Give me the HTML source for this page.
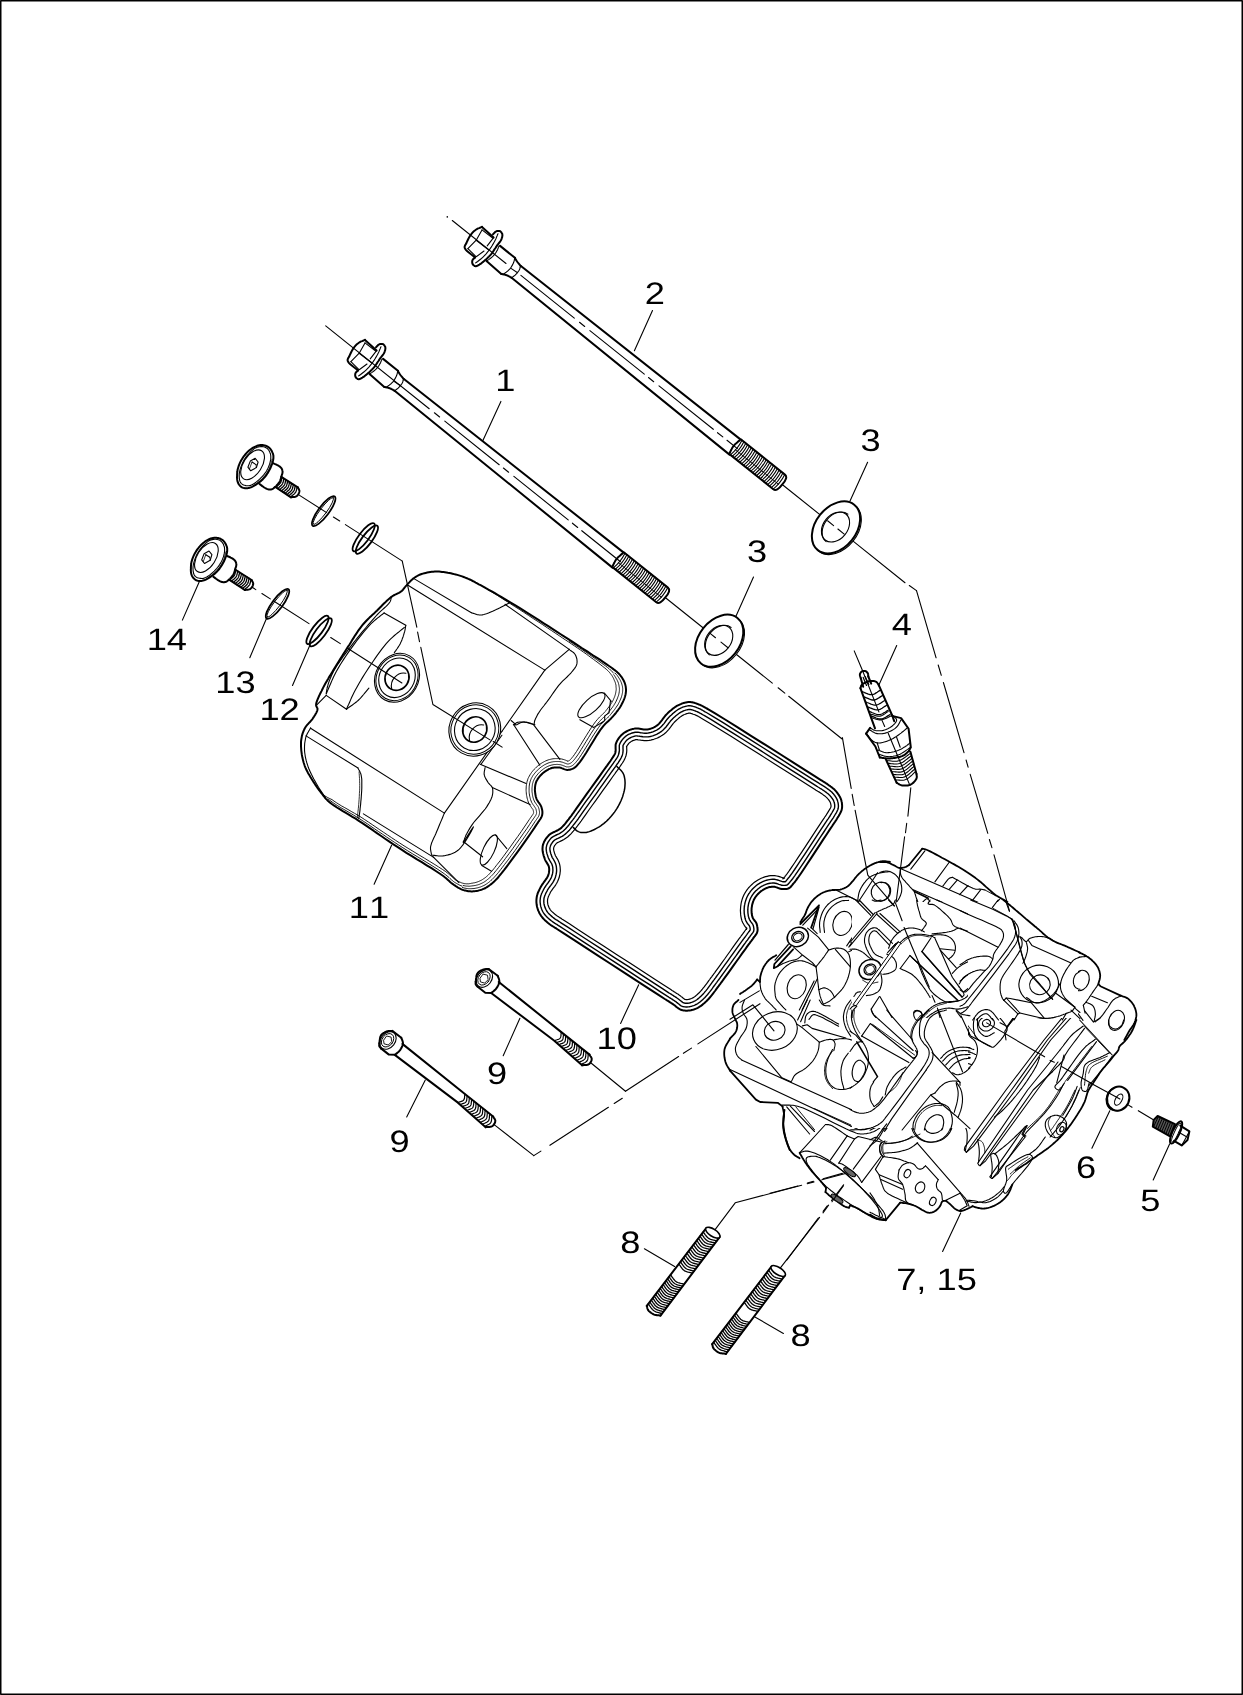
<!DOCTYPE html>
<html><head><meta charset="utf-8"><title>Cylinder head parts diagram</title>
<style>
html,body{margin:0;padding:0;background:#fff}
svg{display:block}
text{font-family:"Liberation Sans",sans-serif;fill:#000;font-kerning:none;-webkit-font-smoothing:antialiased;text-rendering:geometricPrecision}
</style></head><body>
<svg width="1243" height="1695" viewBox="0 0 1243 1695" stroke-linecap="round" stroke-linejoin="round">
<rect x="0" y="0" width="1243" height="1695" fill="#fff"/>
<rect x="0.75" y="0.75" width="1241.5" height="1693.5" fill="none" stroke="#000" stroke-width="1.5"/>
<path d="M405.8 586.1 L406.5 585.4 L407.2 584.6 L407.8 583.9 L408.6 583.1 L409.3 582.4 L410 581.6 L410.8 580.8 L411.6 580.1 L412.3 579.4 L413.1 578.8 L413.8 578.3 L414.4 577.8 L415.1 577.3 L415.8 576.8 L416.5 576.4 L417.2 576 L417.9 575.6 L418.7 575.2 L419.5 574.8 L420.3 574.5 L421.6 574 L422.9 573.6 L424.3 573.2 L425.7 572.9 L427.2 572.6 L428.7 572.3 L430.3 572 L431.8 571.8 L433.3 571.7 L434.8 571.6 L436.3 571.5 L437.7 571.6 L439.1 571.6 L440.6 571.7 L442 571.9 L443.5 572.1 L444.9 572.3 L446.4 572.5 L447.8 572.8 L449.3 573 L450.9 573.3 L452.5 573.7 L454.1 574.1 L455.7 574.5 L457.3 574.9 L458.9 575.4 L460.5 575.9 L462.1 576.4 L463.7 577 L465.3 577.6 L466.8 578.2 L468.3 578.9 L469.8 579.5 L471.2 580.2 L472.7 581 L474.1 581.7 L475.7 582.6 L477.2 583.4 L478.8 584.3 L480.6 585.2 L483.2 586.6 L485.9 588.2 L488.8 589.8 L491.8 591.4 L494.9 593.2 L498 595 L501.2 596.9 L504.5 598.8 L507.8 600.8 L511.1 602.8 L515.4 605.4 L519.9 608.2 L524.6 611.1 L529.3 614.1 L534.1 617.1 L538.9 620.2 L543.7 623.3 L548.3 626.2 L552.8 629.1 L557 631.8 L560.3 634 L563.6 636.1 L566.8 638.1 L569.9 640.2 L573 642.2 L576 644.1 L578.9 646 L581.8 648 L584.7 649.8 L587.6 651.7 L590 653.3 L592.5 655 L595 656.6 L597.5 658.2 L599.9 659.7 L602.3 661.3 L604.5 662.8 L606.7 664.3 L608.7 665.7 L610.5 667 L611.6 667.8 L612.7 668.6 L613.7 669.4 L614.7 670.1 L615.6 670.8 L616.5 671.5 L617.3 672.3 L618.1 673 L618.9 673.8 L619.7 674.6 L620.4 675.5 L621 676.3 L621.7 677.2 L622.3 678.1 L622.8 679.1 L623.4 680 L623.9 681 L624.3 681.9 L624.7 682.9 L625 683.8 L625.3 684.7 L625.5 685.6 L625.7 686.5 L625.8 687.4 L625.9 688.3 L626 689.2 L626 690.1 L626 691.1 L625.9 692 L625.8 693 L625.6 694.2 L625.3 695.4 L625 696.6 L624.6 697.8 L624.1 699.1 L623.6 700.3 L623 701.6 L622.5 702.8 L621.8 704 L621.2 705.2 L620.5 706.5 L619.7 707.8 L618.8 709 L617.9 710.3 L616.9 711.5 L616 712.8 L615 714 L614 715.2 L613 716.3 L612 717.4 L611.1 718.4 L610.3 719.3 L609.4 720.1 L608.5 720.9 L607.6 721.7 L606.7 722.5 L605.8 723.4 L604.9 724.3 L603.9 725.4 L602.9 726.6 L600.8 729.3 L598.6 732.6 L596.2 736.3 L593.7 740.4 L591.2 744.5 L588.6 748.7 L586.2 752.7 L583.9 756.3 L581.8 759.4 L580 761.8 L579.2 762.8 L578.5 763.6 L577.9 764.4 L577.3 765.1 L576.7 765.8 L576.1 766.4 L575.5 766.9 L574.9 767.4 L574.2 767.9 L573.5 768.3 L572.9 768.6 L572.3 768.9 L571.7 769.1 L571.1 769.3 L570.4 769.5 L569.8 769.7 L569.1 769.8 L568.5 769.8 L567.8 769.9 L567.1 769.9 L566.3 769.8 L565.6 769.6 L564.8 769.4 L564 769.1 L563.2 768.7 L562.3 768.4 L561.5 768.1 L560.7 767.8 L559.9 767.6 L559.1 767.5 L558.3 767.4 L557.5 767.4 L556.6 767.4 L555.8 767.4 L555 767.5 L554.2 767.5 L553.4 767.7 L552.6 767.8 L551.8 768 L551 768.3 L550.2 768.6 L549.3 768.9 L548.5 769.3 L547.7 769.8 L546.8 770.3 L546 770.8 L545.2 771.3 L544.5 771.9 L543.7 772.5 L543 773.1 L542.2 773.8 L541.5 774.5 L540.7 775.3 L540 776 L539.3 776.9 L538.7 777.7 L538 778.6 L537.5 779.4 L537 780.3 L536.5 781.1 L536.2 781.9 L535.9 782.7 L535.7 783.5 L535.5 784.3 L535.3 785.1 L535.2 785.9 L535.1 786.7 L535 787.5 L535 788.3 L534.9 789.2 L534.9 790.1 L535 791.1 L535.1 792.1 L535.2 793.1 L535.3 794 L535.5 795 L535.7 796 L535.9 797 L536.2 797.9 L536.5 798.8 L536.9 799.7 L537.4 800.5 L537.9 801.3 L538.4 802.1 L539 802.9 L539.6 803.7 L540.1 804.5 L540.6 805.3 L541 806.1 L541.4 806.9 L541.6 807.7 L541.8 808.5 L542 809.3 L542.2 810.1 L542.3 810.9 L542.4 811.7 L542.4 812.5 L542.4 813.3 L542.3 814.1 L542.2 814.9 L541.9 815.9 L541.6 816.7 L541.2 817.6 L540.7 818.5 L540.1 819.3 L539.5 820.2 L538.9 821.2 L538.1 822.2 L537.4 823.4 L536.5 824.6 L534.4 827.9 L531.6 832 L528.4 836.6 L524.9 841.6 L521.2 846.8 L517.4 852.1 L513.7 857.2 L510.2 861.9 L507.1 866.1 L504.4 869.6 L503 871.3 L501.8 872.9 L500.6 874.3 L499.5 875.7 L498.5 877 L497.4 878.2 L496.4 879.3 L495.3 880.4 L494.2 881.5 L493.1 882.5 L492.2 883.3 L491.2 884.1 L490.3 884.8 L489.3 885.5 L488.4 886.2 L487.4 886.8 L486.5 887.4 L485.5 888 L484.5 888.5 L483.4 888.9 L482.4 889.4 L481.3 889.8 L480.2 890.1 L479 890.4 L477.9 890.7 L476.7 890.9 L475.6 891.1 L474.4 891.2 L473.3 891.3 L472.2 891.4 L471.2 891.4 L470.2 891.3 L469.2 891.3 L468.2 891.2 L467.3 891 L466.3 890.8 L465.4 890.6 L464.4 890.4 L463.5 890.1 L462.5 889.8 L461.5 889.4 L460.5 888.9 L459.6 888.4 L458.6 887.9 L457.6 887.3 L456.7 886.7 L455.7 886.1 L454.8 885.4 L453.8 884.8 L452.9 884.1 L451.9 883.4 L451 882.7 L450.1 881.9 L449.2 881.1 L448.3 880.3 L447.4 879.5 L446.4 878.6 L445.4 877.7 L444.2 876.8 L442.9 875.8 L439.6 873.5 L435.8 871 L431.5 868.2 L426.7 865.3 L421.8 862.2 L416.6 859.1 L411.5 855.9 L406.4 852.8 L401.6 849.7 L397 846.7 L393 844.1 L389 841.4 L385.1 838.7 L381.2 836 L377.3 833.4 L373.5 830.7 L369.8 828.2 L366.1 825.6 L362.4 823.1 L358.8 820.8 L355.6 818.7 L352.4 816.8 L349.2 814.8 L345.9 812.9 L342.8 811.1 L339.7 809.2 L336.9 807.5 L334.2 805.7 L331.8 804 L329.7 802.4 L328.7 801.5 L327.8 800.7 L327 799.9 L326.2 799.1 L325.5 798.3 L324.8 797.5 L324.2 796.7 L323.5 795.8 L322.8 794.9 L322.1 794 L321.2 792.8 L320.3 791.6 L319.3 790.4 L318.4 789.1 L317.4 787.8 L316.5 786.4 L315.6 785.1 L314.7 783.7 L313.8 782.4 L312.9 781 L312.1 779.7 L311.2 778.3 L310.4 777 L309.6 775.6 L308.8 774.3 L308 772.9 L307.3 771.5 L306.5 770.1 L305.9 768.7 L305.3 767.3 L304.7 765.8 L304.2 764.3 L303.7 762.8 L303.3 761.2 L302.9 759.7 L302.5 758.1 L302.2 756.6 L301.9 755 L301.7 753.5 L301.5 752 L301.3 750.6 L301.2 749.2 L301.1 747.7 L301 746.3 L301 744.9 L301 743.5 L301 742.2 L301.1 740.8 L301.3 739.5 L301.5 738.2 L301.7 737.1 L301.9 735.9 L302.2 734.8 L302.6 733.7 L302.9 732.6 L303.3 731.6 L303.8 730.5 L304.2 729.5 L304.7 728.5 L305.3 727.5 L305.9 726.5 L306.6 725.6 L307.4 724.7 L308.2 723.8 L309 722.9 L309.9 722 L310.7 721.1 L311.5 720.2 L312.3 719.3 L312.9 718.3 L313.5 717.4 L314.1 716.5 L314.7 715.5 L315.3 714.6 L315.9 713.6 L316.4 712.6 L316.8 711.7 L317.2 710.8 L317.4 710 L317.5 709.2 L317.5 708.7 L317.4 708.3 L317.2 707.8 L317 707.5 L316.8 707.1 L316.6 706.7 L316.4 706.3 L316.2 705.8 L316.1 705.4 L316.1 704.8 L316.2 703.5 L316.6 702.1 L317.2 700.4 L317.9 698.7 L318.7 696.8 L319.6 694.9 L320.5 693 L321.5 691.1 L322.4 689.2 L323.3 687.4 L324.2 685.7 L325.1 684 L326.1 682.2 L327.1 680.6 L328.1 678.9 L329.1 677.1 L330.2 675.4 L331.2 673.7 L332.3 671.9 L333.4 670.1 L334.8 667.9 L336.2 665.6 L337.6 663.3 L339 661 L340.5 658.6 L342 656.2 L343.5 653.9 L345 651.5 L346.4 649.2 L347.9 646.9 L349.4 644.7 L350.8 642.4 L352.2 640.1 L353.6 637.9 L355 635.6 L356.5 633.4 L357.9 631.2 L359.4 629.1 L360.9 627.1 L362.4 625.2 L363.8 623.5 L365.2 622 L366.6 620.5 L368.1 619 L369.5 617.6 L371 616.2 L372.5 614.8 L374 613.5 L375.4 612.1 L376.9 610.7 L378.3 609.3 L379.8 607.8 L381.3 606.3 L382.7 604.8 L384.2 603.3 L385.7 601.9 L387.1 600.5 L388.6 599.2 L390 598 L391.4 596.9 L392.4 596.2 L393.5 595.5 L394.6 594.9 L395.7 594.4 L396.8 593.8 L397.8 593.3 L398.9 592.8 L399.8 592.3 L400.7 591.7 L401.5 591.1 L402 590.7 L402.5 590.2 L403 589.7 L403.4 589.2 L403.8 588.7 L404.2 588.2 L404.5 587.7 L404.9 587.1 L405.4 586.6Z" fill="#fff" stroke="#000" stroke-width="2" />
<path d="M615.1 673.1 L615.9 673.9 L616.5 674.7 L617.2 675.4 L617.8 676.3 L618.3 677.1 L618.9 677.9 L619.4 678.8 L619.9 679.6 L620.4 680.5 L620.8 681.4 L621.2 682.3 L621.5 683.1 L621.8 684 L622 684.8 L622.2 685.5 L622.4 686.3 L622.5 687.1 L622.6 687.8 L622.7 688.6 L622.7 689.3 L622.7 690.1 L622.7 690.9 L622.6 691.7 L622.5 692.5 L622.3 693.5 L622.1 694.5 L621.8 695.6 L621.5 696.7 L621.1 697.9 L620.6 699.1 L620.1 700.2 L619.6 701.4 L619 702.6 L618.4 703.7 L617.8 704.9 L617 706 L616.2 707.2 L615.4 708.4 L614.5 709.7 L613.6 710.8 L612.6 712 L611.7 713.2 L610.7 714.4 L609.8 715.5 L609 716.3 L608.2 717.1 L607.4 717.9 L606.5 718.7 L605.7 719.5 L604.7 720.3 L603.8 721.3 L602.7 722.3 L601.7 723.5 L600.5 724.8 L598.5 727.6 L596.2 731 L593.7 734.8 L591.2 738.8 L588.7 743 L586.1 747.2 L583.7 751.1 L581.4 754.7 L579.4 757.7 L577.7 760.1 L577 760.9 L576.3 761.7 L575.7 762.5 L575.1 763.1 L574.5 763.7 L574 764.2 L573.6 764.7 L573.1 765.1 L572.6 765.4 L572.1 765.7 L571.6 766 L571.2 766.2 L570.7 766.4 L570.2 766.5 L569.7 766.7 L569.2 766.8 L568.7 766.9 L568.2 766.9 L567.7 766.9 L567.3 766.9 L566.8 766.9 L566.3 766.8 L565.7 766.6 L565 766.3 L564.3 766 L563.4 765.7 L562.5 765.3 L561.5 765 L560.5 764.7 L559.4 764.6 L558.4 764.5 L557.5 764.4 L556.6 764.4 L555.7 764.5 L554.7 764.5 L553.8 764.6 L552.9 764.8 L551.9 765 L551 765.2 L550.1 765.5 L549.1 765.8 L548.1 766.3 L547.2 766.7 L546.2 767.2 L545.3 767.7 L544.4 768.3 L543.5 768.9 L542.7 769.6 L541.8 770.2 L541 770.9 L540.2 771.6 L539.4 772.4 L538.6 773.2 L537.8 774.1 L537.1 775 L536.3 775.9 L535.6 776.9 L535 777.9 L534.4 778.9 L533.9 779.9 L533.5 780.8 L533.1 781.7 L532.9 782.7 L532.6 783.6 L532.4 784.5 L532.3 785.5 L532.2 786.4 L532.1 787.3 L532 788.2 L532 789.2 L532 790.2 L532 791.3 L532.1 792.3 L532.3 793.4 L532.4 794.5 L532.6 795.6 L532.8 796.7 L533.1 797.8 L533.4 798.8 L533.8 799.9 L534.3 801 L534.8 802 L535.4 803 L536.1 803.8 L536.6 804.6 L537.2 805.4 L537.7 806.1 L538.1 806.7 L538.4 807.3 L538.6 807.9 L538.8 808.5 L539 809.2 L539.2 809.9 L539.3 810.6 L539.4 811.2 L539.5 811.9 L539.5 812.5 L539.5 813.1 L539.4 813.7 L539.3 814.3 L539.1 815 L538.9 815.6 L538.6 816.3 L538.2 817 L537.7 817.7 L537.1 818.6 L536.5 819.5 L535.7 820.6 L534.9 821.7 L534.1 823 L531.9 826.3 L529.2 830.3 L526 834.9 L522.5 839.9 L518.8 845.1 L515.1 850.4 L511.4 855.4 L507.9 860.2 L504.7 864.3 L502 867.8 L500.7 869.5 L499.5 871 L498.4 872.5 L497.3 873.8 L496.2 875.1 L495.2 876.2 L494.2 877.3 L493.2 878.4 L492.2 879.4 L491.1 880.3 L490.3 881.1 L489.4 881.8 L488.5 882.5 L487.6 883.2 L486.7 883.8 L485.9 884.4 L485 884.9 L484.1 885.4 L483.2 885.8 L482.3 886.2 L481.4 886.6 L480.4 887 L479.4 887.3 L478.3 887.6 L477.3 887.9 L476.2 888.1 L475.2 888.3 L474.1 888.5 L473.1 888.6 L472.1 888.6 L471.2 888.7 L470.3 888.7 L469.4 888.7 L468.6 888.7 L467.7 888.6 L466.8 888.5 L465.9 888.3 L465 888.2 L464.1 888 L463.3 887.7 L462.4 887.4" fill="none" stroke="#000" stroke-width="0.9" />
<path d="M613.8 674.7 L614.4 675.5 L614.9 676.3 L615.4 677.1 L615.9 677.9 L616.3 678.7 L616.8 679.5 L617.2 680.3 L617.6 681.1 L618 682 L618.3 682.8 L618.5 683.6 L618.7 684.3 L618.9 685 L619 685.7 L619.1 686.4 L619.3 687 L619.3 687.6 L619.4 688.2 L619.4 688.9 L619.4 689.5 L619.4 690.1 L619.4 690.7 L619.3 691.4 L619.2 692 L619.1 692.9 L618.9 693.7 L618.7 694.7 L618.4 695.7 L618 696.7 L617.6 697.8 L617.2 698.9 L616.7 700 L616.2 701.1 L615.7 702.1 L615.1 703.2 L614.4 704.3 L613.7 705.5 L612.9 706.6 L612.1 707.8 L611.2 708.9 L610.3 710.1 L609.4 711.2 L608.4 712.4 L607.5 713.5 L606.8 714.3 L606.1 715 L605.4 715.7 L604.6 716.5 L603.7 717.3 L602.7 718.2 L601.7 719.1 L600.6 720.3 L599.5 721.5 L598.2 723 L596.1 725.9 L593.7 729.4 L591.2 733.2 L588.7 737.3 L586.1 741.5 L583.6 745.6 L581.2 749.5 L579 753.1 L577 756 L575.3 758.3 L574.7 759.1 L574 759.9 L573.4 760.6 L572.9 761.2 L572.4 761.7 L572 762.1 L571.6 762.5 L571.3 762.7 L571 763 L570.6 763.2 L570.3 763.3 L570 763.5 L569.7 763.6 L569.3 763.7 L569 763.8 L568.7 763.9 L568.3 764 L568 764 L567.6 764 L567.4 764 L567.3 764 L567.1 764 L566.7 763.8 L566.1 763.6 L565.4 763.3 L564.5 763 L563.5 762.6 L562.4 762.2 L561.1 761.9 L559.8 761.6 L558.6 761.5 L557.6 761.5 L556.6 761.5 L555.5 761.5 L554.5 761.6 L553.4 761.7 L552.4 761.9 L551.3 762.1 L550.2 762.4 L549.2 762.7 L548 763.1 L546.9 763.6 L545.9 764.1 L544.8 764.6 L543.8 765.2 L542.8 765.9 L541.8 766.5 L540.9 767.2 L540 767.9 L539.1 768.7 L538.2 769.5 L537.3 770.3 L536.5 771.2 L535.6 772.2 L534.8 773.2 L534 774.2 L533.2 775.2 L532.5 776.3 L531.8 777.5 L531.2 778.6 L530.8 779.7 L530.4 780.8 L530 781.9 L529.8 782.9 L529.5 784 L529.4 785 L529.2 786.1 L529.2 787.1 L529.1 788.1 L529.1 789.1 L529.1 790.3 L529.1 791.4 L529.2 792.6 L529.3 793.8 L529.5 795 L529.7 796.2 L530 797.4 L530.3 798.6 L530.6 799.7 L531.1 801 L531.6 802.3 L532.3 803.5 L533 804.6 L533.7 805.5 L534.3 806.4 L534.8 807.1 L535.2 807.7 L535.5 808.2 L535.7 808.5 L535.8 808.9 L536 809.3 L536.2 809.9 L536.3 810.5 L536.4 811.1 L536.5 811.6 L536.5 812.1 L536.6 812.5 L536.5 812.9 L536.5 813.3 L536.5 813.6 L536.3 814.1 L536.2 814.4 L536 814.9 L535.7 815.5 L535.2 816.1 L534.7 816.9 L534.1 817.8 L533.3 818.9 L532.5 820.1 L531.6 821.4 L529.5 824.6 L526.8 828.7 L523.6 833.2 L520.1 838.2 L516.4 843.4 L512.7 848.7 L509 853.7 L505.5 858.4 L502.4 862.6 L499.7 866 L498.4 867.7 L497.2 869.2 L496.1 870.6 L495 871.9 L494 873.2 L493 874.3 L492.1 875.3 L491.1 876.3 L490.2 877.2 L489.2 878.1 L488.4 878.8 L487.5 879.5 L486.7 880.2 L485.9 880.8 L485.1 881.4 L484.3 881.9 L483.5 882.4 L482.7 882.8 L482 883.2 L481.2 883.5 L480.3 883.9 L479.5 884.3 L478.6 884.6 L477.6 884.9 L476.7 885.1 L475.7 885.4 L474.8 885.5 L473.8 885.7 L472.9 885.8 L472 885.9 L471.3 886 L470.5 886.1 L469.7 886.2 L468.9 886.2 L468.1 886.2 L467.3 886.1 L466.5 886.1 L465.7 886 L464.8 885.8 L464 885.7 L463.2 885.5" fill="none" stroke="#000" stroke-width="0.9" />
<path d="M569.3 641.1 L572.3 643.1 L575.3 645.1 L578.3 647.1 L581.2 649 L584 650.9 L586.9 652.8 L589.3 654.5 L591.7 656.2 L594.2 657.9 L596.6 659.6 L599 661.2 L601.2 662.9 L603.4 664.4 L605.5 665.9 L607.4 667.4 L609.2 668.8 L610.2 669.8 L611.2 670.7 L612.1 671.5 L613 672.4 L613.7 673.2" fill="none" stroke="#000" stroke-width="0.9" />
<path d="M461.9 886.1 L461 885.7 L460.1 885.3 L459.1 884.9 L458.2 884.4 L457.2 883.8 L456.3 883.3 L455.3 882.7 L454.3 882.1 L453.4 881.4 L452.6 880.7 L451.7 880 L450.9 879.3 L450 878.5 L449.1 877.6 L448.1 876.8 L447 875.8 L445.7 874.8 L444.3 873.8 L441 871.5 L437.1 868.9 L432.8 866.2 L428 863.2 L423 860.2 L417.9 857 L412.7 853.9 L407.7 850.8 L402.8 847.7 L398.3 844.8 L394.3 842.2 L390.3 839.5 L386.4 836.9 L382.5 834.2 L378.6 831.6 L374.8 829 L371 826.4 L367.3 823.8 L363.6 821.4 L359.9 819 L356.7 817 L353.5 815 L350.2 813.1 L347 811.2 L343.8 809.4 L340.7 807.6 L337.9 805.9 L335.3 804.2 L332.9 802.6 L330.9 801 L329.8 800.3 L328.8 799.6 L327.9 799" fill="none" stroke="#000" stroke-width="0.9" />
<path d="M488.6 590.1 L491.6 591.9 L494.6 593.7 L497.7 595.6 L500.8 597.6 L504 599.7 L507.3 601.7 L510.5 603.8 L514.7 606.5 L519.2 609.3 L523.8 612.3 L528.5 615.4 L533.2 618.5 L538 621.6 L542.7 624.7 L547.3 627.8 L551.7 630.7 L555.9 633.5 L559.2 635.7 L562.4 637.9 L565.6 640 L568.7 642 L571.7 644.1 L574.7 646.1 L577.6 648.1 L580.5 650 L583.3 652 L586.1 653.9 L588.5 655.7 L590.9 657.5 L593.3 659.2 L595.7 661 L598 662.7 L600.2 664.4 L602.3 666.1 L604.3 667.6 L606.2 669.2 L607.8 670.6 L608.8 671.7 L609.7 672.7 L610.5 673.7 L611.2 674.6 L611.9 675.5 L612.4 676.4 L612.9 677.2 L613.3 677.9 L613.7 678.7 L614 679.5 L614.3 680.3 L614.7 681.1 L615 681.8 L615.3 682.6 L615.5 683.4 L615.7 684.1 L615.9 684.9 L616 685.5 L616 686.1 L616 686.7 L616.1 687.2 L616.1 687.7 L616.2 688.2 L616.2 688.7 L616.2 689.1 L616.2 689.6 L616.1 690.1 L616.1 690.6 L616 691.1 L615.9 691.5 L615.8 692.2 L615.7 692.9 L615.5 693.7 L615.3 694.6 L615 695.5 L614.7 696.5 L614.3 697.5 L613.8 698.6 L613.4 699.6 L612.9 700.6 L612.4 701.6 L611.8 702.6 L611.1 703.7 L610.4 704.8 L609.6 705.9 L608.8 707 L607.9 708.1 L607 709.3 L606.1 710.4 L605.3 711.5 L604.6 712.2 L604 712.9 L603.3 713.5 L602.6 714.3 L601.7 715.1 L600.7 716 L599.6 717 L598.5 718.2 L597.3 719.6 L595.9 721.2 L593.7 724.2 L591.3 727.7 L588.8 731.6 L586.2 735.8 L583.6 740 L581.1 744.1 L578.7 748 L576.5 751.5 L574.6 754.3 L573 756.5 L572.4 757.2 L571.8 758 L571.2 758.7 L570.7 759.2 L570.3 759.7 L570 760 L569.7 760.2 L569.5 760.4 L569.4 760.5 L569.2 760.6 L569 760.7 L568.8 760.8 L568.7 760.9 L568.5 760.9 L568.3 761 L568.1 761 L567.9 761 L567.7 761.1 L567.5 761.1 L567.6 761.1 L567.7 761.1 L567.8 761.1 L567.6 761.1 L567.2 760.9 L566.5 760.6 L565.6 760.2 L564.5 759.8 L563.2 759.4 L561.7 759 L560.1 758.7 L558.8 758.6 L557.7 758.6 L556.5 758.6 L555.4 758.6 L554.2 758.7 L553 758.8 L551.8 759 L550.6 759.3 L549.4 759.6 L548.2 759.9 L547 760.4 L545.7 760.9 L544.5 761.5 L543.4 762.1 L542.3 762.7 L541.2 763.4 L540.1 764.1 L539.1 764.9 L538.1 765.7 L537.2 766.5 L536.2 767.3 L535.3 768.3 L534.3 769.2 L533.4 770.2 L532.5 771.3 L531.6 772.4 L530.8 773.6 L530 774.8 L529.3 776.1 L528.6 777.4 L528 778.6 L527.6 779.9 L527.2 781.1 L526.9 782.3 L526.7 783.5 L526.5 784.6 L526.3 785.8 L526.2 786.9 L526.2 788 L526.1 789.1 L526.1 790.3 L526.2 791.6 L526.3 792.9 L526.4 794.2 L526.6 795.5 L526.9 796.8 L527.1 798.1 L527.5 799.3 L527.8 800.6 L528.3 802 L529 803.6 L529.8 805 L530.6 806.2 L531.3 807.3 L531.9 808.1 L532.4 808.8 L532.8 809.3 L533 809.6 L533.1 809.8 L533.1 809.9 L533.2 810.2 L533.3 810.7 L533.4 811.2 L533.5 811.6 L533.6 811.9 L533.6 812.3 L533.6 812.5 L533.6 812.7 L533.6 812.9 L533.6 813 L533.5 813.2 L533.5 813.3 L533.4 813.5 L533.1 813.9 L532.8 814.5 L532.3 815.2 L531.7 816.1 L530.9 817.2 L530.1 818.4 L529.2 819.7 L527 823 L524.3 827 L521.2 831.6 L517.7 836.6 L514 841.7 L510.3 846.9 L506.6 852 L503.2 856.7 L500.1 860.8 L497.4 864.2 L496.1 865.8 L494.9 867.4 L493.8 868.8 L492.7 870.1 L491.8 871.3 L490.8 872.3 L489.9 873.3 L489.1 874.2 L488.2 875.1 L487.3 875.9 L486.5 876.6 L485.7 877.3 L484.9 877.9 L484.2 878.4 L483.4 878.9 L482.7 879.4 L482.1 879.8 L481.4 880.2 L480.7 880.5 L480 880.8 L479.3 881.2 L478.6 881.5 L477.8 881.8 L476.9 882.1 L476.1 882.4 L475.2 882.6 L474.4 882.8 L473.6 882.9 L472.8 883.1 L472 883.2 L471.3 883.3 L470.6 883.5 L469.9 883.6 L469.2 883.7 L468.5 883.8 L467.8 883.8 L467 883.8 L466.3 883.8 L465.5 883.7 L464.8 883.7 L464 883.5 L463.2 883.3 L462.4 883.1 L461.5 882.8 L460.6 882.4 L459.7 882 L458.7 881.5 L457.8 881.1 L456.8 880.6 L455.8 880.1 L454.9 879.4 L454.2 878.8 L453.4 878.1 L452.6 877.4 L451.7 876.6 L450.8 875.8 L449.7 874.9 L448.6 873.9 L447.2 872.8 L445.8 871.7 L442.4 869.4 L438.5 866.9 L434.1 864.1 L429.3 861.2 L424.3 858.1 L419.1 855 L414 851.9 L408.9 848.8 L404 845.8 L399.5 842.9 L395.5 840.3 L391.6 837.7 L387.6 835 L383.7 832.4 L379.8 829.8 L376 827.2 L372.2 824.6 L368.5 822.1 L364.7 819.6 L361.1 817.2 L357.8 815.2 L354.5 813.3 L351.2 811.4 L348 809.5 L344.8 807.7 L341.7 806 L338.9 804.3 L336.3 802.6 L334 801.1 L332 799.6 L330.9 799.1 L329.8 798.6 L328.8 798.1 L327.8 797.6 L326.9 797.1 L326 796.5 L325 796 L324.1 795.4 L323.1 794.7" fill="none" stroke="#000" stroke-width="0.9" />
<path d="M391.4 596.9 L391.2 597.6 L391.1 598.2 L391 598.8 L390.9 599.4 L390.7 600 L390.6 600.6 L390.3 601.3 L389.9 602 L388.9 603.4 L387.6 604.8 L386.1 606.4 L384.3 608 L382.5 609.7 L380.5 611.4 L378.7 613.2 L376.9 615 L374.8 617.3 L372.6 619.8 L370.4 622.3 L368.2 624.9 L366 627.5 L363.8 630.1 L361.6 632.7 L359.5 635.3 L357.6 637.7 L355.7 640 L353.8 642.4 L352 644.8 L350.2 647.1 L348.5 649.4 L346.7 651.8 L345 654.1 L343.5 656.3 L341.9 658.5 L340.3 660.7 L338.8 662.9 L337.3 665 L335.9 667.2 L334.6 669.4 L333.4 671.5 L332.5 673.4 L331.6 675.3 L330.8 677.2 L330 679.1 L329.3 680.9 L328.7 682.7 L328.1 684.4 L327.7 686 L327.4 687 L327.1 688 L327 688.9 L326.8 689.7 L326.7 690.6 L326.5 691.5 L326.4 692.3 L326.2 693.2" fill="none" stroke="#000" stroke-width="1.1" />
<path d="M384.1 612.9 L405.8 625.2" fill="none" stroke="#000" stroke-width="1.1" />
<path d="M405.8 625.2 L405.7 626.1 L405.5 626.9 L405.4 627.8 L405.2 628.7 L405.1 629.6 L404.9 630.5 L404.7 631.4 L404.4 632.4 L404 633.7 L403.6 635.2 L403.1 636.7 L402.5 638.2 L402 639.7 L401.4 641.2 L400.7 642.6 L400.1 644 L399.4 645.2 L398.7 646.3 L398 647.4 L397.3 648.5 L396.5 649.5 L395.8 650.6 L395 651.6 L394.3 652.7" fill="none" stroke="#000" stroke-width="1.1" />
<path d="M384.1 612.9 L382.5 614.2 L380.9 615.4 L379.3 616.7 L377.7 617.9 L376.1 619.2 L374.4 620.6 L372.8 622.1 L371.1 623.7 L368.8 626.1 L366.4 628.8 L364 631.6 L361.6 634.6 L359.2 637.6 L356.8 640.7 L354.5 643.8 L352.3 646.9 L350.1 649.9 L348 652.9 L345.9 656 L343.8 659.1 L341.8 662.2 L339.9 665.3 L338.1 668.4 L336.3 671.5 L334.9 674.3 L333.5 677.1 L332.2 679.9 L331 682.7 L329.8 685.5 L328.6 688.3 L327.4 691.1 L326.2 694" fill="none" stroke="#000" stroke-width="1.1" />
<path d="M404.4 627.3 L402.4 629 L400.4 630.6 L398.4 632.3 L396.4 633.9 L394.4 635.5 L392.4 637.3 L390.4 639.1 L388.5 641.1 L386.2 643.6 L384 646.3 L381.8 649.1 L379.6 652.1 L377.4 655.1 L375.3 658.1 L373.2 661.2 L371.1 664.3 L369 667.4 L366.8 670.7 L364.7 674 L362.6 677.4 L360.6 680.7 L358.7 684 L356.9 687.2 L355.2 690.3 L353.9 692.8 L352.7 695.2 L351.6 697.6 L350.6 699.9 L349.6 702.2 L348.6 704.5 L347.5 706.8 L346.5 709.2" fill="none" stroke="#000" stroke-width="1.1" />
<path d="M326.2 695.4 L346.5 709.2" fill="none" stroke="#000" stroke-width="1.1" />
<path d="M346.5 709.2 L347.9 708.1 L349.4 707 L350.9 706 L352.4 705 L353.8 703.9 L355.3 702.8 L356.7 701.7 L358.1 700.5 L359.5 699.1 L360.9 697.6 L362.2 696.1 L363.6 694.5 L364.9 692.9 L366.2 691.3 L367.6 689.7 L368.9 688.2" fill="none" stroke="#000" stroke-width="1.1" />
<path d="M326.2 695.4 L316.8 704.8" fill="none" stroke="#000" stroke-width="1.1" />
<path d="M413.1 578.1 L471.4 612.7" fill="none" stroke="#000" stroke-width="1.1" />
<path d="M505 604.3 L569.2 649.4" fill="none" stroke="#000" stroke-width="1.1" />
<path d="M408 585.3 L544.8 670.1" fill="none" stroke="#000" stroke-width="1.1" />
<path d="M471.4 612.7 L472.5 613.1 L473.7 613.4 L474.8 613.8 L475.9 614.2 L477 614.6 L478.2 614.8 L479.3 615 L480.6 615 L482.2 614.9 L483.8 614.5 L485.5 614 L487.3 613.4 L489 612.7 L490.8 611.9 L492.6 611.2 L494.3 610.4 L496.2 609.6 L498.1 608.7 L500 607.8 L501.9 606.8 L503.9 605.8 L505.8 604.8 L507.7 603.8 L509.6 602.8" fill="none" stroke="#000" stroke-width="1.1" />
<path d="M569.2 649.4 L570 650.1 L570.9 650.7 L571.7 651.3 L572.6 651.9 L573.4 652.5 L574.1 653.2 L574.8 654 L575.3 654.8 L575.8 655.8 L576.2 656.8 L576.6 658 L576.9 659.2 L577 660.4 L577.1 661.6 L577 662.8 L576.9 663.9 L576.5 665.1 L576 666.3 L575.3 667.4 L574.5 668.6 L573.6 669.7 L572.7 670.8 L571.7 672 L570.8 673.1 L569.6 674.4 L568.3 675.7 L567 677 L565.6 678.3 L564.2 679.6 L562.8 680.9 L561.4 682.3 L560.1 683.8 L558.5 685.7 L556.9 687.8 L555.4 689.9 L553.8 692.1 L552.3 694.3 L550.8 696.5 L549.3 698.6 L547.8 700.6 L546.6 702.3 L545.3 703.9 L544.1 705.5 L542.9 707 L541.7 708.5 L540.6 710 L539.6 711.5 L538.7 712.9 L538 713.9 L537.4 714.9 L536.9 715.9 L536.4 716.9 L535.9 717.9 L535.5 718.8 L535.1 719.7 L534.8 720.5 L534.7 721 L534.5 721.5 L534.4 722 L534.4 722.5 L534.3 722.9 L534.2 723.4 L534.2 723.8 L534.1 724.3" fill="none" stroke="#000" stroke-width="1.1" />
<path d="M569.2 649.4 L544.8 670.1" fill="none" stroke="#000" stroke-width="1.1" />
<path d="M544.8 670.1 L502 731.2" fill="none" stroke="#000" stroke-width="1.1" />
<path d="M511.1 720.5 L515.7 724.3" fill="none" stroke="#000" stroke-width="1.1" />
<path d="M515.7 725.1 L516.7 724.7 L517.6 724.2 L518.5 723.7 L519.5 723.3 L520.4 722.8 L521.4 722.5 L522.4 722.2 L523.4 722 L524.5 722 L525.7 722.2 L527 722.4 L528.2 722.8 L529.5 723.2 L530.8 723.6 L532.1 724 L533.3 724.3" fill="none" stroke="#000" stroke-width="1.1" />
<path d="M533.3 724.3 L559.9 759.4" fill="none" stroke="#000" stroke-width="1.1" />
<path d="M513.4 724.3 L539.8 765.1" fill="none" stroke="#000" stroke-width="1.1" />
<ellipse cx="591.4" cy="705.2" rx="17.3" ry="6.6" transform="rotate(-42 591.4 705.2)" fill="none" stroke="#000" stroke-width="1.1" />
<path d="M604.4 693 L611.3 701.4" fill="none" stroke="#000" stroke-width="1.1" />
<path d="M579.9 719.7 L593.7 727.4 L602.9 722" fill="none" stroke="#000" stroke-width="1.1" />
<path d="M610.5 700.6 L609 712.9 L604.7 715.9 L604.7 720.5 L601.3 723.3" fill="none" stroke="#000" stroke-width="1.1" />
<path d="M310.6 727.8 L310 728.9 L309.4 730 L308.8 731 L308.2 732.1 L307.5 733.2 L307 734.3 L306.5 735.5 L306 736.7 L305.6 738.2 L305.3 739.8 L305 741.5 L304.7 743.3 L304.6 745 L304.5 746.8 L304.5 748.6 L304.5 750.4 L304.7 752.5 L305 754.5 L305.3 756.6 L305.8 758.8 L306.3 760.9 L306.9 763 L307.6 765.1 L308.3 767.3 L309.2 769.6 L310.3 771.9 L311.4 774.3 L312.6 776.7 L313.8 779 L315.1 781.3 L316.3 783.5 L317.5 785.6 L318.5 787.3 L319.5 788.9 L320.5 790.4 L321.5 791.9 L322.5 793.4 L323.5 794.8 L324.5 796.3 L325.5 797.8" fill="none" stroke="#000" stroke-width="1.1" />
<path d="M310.6 728.3 L444.4 813.1" fill="none" stroke="#000" stroke-width="1.1" />
<path d="M306 735.9 L358 768" fill="none" stroke="#000" stroke-width="1.1" />
<path d="M358 768 L358.4 768.9 L358.8 769.7 L359.3 770.5 L359.7 771.3 L360.1 772.2 L360.5 773 L360.8 773.9 L361.1 774.9 L361.3 776.1 L361.5 777.3 L361.7 778.6 L361.8 779.9 L361.8 781.2 L361.8 782.6 L361.8 784.1 L361.8 785.6 L361.8 788 L361.7 790.6 L361.5 793.4 L361.3 796.3 L361.1 799.1 L360.8 801.9 L360.6 804.6 L360.3 807 L360.1 808.6 L360 810.1 L359.8 811.6 L359.6 813 L359.4 814.3 L359.2 815.7 L359 817.1 L358.8 818.5" fill="none" stroke="#000" stroke-width="1.1" />
<path d="M359.1 771.8 L359.2 773.5 L359.3 775.2 L359.4 776.9 L359.5 778.5 L359.6 780.2 L359.6 781.9 L359.7 783.7 L359.7 785.6 L359.7 788.1 L359.6 790.8 L359.4 793.6 L359.3 796.5 L359.1 799.3 L358.9 802.1 L358.7 804.7 L358.5 807 L358.3 808.5 L358.2 809.9 L358 811.2 L357.9 812.4 L357.7 813.7 L357.6 814.9 L357.4 816.1 L357.3 817.4" fill="none" stroke="#000" stroke-width="0.8" />
<path d="M363.4 813.9 L433.7 857.4" fill="none" stroke="#000" stroke-width="1.1" />
<path d="M444.4 813.1 L502 731.2" fill="none" stroke="#000" stroke-width="1.1" />
<path d="M444.4 813.1 L443.4 815.4 L442.5 817.7 L441.5 820.1 L440.5 822.4 L439.5 824.7 L438.6 827 L437.7 829.2 L436.7 831.5 L435.9 833.5 L435 835.5 L434 837.5 L433.1 839.5 L432.3 841.4 L431.5 843.3 L431 845.1 L430.6 846.7 L430.5 847.8 L430.5 848.8 L430.6 849.8 L430.8 850.7 L430.9 851.6 L431.1 852.5 L431.3 853.4 L431.4 854.4" fill="none" stroke="#000" stroke-width="1.1" />
<path d="M431.4 855.1 L432.8 855.3 L434.2 855.4 L435.7 855.6 L437.1 855.8 L438.5 856 L439.9 856 L441.4 856 L442.9 855.9 L444.6 855.7 L446.3 855.3 L448.1 854.9 L450 854.4 L451.7 853.8 L453.5 853.1 L455.1 852.2 L456.6 851.3 L458 850.3 L459.3 849.1 L460.5 847.9 L461.6 846.5 L462.7 845.1 L463.7 843.6 L464.8 842.1 L465.8 840.6 L467 838.8 L468.2 836.7 L469.5 834.5 L470.8 832.2 L471.8 830.2 L472.7 828.5 L473.3 827.3 L473.4 826.9 L473.1 827.3 L472.2 828.5 L471 830.3 L469.6 832.6 L468 835.1 L466.3 837.7 L464.7 840.1 L463.3 842.3" fill="none" stroke="#000" stroke-width="1.1" />
<path d="M432.9 856.7 L458.9 882.7" fill="none" stroke="#000" stroke-width="1.1" />
<path d="M501.9 735.3 L481 764.2" fill="none" stroke="#000" stroke-width="1.1" />
<path d="M480.2 764.2 L526.1 783.6" fill="none" stroke="#000" stroke-width="1.1" />
<path d="M485.1 767.5 L484.9 768.4 L484.8 769.3 L484.6 770.2 L484.4 771.1 L484.2 772 L484.2 772.9 L484.1 773.8 L484.2 774.7 L484.5 775.7 L484.9 776.8 L485.3 777.8 L485.9 778.9 L486.5 779.9 L487.1 780.9 L487.7 781.9 L488.3 782.8 L488.8 783.4 L489.3 784 L489.9 784.6 L490.5 785.1 L491 785.7 L491.5 786.3 L492 786.9 L492.3 787.6 L492.6 788.4 L492.7 789.4 L492.8 790.4 L492.8 791.4 L492.8 792.4 L492.7 793.5 L492.5 794.6 L492.3 795.6 L491.9 797 L491.4 798.3 L490.8 799.7 L490.1 801.1 L489.4 802.5 L488.5 803.9 L487.6 805.4 L486.7 806.9 L485.2 809 L483.4 811.2 L481.5 813.4 L479.5 815.8 L477.5 818.1 L475.5 820.3 L473.7 822.5 L472.2 824.6 L471.2 826.1 L470.2 827.6 L469.3 829.1 L468.5 830.5 L467.7 831.9 L467 833.3 L466.3 834.6 L465.7 835.8 L465.4 836.7 L465 837.6 L464.7 838.4 L464.4 839.2 L464.2 839.9 L463.9 840.7 L463.6 841.5 L463.3 842.3" fill="none" stroke="#000" stroke-width="1.1" />
<path d="M492.3 787.6 L530.1 804.5" fill="none" stroke="#000" stroke-width="1.1" />
<path d="M463.3 841.5 L482.6 856.8" fill="none" stroke="#000" stroke-width="1.1" />
<ellipse cx="488.8" cy="850" rx="16.5" ry="5.6" transform="rotate(-65 488.8 850)" fill="none" stroke="#000" stroke-width="1.1" />
<path d="M495.5 835 L506.8 848.7" fill="none" stroke="#000" stroke-width="1.1" />
<path d="M481.8 865.6 L491.5 871.2" fill="none" stroke="#000" stroke-width="1.1" />
<path d="M514 724.8 L514.4 724.5 L514.8 724.2 L515.1 723.8 L515.5 723.5 L515.9 723.2 L516.3 722.9 L516.7 722.6 L517.2 722.4 L518.2 722.2 L519.3 722 L520.5 722 L521.8 722 L523.1 722 L524.4 722.1 L525.7 722.3 L526.9 722.4 L527.9 722.6 L529 722.9 L530 723.1 L531 723.5 L532 723.8 L532.9 724.2 L533.9 724.5 L534.9 724.8" fill="none" stroke="#000" stroke-width="1.1" />
<ellipse cx="397" cy="677.8" rx="21.5" ry="25.3" transform="rotate(30 397 677.8)" fill="#fff" stroke="#000" stroke-width="1.1" />
<ellipse cx="397" cy="677.8" rx="20.2" ry="23.6" transform="rotate(30 397 677.8)" fill="none" stroke="#000" stroke-width="1" />
<ellipse cx="397" cy="677.8" rx="17.5" ry="20.5" transform="rotate(30 397 677.8)" fill="none" stroke="#000" stroke-width="1.1" />
<ellipse cx="397" cy="677.8" rx="11.8" ry="12.8" transform="rotate(30 397 677.8)" fill="none" stroke="#000" stroke-width="1.7" />
<path d="M391.7 688.7 A11.2 12.2 30 0 1 405.9 673.3" fill="none" stroke="#000" stroke-width="1.1"/>
<ellipse cx="474.8" cy="729.5" rx="25.5" ry="27" transform="rotate(30 474.8 729.5)" fill="#fff" stroke="#000" stroke-width="1.1" />
<ellipse cx="474.8" cy="729.5" rx="23.6" ry="25" transform="rotate(30 474.8 729.5)" fill="none" stroke="#000" stroke-width="1" />
<ellipse cx="474.8" cy="729.5" rx="20" ry="21.3" transform="rotate(30 474.8 729.5)" fill="none" stroke="#000" stroke-width="1.1" />
<ellipse cx="474.8" cy="729.5" rx="11.8" ry="13" transform="rotate(30 474.8 729.5)" fill="none" stroke="#000" stroke-width="1.7" />
<path d="M469.5 740.5 A11.2 12.3 30 0 1 483.7 725" fill="none" stroke="#000" stroke-width="1.1"/>
<path d="M549 923.7 L548.1 923 L547.2 922.2 L546.4 921.5 L545.5 920.7 L544.6 919.9 L543.8 919.1 L543 918.3 L542.3 917.4 L541.6 916.5 L540.9 915.6 L540.4 914.7 L539.8 913.8 L539.3 912.9 L538.9 911.9 L538.4 910.9 L538 910 L537.7 909 L537.4 908 L537.1 907 L536.9 906 L536.7 905 L536.6 904.1 L536.5 903.1 L536.4 902.1 L536.4 901.1 L536.4 900.2 L536.5 899.2 L536.6 898.2 L536.7 897.3 L536.9 896.3 L537.1 895.3 L537.4 894.4 L537.7 893.4 L538.1 892.4 L538.5 891.5 L539 890.5 L539.4 889.6 L539.9 888.6 L540.4 887.6 L540.9 886.7 L541.6 885.5 L542.3 884.4 L543.1 883.3 L543.9 882.1 L544.8 881 L545.6 879.8 L546.4 878.7 L547.1 877.6 L547.7 876.5 L548.2 875.4 L548.4 874.6 L548.7 873.7 L548.9 872.9 L549 872.1 L549.1 871.3 L549.2 870.5 L549.2 869.7 L549.2 868.9 L549.1 868.1 L549 867.4 L548.8 866.5 L548.5 865.7 L548.1 864.9 L547.6 864.2 L547.2 863.4 L546.7 862.6 L546.2 861.8 L545.7 861 L545.3 860.2 L544.9 859.3 L544.6 858.4 L544.3 857.4 L543.9 856.5 L543.6 855.5 L543.4 854.5 L543.1 853.5 L542.9 852.5 L542.7 851.5 L542.6 850.6 L542.5 849.7 L542.5 848.9 L542.5 848.2 L542.6 847.5 L542.6 846.9 L542.7 846.2 L542.8 845.5 L543 844.9 L543.2 844.2 L543.4 843.5 L543.7 842.9 L544 842 L544.4 841.2 L544.9 840.4 L545.4 839.5 L546 838.7 L546.6 837.9 L547.2 837.1 L547.9 836.3 L548.6 835.5 L549.3 834.8 L550.2 834.1 L551.3 833.4 L552.4 832.8 L553.5 832.2 L554.8 831.7 L556 831.1 L557.2 830.5 L558.4 829.9 L559.5 829.2 L560.6 828.4 L561.7 827.4 L562.7 826.4 L563.8 825.2 L564.8 824.1 L565.8 822.9 L566.7 821.7 L567.7 820.4 L568.6 819.3 L569.4 818.2 L570.2 817.1 L570.8 816.4 L571.3 815.8 L571.7 815.2 L572.1 814.6 L572.5 814 L572.9 813.4 L573.4 812.8 L573.9 812.1 L574.4 811.3 L575.1 810.4 L577.2 807.4 L579.9 803.6 L583.1 799.1 L586.6 794.1 L590.3 789 L594 783.8 L597.6 778.8 L600.8 774.3 L603.5 770.5 L605.6 767.6 L606.3 766.6 L606.9 765.8 L607.4 765.1 L607.9 764.5 L608.3 763.9 L608.7 763.3 L609.2 762.7 L609.6 762.1 L610 761.5 L610.5 760.8 L611 760 L611.5 759.3 L612 758.5 L612.6 757.7 L613.1 756.9 L613.6 756.1 L614.1 755.3 L614.6 754.5 L615 753.6 L615.3 752.8 L615.5 751.8 L615.6 750.9 L615.7 749.9 L615.6 749 L615.6 748 L615.6 747 L615.6 746 L615.6 745 L615.8 744 L616.1 743.1 L616.5 742.1 L617 741 L617.6 740 L618.3 738.9 L619 737.9 L619.8 736.9 L620.7 735.9 L621.5 735 L622.4 734.2 L623.3 733.4 L624.3 732.7 L625.3 732.1 L626.4 731.5 L627.5 730.9 L628.6 730.4 L629.8 729.9 L631 729.5 L632.2 729.1 L633.4 728.9 L634.6 728.6 L635.8 728.5 L637.1 728.5 L638.4 728.6 L639.7 728.8 L641.1 729 L642.4 729.2 L643.7 729.4 L645 729.5 L646.3 729.5 L647.5 729.4 L648.5 729.2 L649.5 729 L650.5 728.7 L651.5 728.4 L652.5 728 L653.4 727.6 L654.4 727.1 L655.3 726.6 L656.2 726 L657.1 725.4 L658.2 724.5 L659.1 723.6 L660.1 722.5 L661 721.3 L662 720.1 L662.9 718.8 L663.8 717.6 L664.8 716.4 L665.7 715.2 L666.8 714.1 L667.8 713.1 L668.9 712.1 L670 711.1 L671.1 710.2 L672.2 709.2 L673.3 708.3 L674.5 707.5 L675.7 706.7 L676.8 705.9 L678 705.3 L679.1 704.8 L680.2 704.3 L681.4 703.8 L682.5 703.4 L683.6 703 L684.8 702.7 L685.9 702.4 L687.1 702.2 L688.2 702.1 L689.3 702.1 L690.3 702.1 L691.3 702.2 L692.3 702.3 L693.2 702.6 L694.2 702.8 L695.2 703.1 L696.1 703.4 L697.1 703.8 L698 704.1 L698.9 704.5 L699.9 704.8 L700.7 705.2 L701.5 705.5 L702.2 705.9 L703 706.3 L703.9 706.8 L704.8 707.3 L705.8 707.9 L706.9 708.5 L708.3 709.3 L715.1 713.4 L725.1 719.5 L737.3 727.1 L751 735.8 L765.5 744.9 L779.9 754 L793.4 762.6 L805.2 770.2 L814.7 776.2 L820.9 780.1 L821.9 780.7 L822.7 781.2 L823.4 781.6 L824 782 L824.6 782.3 L825.1 782.7 L825.6 783 L826.1 783.3 L826.7 783.7 L827.3 784.1 L828.1 784.7 L828.9 785.3 L829.8 785.8 L830.6 786.5 L831.5 787.1 L832.3 787.7 L833.1 788.4 L833.9 789.1 L834.7 789.8 L835.4 790.6 L836.1 791.3 L836.7 792.2 L837.4 793 L838 793.9 L838.7 794.8 L839.2 795.7 L839.8 796.6 L840.2 797.5 L840.7 798.5 L841 799.4 L841.3 800.3 L841.5 801.3 L841.8 802.2 L841.9 803.2 L842 804.2 L842.1 805.2 L842.1 806.2 L842.1 807.1 L842 808.1 L841.8 809.1 L841.6 810.1 L841.2 811.1 L840.8 812.1 L840.3 813 L839.8 814 L839.2 815 L838.7 816 L838.1 816.9 L837.5 817.8 L837 818.7 L836.5 819.5 L836.1 820.2 L835.7 820.8 L835.3 821.4 L834.9 822 L834.4 822.7 L833.9 823.3 L833.4 824.1 L832.8 825 L832.2 826 L829.9 829.4 L826.9 834 L823.3 839.4 L819.4 845.4 L815.3 851.6 L811.2 857.9 L807.3 863.8 L803.7 869.2 L800.7 873.7 L798.4 877 L797.7 877.9 L797.2 878.7 L796.7 879.4 L796.2 880.1 L795.7 880.7 L795.3 881.3 L794.9 881.8 L794.5 882.3 L794 882.9 L793.5 883.4 L793.1 884 L792.6 884.5 L792.2 885.1 L791.7 885.6 L791.3 886.2 L790.8 886.7 L790.3 887.2 L789.8 887.6 L789.3 888 L788.7 888.3 L788.2 888.5 L787.6 888.7 L787 888.9 L786.3 889 L785.7 889.1 L785 889.1 L784.4 889.1 L783.7 889.1 L783 889.1 L782.3 889.1 L781.4 889 L780.5 888.7 L779.5 888.5 L778.6 888.1 L777.6 887.8 L776.6 887.4 L775.6 887.1 L774.6 886.8 L773.6 886.7 L772.6 886.7 L771.7 886.7 L770.7 886.9 L769.7 887.1 L768.7 887.3 L767.7 887.6 L766.7 888 L765.7 888.4 L764.8 888.9 L763.9 889.4 L763 889.9 L762.1 890.5 L761.1 891.1 L760.2 891.9 L759.4 892.6 L758.5 893.5 L757.7 894.3 L756.9 895.2 L756.2 896.1 L755.5 897 L754.9 897.9 L754.4 898.8 L753.9 899.7 L753.5 900.7 L753.1 901.6 L752.8 902.6 L752.5 903.6 L752.2 904.6 L752 905.6 L751.9 906.6 L751.7 907.6 L751.6 908.5 L751.6 909.5 L751.5 910.5 L751.6 911.5 L751.6 912.5 L751.7 913.5 L751.9 914.5 L752 915.5 L752.3 916.4 L752.5 917.2 L752.8 918 L753.2 918.6 L753.6 919.3 L754.1 919.9 L754.5 920.5 L755 921.1 L755.5 921.7 L755.9 922.3 L756.3 923 L756.5 923.7 L756.8 924.4 L757 925.2 L757.2 926 L757.3 926.9 L757.5 927.7 L757.5 928.5 L757.6 929.4 L757.6 930.2 L757.5 931 L757.3 931.7 L757.1 932.4 L756.9 933.1 L756.5 933.7 L756.1 934.4 L755.7 935 L755.2 935.6 L754.7 936.3 L754.2 936.9 L753.8 937.5 L753.3 938.1 L752.9 938.8 L752.5 939.4 L752 940 L751.6 940.5 L751.2 941.1 L750.7 941.7 L750.2 942.4 L749.7 943.1 L749.1 943.9 L748.5 944.7 L746.7 947.2 L744.6 950.2 L742 953.7 L739.3 957.5 L736.4 961.5 L733.6 965.4 L730.8 969.3 L728.3 972.8 L726.1 975.8 L724.4 978.2 L723.7 979.1 L723.2 979.8 L722.7 980.5 L722.3 981.1 L721.9 981.7 L721.4 982.2 L721 982.8 L720.6 983.4 L720.1 984.1 L719.5 984.8 L718.6 986.1 L717.6 987.4 L716.5 988.9 L715.4 990.5 L714.2 992 L713 993.6 L711.8 995.2 L710.6 996.6 L709.4 998 L708.3 999.3 L707.3 1000.3 L706.4 1001.2 L705.4 1002.1 L704.5 1003 L703.5 1003.8 L702.6 1004.6 L701.6 1005.4 L700.6 1006.1 L699.6 1006.7 L698.6 1007.3 L697.7 1007.8 L696.7 1008.3 L695.8 1008.7 L694.8 1009.1 L693.8 1009.5 L692.8 1009.8 L691.8 1010 L690.9 1010.3 L689.9 1010.4 L689 1010.6 L688.1 1010.6 L687.3 1010.7 L686.5 1010.7 L685.7 1010.7 L684.9 1010.6 L684.1 1010.5 L683.3 1010.4 L682.5 1010.2 L681.7 1010 L680.9 1009.8 L680.1 1009.4 L679.3 1008.9 L678.4 1008.4 L677.6 1007.8 L676.8 1007.2 L676 1006.6 L675.3 1005.9 L674.5 1005.3 L673.7 1004.7 L672.9 1004.1 L672.1 1003.6 L671.4 1003.2 L670.7 1002.7 L670.1 1002.3 L669.4 1001.9 L668.7 1001.4 L667.9 1000.9 L667 1000.4 L666 999.7 L664.8 999 L658.5 994.9 L649.2 988.8 L637.6 981.4 L624.6 972.9 L610.9 964 L597.2 955.1 L584.2 946.7 L572.7 939.2 L563.4 933.1 L557 929 L555.8 928.2 L554.8 927.6 L553.9 927 L553.1 926.5 L552.4 926.1 L551.7 925.7 L551 925.2 L550.4 924.8 L549.7 924.3Z" fill="none" stroke="#000" stroke-width="2" />
<path d="M551.3 920.8 L550.5 920.1 L549.6 919.4 L548.8 918.7 L548 918 L547.2 917.3 L546.5 916.5 L545.8 915.8 L545.1 915 L544.5 914.3 L544 913.5 L543.5 912.8 L543 912 L542.6 911.2 L542.2 910.4 L541.8 909.5 L541.5 908.7 L541.2 907.8 L540.9 906.9 L540.7 906.1 L540.5 905.2 L540.4 904.4 L540.3 903.6 L540.2 902.8 L540.1 902 L540.1 901.1 L540.1 900.3 L540.2 899.5 L540.3 898.7 L540.4 897.8 L540.5 897.1 L540.7 896.3 L540.9 895.5 L541.2 894.7 L541.5 893.8 L541.9 893 L542.3 892.1 L542.7 891.2 L543.2 890.3 L543.7 889.3 L544.2 888.4 L544.7 887.5 L545.4 886.5 L546.1 885.4 L546.9 884.3 L547.8 883.2 L548.6 882 L549.5 880.7 L550.3 879.4 L551 878.1 L551.6 876.7 L552 875.6 L552.2 874.7 L552.5 873.7 L552.7 872.7 L552.8 871.7 L552.9 870.7 L552.9 869.7 L552.8 868.7 L552.8 867.7 L552.6 866.6 L552.3 865.4 L551.9 864.3 L551.4 863.2 L550.8 862.3 L550.3 861.4 L549.8 860.6 L549.4 859.9 L549 859.2 L548.7 858.6 L548.4 858 L548.1 857.1 L547.8 856.2 L547.5 855.3 L547.2 854.4 L546.9 853.5 L546.7 852.6 L546.5 851.7 L546.4 850.9 L546.3 850.2 L546.2 849.5 L546.2 848.9 L546.2 848.3 L546.2 847.8 L546.3 847.3 L546.4 846.8 L546.5 846.3 L546.6 845.8 L546.7 845.3 L546.9 844.8 L547.1 844.3 L547.4 843.6 L547.7 842.9 L548.1 842.2 L548.5 841.5 L549 840.8 L549.5 840.1 L550 839.4 L550.6 838.7 L551.2 838.1 L551.7 837.6 L552.4 837.1 L553.2 836.6 L554.1 836.1 L555.1 835.6 L556.3 835 L557.6 834.4 L558.9 833.8 L560.2 833.1 L561.6 832.2 L562.9 831.2 L564.2 830.1 L565.4 829 L566.5 827.7 L567.6 826.5 L568.7 825.2 L569.7 823.9 L570.6 822.7 L571.5 821.5 L572.4 820.4 L573.2 819.4 L573.7 818.6 L574.2 818 L574.7 817.3 L575.1 816.7 L575.5 816.1 L576 815.5 L576.4 814.9 L576.9 814.2 L577.4 813.4 L578.1 812.5 L580.2 809.6 L582.9 805.7 L586.1 801.2 L589.7 796.3 L593.3 791.1 L597 785.9 L600.6 781 L603.8 776.5 L606.5 772.7 L608.6 769.7 L609.3 768.8 L609.8 768 L610.4 767.3 L610.8 766.7 L611.3 766 L611.7 765.4 L612.2 764.8 L612.6 764.2 L613.1 763.5 L613.5 762.9 L614 762.1 L614.5 761.4 L615.1 760.6 L615.6 759.8 L616.2 759 L616.8 758.1 L617.4 757.1 L617.9 756.1 L618.4 755 L618.8 753.8 L619.1 752.5 L619.3 751.2 L619.4 750 L619.3 748.9 L619.3 747.8 L619.3 746.9 L619.3 746.1 L619.3 745.4 L619.4 744.9 L619.6 744.4 L619.9 743.6 L620.3 742.8 L620.8 741.9 L621.4 741 L622 740.1 L622.7 739.3 L623.4 738.4 L624.1 737.7 L624.9 737 L625.6 736.4 L626.4 735.8 L627.2 735.2 L628.1 734.7 L629.1 734.2 L630.1 733.8 L631.1 733.4 L632.1 733 L633.2 732.7 L634.2 732.5 L635.1 732.3 L636 732.2 L636.9 732.2 L638 732.3 L639.2 732.4 L640.5 732.7 L641.9 732.9 L643.3 733.1 L644.8 733.2 L646.4 733.2 L648 733.1 L649.3 732.8 L650.5 732.6 L651.6 732.2 L652.8 731.9 L653.9 731.4 L655 730.9 L656.1 730.4 L657.2 729.8 L658.2 729.1 L659.4 728.3 L660.6 727.3 L661.8 726.1 L662.9 724.8 L664 723.6 L664.9 722.3 L665.8 721 L666.7 719.8 L667.6 718.7 L668.5 717.7 L669.4 716.8 L670.4 715.8 L671.4 714.9 L672.4 713.9 L673.5 713 L674.6 712.1 L675.6 711.3 L676.7 710.5 L677.7 709.8 L678.7 709.1 L679.7 708.6 L680.7 708.1 L681.7 707.7 L682.7 707.2 L683.7 706.9 L684.7 706.6 L685.7 706.3 L686.7 706.1 L687.6 705.9 L688.5 705.8 L689.4 705.8 L690.1 705.8 L690.8 705.9 L691.6 706 L692.4 706.1 L693.2 706.4 L694 706.6 L694.9 706.9 L695.8 707.2 L696.7 707.6 L697.6 707.9 L698.5 708.3 L699.2 708.6 L699.9 708.9 L700.6 709.2 L701.3 709.6 L702.1 710 L702.9 710.5 L703.9 711.1 L705.1 711.8 L706.4 712.5 L713.2 716.6 L723.1 722.6 L735.3 730.3 L749.1 738.9 L763.5 748 L777.9 757.2 L791.4 765.8 L803.3 773.3 L812.7 779.3 L818.9 783.2 L819.9 783.9 L820.8 784.4 L821.5 784.8 L822.1 785.2 L822.7 785.5 L823.2 785.8 L823.6 786.1 L824.1 786.4 L824.6 786.7 L825.2 787.2 L826 787.7 L826.8 788.3 L827.6 788.9 L828.4 789.4 L829.2 790 L830 790.6 L830.7 791.2 L831.4 791.8 L832.1 792.4 L832.6 793.1 L833.3 793.7 L833.9 794.5 L834.5 795.2 L835 796 L835.6 796.8 L836.1 797.6 L836.5 798.4 L836.9 799.1 L837.2 799.9 L837.5 800.6 L837.7 801.4 L837.9 802.1 L838.1 802.9 L838.2 803.7 L838.3 804.5 L838.4 805.3 L838.4 806.1 L838.4 806.9 L838.3 807.6 L838.2 808.3 L838 809 L837.8 809.7 L837.4 810.5 L837 811.4 L836.6 812.2 L836.1 813.1 L835.5 814 L834.9 815 L834.4 815.9 L833.8 816.8 L833.4 817.6 L833 818.2 L832.6 818.7 L832.2 819.3 L831.8 819.9 L831.4 820.5 L830.9 821.2 L830.4 822 L829.8 822.9 L829.1 823.9 L826.8 827.4 L823.8 832 L820.2 837.4 L816.3 843.4 L812.2 849.6 L808.1 855.9 L804.2 861.8 L800.6 867.1 L797.6 871.6 L795.3 874.9 L794.7 875.8 L794.1 876.6 L793.6 877.3 L793.2 877.9 L792.8 878.5 L792.4 879 L792 879.5 L791.6 880 L791.2 880.5 L790.7 881 L790.2 881.6 L789.8 882.2 L789.3 882.8 L788.9 883.3 L788.5 883.7 L788.2 884.1 L787.8 884.4 L787.5 884.7 L787.3 884.8 L787.1 885 L786.8 885.1 L786.5 885.2 L786.2 885.3 L785.8 885.3 L785.3 885.4 L784.8 885.4 L784.3 885.4 L783.7 885.4 L783.1 885.4 L782.6 885.4 L782.1 885.3 L781.4 885.2 L780.7 884.9 L779.8 884.6 L778.8 884.3 L777.7 883.9 L776.6 883.5 L775.3 883.2 L774 883 L772.6 883 L771.3 883.1 L770 883.2 L768.8 883.5 L767.6 883.8 L766.5 884.1 L765.3 884.6 L764.2 885 L763.1 885.6 L762.1 886.1 L761 886.7 L760 887.4 L758.9 888.2 L757.9 889 L756.9 889.9 L755.9 890.8 L755 891.8 L754.1 892.8 L753.3 893.8 L752.5 894.9 L751.8 896 L751.2 897 L750.6 898.1 L750.1 899.2 L749.7 900.3 L749.3 901.5 L748.9 902.6 L748.6 903.7 L748.4 904.9 L748.2 906 L748 907.1 L747.9 908.3 L747.9 909.4 L747.8 910.5 L747.9 911.7 L747.9 912.8 L748.1 914 L748.2 915.1 L748.4 916.2 L748.7 917.3 L749 918.4 L749.5 919.5 L750 920.5 L750.6 921.4 L751.1 922.1 L751.6 922.8 L752.1 923.4 L752.5 923.8 L752.7 924.3 L752.9 924.6 L753.1 924.9 L753.2 925.5 L753.4 926.1 L753.6 926.8 L753.7 927.5 L753.8 928.1 L753.9 928.8 L753.9 929.4 L753.9 929.9 L753.8 930.4 L753.7 930.9 L753.7 931.2 L753.5 931.5 L753.3 931.9 L753 932.4 L752.7 932.9 L752.3 933.4 L751.8 934 L751.3 934.6 L750.8 935.3 L750.3 936 L749.8 936.7 L749.4 937.2 L749 937.8 L748.6 938.3 L748.2 938.9 L747.8 939.5 L747.3 940.2 L746.7 940.9 L746.1 941.7 L745.5 942.6 L743.7 945 L741.6 948 L739 951.5 L736.3 955.4 L733.4 959.3 L730.6 963.3 L727.8 967.1 L725.3 970.6 L723.1 973.6 L721.4 976 L720.7 976.9 L720.2 977.7 L719.7 978.3 L719.3 978.9 L718.9 979.5 L718.5 980.1 L718 980.6 L717.6 981.2 L717.1 981.9 L716.6 982.6 L715.6 983.9 L714.6 985.3 L713.5 986.7 L712.4 988.3 L711.3 989.8 L710.1 991.4 L708.9 992.9 L707.8 994.3 L706.7 995.6 L705.6 996.7 L704.7 997.7 L703.8 998.6 L702.9 999.4 L702 1000.2 L701.1 1001 L700.3 1001.7 L699.4 1002.4 L698.5 1003 L697.7 1003.6 L696.8 1004.1 L696 1004.5 L695.2 1004.9 L694.3 1005.3 L693.5 1005.6 L692.6 1005.9 L691.8 1006.2 L690.9 1006.4 L690.1 1006.6 L689.3 1006.8 L688.5 1006.9 L687.9 1006.9 L687.2 1007 L686.5 1007 L685.8 1007 L685.2 1006.9 L684.6 1006.9 L684 1006.8 L683.4 1006.6 L682.8 1006.5 L682.3 1006.3 L681.7 1006.1 L681.1 1005.8 L680.5 1005.4 L679.8 1004.9 L679.1 1004.3 L678.4 1003.7 L677.6 1003.1 L676.7 1002.4 L675.9 1001.7 L674.9 1001.1 L674.1 1000.5 L673.4 1000.1 L672.7 999.6 L672.1 999.2 L671.4 998.8 L670.7 998.3 L669.9 997.8 L669 997.3 L668 996.6 L666.8 995.9 L660.5 991.8 L651.2 985.7 L639.6 978.3 L626.7 969.8 L612.9 960.9 L599.2 952 L586.2 943.6 L574.7 936.1 L565.4 930 L559 925.9 L557.8 925.1 L556.8 924.4 L555.8 923.9 L555 923.4 L554.3 922.9 L553.7 922.5 L553.1 922.2 L552.6 921.8 L552 921.3Z" fill="none" stroke="#000" stroke-width="1.4" />
<path d="M553.6 917.9 L552.8 917.3 L552 916.6 L551.2 915.9 L550.5 915.3 L549.8 914.6 L549.1 913.9 L548.5 913.3 L547.9 912.6 L547.5 912.1 L547 911.5 L546.7 910.9 L546.3 910.2 L545.9 909.5 L545.6 908.8 L545.3 908.1 L545 907.4 L544.7 906.6 L544.5 905.9 L544.3 905.2 L544.1 904.5 L544 903.9 L543.9 903.2 L543.9 902.5 L543.8 901.8 L543.8 901.1 L543.8 900.5 L543.9 899.8 L543.9 899.1 L544 898.4 L544.1 897.8 L544.3 897.2 L544.5 896.6 L544.7 895.9 L545 895.2 L545.3 894.5 L545.6 893.7 L546 892.9 L546.5 892 L547 891.1 L547.4 890.2 L547.9 889.4 L548.4 888.6 L549.1 887.6 L549.9 886.5 L550.8 885.4 L551.7 884.1 L552.6 882.8 L553.5 881.3 L554.4 879.7 L555.1 878 L555.5 876.7 L555.8 875.6 L556.1 874.4 L556.3 873.3 L556.5 872.1 L556.6 870.9 L556.6 869.7 L556.5 868.5 L556.4 867.2 L556.2 865.9 L555.8 864.3 L555.2 862.8 L554.6 861.5 L554 860.4 L553.5 859.5 L553 858.7 L552.5 858 L552.2 857.5 L552 857 L551.8 856.6 L551.6 855.9 L551.3 855.1 L551 854.2 L550.7 853.4 L550.5 852.5 L550.3 851.8 L550.1 851 L550 850.4 L550 849.8 L549.9 849.3 L549.9 848.9 L549.9 848.5 L549.9 848.1 L550 847.7 L550 847.4 L550.1 847.1 L550.2 846.7 L550.3 846.4 L550.4 846 L550.5 845.7 L550.7 845.2 L551 844.6 L551.3 844 L551.7 843.5 L552.1 842.9 L552.5 842.3 L552.9 841.8 L553.4 841.2 L553.8 840.7 L554.2 840.4 L554.6 840.1 L555.1 839.7 L555.8 839.4 L556.7 838.9 L557.9 838.4 L559.1 837.8 L560.5 837.1 L562.1 836.3 L563.7 835.3 L565.2 834.1 L566.7 832.8 L568 831.5 L569.3 830.2 L570.4 828.9 L571.5 827.5 L572.6 826.2 L573.5 824.9 L574.5 823.8 L575.3 822.7 L576.1 821.6 L576.7 820.9 L577.2 820.2 L577.7 819.5 L578.2 818.8 L578.6 818.2 L579 817.6 L579.5 817 L579.9 816.3 L580.5 815.5 L581.1 814.7 L583.2 811.7 L585.9 807.9 L589.1 803.4 L592.7 798.4 L596.4 793.3 L600 788.1 L603.6 783.1 L606.8 778.6 L609.5 774.8 L611.6 771.9 L612.3 771 L612.8 770.2 L613.4 769.5 L613.8 768.9 L614.3 768.2 L614.7 767.6 L615.2 767 L615.7 766.3 L616.1 765.6 L616.6 764.9 L617.1 764.2 L617.6 763.5 L618.1 762.8 L618.7 761.9 L619.3 761 L619.9 760 L620.6 758.9 L621.2 757.7 L621.8 756.4 L622.4 754.9 L622.8 753.2 L623 751.5 L623.1 750 L623 748.8 L623 747.7 L623 746.9 L623 746.2 L623 745.8 L623 745.7 L623 745.6 L623.2 745.2 L623.6 744.5 L624 743.8 L624.4 743.1 L625 742.3 L625.5 741.6 L626.1 740.9 L626.7 740.3 L627.3 739.7 L627.9 739.3 L628.5 738.8 L629.2 738.4 L629.9 738 L630.7 737.6 L631.5 737.2 L632.4 736.9 L633.2 736.6 L634.1 736.3 L635 736.1 L635.7 735.9 L636.2 735.9 L636.8 735.9 L637.6 736 L638.7 736.1 L639.9 736.3 L641.3 736.5 L642.9 736.8 L644.6 736.9 L646.6 736.9 L648.5 736.7 L650 736.5 L651.4 736.2 L652.7 735.8 L654 735.3 L655.3 734.8 L656.6 734.3 L657.8 733.6 L659.1 733 L660.3 732.2 L661.6 731.3 L663.1 730 L664.5 728.6 L665.8 727.2 L666.9 725.8 L667.9 724.5 L668.8 723.2 L669.7 722.1 L670.5 721 L671.2 720.2 L672 719.4 L672.9 718.5 L673.9 717.6 L674.9 716.7 L675.9 715.8 L676.9 715 L677.9 714.2 L678.8 713.5 L679.7 712.9 L680.6 712.3 L681.4 711.8 L682.3 711.5 L683.1 711.1 L684 710.7 L684.9 710.4 L685.7 710.1 L686.6 709.9 L687.4 709.7 L688.1 709.6 L688.8 709.5 L689.4 709.5 L689.9 709.5 L690.3 709.5 L690.9 709.6 L691.5 709.7 L692.2 709.9 L692.9 710.1 L693.7 710.4 L694.5 710.7 L695.4 711 L696.3 711.4 L697.1 711.7 L697.7 712 L698.3 712.2 L698.9 712.5 L699.5 712.9 L700.3 713.3 L701.1 713.7 L702.1 714.3 L703.3 715 L704.5 715.7 L711.3 719.7 L721.2 725.8 L733.4 733.4 L747.1 742 L761.5 751.2 L775.9 760.3 L789.4 768.9 L801.3 776.4 L810.7 782.4 L817 786.4 L818 787 L818.9 787.5 L819.6 788 L820.2 788.4 L820.8 788.7 L821.2 789 L821.7 789.2 L822.1 789.5 L822.5 789.8 L823.1 790.2 L823.9 790.7 L824.7 791.3 L825.5 791.9 L826.3 792.4 L827 793 L827.7 793.5 L828.3 794 L828.9 794.6 L829.4 795 L829.9 795.5 L830.4 796.2 L831 796.8 L831.5 797.5 L832 798.2 L832.5 798.8 L832.9 799.5 L833.3 800.1 L833.6 800.7 L833.8 801.3 L834 801.8 L834.2 802.4 L834.3 803 L834.5 803.6 L834.6 804.2 L834.7 804.9 L834.7 805.5 L834.7 806.1 L834.7 806.6 L834.6 807.2 L834.6 807.6 L834.5 808 L834.3 808.4 L834.1 809 L833.7 809.7 L833.3 810.4 L832.9 811.2 L832.3 812.1 L831.8 813 L831.2 814 L830.6 814.9 L830.2 815.6 L829.9 816.2 L829.5 816.7 L829.2 817.2 L828.8 817.8 L828.4 818.4 L827.9 819.1 L827.3 819.9 L826.7 820.8 L826 821.9 L823.7 825.3 L820.7 829.9 L817.1 835.4 L813.2 841.3 L809.1 847.6 L805 853.8 L801.1 859.7 L797.5 865.1 L794.6 869.5 L792.3 872.8 L791.7 873.7 L791.1 874.5 L790.6 875.2 L790.2 875.8 L789.8 876.3 L789.4 876.8 L789.1 877.2 L788.7 877.7 L788.4 878.1 L787.9 878.6 L787.4 879.3 L786.9 879.9 L786.5 880.4 L786.1 880.9 L785.8 881.2 L785.5 881.5 L785.3 881.7 L785.3 881.7 L785.3 881.7 L785.4 881.6 L785.5 881.6 L785.5 881.6 L785.4 881.6 L785.2 881.7 L785 881.7 L784.6 881.7 L784.3 881.7 L783.8 881.7 L783.3 881.7 L783 881.7 L782.7 881.7 L782.4 881.6 L781.8 881.4 L781 881.1 L780.1 880.8 L778.9 880.4 L777.6 880 L776.1 879.6 L774.3 879.3 L772.5 879.3 L770.9 879.4 L769.4 879.6 L768 879.9 L766.6 880.2 L765.3 880.6 L764 881.1 L762.7 881.7 L761.4 882.3 L760.2 882.9 L759.1 883.6 L757.8 884.4 L756.6 885.3 L755.5 886.2 L754.4 887.2 L753.3 888.2 L752.3 889.3 L751.3 890.4 L750.3 891.6 L749.5 892.8 L748.6 894 L747.9 895.3 L747.3 896.5 L746.7 897.8 L746.2 899.1 L745.8 900.3 L745.4 901.6 L745 902.9 L744.8 904.2 L744.5 905.4 L744.4 906.7 L744.2 908 L744.2 909.3 L744.1 910.5 L744.2 911.8 L744.2 913.1 L744.4 914.4 L744.6 915.7 L744.8 917 L745.1 918.3 L745.5 919.7 L746.1 921.1 L746.8 922.4 L747.5 923.5 L748.2 924.4 L748.7 925.1 L749.2 925.6 L749.4 926 L749.6 926.2 L749.6 926.2 L749.6 926.2 L749.7 926.5 L749.8 927 L750 927.6 L750.1 928.1 L750.1 928.6 L750.2 929 L750.2 929.4 L750.2 929.7 L750.2 929.9 L750.1 930 L750.2 929.9 L750.2 929.9 L750.1 930.1 L749.9 930.3 L749.7 930.7 L749.3 931.2 L748.9 931.7 L748.4 932.4 L747.8 933.2 L747.3 933.9 L746.8 934.6 L746.4 935.1 L746.1 935.6 L745.7 936.1 L745.3 936.7 L744.8 937.3 L744.3 938 L743.8 938.7 L743.2 939.5 L742.5 940.4 L740.7 942.8 L738.5 945.9 L736 949.4 L733.3 953.2 L730.4 957.2 L727.6 961.1 L724.8 964.9 L722.3 968.4 L720.1 971.5 L718.4 973.9 L717.7 974.7 L717.2 975.5 L716.7 976.2 L716.3 976.8 L715.9 977.3 L715.5 977.9 L715.1 978.4 L714.6 979 L714.2 979.6 L713.6 980.4 L712.6 981.7 L711.6 983.1 L710.5 984.6 L709.4 986.1 L708.3 987.6 L707.2 989.1 L706 990.6 L704.9 991.9 L703.9 993.1 L702.9 994.2 L702.1 995.1 L701.2 995.9 L700.3 996.7 L699.5 997.5 L698.7 998.2 L697.9 998.9 L697.2 999.5 L696.4 1000 L695.7 1000.5 L695 1000.9 L694.3 1001.2 L693.6 1001.6 L692.9 1001.9 L692.2 1002.2 L691.5 1002.4 L690.7 1002.7 L690.1 1002.8 L689.4 1003 L688.7 1003.1 L688.1 1003.2 L687.6 1003.3 L687 1003.3 L686.5 1003.3 L686 1003.3 L685.5 1003.3 L685.1 1003.2 L684.7 1003.1 L684.3 1003 L683.9 1002.9 L683.6 1002.9 L683.3 1002.7 L683 1002.6 L682.6 1002.3 L682.1 1001.9 L681.4 1001.4 L680.7 1000.8 L679.9 1000.2 L679 999.5 L678 998.7 L677 998 L676.2 997.4 L675.4 997 L674.7 996.5 L674 996.1 L673.4 995.6 L672.6 995.2 L671.9 994.7 L671 994.1 L670 993.5 L668.8 992.8 L662.5 988.7 L653.2 982.6 L641.7 975.2 L628.7 966.7 L614.9 957.8 L601.2 948.9 L588.2 940.5 L576.7 933 L567.4 926.9 L561 922.8 L559.8 922 L558.7 921.3 L557.8 920.7 L557 920.2 L556.3 919.8 L555.7 919.4 L555.2 919.1 L554.7 918.8 L554.2 918.4Z" fill="none" stroke="#000" stroke-width="1.4" />
<path d="M555.9 915 L555.2 914.4 L554.4 913.8 L553.7 913.1 L553 912.5 L552.3 911.9 L551.7 911.3 L551.2 910.8 L550.8 910.3 L550.4 909.8 L550.1 909.4 L549.8 908.9 L549.5 908.4 L549.2 907.9 L548.9 907.3 L548.7 906.7 L548.4 906.1 L548.2 905.5 L548 904.9 L547.9 904.3 L547.8 903.8 L547.7 903.3 L547.6 902.8 L547.6 902.2 L547.5 901.7 L547.5 901.1 L547.5 900.6 L547.6 900.1 L547.6 899.5 L547.7 899 L547.8 898.5 L547.9 898.1 L548 897.7 L548.2 897.2 L548.4 896.6 L548.7 896 L549 895.3 L549.4 894.5 L549.8 893.7 L550.2 892.8 L550.6 892 L551 891.3 L551.5 890.7 L552.1 889.8 L552.9 888.7 L553.7 887.6 L554.7 886.3 L555.7 884.8 L556.7 883.2 L557.7 881.3 L558.5 879.3 L559.1 877.8 L559.4 876.5 L559.7 875.2 L560 873.8 L560.1 872.5 L560.3 871.1 L560.3 869.6 L560.2 868.2 L560.1 866.8 L559.8 865.1 L559.3 863.2 L558.6 861.4 L557.9 859.8 L557.2 858.6 L556.6 857.6 L556.1 856.7 L555.7 856.1 L555.5 855.7 L555.4 855.5 L555.3 855.3 L555.1 854.7 L554.8 853.9 L554.5 853.1 L554.3 852.3 L554.1 851.6 L553.9 850.9 L553.8 850.3 L553.7 849.8 L553.6 849.4 L553.6 849.1 L553.6 848.9 L553.6 848.6 L553.6 848.4 L553.6 848.2 L553.7 848 L553.7 847.8 L553.7 847.7 L553.8 847.5 L553.9 847.3 L553.9 847.1 L554.1 846.7 L554.3 846.3 L554.5 845.9 L554.8 845.4 L555.1 845 L555.4 844.5 L555.8 844.1 L556.1 843.7 L556.5 843.3 L556.6 843.2 L556.7 843.1 L557 842.9 L557.5 842.6 L558.3 842.2 L559.4 841.7 L560.7 841.1 L562.2 840.4 L563.9 839.5 L565.7 838.3 L567.6 837 L569.2 835.5 L570.7 834.1 L572 832.7 L573.3 831.2 L574.4 829.8 L575.5 828.5 L576.5 827.2 L577.4 826 L578.2 824.9 L579 823.9 L579.6 823.1 L580.2 822.4 L580.7 821.7 L581.2 821 L581.6 820.3 L582.1 819.7 L582.5 819.1 L583 818.4 L583.5 817.7 L584.1 816.8 L586.2 813.9 L588.9 810 L592.1 805.5 L595.7 800.6 L599.4 795.4 L603.1 790.2 L606.6 785.3 L609.8 780.8 L612.5 777 L614.7 774 L615.3 773.1 L615.8 772.4 L616.3 771.7 L616.8 771 L617.3 770.4 L617.7 769.8 L618.2 769.1 L618.7 768.4 L619.2 767.7 L619.7 767 L620.1 766.3 L620.6 765.7 L621.1 764.9 L621.7 764 L622.4 763 L623.1 761.9 L623.8 760.7 L624.5 759.4 L625.2 757.8 L625.9 756 L626.4 753.8 L626.7 751.8 L626.8 750.1 L626.7 748.7 L626.7 747.6 L626.7 746.8 L626.7 746.4 L626.7 746.3 L626.6 746.5 L626.5 746.9 L626.6 746.7 L626.8 746.2 L627.1 745.7 L627.5 745.1 L627.9 744.6 L628.4 744 L628.8 743.4 L629.3 742.9 L629.8 742.5 L630.2 742.2 L630.6 741.9 L631.1 741.5 L631.7 741.2 L632.3 740.9 L632.9 740.6 L633.6 740.3 L634.4 740.1 L635.1 739.9 L635.8 739.7 L636.2 739.6 L636.4 739.6 L636.6 739.6 L637.2 739.6 L638.1 739.8 L639.3 740 L640.7 740.2 L642.4 740.4 L644.4 740.6 L646.7 740.6 L649 740.4 L650.8 740.1 L652.3 739.7 L653.8 739.3 L655.3 738.8 L656.7 738.3 L658.2 737.6 L659.6 736.9 L661 736.1 L662.3 735.3 L663.8 734.2 L665.6 732.8 L667.2 731.1 L668.6 729.6 L669.8 728.1 L670.9 726.7 L671.8 725.4 L672.6 724.3 L673.3 723.4 L674 722.7 L674.6 722 L675.4 721.2 L676.4 720.3 L677.4 719.4 L678.3 718.6 L679.2 717.8 L680.1 717.1 L681 716.5 L681.7 716 L682.4 715.5 L683.2 715.1 L683.8 714.8 L684.6 714.5 L685.3 714.2 L686.1 713.9 L686.8 713.7 L687.5 713.5 L688.1 713.3 L688.6 713.2 L689.1 713.2 L689.5 713.2 L689.6 713.2 L689.9 713.2 L690.2 713.2 L690.6 713.3 L691.1 713.5 L691.8 713.7 L692.4 713.9 L693.2 714.2 L694.1 714.5 L695 714.8 L695.7 715.1 L696.2 715.4 L696.7 715.6 L697.2 715.8 L697.8 716.1 L698.5 716.5 L699.3 716.9 L700.3 717.5 L701.4 718.2 L702.6 718.9 L709.4 722.9 L719.2 728.9 L731.4 736.5 L745.1 745.2 L759.5 754.3 L773.9 763.4 L787.4 772 L799.3 779.5 L808.7 785.6 L815 789.5 L816 790.2 L816.9 790.7 L817.7 791.2 L818.3 791.5 L818.9 791.9 L819.3 792.1 L819.7 792.4 L820 792.6 L820.4 792.9 L821 793.2 L821.8 793.8 L822.6 794.3 L823.3 794.9 L824.1 795.4 L824.8 795.9 L825.4 796.4 L825.9 796.9 L826.4 797.3 L826.8 797.7 L827.2 798 L827.6 798.6 L828.1 799.1 L828.6 799.7 L829 800.3 L829.4 800.9 L829.7 801.4 L830 801.9 L830.2 802.3 L830.4 802.7 L830.5 803 L830.6 803.4 L830.7 803.8 L830.8 804.3 L830.9 804.8 L831 805.2 L831 805.6 L831 806 L831 806.4 L831 806.7 L830.9 806.9 L830.9 806.9 L830.9 807.1 L830.7 807.5 L830.5 808 L830.1 808.6 L829.7 809.4 L829.2 810.2 L828.6 811.1 L828 812.1 L827.4 813.1 L827.1 813.7 L826.7 814.2 L826.4 814.7 L826.1 815.2 L825.8 815.7 L825.3 816.3 L824.8 817 L824.3 817.8 L823.6 818.8 L822.9 819.8 L820.6 823.3 L817.6 827.9 L814 833.3 L810.1 839.3 L806 845.6 L801.9 851.8 L798 857.7 L794.5 863 L791.5 867.4 L789.3 870.7 L788.7 871.5 L788.1 872.3 L787.6 873 L787.2 873.6 L786.8 874.1 L786.5 874.5 L786.2 874.9 L785.9 875.3 L785.5 875.7 L785.1 876.3 L784.6 876.9 L784 877.5 L783.6 878.1 L783.3 878.5 L783 878.8 L782.9 878.9 L782.9 878.9 L783 878.8 L783.3 878.6 L783.8 878.3 L784.2 878.2 L784.4 878.1 L784.6 878 L784.6 878 L784.6 878 L784.5 878 L784.2 878 L783.9 878 L783.4 878 L783.3 878 L783.4 878 L783.4 878 L783 877.9 L782.3 877.7 L781.3 877.3 L780.1 876.9 L778.6 876.4 L776.8 876 L774.7 875.6 L772.4 875.6 L770.5 875.7 L768.8 875.9 L767.2 876.3 L765.6 876.7 L764.1 877.1 L762.6 877.7 L761.2 878.3 L759.8 879 L758.4 879.7 L757.1 880.5 L755.7 881.4 L754.4 882.3 L753.1 883.4 L751.9 884.5 L750.7 885.6 L749.5 886.8 L748.4 888 L747.4 889.3 L746.4 890.7 L745.5 892.1 L744.7 893.5 L743.9 894.9 L743.3 896.3 L742.7 897.8 L742.2 899.2 L741.8 900.6 L741.4 902 L741.1 903.5 L740.9 904.9 L740.7 906.3 L740.6 907.7 L740.5 909.1 L740.4 910.6 L740.5 912 L740.6 913.4 L740.7 914.9 L740.9 916.3 L741.2 917.8 L741.5 919.3 L742 920.9 L742.8 922.7 L743.7 924.3 L744.5 925.6 L745.2 926.6 L745.8 927.4 L746.2 927.9 L746.4 928.1 L746.4 928.1 L746.3 927.8 L746.1 927.5 L746.1 927.6 L746.2 928 L746.3 928.3 L746.4 928.7 L746.4 929 L746.5 929.3 L746.5 929.4 L746.5 929.5 L746.5 929.4 L746.5 929.1 L746.7 928.7 L746.8 928.3 L746.9 928.2 L746.8 928.3 L746.7 928.5 L746.4 928.9 L745.9 929.5 L745.4 930.2 L744.8 931 L744.2 931.8 L743.8 932.5 L743.4 932.9 L743.1 933.4 L742.7 933.9 L742.3 934.5 L741.8 935.1 L741.3 935.7 L740.8 936.5 L740.2 937.3 L739.5 938.2 L737.7 940.7 L735.5 943.7 L733 947.2 L730.3 951 L727.4 955 L724.6 959 L721.8 962.8 L719.3 966.3 L717.1 969.3 L715.4 971.7 L714.8 972.6 L714.2 973.3 L713.7 974 L713.3 974.6 L712.9 975.2 L712.5 975.7 L712.1 976.2 L711.7 976.8 L711.2 977.4 L710.6 978.2 L709.7 979.5 L708.6 980.9 L707.6 982.4 L706.5 983.9 L705.3 985.4 L704.2 986.9 L703.1 988.2 L702.1 989.5 L701.1 990.7 L700.2 991.7 L699.4 992.5 L698.6 993.3 L697.8 994 L697 994.8 L696.3 995.4 L695.6 996 L695 996.5 L694.3 996.9 L693.8 997.3 L693.2 997.7 L692.7 997.9 L692.1 998.2 L691.5 998.5 L690.9 998.7 L690.3 998.9 L689.7 999.1 L689.2 999.3 L688.6 999.4 L688.2 999.5 L687.7 999.5 L687.3 999.6 L686.9 999.6 L686.5 999.6 L686.2 999.6 L685.9 999.6 L685.6 999.5 L685.4 999.5 L685.1 999.5 L685 999.4 L684.9 999.4 L685 999.4 L684.9 999.4 L684.7 999.2 L684.3 998.9 L683.7 998.5 L683 998 L682.2 997.3 L681.3 996.6 L680.2 995.7 L679.1 995 L678.2 994.3 L677.4 993.8 L676.7 993.4 L676 992.9 L675.3 992.5 L674.6 992 L673.8 991.6 L673 991 L672 990.4 L670.8 989.6 L664.5 985.5 L655.2 979.5 L643.7 972.1 L630.7 963.6 L616.9 954.7 L603.2 945.8 L590.2 937.4 L578.7 929.9 L569.4 923.8 L563.1 919.7 L561.8 918.9 L560.7 918.1 L559.7 917.6 L558.9 917.1 L558.2 916.6 L557.7 916.3 L557.3 916 L556.9 915.8 L556.5 915.5Z" fill="none" stroke="#000" stroke-width="1.2" />
<path d="M616.9 766.4 L617.7 767.3 L618.6 768.2 L619.5 769 L620.4 769.8 L621.3 770.7 L622 771.6 L622.7 772.6 L623.3 773.7 L623.9 775 L624.3 776.5 L624.6 778.1 L624.9 779.7 L625 781.4 L625.1 783.1 L625 784.8 L624.9 786.5 L624.7 788.5 L624.3 790.5 L623.8 792.5 L623.2 794.6 L622.6 796.7 L621.8 798.7 L621 800.7 L620.1 802.6 L619.1 804.6 L618.1 806.5 L617 808.4 L615.7 810.3 L614.5 812.1 L613.2 813.8 L611.8 815.5 L610.5 817.1 L609.2 818.5 L607.8 819.9 L606.5 821.2 L605.1 822.4 L603.7 823.6 L602.2 824.7 L600.7 825.8 L599.2 826.8 L597.7 827.7 L596 828.6 L594.4 829.5 L592.7 830.3 L591 831 L589.4 831.6 L587.8 832.1 L586.3 832.4 L585.2 832.5 L584.1 832.6 L583.1 832.6 L582 832.5 L581 832.4 L580.1 832.2 L579.1 831.9 L578.3 831.6 L577.6 831.2 L576.9 830.8 L576.3 830.3 L575.7 829.8 L575.2 829.2 L574.6 828.6 L574 828.1 L573.4 827.6" fill="none" stroke="#000" stroke-width="1.5" />
<path d="M890 861.8 L889.1 861.7 L888.1 861.6 L887.2 861.5 L886.2 861.3 L885.3 861.2 L884.3 861.2 L883.4 861.2 L882.4 861.2 L881.4 861.3 L880.3 861.5 L879.2 861.8 L878.2 862.1 L877.1 862.4 L876 862.8 L875 863.2 L874 863.6 L872.9 864.1 L871.8 864.6 L870.7 865.2 L869.6 865.8 L868.6 866.4 L867.5 867.1 L866.5 867.8 L865.5 868.4 L864.5 869.1 L863.6 869.8 L862.7 870.6 L861.7 871.3 L860.8 872.1 L860 872.9 L859.1 873.7 L858.3 874.5 L857.4 875.3 L856.7 876.2 L855.9 877.2 L855.1 878.1 L854.4 879.1 L853.7 880 L853 880.9 L852.2 881.7 L851.6 882.4 L851 883.1 L850.5 883.7 L849.9 884.3 L849.3 884.9 L848.7 885.5 L848.1 886 L847.4 886.5 L846.6 887 L845.8 887.5 L844.9 887.9 L844 888.3 L843 888.7 L842.1 889 L841.1 889.3 L840.2 889.6 L839.1 889.8 L838.1 889.9 L837 889.9 L835.9 889.9 L834.9 890 L833.8 890 L832.7 890 L831.7 890.2 L830.8 890.3 L829.8 890.5 L828.9 890.7 L828 890.9 L827.1 891.1 L826.2 891.3 L825.4 891.6 L824.5 892 L823.5 892.4 L822.6 892.8 L821.7 893.3 L820.7 893.8 L819.8 894.4 L818.9 895 L818.1 895.6 L817.2 896.2 L816.4 896.9 L815.6 897.6 L814.8 898.3 L814 899 L813.3 899.8 L812.6 900.6 L811.9 901.4 L811.2 902.2 L810.6 903.1 L810 904 L809.4 904.9 L808.8 905.9 L808.3 906.8 L807.8 907.7 L807.4 908.6 L807 909.5 L806.7 910.1 L806.5 910.7 L806.3 911.3 L806.1 911.9 L805.9 912.5 L805.7 913.1 L805.5 913.7 L805.2 914.3 L804.7 915.2 L804.2 916.2 L803.6 917.1 L802.9 918.1 L802.3 919.1 L801.6 920.1 L801 921.2 L800.3 922.1" fill="none" stroke="#000" stroke-width="1.8" />
<path d="M800.3 924 L819 905.3 L811.2 927.6" fill="none" stroke="#000" stroke-width="1.8" />
<path d="M802.8 925.2 L817 910.1" fill="none" stroke="#000" stroke-width="1.2" />
<path d="M819 907.3 L813 928.8" fill="none" stroke="#000" stroke-width="1.2" />
<path d="M811.2 927.6 L817.2 933.6" fill="none" stroke="#000" stroke-width="1.1" />
<ellipse cx="797.8" cy="936.9" rx="10.9" ry="9.4" transform="rotate(-28 797.8 936.9)" fill="#fff" stroke="#000" stroke-width="1.5" />
<ellipse cx="797.8" cy="936.9" rx="6.3" ry="5.2" transform="rotate(-28 797.8 936.9)" fill="none" stroke="#000" stroke-width="1.3" />
<ellipse cx="797.8" cy="936.9" rx="4.5" ry="3.6" transform="rotate(-28 797.8 936.9)" fill="none" stroke="#000" stroke-width="1" />
<path d="M807.6 928.2 L818.4 937.2 L828.7 949.9" fill="none" stroke="#000" stroke-width="1.1" />
<path d="M793.7 947.1 L802.8 955.3 L812.4 962.6 L816 966.8" fill="none" stroke="#000" stroke-width="1.1" />
<path d="M828.7 949.9 L828 950.9 L827.4 951.9 L826.7 952.8 L826 953.8 L825.4 954.8 L824.7 955.8 L824 956.8 L823.3 957.7 L822.4 958.9 L821.5 960 L820.6 961.1 L819.7 962.2 L818.8 963.4 L817.9 964.5 L816.9 965.7 L816 966.8" fill="none" stroke="#000" stroke-width="1.1" />
<path d="M790.7 946.3 L774.4 964 L773.8 968.2 L777.7 966.2 L793.1 949.3" fill="none" stroke="#000" stroke-width="1.8" />
<path d="M788.3 944.5 L775 960.2" fill="none" stroke="#000" stroke-width="1.2" />
<path d="M777.7 966.2 L779 965.6 L780.3 964.9 L781.7 964.3 L783 963.6 L784.4 963 L785.7 962.4 L787 961.9 L788.3 961.4 L789.4 961 L790.5 960.8 L791.6 960.5 L792.7 960.3 L793.8 960.1 L794.8 959.9 L795.8 959.6 L796.7 959.2 L797.5 958.8 L798.2 958.4 L798.9 957.9 L799.5 957.4 L800.2 956.9 L800.8 956.3 L801.5 955.8 L802.1 955.3" fill="none" stroke="#000" stroke-width="1.1" />
<path d="M820.2 932.4 L820.1 931.2 L820 930 L819.9 928.8 L819.7 927.6 L819.6 926.4 L819.5 925.2 L819.6 924 L819.6 922.8 L819.8 921.3 L820.1 919.7 L820.5 918.2 L820.9 916.6 L821.4 915 L822 913.5 L822.6 912 L823.3 910.7 L824 909.5 L824.8 908.3 L825.6 907.2 L826.5 906.1 L827.4 905 L828.4 904 L829.5 903.1 L830.5 902.2 L831.6 901.4 L832.7 900.7 L833.9 900 L835.2 899.3 L836.4 898.7 L837.7 898.2 L838.9 897.8 L840.2 897.4 L841.2 897.1 L842.3 896.9 L843.4 896.8 L844.4 896.7 L845.5 896.6 L846.6 896.6 L847.6 896.7 L848.6 896.8 L849.6 897 L850.5 897.3 L851.4 897.7 L852.3 898.1 L853.2 898.5 L854.1 899 L854.9 899.4 L855.8 899.8" fill="none" stroke="#000" stroke-width="1.1" />
<path d="M824.5 932.4 L824.4 931.2 L824.2 930 L824.1 928.8 L824 927.6 L823.8 926.4 L823.8 925.2 L823.8 923.9 L823.9 922.8 L824 921.5 L824.3 920.3 L824.6 919 L824.9 917.8 L825.4 916.5 L825.8 915.4 L826.3 914.2 L826.9 913.1 L827.5 912.1 L828.1 911.1 L828.8 910.1 L829.6 909.2 L830.4 908.3 L831.2 907.4 L832 906.6 L832.9 905.9 L833.9 905.1 L834.9 904.4 L835.9 903.7 L837 903 L838.1 902.4 L839.2 901.9 L840.3 901.4 L841.4 901 L842.3 900.8 L843.2 900.6 L844.1 900.6 L845 900.5 L845.9 900.5 L846.8 900.5 L847.7 900.5 L848.6 900.4" fill="none" stroke="#000" stroke-width="1.1" />
<path d="M836.5 890.2 L858.9 901.6 L871.5 914.3" fill="none" stroke="#000" stroke-width="1.1" />
<path d="M870.9 914.5 L848.8 947.1" fill="none" stroke="#000" stroke-width="1.1" />
<path d="M868.5 913.3 L846.7 945.9" fill="none" stroke="#000" stroke-width="1.1" />
<ellipse cx="842.6" cy="923.4" rx="9.4" ry="12.3" transform="rotate(20 842.6 923.4)" fill="none" stroke="#000" stroke-width="1.1" />
<ellipse cx="880.6" cy="891.6" rx="9.1" ry="9.9" transform="rotate(35 880.6 891.6)" fill="none" stroke="#000" stroke-width="1.1" />
<path d="M890 871.5 L888.6 871.7 L887.1 871.9 L885.7 872 L884.3 872.2 L882.8 872.4 L881.4 872.7 L880.1 872.9 L878.8 873.3 L877.6 873.6 L876.5 874 L875.4 874.4 L874.3 874.8 L873.3 875.3 L872.2 875.8 L871.3 876.3 L870.3 876.9 L869.5 877.5 L868.6 878.2 L867.9 878.9 L867.1 879.6 L866.4 880.4 L865.7 881.2 L865 882.1 L864.3 882.9 L863.6 883.9 L862.9 884.9 L862.2 885.9 L861.6 887 L861 888.1 L860.4 889.2 L859.9 890.3 L859.5 891.4 L859.1 892.5 L858.8 893.6 L858.6 894.7 L858.4 895.9 L858.2 897 L858 898.1 L857.9 899.3 L857.7 900.4" fill="none" stroke="#000" stroke-width="1.1" />
<path d="M877.6 872.7 L858.9 901" fill="none" stroke="#000" stroke-width="1.1" />
<path d="M828.7 949.9 L829.7 949.7 L830.7 949.4 L831.6 949.1 L832.6 948.8 L833.6 948.5 L834.6 948.3 L835.6 948.2 L836.5 948.1 L837.5 948.1 L838.4 948.1 L839.4 948.2 L840.3 948.3 L841.2 948.4 L842.1 948.7 L843 948.9 L843.8 949.3 L844.5 949.7 L845.2 950.2 L845.9 950.7 L846.5 951.3 L847.1 951.9 L847.7 952.6 L848.2 953.4 L848.6 954.1 L849.1 955.1 L849.4 956.2 L849.7 957.4 L850 958.6 L850.2 959.9 L850.3 961.2 L850.4 962.5 L850.4 963.8 L850.4 965.2 L850.3 966.7 L850.2 968.3 L850 969.8 L849.7 971.3 L849.4 972.9 L849 974.4 L848.6 975.8 L848.2 977.3 L847.7 978.7 L847.1 980.1 L846.6 981.5 L845.9 982.8 L845.2 984.2 L844.5 985.5 L843.8 986.7 L843 987.9 L842.2 989 L841.3 990.1 L840.4 991.2 L839.4 992.2 L838.5 993.2 L837.5 994.2 L836.5 995.2 L835.7 996 L834.8 996.8 L833.9 997.7 L832.9 998.4 L832 999.2 L831.1 999.9 L830.2 1000.6 L829.3 1001.2 L828.5 1001.7 L827.8 1002.1 L827 1002.5 L826.3 1002.8 L825.5 1003.2 L824.8 1003.5 L824 1003.8 L823.3 1004.2" fill="none" stroke="#000" stroke-width="1.1" />
<path d="M816 966.8 L816.2 967.9 L816.3 969 L816.5 970.2 L816.6 971.3 L816.8 972.4 L816.9 973.5 L817.1 974.7 L817.2 975.8 L817.4 977.2 L817.5 978.5 L817.7 979.9 L817.8 981.3 L817.9 982.6 L818.1 984 L818.3 985.4 L818.4 986.7 L818.6 988 L818.8 989.2 L819 990.4 L819.2 991.7 L819.4 992.9 L819.7 994.1 L819.9 995.2 L820.2 996.4 L820.6 997.4 L820.9 998.4 L821.3 999.4 L821.7 1000.4 L822.1 1001.3 L822.5 1002.3 L822.9 1003.2 L823.3 1004.2" fill="none" stroke="#000" stroke-width="1.1" />
<path d="M835.3 949.3 L850.4 966.8" fill="none" stroke="#000" stroke-width="1.1" />
<path d="M818.4 989.7 L819.2 989.5 L820 989.2 L820.7 988.8 L821.5 988.5 L822.2 988.3 L823 988 L823.7 987.9 L824.5 987.9 L825.3 988 L826 988.3 L826.8 988.6 L827.6 988.9 L828.4 989.4 L829.1 989.9 L829.9 990.4 L830.5 990.9 L831.1 991.6 L831.7 992.3 L832.3 993.2 L832.8 994 L833.3 994.9 L833.7 995.8 L834.2 996.7 L834.7 997.6" fill="none" stroke="#000" stroke-width="1.1" />
<path d="M848.6 951.7 L849.5 951.4 L850.4 951 L851.3 950.6 L852.2 950.2 L853.1 949.9 L854 949.6 L854.9 949.4 L855.8 949.3 L856.8 949.4 L857.7 949.5 L858.7 949.7 L859.6 950 L860.5 950.4 L861.4 950.8 L862.3 951.2 L863.1 951.7 L863.8 952.2 L864.5 952.8 L865.1 953.4 L865.7 954 L866.3 954.7 L866.8 955.3 L867.4 955.9 L867.9 956.5 L868.3 957 L868.7 957.5 L869.1 957.9 L869.5 958.4 L869.8 958.8 L870.2 959.3 L870.6 959.7 L870.9 960.2" fill="none" stroke="#000" stroke-width="1.1" />
<path d="M776.2 955.3 L775.4 955.8 L774.7 956.2 L773.9 956.6 L773.1 957 L772.4 957.4 L771.6 957.9 L770.9 958.4 L770.2 959 L769.3 959.7 L768.5 960.5 L767.7 961.3 L766.9 962.2 L766.2 963.2 L765.4 964.2 L764.8 965.2 L764.1 966.2 L763.5 967.3 L763 968.5 L762.4 969.7 L762 971 L761.5 972.3 L761.1 973.5 L760.8 974.7 L760.5 975.8 L760.3 976.7 L760.2 977.4 L760.2 978.2 L760.1 978.9 L760.1 979.7 L760 980.4 L760 981.1 L759.9 981.9" fill="none" stroke="#000" stroke-width="1.8" />
<path d="M759.9 981.9 L757.1 979.5" fill="none" stroke="#000" stroke-width="1.8" />
<path d="M757.1 979.5 L756.7 980.1 L756.2 980.7 L755.8 981.3 L755.3 981.9 L754.8 982.5 L754.3 983.1 L753.8 983.7 L753.3 984.3 L752.6 984.9 L751.9 985.6 L751.2 986.2 L750.4 986.8 L749.6 987.4 L748.8 987.9 L748 988.5 L747.2 989.1 L746.4 989.7 L745.5 990.4 L744.6 991 L743.7 991.6 L742.8 992.2 L741.8 992.8 L740.9 993.3 L740 994" fill="none" stroke="#000" stroke-width="1.8" />
<path d="M759.9 981.9 L760 982.9 L760.1 984 L760.2 985.1 L760.3 986.1 L760.5 987.2 L760.6 988.2 L760.8 989.3 L761.1 990.3 L761.5 991.4 L761.9 992.5 L762.4 993.6 L762.9 994.7 L763.5 995.8 L764.1 996.8 L764.7 997.8 L765.3 998.8 L766 999.6 L766.7 1000.4 L767.5 1001.2 L768.3 1001.9 L769.1 1002.7 L769.9 1003.4 L770.6 1004.1 L771.4 1004.8 L772 1005.5 L772.6 1006.1 L773.2 1006.8 L773.8 1007.4 L774.4 1008.1 L775 1008.7 L775.6 1009.4 L776.2 1010" fill="none" stroke="#000" stroke-width="1.1" />
<path d="M785.9 1010 L785.3 1009.4 L784.6 1008.7 L784 1008.1 L783.4 1007.4 L782.8 1006.8 L782.2 1006.1 L781.6 1005.5 L781 1004.8 L780.4 1004.1 L779.7 1003.4 L779 1002.6 L778.4 1001.9 L777.7 1001.1 L777.1 1000.4 L776.6 999.6 L776.2 998.8 L775.9 998.1 L775.7 997.3 L775.5 996.6 L775.3 995.9 L775.2 995.1 L775.2 994.3 L775.1 993.6 L775 992.7 L774.9 991.8 L774.8 990.7 L774.7 989.7 L774.7 988.6 L774.7 987.5 L774.7 986.5 L774.8 985.4 L775 984.3 L775.2 983.1 L775.6 981.9 L776 980.6 L776.4 979.4 L776.9 978.1 L777.4 976.9 L778 975.7 L778.6 974.6 L779.2 973.6 L779.9 972.6 L780.6 971.7 L781.4 970.8 L782.2 969.9 L783 969 L783.8 968.2 L784.7 967.4 L785.5 966.7 L786.3 966 L787.2 965.3 L788.1 964.7 L789 964.1 L790 963.5 L790.9 963 L791.9 962.6 L792.9 962.2 L793.9 961.8 L795 961.5 L796.1 961.2 L797.2 961 L798.2 960.9 L799.3 960.8 L800.3 960.8 L801.3 960.8 L802.2 960.9 L803.1 961.1 L804 961.3 L804.9 961.6 L805.8 961.9 L806.7 962.2 L807.6 962.6 L808.6 963 L809.7 963.5 L810.7 964 L811.8 964.5 L812.8 965.1 L813.9 965.7 L815 966.3 L816 966.8" fill="none" stroke="#000" stroke-width="1.1" />
<ellipse cx="796.7" cy="986.7" rx="9.2" ry="12.3" transform="rotate(20 796.7 986.7)" fill="none" stroke="#000" stroke-width="1.1" />
<path d="M817.2 978.9 L802.1 1010" fill="none" stroke="#000" stroke-width="1.1" />
<path d="M814.1 980.9 L799.3 1010" fill="none" stroke="#000" stroke-width="1.1" />
<ellipse cx="870" cy="969.2" rx="10.9" ry="9.4" transform="rotate(-28 870 969.2)" fill="#fff" stroke="#000" stroke-width="1.5" />
<ellipse cx="870" cy="969.2" rx="6.3" ry="5.2" transform="rotate(-28 870 969.2)" fill="none" stroke="#000" stroke-width="1.3" />
<ellipse cx="870" cy="969.2" rx="4.5" ry="3.6" transform="rotate(-28 870 969.2)" fill="none" stroke="#000" stroke-width="1" />
<path d="M890 939.6 L889.1 938.5 L888.1 937.4 L887.2 936.2 L886.2 935 L885.3 933.9 L884.3 932.9 L883.4 932 L882.4 931.2 L881.7 930.7 L880.9 930.3 L880.2 929.9 L879.4 929.5 L878.6 929.3 L877.9 929 L877.1 928.9 L876.4 928.8 L875.6 928.7 L874.8 928.8 L874 928.8 L873.2 929 L872.5 929.1 L871.7 929.4 L871 929.7 L870.3 930 L869.7 930.4 L869.1 930.9 L868.5 931.5 L867.9 932.1 L867.4 932.7 L866.9 933.4 L866.5 934.1 L866.1 934.8 L865.8 935.6 L865.5 936.5 L865.3 937.4 L865.1 938.3 L865 939.3 L864.9 940.2 L864.9 941.1 L864.9 942.1 L865 943 L865.1 943.9 L865.2 944.8 L865.5 945.7 L865.7 946.6 L866 947.5 L866.3 948.4 L866.7 949.3 L867.2 950.3 L867.7 951.2 L868.3 952.2 L868.9 953.1 L869.6 954.1 L870.3 954.9 L870.9 955.8 L871.5 956.5 L872 957.1 L872.4 957.6 L872.9 958 L873.4 958.5 L873.8 958.9 L874.3 959.3 L874.7 959.7 L875.2 960.2" fill="none" stroke="#000" stroke-width="1.1" />
<path d="M890 946.9 L888.9 945.6 L887.8 944.3 L886.7 942.9 L885.6 941.6 L884.5 940.3 L883.4 939.1 L882.3 938.1 L881.2 937.2 L880.4 936.7 L879.6 936.2 L878.9 935.8 L878.1 935.4 L877.3 935.2 L876.6 934.9 L875.9 934.8 L875.2 934.8 L874.6 934.9 L874 935.1 L873.4 935.3 L872.9 935.6 L872.3 936 L871.8 936.3 L871.4 936.8 L870.9 937.2 L870.5 937.8 L870.1 938.5 L869.7 939.2 L869.3 940 L869 940.8 L868.8 941.6 L868.6 942.5 L868.5 943.3 L868.5 944.1 L868.6 945 L868.7 946 L868.9 946.9 L869.2 947.8 L869.5 948.7 L869.9 949.6 L870.3 950.5 L870.9 951.5 L871.5 952.4 L872.3 953.3 L873.1 954.2 L873.9 955.1 L874.8 956 L875.6 956.8 L876.4 957.7" fill="none" stroke="#000" stroke-width="1.1" />
<path d="M740 1002.4 L759.3 990.9" fill="none" stroke="#000" stroke-width="1.1" />
<path d="M880 862 L880.9 862 L881.8 862 L882.8 862 L883.7 862 L884.6 862 L885.5 862.1 L886.4 862.2 L887.2 862.3 L888 862.6 L888.8 862.8 L889.6 863.2 L890.3 863.5 L891 863.9 L891.8 864.3 L892.5 864.6 L893.3 865 L894.1 865.4 L894.9 865.8 L895.7 866.3 L896.6 866.8 L897.4 867.2 L898.3 867.6 L899.1 867.9 L899.9 868 L900.7 868.1 L901.5 868 L902.3 867.9 L903.1 867.7 L903.9 867.5 L904.6 867.3 L905.3 867 L905.9 866.8 L906.4 866.6 L906.8 866.4 L907.2 866.2 L907.5 865.9 L907.9 865.7 L908.2 865.5 L908.6 865.2 L909 865" fill="none" stroke="#000" stroke-width="1.8" />
<path d="M909 865 L922.2 848.7" fill="none" stroke="#000" stroke-width="1.8" />
<path d="M922.2 848.7 L922.7 848.8 L923.1 848.9 L923.5 848.9 L923.9 849 L924.3 849.1 L924.8 849.2 L925.3 849.3 L925.9 849.5 L927.7 850.3 L930.1 851.4 L932.8 852.8 L935.8 854.4 L938.9 856 L941.9 857.7 L944.9 859.3 L947.6 860.8 L949.8 862 L952 863.2 L954.2 864.4 L956.3 865.6 L958.4 866.7 L960.4 867.9 L962.5 869.2 L964.5 870.4 L966.4 871.7 L968.3 872.9 L970.2 874.2 L972 875.5 L973.8 876.8 L975.6 878.1 L977.3 879.4 L979 880.7 L980.3 881.8 L981.6 882.8 L982.8 883.9 L984 885 L985.2 886.1 L986.3 887.1 L987.5 888.1 L988.6 889.1 L989.5 889.9 L990.4 890.7 L991.3 891.5 L992.1 892.2 L993 893 L993.9 893.7 L994.8 894.4 L995.8 895.2 L997.2 896.1 L998.7 897 L1000.4 898 L1002 898.9 L1003.7 899.8 L1005.2 900.7 L1006.7 901.6 L1007.9 902.4 L1008.6 902.9 L1009.3 903.4 L1009.9 903.8 L1010.5 904.3 L1011 904.7 L1011.6 905.1 L1012.2 905.6 L1012.7 906" fill="none" stroke="#000" stroke-width="1.8" />
<path d="M924.9 850.8 L910.8 869.2" fill="none" stroke="#000" stroke-width="1.1" />
<path d="M949.4 862 L934.9 881.9" fill="none" stroke="#000" stroke-width="1.1" />
<path d="M900.3 868.6 L992.2 908.4" fill="none" stroke="#000" stroke-width="1.1" />
<path d="M992.2 908.4 L993.3 909 L994.4 909.7 L995.4 910.3 L996.5 910.9 L997.6 911.5 L998.6 912.1 L999.7 912.7 L1000.7 913.3 L1001.6 913.8 L1002.6 914.3 L1003.5 914.8 L1004.5 915.3 L1005.4 915.8 L1006.3 916.3 L1007.1 916.9 L1007.9 917.5 L1008.6 918.1 L1009.3 918.7 L1009.9 919.4 L1010.4 920.1 L1011 920.8 L1011.6 921.5 L1012.2 922.2 L1012.7 922.9" fill="none" stroke="#000" stroke-width="1.1" />
<path d="M993.4 907.8 L1011.5 918.7" fill="none" stroke="#000" stroke-width="0.9" />
<path d="M912.6 889.4 L924.1 894.5 L936.7 900 L949.8 905.6 L962.6 911.2 L974.6 916.4 L985.1 921.1 L993.4 925.1 L998.9 928 L999.7 928.5 L1000.4 928.9 L1001 929.3 L1001.6 929.7 L1002 930 L1002.4 930.4 L1002.7 930.8 L1003.1 931.4 L1003.5 932.1 L1003.8 932.9 L1004 933.8 L1004.2 934.8 L1004.3 935.8 L1004.4 936.7 L1004.4 937.7 L1004.3 938.6 L1004.1 939.6 L1003.7 940.5 L1003.3 941.4 L1002.8 942.4 L1002.3 943.3 L1001.7 944.2 L1001.2 945.2 L1000.7 946.1" fill="none" stroke="#000" stroke-width="1.1" />
<path d="M914.4 891.5 L928.3 898.2" fill="none" stroke="#000" stroke-width="1.6" />
<path d="M942.8 886.1 L943.6 885.1 L944.4 884 L945.3 882.8 L946.2 881.7 L947 880.6 L947.8 879.7 L948.6 878.9 L949.4 878.3 L949.8 878 L950.2 877.9 L950.6 877.7 L950.9 877.6 L951.3 877.6 L951.7 877.5 L952 877.4 L952.4 877.3" fill="none" stroke="#000" stroke-width="1.1" />
<path d="M952.4 877.3 L955.4 878.9 L958.5 880.6 L961.7 882.5 L964.9 884.2 L967.9 885.9 L970.8 887.3 L973.3 888.4 L975.3 889.1 L976.1 889.3 L976.8 889.3 L977.4 889.3 L977.9 889.3 L978.5 889.2 L979 889.1 L979.6 889.1 L980.2 889.1 L980.8 889.2 L981.4 889.3 L982 889.4 L982.6 889.5 L983.2 889.6 L983.8 889.7 L984.4 889.9 L985 890" fill="none" stroke="#000" stroke-width="1.1" />
<path d="M957.2 880.1 L949.4 889.1" fill="none" stroke="#000" stroke-width="1.1" />
<path d="M968.1 885.5 L959.6 894.6" fill="none" stroke="#000" stroke-width="1.1" />
<path d="M980.8 889.7 L972.3 900.6" fill="none" stroke="#000" stroke-width="1.1" />
<path d="M999.5 899.4 L992.2 907.2" fill="none" stroke="#000" stroke-width="1.1" />
<path d="M985 890 L995.8 895.8" fill="none" stroke="#000" stroke-width="0.9" />
<path d="M880 872.2 L880.9 872.1 L881.8 871.8 L882.7 871.6 L883.6 871.4 L884.5 871.2 L885.4 871 L886.3 871 L887.2 871 L888.2 871.2 L889.1 871.4 L890.1 871.7 L891 872.1 L891.9 872.5 L892.8 873 L893.7 873.5 L894.5 874 L895.3 874.7 L896.1 875.4 L896.8 876.2 L897.6 877 L898.2 877.9 L898.9 878.8 L899.4 879.7 L899.9 880.7 L900.4 881.8 L900.8 882.9 L901.1 884.1 L901.4 885.4 L901.6 886.6 L901.7 887.9 L901.8 889.1 L901.7 890.3 L901.6 891.6 L901.3 892.8 L900.9 894.1 L900.5 895.3 L900 896.6 L899.4 897.8 L898.8 898.9 L898.1 900 L897.4 901 L896.6 902.1 L895.7 903.1 L894.8 904 L893.8 904.9 L892.8 905.8 L891.8 906.5 L890.9 907.2 L890 907.8 L889.1 908.3 L888.1 908.7 L887.1 909.1 L886.2 909.4 L885.3 909.7 L884.4 910 L883.6 910.2 L883.1 910.4 L882.6 910.5 L882.2 910.6 L881.7 910.6 L881.3 910.7 L880.9 910.7 L880.4 910.8 L880 910.9" fill="none" stroke="#000" stroke-width="1.1" />
<path d="M880 882.5 L880.8 882.5 L881.6 882.6 L882.3 882.5 L883.1 882.5 L883.9 882.6 L884.7 882.7 L885.4 882.8 L886 883.1 L886.7 883.5 L887.3 884 L888 884.5 L888.6 885.1 L889.1 885.8 L889.6 886.5 L890 887.2 L890.3 887.9 L890.5 888.7 L890.6 889.6 L890.6 890.6 L890.6 891.6 L890.4 892.5 L890.2 893.5 L890 894.4 L889.7 895.2 L889.3 895.9 L888.8 896.6 L888.2 897.3 L887.6 897.9 L886.9 898.5 L886.2 899.1 L885.5 899.6 L884.8 900 L884.3 900.3 L883.7 900.5 L883.1 900.6 L882.5 900.8 L881.8 900.9 L881.2 901 L880.6 901.1 L880 901.2" fill="none" stroke="#000" stroke-width="1.1" />
<path d="M900.3 868.6 L900.4 869.5 L900.4 870.4 L900.4 871.3 L900.4 872.3 L900.5 873.2 L900.6 874.1 L900.8 875 L901.1 875.9 L901.7 876.9 L902.3 878 L903.1 879.1 L904 880.2 L905 881.2 L905.9 882.3 L906.9 883.3 L907.8 884.3 L908.6 885.2 L909.4 886.2 L910.2 887.1 L911.1 888 L911.9 888.9 L912.7 889.8 L913.6 890.6 L914.4 891.5" fill="none" stroke="#000" stroke-width="1.1" />
<path d="M880 913.3 L899.3 931.4" fill="none" stroke="#000" stroke-width="1.1" />
<path d="M880 925.3 L890.9 936.2" fill="none" stroke="#000" stroke-width="1.1" />
<path d="M914.4 891.5 L914.6 892.3 L914.8 893 L915 893.7 L915.3 894.5 L915.5 895.2 L915.7 895.9 L915.9 896.7 L916.2 897.6 L916.6 898.8 L917.2 900.1 L917.7 901.6 L918.3 903 L918.9 904.5 L919.3 905.9 L919.7 907.2 L919.8 908.4 L919.8 909.3 L919.7 910.1 L919.5 910.8 L919.2 911.6 L919 912.3 L918.7 913 L918.6 913.7 L918.6 914.5 L918.7 915.3 L918.9 916.1 L919.1 916.9 L919.4 917.7 L919.7 918.5 L920.1 919.2 L920.6 919.9 L921 920.5 L921.6 921 L922.4 921.4 L923.2 921.8 L924.1 922.1 L924.9 922.4 L925.6 922.7 L926.1 923.1 L926.5 923.5 L926.5 924 L926.5 924.5 L926.3 925.1 L926 925.6 L925.7 926.2 L925.3 926.8 L925 927.3 L924.7 927.7 L924.4 928.1 L924.1 928.4 L923.8 928.7 L923.5 929 L923.2 929.3 L922.9 929.6 L922.5 929.9 L922.2 930.2" fill="none" stroke="#000" stroke-width="1.1" />
<path d="M922.2 902.4 L922.9 901.9 L923.5 901.3 L924.1 900.7 L924.7 900.1 L925.4 899.5 L926 899.1 L926.5 898.8 L927.1 898.8 L927.5 898.9 L928 899.3 L928.5 899.7 L929 900.2 L929.4 900.8 L929.8 901.4 L930 901.9 L930.1 902.4 L930 902.7 L929.8 903.1 L929.5 903.4 L929.1 903.7 L928.7 904 L928.5 904.3 L928.3 904.6 L928.3 904.8 L928.6 905.2 L929.4 905.5 L930.4 905.7 L931.6 906 L933 906.2 L934.3 906.5 L935.6 906.8 L936.7 907.2 L937.8 907.8 L938.9 908.5 L940 909.2 L941.1 909.9 L942.2 910.7 L943.2 911.6 L944.2 912.4 L945.2 913.3 L946 914.1 L946.9 915 L947.8 915.9 L948.6 916.8 L949.4 917.8 L950.1 918.7 L950.7 919.6 L951.2 920.5 L951.5 921.2 L951.6 921.8 L951.7 922.5 L951.7 923.2 L951.8 923.8 L951.9 924.4 L952.1 924.9 L952.4 925.3 L952.8 925.7 L953.4 925.9 L954 926.1 L954.6 926.2 L955.3 926.2 L955.9 926.3 L956.6 926.4 L957.2 926.5" fill="none" stroke="#000" stroke-width="1.1" />
<path d="M957.2 926.5 L956.8 927 L956.4 927.5 L955.9 928 L955.5 928.4 L955.1 928.9 L954.6 929.4 L954.1 929.8 L953.6 930.2 L953 930.6 L952.3 930.9 L951.6 931.3 L950.9 931.6 L950.1 931.8 L949.3 932.1 L948.4 932.3 L947.6 932.6 L946.4 932.8 L945.1 933 L943.7 933.1 L942.3 933.2 L940.8 933.3 L939.4 933.4 L938 933.6 L936.7 933.8 L935.6 934 L934.5 934.3 L933.5 934.6 L932.4 934.9 L931.4 935.2 L930.4 935.6 L929.3 935.9 L928.3 936.2" fill="none" stroke="#000" stroke-width="1.1" />
<path d="M892.1 938.6 L892.8 937.8 L893.5 937.1 L894.2 936.3 L894.9 935.5 L895.7 934.7 L896.4 933.9 L897.2 933.2 L898.1 932.6 L899.2 931.9 L900.3 931.2 L901.5 930.6 L902.7 930 L904 929.5 L905.2 929 L906.5 928.7 L907.8 928.4 L909 928.1 L910.2 928 L911.5 927.9 L912.8 927.9 L914 928 L915.2 928.1 L916.4 928.2 L917.4 928.4 L918.1 928.5 L918.7 928.7 L919.4 928.9 L919.9 929.2 L920.5 929.4 L921.1 929.7 L921.6 929.9 L922.2 930.2" fill="none" stroke="#000" stroke-width="1.1" />
<path d="M889.1 945.8 L889.9 944.9 L890.7 944 L891.5 943 L892.2 942 L893.1 941.1 L893.9 940.2 L894.8 939.4 L895.7 938.6 L896.6 937.9 L897.6 937.3 L898.6 936.7 L899.7 936.1 L900.8 935.6 L901.9 935.2 L903 934.8 L904.1 934.4 L905.4 934 L906.7 933.8 L908 933.5 L909.4 933.3 L910.8 933.2 L912.2 933.1 L913.6 933.1 L915 933.2 L916.6 933.3 L918.4 933.6 L920.2 933.9 L922 934.3 L923.7 934.8 L925.4 935.3 L926.9 935.7 L928.3 936.2 L929 936.5 L929.6 936.9 L930.2 937.2 L930.7 937.6 L931.3 937.9 L931.8 938.2 L932.4 938.5 L933.1 938.6 L934.1 938.6 L935.3 938.4 L936.5 938 L937.8 937.6 L939.1 937.1 L940.3 936.7 L941.6 936.3 L942.8 936.2 L943.7 936.2 L944.7 936.2 L945.6 936.3 L946.6 936.4 L947.5 936.5 L948.4 936.8 L949.2 937 L950 937.4 L950.7 937.8 L951.4 938.3 L952.1 938.9 L952.8 939.5 L953.4 940.1 L954 940.8 L954.4 941.5 L954.8 942.2 L955.1 942.9 L955.3 943.7 L955.5 944.4 L955.6 945.2 L955.6 946 L955.6 946.8 L955.6 947.5 L955.4 948.3 L955.2 948.9 L954.9 949.5 L954.6 950.1 L954.1 950.7 L953.7 951.3 L953.2 951.9 L952.8 952.5 L952.4 953.1" fill="none" stroke="#000" stroke-width="1.1" />
<path d="M887.2 947.7 L888.1 946.7 L889 945.8 L889.9 944.8 L890.7 943.8 L891.6 942.9 L892.5 942 L893.5 941.2 L894.5 940.4 L895.6 939.7 L896.7 939.1 L897.9 938.5 L899.1 937.9 L900.3 937.4 L901.6 937 L902.9 936.6 L904.1 936.2 L905.4 935.9 L906.8 935.6 L908.1 935.4 L909.5 935.2 L910.8 935.1 L912.2 935 L913.6 935 L915 935 L916.5 935.1 L918 935.3 L919.5 935.6 L921 936 L922.5 936.3 L924 936.7 L925.6 937.1 L927.1 937.4" fill="none" stroke="#000" stroke-width="0.9" />
<path d="M931.9 936.8 L922 952.1 L953.6 980" fill="none" stroke="#000" stroke-width="1.1" />
<path d="M923.7 954.3 L951.2 980" fill="none" stroke="#000" stroke-width="1.1" />
<path d="M934.3 938.6 L947.6 968.8 L952.4 980" fill="none" stroke="#000" stroke-width="1.1" />
<path d="M909 955.5 L901.7 967.6 L919.8 980" fill="none" stroke="#000" stroke-width="1.1" />
<path d="M910.2 956.1 L936.7 980" fill="none" stroke="#000" stroke-width="1.1" />
<path d="M952.4 971.2 L953.9 970.1 L955.4 969 L956.9 967.9 L958.4 966.8 L959.9 965.7 L961.4 964.6 L962.9 963.6 L964.5 962.7 L965.9 962 L967.4 961.2 L968.9 960.6 L970.4 959.9 L972 959.3 L973.5 958.8 L975 958.3 L976.5 957.9 L978.1 957.6 L979.7 957.2 L981.3 957 L982.9 956.7 L984.5 956.6 L986 956.5 L987.4 956.6 L988.6 956.7 L989.3 956.9 L990 957.1 L990.6 957.4 L991.2 957.8 L991.7 958.1 L992.3 958.5 L992.8 958.8 L993.4 959.1" fill="none" stroke="#000" stroke-width="1.1" />
<path d="M957.2 980 L958.4 979.2 L959.6 978.4 L960.8 977.5 L961.9 976.7 L963.1 975.9 L964.3 975.1 L965.6 974.3 L966.9 973.6 L968.4 972.9 L970.1 972.1 L971.8 971.5 L973.5 970.8 L975.3 970.2 L977 969.7 L978.6 969.2 L980.2 968.8 L981.3 968.5 L982.4 968.3 L983.4 968.2 L984.5 968 L985.5 967.9 L986.5 967.8 L987.6 967.7 L988.6 967.6" fill="none" stroke="#000" stroke-width="1.1" />
<path d="M940.3 950.7 L954.8 966.4" fill="none" stroke="#000" stroke-width="1.1" />
<path d="M942.8 949.5 L957.2 965.2" fill="none" stroke="#000" stroke-width="1.1" />
<path d="M1011.5 919.3 L1012.2 920.2 L1012.9 921.1 L1013.6 922 L1014.3 922.8 L1014.9 923.7 L1015.5 924.6 L1016 925.6 L1016.4 926.5 L1016.6 927.5 L1016.8 928.6 L1016.9 929.6 L1016.9 930.7 L1016.9 931.7 L1016.8 932.8 L1016.6 933.9 L1016.4 935 L1016 936.3 L1015.4 937.5 L1014.8 938.8 L1014.1 940.1 L1013.2 941.4 L1012.3 942.8 L1011.4 944.3 L1010.3 945.8 L1008.3 948.8 L1005.9 952.2 L1003.2 955.7 L1000.4 959.5 L997.4 963.4 L994.4 967.3 L991.4 971.1 L988.6 974.8" fill="none" stroke="#000" stroke-width="1.1" />
<path d="M1015.2 922.9 L1015.8 924 L1016.5 925 L1017.2 926 L1017.9 927.1 L1018.6 928.1 L1019.2 929.2 L1019.7 930.3 L1020 931.4 L1020.2 932.5 L1020.3 933.6 L1020.3 934.8 L1020.2 935.9 L1020 937.1 L1019.7 938.4 L1019.3 939.7 L1018.8 941 L1017.4 943.6 L1015.5 946.5 L1013.1 949.6 L1010.5 952.8 L1007.8 956.1 L1005.1 959.3 L1002.7 962.3 L1000.7 965.2 L999.4 967.1 L998.3 969.1 L997.2 970.9 L996.2 972.8 L995.2 974.6 L994.2 976.4 L993.3 978.2 L992.2 980" fill="none" stroke="#000" stroke-width="1.1" />
<path d="M1024.8 938.6 L1025 939.5 L1025.3 940.3 L1025.6 941.2 L1025.8 942 L1026.1 942.9 L1026.2 943.8 L1026.2 944.8 L1026 945.8 L1025 948.5 L1023 951.8 L1020.5 955.4 L1017.6 959.2 L1014.5 963 L1011.5 966.5 L1008.8 969.8 L1006.7 972.4 L1005.8 973.6 L1005 974.6 L1004.2 975.6 L1003.5 976.5 L1002.8 977.4 L1002.1 978.2 L1001.4 979.1 L1000.7 980" fill="none" stroke="#000" stroke-width="1.1" />
<path d="M1000.7 946.1 L999.8 947.2 L998.8 948.3 L997.9 949.4 L996.9 950.4 L996 951.5 L995.1 952.7 L994.3 954 L993.4 955.5 L992.3 958 L991.3 960.7 L990.4 963.8 L989.6 967 L988.7 970.3 L987.9 973.6 L987.1 976.9 L986.2 980" fill="none" stroke="#000" stroke-width="1.1" />
<path d="M1030 939.2 L1029.6 939.4 L1029.1 939.6 L1028.7 939.8 L1028.2 940 L1027.8 940.2 L1027.4 940.4 L1027 940.4 L1026.6 940.4 L1026.4 940.3 L1026.1 940.2 L1025.9 940 L1025.7 939.8 L1025.5 939.5 L1025.3 939.2 L1025 938.9 L1024.8 938.6 L1024.4 937.9 L1023.9 937.1 L1023.5 936.2 L1023 935.3 L1022.6 934.3 L1022.1 933.2 L1021.7 932.3 L1021.2 931.4 L1020.7 930.6 L1020.3 929.8 L1019.9 929.1 L1019.4 928.3 L1018.9 927.6 L1018.5 926.8 L1018 926.1 L1017.6 925.3" fill="none" stroke="#000" stroke-width="1.1" />
<path d="M882.4 970 L899.9 942.8" fill="none" stroke="#000" stroke-width="1.6" />
<path d="M880 966.4 L898.1 942.2" fill="none" stroke="#000" stroke-width="1.6" />
<path d="M884.8 971.2 L901.1 945.8" fill="none" stroke="#000" stroke-width="1" />
<path d="M880 974.8 L887.2 965.2" fill="none" stroke="#000" stroke-width="1.4" />
<path d="M887.2 965.2 L887.8 964.8 L888.4 964.5 L889 964.1 L889.6 963.7 L890.2 963.4 L890.8 963.1 L891.5 962.9 L892.1 962.7 L892.7 962.7 L893.3 962.7 L894 962.8 L894.7 962.9 L895.3 963.1 L895.9 963.3 L896.5 963.6 L896.9 964 L897.3 964.4 L897.6 964.9 L897.8 965.5 L898.1 966.2 L898.2 966.9 L898.3 967.5 L898.2 968.2 L898.1 968.8 L897.8 969.5 L897.2 970.2 L896.5 970.8 L895.7 971.5 L894.8 972.1 L893.9 972.7 L892.9 973.2 L892.1 973.6 L891.2 973.9 L890.4 974.1 L889.5 974.3 L888.5 974.4 L887.6 974.5 L886.7 974.6 L885.7 974.7 L884.8 974.8" fill="none" stroke="#000" stroke-width="1.1" />
<path d="M1012.1 905.7 L1014.4 907.5 L1016.7 909.3 L1019 911.2 L1021.4 913 L1023.7 914.9 L1025.9 916.7 L1028.1 918.4 L1030.2 920.2 L1031.8 921.6 L1033.4 923 L1034.9 924.4 L1036.4 925.7 L1037.9 927.1 L1039.3 928.4 L1040.8 929.7 L1042.2 931 L1043.6 932.2 L1045 933.5 L1046.3 934.7 L1047.7 935.9 L1049 937 L1050.4 938.1 L1051.7 939.1 L1053.1 940.1 L1054.3 940.8 L1055.5 941.5 L1056.6 942.1 L1057.8 942.6 L1059 943.2 L1060.2 943.7 L1061.4 944.3 L1062.8 944.9 L1064.4 945.7 L1066.2 946.5 L1068.1 947.4 L1070 948.2 L1071.9 949.1 L1073.8 949.9 L1075.5 950.7 L1077.2 951.5 L1078.6 952.2 L1079.8 952.8 L1081.1 953.3 L1082.3 953.9 L1083.5 954.5 L1084.7 955.1 L1085.8 955.7 L1086.9 956.4 L1087.9 957 L1088.9 957.8 L1089.8 958.5 L1090.8 959.2 L1091.7 960 L1092.5 960.8 L1093.4 961.6 L1094.1 962.4 L1094.8 963.1 L1095.4 963.8 L1096 964.6 L1096.5 965.3 L1097 966.1 L1097.5 966.8 L1098 967.6 L1098.4 968.4 L1098.7 969.3 L1099.1 970.2 L1099.4 971 L1099.6 971.9 L1099.8 972.9 L1100 973.8 L1100.1 974.7 L1100.2 975.7 L1100.1 976.7 L1100 977.7 L1099.8 978.8 L1099.5 979.9 L1099.2 980.9 L1098.9 982 L1098.6 983.1 L1098.4 984.1" fill="none" stroke="#000" stroke-width="1.8" />
<path d="M1098.4 984.1 L1100.4 986.2 L1120.7 995.6" fill="none" stroke="#000" stroke-width="1.8" />
<path d="M1120.7 995.6 L1121.6 995.9 L1122.5 996.3 L1123.5 996.6 L1124.4 996.9 L1125.3 997.2 L1126.2 997.6 L1127.1 998.1 L1127.9 998.6 L1128.8 999.3 L1129.6 1000.1 L1130.5 1001 L1131.3 1001.9 L1132 1002.8 L1132.7 1003.8 L1133.4 1004.8 L1134 1005.8 L1134.4 1006.8 L1134.9 1007.9 L1135.3 1008.9 L1135.6 1010 L1135.9 1011.1 L1136.1 1012.1 L1136.3 1013.2 L1136.4 1014.3 L1136.4 1015.4 L1136.3 1016.4 L1136.1 1017.5 L1135.9 1018.6 L1135.6 1019.6 L1135.3 1020.7 L1135 1021.7 L1134.6 1022.7 L1134 1023.8 L1133.4 1024.9 L1132.8 1025.9 L1132 1027 L1131.3 1028 L1130.5 1029.1 L1129.8 1030.1 L1129.1 1031.2 L1128.5 1032.3 L1127.9 1033.4 L1127.3 1034.5 L1126.7 1035.6 L1126.1 1036.7 L1125.5 1037.8 L1124.9 1038.9 L1124.3 1040" fill="none" stroke="#000" stroke-width="1.8" />
<path d="M1086.9 956.4 L1085.8 956.5 L1084.7 956.6 L1083.7 956.7 L1082.6 956.8 L1081.5 956.9 L1080.5 957 L1079.4 957.3 L1078.4 957.6 L1077.5 958 L1076.5 958.5 L1075.5 959 L1074.6 959.6 L1073.7 960.2 L1072.8 960.9 L1072 961.6 L1071.2 962.4 L1070.3 963.4 L1069.5 964.5 L1068.7 965.7 L1067.9 966.9 L1067.2 968.2 L1066.5 969.5 L1065.8 970.8 L1065.2 972.1 L1064.6 973.2 L1064 974.4 L1063.4 975.6 L1062.9 976.8 L1062.5 978.1 L1062.1 979.3 L1061.7 980.5 L1061.5 981.7 L1061.4 982.9 L1061.4 984.1 L1061.5 985.4 L1061.6 986.6 L1061.8 987.8 L1062.1 989 L1062.4 990.2 L1062.8 991.4 L1063.2 992.5 L1063.7 993.6 L1064.2 994.7 L1064.9 995.7 L1065.5 996.8 L1066.2 997.8 L1066.9 998.8 L1067.6 999.8 L1068.3 1000.8 L1069 1001.7 L1069.8 1002.7 L1070.5 1003.6 L1071.3 1004.5 L1072.1 1005.4 L1072.8 1006.4 L1073.6 1007.3" fill="none" stroke="#000" stroke-width="1.1" />
<path d="M1098.4 984.1 L1097.5 985.3 L1096.7 986.6 L1095.8 987.8 L1095 989 L1094.2 990.2 L1093.3 991.4 L1092.5 992.6 L1091.7 993.8 L1091 994.8 L1090.3 995.9 L1089.6 996.9 L1088.9 998 L1088.2 999 L1087.5 999.9 L1086.9 1000.8 L1086.3 1001.6 L1085.9 1002.2 L1085.5 1002.6 L1085.1 1003.1 L1084.7 1003.5 L1084.4 1004 L1084 1004.4 L1083.6 1004.8 L1083.3 1005.2" fill="none" stroke="#000" stroke-width="1.1" />
<path d="M1083.3 1005.2 L1084.5 1010.7 L1085.1 1013.1" fill="none" stroke="#000" stroke-width="1.1" />
<ellipse cx="1080.9" cy="980.5" rx="8" ry="10.6" transform="rotate(22 1080.9 980.5)" fill="none" stroke="#000" stroke-width="1.1" />
<path d="M1120.7 996 L1119.8 996.4 L1118.8 996.8 L1117.9 997.3 L1116.9 997.7 L1116 998.1 L1115.1 998.6 L1114.3 999.2 L1113.4 999.8 L1112.6 1000.7 L1111.8 1001.6 L1111 1002.6 L1110.3 1003.7 L1109.6 1004.9 L1108.9 1006 L1108.2 1007.2 L1107.4 1008.3 L1106.5 1009.5 L1105.6 1010.8 L1104.7 1012.1 L1103.8 1013.4 L1102.9 1014.6 L1101.9 1015.8 L1101 1016.9 L1100.2 1017.9 L1099.5 1018.5 L1098.9 1019.1 L1098.3 1019.6 L1097.7 1020 L1097.1 1020.4 L1096.5 1020.9 L1095.9 1021.3 L1095.3 1021.8" fill="none" stroke="#000" stroke-width="1.1" />
<ellipse cx="1116.5" cy="1020.3" rx="7.5" ry="10.4" transform="rotate(22 1116.5 1020.3)" fill="none" stroke="#000" stroke-width="1.1" />
<path d="M1091.7 996.2 L1107.4 1002.8" fill="none" stroke="#000" stroke-width="1.1" />
<path d="M1086.3 1002.2 L1087.1 1002.7 L1088 1003 L1089 1003.4 L1089.9 1003.8 L1090.7 1004.2 L1091.6 1004.7 L1092.3 1005.2 L1092.9 1005.8 L1093.4 1006.6 L1093.9 1007.4 L1094.3 1008.3 L1094.6 1009.2 L1094.9 1010.2 L1095.1 1011.1 L1095.2 1012.1 L1095.3 1013.1 L1095.4 1014.1 L1095.3 1015.1 L1095.2 1016.2 L1095 1017.3 L1094.7 1018.3 L1094.5 1019.4 L1094.3 1020.5 L1094.1 1021.5" fill="none" stroke="#000" stroke-width="1.1" />
<path d="M1084.5 1010.7 L1093.5 1022.1 L1100.2 1017.9" fill="none" stroke="#000" stroke-width="1.1" />
<ellipse cx="1038.4" cy="984.4" rx="20" ry="18.3" transform="rotate(-20 1038.4 984.4)" fill="none" stroke="#000" stroke-width="1.1" />
<ellipse cx="1039.8" cy="985.1" rx="10.4" ry="9.7" transform="rotate(-20 1039.8 985.1)" fill="none" stroke="#000" stroke-width="1.1" />
<path d="M1024.1 996.8 L1025.6 997.7 L1027.1 998.7 L1028.6 999.8 L1030.1 1000.8 L1031.6 1001.8 L1033.2 1002.6 L1034.7 1003.1 L1036.2 1003.4 L1037.7 1003.4 L1039.3 1003.2 L1040.9 1002.8 L1042.5 1002.3 L1044 1001.6 L1045.5 1000.9 L1047 1000 L1048.3 999.2 L1049.4 998.4 L1050.4 997.4 L1051.3 996.4 L1052.2 995.3 L1053.1 994.1 L1054 993 L1054.8 991.8 L1055.8 990.8" fill="none" stroke="#000" stroke-width="1.1" />
<path d="M1027.2 940.7 L1027.7 940.2 L1028.2 939.7 L1028.6 939.2 L1029.1 938.7 L1029.6 938.2 L1030.2 937.8 L1030.7 937.4 L1031.4 937.1 L1032.2 936.7 L1033.2 936.4 L1034.2 936.2 L1035.3 936 L1036.4 935.9 L1037.5 935.8 L1038.7 935.8 L1039.8 935.9 L1041.3 936.1 L1042.9 936.5 L1044.6 937 L1046.3 937.6 L1048 938.2 L1049.7 938.9 L1051.4 939.5 L1053.1 940.1" fill="none" stroke="#000" stroke-width="1.1" />
<path d="M1027.2 940.7 L1032 946.1 L1070.6 963" fill="none" stroke="#000" stroke-width="1.1" />
<path d="M1027.2 940.7 L1027.3 942.2 L1027.5 943.7 L1027.7 945.2 L1027.9 946.8 L1028.1 948.3 L1028.2 949.8 L1028.1 951.3 L1028 952.8 L1027.7 954.2 L1027.3 955.7 L1026.7 957.1 L1026.1 958.5 L1025.4 959.9 L1024.8 961.4 L1024.1 962.8 L1023.5 964.2" fill="none" stroke="#000" stroke-width="1.1" />
<path d="M1060.3 983.5 L1059.6 984.5 L1058.9 985.5 L1058.2 986.6 L1057.4 987.6 L1056.7 988.6 L1056 989.6 L1055.4 990.5 L1054.9 991.4 L1054.6 991.9 L1054.4 992.4 L1054.1 992.8 L1053.9 993.3 L1053.7 993.7 L1053.5 994.1 L1053.3 994.5 L1053.1 995" fill="none" stroke="#000" stroke-width="1.1" />
<path d="M1054.9 992 L1057.5 994 L1060.3 996.1 L1063.3 998.3 L1066.3 1000.5 L1069 1002.6 L1071.2 1004.5 L1072.8 1006.2 L1073.6 1007.7 L1073.7 1008.1 L1073.7 1008.5 L1073.6 1008.9 L1073.4 1009.3 L1073.2 1009.7 L1073 1010 L1072.7 1010.4 L1072.4 1010.7 L1072 1011.1 L1071.5 1011.4 L1071 1011.7 L1070.4 1012 L1069.7 1012.2 L1069.1 1012.5 L1068.3 1012.8 L1067.6 1013.1 L1066.2 1013.6 L1064.7 1014.2 L1063 1014.8 L1061.2 1015.4 L1059.4 1015.9 L1057.7 1016.5 L1055.9 1016.9 L1054.3 1017.3 L1053 1017.6 L1051.8 1017.8 L1050.6 1017.9 L1049.4 1018 L1048.2 1018.2 L1047 1018.3 L1045.8 1018.4 L1044.7 1018.5" fill="none" stroke="#000" stroke-width="1.1" />
<path d="M1006 996.8 L1032.6 1003.4 L1044 1018.5" fill="none" stroke="#000" stroke-width="1.1" />
<path d="M1006 996.8 L1001.2 999.2 L1015.7 1014.3 L1043.4 1018.5" fill="none" stroke="#000" stroke-width="1.1" />
<path d="M1015.7 1014.3 L1007.2 1026.4 L1000 1022.7" fill="none" stroke="#000" stroke-width="1.1" />
<path d="M1015.7 1014.3 L1004.8 1031.2 L1006 1040" fill="none" stroke="#000" stroke-width="1.1" />
<path d="M1000 912.9 L1000.9 913.4 L1001.8 913.8 L1002.8 914.2 L1003.7 914.6 L1004.6 915 L1005.5 915.4 L1006.4 916 L1007.2 916.5 L1008.1 917.3 L1008.9 918.1 L1009.7 919 L1010.5 919.9 L1011.3 920.9 L1012 921.9 L1012.6 922.8 L1013.3 923.8 L1013.9 924.7 L1014.4 925.6 L1015 926.5 L1015.5 927.4 L1016 928.3 L1016.4 929.2 L1016.7 930.1 L1016.9 931 L1017 931.9 L1017 932.7 L1017 933.6 L1016.9 934.5 L1016.7 935.3 L1016.4 936.3 L1016.1 937.2 L1015.7 938.3 L1014.6 940.5 L1013 943 L1011.1 945.7 L1008.9 948.5 L1006.7 951.4 L1004.3 954.3 L1002.1 957.2 L1000 960" fill="none" stroke="#000" stroke-width="1.1" />
<path d="M1007.2 916.5 L1008.2 917.1 L1009.1 917.7 L1010.1 918.3 L1011 918.8 L1011.9 919.4 L1012.8 920 L1013.7 920.7 L1014.5 921.4 L1015.2 922.2 L1016 923 L1016.7 923.8 L1017.3 924.7 L1017.9 925.7 L1018.4 926.6 L1018.9 927.6 L1019.3 928.6 L1019.6 929.7 L1019.9 930.9 L1020.1 932.1 L1020.2 933.4 L1020.3 934.6 L1020.3 935.9 L1020.1 937.1 L1019.9 938.3 L1019.6 939.5 L1019.1 940.7 L1018.5 941.8 L1017.8 943 L1017.1 944.1 L1016.2 945.3 L1015.4 946.6 L1014.5 947.9 L1013 950 L1011.4 952.3 L1009.6 954.7 L1007.7 957.2 L1005.8 959.7 L1003.8 962.3 L1001.9 964.8 L1000 967.2" fill="none" stroke="#000" stroke-width="1.1" />
<path d="M1020.5 938.3 L1021 939 L1021.5 939.7 L1021.9 940.5 L1022.4 941.2 L1022.9 941.9 L1023.3 942.7 L1023.7 943.5 L1024.1 944.3 L1024.6 945.3 L1025 946.3 L1025.4 947.3 L1025.9 948.4 L1026.2 949.5 L1026.4 950.6 L1026.6 951.7 L1026.5 952.8 L1026.4 953.9 L1026 955 L1025.5 956.2 L1024.9 957.3 L1024.2 958.5 L1023.4 959.7 L1022.6 961 L1021.7 962.4 L1019.8 965.4 L1017.4 968.9 L1014.7 972.8 L1011.7 976.8 L1008.9 980.8 L1006.2 984.5 L1004 987.7 L1002.4 990.2 L1002 990.9 L1001.6 991.6 L1001.3 992.2 L1001 992.8 L1000.8 993.3 L1000.5 993.9 L1000.3 994.4 L1000 995" fill="none" stroke="#000" stroke-width="1.1" />
<path d="M1073.6 1007.7 L1083 1020.3" fill="none" stroke="#000" stroke-width="1.1" />
<path d="M738.4 1000 L737.8 1000.6 L737.2 1001.2 L736.5 1001.7 L735.8 1002.3 L735.2 1002.9 L734.6 1003.5 L734.1 1004.1 L733.6 1004.8 L733.3 1005.6 L733 1006.5 L732.7 1007.4 L732.5 1008.4 L732.4 1009.3 L732.4 1010.3 L732.4 1011.2 L732.4 1012.1 L732.6 1012.9 L732.8 1013.6 L733.1 1014.4 L733.4 1015.1 L733.8 1015.9 L734.1 1016.6 L734.5 1017.4 L734.8 1018.1 L735.2 1018.9 L735.5 1019.6 L735.9 1020.3 L736.2 1021.1 L736.6 1021.8 L736.9 1022.6 L737.1 1023.3 L737.2 1024.1 L737.3 1025 L737.3 1025.9 L737.2 1026.8 L737.1 1027.8 L736.9 1028.7 L736.7 1029.6 L736.4 1030.5 L736 1031.4 L735.5 1032.3 L734.9 1033.3 L734.1 1034.2 L733.3 1035.1 L732.5 1035.9 L731.6 1036.8 L730.8 1037.7 L730 1038.6" fill="none" stroke="#000" stroke-width="1.8" />
<path d="M730 1070.6 L755.9 1099.6 L760.2 1102 L777.7 1102.8 L782.5 1106.4" fill="none" stroke="#000" stroke-width="1.8" />
<path d="M782.5 1106.4 L782.7 1107.5 L782.9 1108.5 L783.2 1109.5 L783.4 1110.5 L783.6 1111.5 L783.8 1112.5 L784 1113.6 L784.1 1114.6 L784.1 1115.9 L784 1117.2 L783.8 1118.6 L783.6 1120 L783.4 1121.4 L783.2 1122.8 L783.1 1124.1 L783.1 1125.5 L783.2 1126.9 L783.3 1128.2 L783.5 1129.5 L783.7 1130.9 L783.9 1132.2 L784.2 1133.6 L784.6 1135 L784.9 1136.4 L785.4 1138 L785.9 1139.7 L786.5 1141.4 L787.1 1143.1 L787.8 1144.8 L788.5 1146.6 L789.1 1148.3 L789.7 1150" fill="none" stroke="#000" stroke-width="1.8" />
<path d="M744.5 1000 L744.2 1000.9 L743.8 1001.8 L743.4 1002.7 L743 1003.7 L742.7 1004.6 L742.4 1005.5 L742.2 1006.4 L742.1 1007.2 L742.1 1008 L742.1 1008.8 L742.2 1009.6 L742.3 1010.3 L742.5 1011.1 L742.7 1011.8 L743 1012.5 L743.3 1013.3 L743.6 1014 L744.1 1014.8 L744.6 1015.5 L745.2 1016.2 L745.7 1016.9 L746.2 1017.7 L746.6 1018.5 L746.9 1019.3 L747.1 1020.3 L747.2 1021.3 L747.2 1022.3 L747.2 1023.4 L747 1024.5 L746.9 1025.6 L746.6 1026.7 L746.3 1027.8 L745.8 1029.1 L745 1030.4 L744.2 1031.8 L743.2 1033.2 L742.3 1034.5 L741.3 1035.9 L740.4 1037.3 L739.7 1038.6 L739 1039.8 L738.3 1041.1 L737.6 1042.3 L737 1043.5 L736.4 1044.7 L736 1045.9 L735.6 1047.1 L735.4 1048.3 L735.4 1049.2 L735.5 1050.2 L735.6 1051.1 L735.8 1052.1 L736.1 1053 L736.4 1053.9 L736.8 1054.7 L737.2 1055.5 L737.7 1056.2 L738.2 1056.9 L738.8 1057.5 L739.5 1058.1 L740.1 1058.6 L740.8 1059.2 L741.4 1059.7 L742.1 1060.3" fill="none" stroke="#000" stroke-width="1.1" />
<path d="M742.1 1060.3 L855.5 1111.6" fill="none" stroke="#000" stroke-width="1.1" />
<path d="M855.5 1111.6 L856.4 1111.9 L857.3 1112.2 L858.2 1112.5 L859.1 1112.8 L860 1113 L860.9 1113.2 L861.8 1113.4 L862.7 1113.4 L863.9 1113.4 L865.1 1113.3 L866.3 1113 L867.6 1112.8 L868.9 1112.4 L870.1 1112 L871.3 1111.5 L872.4 1111 L873.4 1110.4 L874.4 1109.8 L875.4 1109 L876.3 1108.2 L877.2 1107.4 L878.1 1106.6 L879.1 1105.8 L880 1105" fill="none" stroke="#000" stroke-width="1.1" />
<path d="M730 1069.4 L850.7 1126.1" fill="none" stroke="#000" stroke-width="1.1" />
<path d="M850.7 1126.1 L851.9 1126.6 L853.1 1127.1 L854.3 1127.7 L855.5 1128.3 L856.7 1128.8 L857.9 1129.2 L859.1 1129.5 L860.3 1129.7 L861.5 1129.8 L862.7 1129.7 L864 1129.6 L865.2 1129.4 L866.4 1129.1 L867.6 1128.7 L868.8 1128.3 L870 1127.9 L871.3 1127.4 L872.5 1126.7 L873.8 1126 L875 1125.2 L876.3 1124.3 L877.5 1123.5 L878.8 1122.7 L880 1121.9" fill="none" stroke="#000" stroke-width="1.1" />
<path d="M814.5 1108.6 L850.7 1124.9" fill="none" stroke="#000" stroke-width="0.9" />
<path d="M781.9 1105 L783.8 1105.1 L785.6 1105.1 L787.4 1105.1 L789.2 1105.1 L791.1 1105.2 L793.1 1105.3 L795.2 1105.7 L797.6 1106.2 L803.1 1108 L809.7 1110.9 L817.1 1114.4 L824.9 1118.3 L832.5 1122.2 L839.7 1125.8 L845.9 1128.8 L850.7 1130.9 L852.2 1131.5 L853.6 1132.1 L854.8 1132.6 L855.9 1133 L856.9 1133.3 L858 1133.6 L859.1 1133.8 L860.3 1134 L861.8 1134 L863.3 1134 L864.9 1133.8 L866.5 1133.6 L868 1133.3 L869.6 1133 L871 1132.6 L872.4 1132.1 L873.5 1131.7 L874.5 1131.3 L875.4 1130.7 L876.3 1130.2 L877.3 1129.6 L878.2 1129 L879.1 1128.5 L880 1127.9" fill="none" stroke="#000" stroke-width="1.1" />
<path d="M730 1019.3 L752.9 1004.8 L774 1030.8" fill="none" stroke="#000" stroke-width="1.1" />
<ellipse cx="774.9" cy="1031" rx="22.9" ry="18.7" transform="rotate(-22 774.9 1031)" fill="none" stroke="#000" stroke-width="1.1" />
<ellipse cx="774.7" cy="1030.8" rx="10.6" ry="9.2" transform="rotate(-22 774.7 1030.8)" fill="none" stroke="#000" stroke-width="1.1" />
<path d="M755.9 1046.5 L781.9 1077.8 L791.5 1082.1" fill="none" stroke="#000" stroke-width="1.1" />
<path d="M797 1024.1 L802.4 1027.8 L819.3 1042.2" fill="none" stroke="#000" stroke-width="1.1" />
<path d="M819.3 1042.2 L819.2 1043.3 L819.1 1044.3 L819 1045.4 L818.9 1046.5 L818.8 1047.5 L818.6 1048.6 L818.4 1049.6 L818.1 1050.7 L817.7 1051.9 L817.2 1053.1 L816.7 1054.4 L816.1 1055.6 L815.5 1056.8 L814.8 1058 L814 1059.2 L813.3 1060.3 L812.4 1061.5 L811.4 1062.6 L810.4 1063.7 L809.3 1064.8 L808.2 1065.9 L807.1 1066.9 L806 1067.9 L804.8 1068.8 L803.6 1069.6 L802.4 1070.4 L801.1 1071.1 L799.7 1071.8 L798.4 1072.5 L797.2 1073.2 L796.1 1074 L795.2 1074.8 L794.5 1075.5 L794 1076.3 L793.5 1077.1 L793.1 1077.9 L792.7 1078.7 L792.4 1079.5 L792 1080.3 L791.5 1081.1" fill="none" stroke="#000" stroke-width="1.1" />
<path d="M807.2 1000 L797.6 1019.9" fill="none" stroke="#000" stroke-width="1.1" />
<path d="M810.2 1000 L800.6 1021.7" fill="none" stroke="#000" stroke-width="1.1" />
<path d="M804.8 1022.9 L804.9 1022 L805 1021 L805.1 1020.1 L805.2 1019.1 L805.3 1018.2 L805.5 1017.3 L805.7 1016.4 L806 1015.7 L806.4 1015.1 L806.7 1014.6 L807.1 1014 L807.6 1013.5 L808.1 1013.1 L808.6 1012.7 L809.1 1012.4 L809.6 1012.1 L810.2 1011.8 L810.7 1011.7 L811.3 1011.5 L811.9 1011.4 L812.6 1011.4 L813.2 1011.4 L813.8 1011.4 L814.5 1011.5 L815.3 1011.6 L816.1 1011.9 L817 1012.2 L817.8 1012.6 L818.7 1013 L819.7 1013.5 L820.7 1014 L821.7 1014.5 L823.5 1015.4 L825.5 1016.5 L827.6 1017.7 L829.7 1018.9 L832 1020.3 L834.2 1021.6 L836.5 1022.9 L838.6 1024.1" fill="none" stroke="#000" stroke-width="1.1" />
<path d="M809 1019.3 L809.6 1018.7 L810.1 1018 L810.5 1017.3 L811 1016.6 L811.5 1016 L812.1 1015.4 L812.7 1015 L813.3 1014.7 L813.9 1014.6 L814.6 1014.6 L815.3 1014.7 L816 1015 L816.7 1015.2 L817.5 1015.6 L818.4 1015.9 L819.3 1016.3 L821.2 1017.1 L823.4 1018.1 L825.8 1019.4 L828.3 1020.7 L830.9 1022.1 L833.5 1023.6 L836.1 1025 L838.6 1026.3" fill="none" stroke="#000" stroke-width="1.1" />
<path d="M802.4 1025.9 L807.2 1024.7 L812.1 1028.4 L845.8 1038" fill="none" stroke="#000" stroke-width="1.1" />
<path d="M819.3 1042.2 L820.2 1041.9 L821.1 1041.6 L822 1041.2 L823 1040.9 L823.9 1040.5 L824.8 1040.2 L825.7 1040 L826.5 1039.8 L827.3 1039.7 L828.2 1039.6 L829 1039.5 L829.8 1039.4 L830.6 1039.4 L831.3 1039.5 L832 1039.6 L832.6 1039.8 L833 1040.1 L833.4 1040.5 L833.8 1040.9 L834.1 1041.3 L834.4 1041.8 L834.6 1042.3 L834.8 1042.9 L835 1043.4 L835.1 1044.2 L835 1045.1 L834.9 1045.9 L834.7 1046.9 L834.4 1047.8 L834.2 1048.8 L834 1049.8 L833.8 1050.7" fill="none" stroke="#000" stroke-width="1.1" />
<path d="M833.8 1039.8 L835 1039.6 L836.2 1039.4 L837.4 1039.2 L838.6 1039 L839.8 1038.8 L841 1038.7 L842.2 1038.6 L843.4 1038.6 L844.8 1038.7 L846.2 1038.8 L847.6 1039 L849 1039.3 L850.4 1039.6 L851.7 1040 L853.1 1040.5 L854.3 1041 L855.5 1041.7 L856.7 1042.4 L857.8 1043.3 L858.9 1044.2 L859.9 1045.2 L860.9 1046.2 L861.9 1047.2 L862.7 1048.3 L863.5 1049.3 L864.3 1050.5 L865 1051.7 L865.7 1052.9 L866.3 1054.1 L866.8 1055.4 L867.2 1056.6 L867.6 1057.9 L867.8 1059.2 L868 1060.6 L868.1 1062 L868.2 1063.4 L868.1 1064.7 L868 1066.1 L867.8 1067.5 L867.6 1068.8 L867.2 1070.1 L866.8 1071.3 L866.3 1072.6 L865.7 1073.8 L865 1075.1 L864.3 1076.2 L863.5 1077.4 L862.7 1078.4 L861.9 1079.5 L860.9 1080.5 L859.9 1081.5 L858.8 1082.4 L857.7 1083.3 L856.6 1084.2 L855.5 1085 L854.3 1085.7 L853.2 1086.3 L852 1086.9 L850.8 1087.5 L849.5 1088 L848.3 1088.4 L847.1 1088.8 L845.8 1089.1 L844.6 1089.3 L843.6 1089.4 L842.5 1089.5 L841.4 1089.5 L840.3 1089.5 L839.2 1089.4 L838.2 1089.2 L837.2 1089 L836.2 1088.7 L835.3 1088.4 L834.5 1088 L833.7 1087.5 L832.9 1087 L832.2 1086.4 L831.5 1085.8 L830.8 1085.2 L830.2 1084.5 L829.6 1083.7 L829 1082.9 L828.5 1082 L828 1081.1 L827.6 1080.2 L827.2 1079.2 L826.8 1078.2 L826.5 1077.2 L826.3 1076.1 L826.1 1074.9 L825.9 1073.7 L825.8 1072.5 L825.8 1071.3 L825.8 1070 L825.8 1068.8 L825.9 1067.6 L826.1 1066.4 L826.3 1065.1 L826.5 1063.9 L826.8 1062.7 L827.2 1061.5 L827.5 1060.3 L827.9 1059.1 L828.4 1057.9 L828.8 1056.8 L829.3 1055.7 L829.8 1054.7 L830.3 1053.6 L830.9 1052.6 L831.5 1051.6 L832 1050.5 L832.6 1049.5" fill="none" stroke="#000" stroke-width="1.1" />
<path d="M832.3 1051.3 L831.6 1052.4 L830.8 1053.5 L830 1054.6 L829.2 1055.7 L828.4 1056.8 L827.7 1058 L827.1 1059.1 L826.5 1060.3 L826.1 1061.6 L825.6 1062.9 L825.3 1064.3 L825 1065.7 L824.8 1067.1 L824.6 1068.5 L824.5 1069.8 L824.5 1071.2 L824.6 1072.5 L824.7 1073.8 L824.9 1075.2 L825.2 1076.5 L825.5 1077.8 L825.9 1079.1 L826.4 1080.3 L826.9 1081.5 L827.5 1082.5 L828.1 1083.4 L828.8 1084.3 L829.5 1085.2 L830.3 1086.1 L831.1 1086.9 L831.8 1087.8 L832.6 1088.7" fill="none" stroke="#000" stroke-width="0.9" />
<path d="M848.3 1053.1 L847.6 1054 L847 1054.9 L846.3 1055.7 L845.7 1056.6 L845.1 1057.5 L844.5 1058.4 L843.9 1059.4 L843.4 1060.3 L843 1061.4 L842.6 1062.6 L842.2 1063.8 L841.9 1065 L841.6 1066.3 L841.3 1067.5 L841.2 1068.8 L841 1070 L840.9 1071.2 L840.9 1072.4 L841 1073.6 L841 1074.8 L841.1 1076 L841.3 1077.2 L841.4 1078.4 L841.6 1079.6 L841.8 1080.9 L842.1 1082.1 L842.4 1083.3 L842.7 1084.5 L843.1 1085.7 L843.4 1086.9 L843.7 1088.1 L844 1089.3" fill="none" stroke="#000" stroke-width="1.1" />
<path d="M865.2 1060.3 L864.2 1060.5 L863.3 1060.5 L862.3 1060.6 L861.4 1060.6 L860.4 1060.7 L859.5 1060.9 L858.7 1061.1 L857.9 1061.5 L857.1 1062.1 L856.4 1062.9 L855.7 1063.7 L855 1064.7 L854.4 1065.7 L853.9 1066.7 L853.4 1067.8 L853.1 1068.8 L852.8 1069.8 L852.6 1070.9 L852.5 1072.1 L852.4 1073.2 L852.4 1074.3 L852.5 1075.4 L852.8 1076.4 L853.1 1077.2 L853.5 1077.9 L854 1078.6 L854.6 1079.2 L855.2 1079.7 L855.9 1080.2 L856.6 1080.6 L857.3 1080.8 L857.9 1080.9 L858.7 1080.7 L859.5 1080.2 L860.3 1079.5 L861.1 1078.7 L861.9 1077.8 L862.7 1076.8 L863.3 1075.8 L864 1074.8 L864.5 1073.8 L865 1072.6 L865.4 1071.4 L865.7 1070.2 L866 1068.9 L866.3 1067.7 L866.6 1066.4 L867 1065.2" fill="none" stroke="#000" stroke-width="1.1" />
<path d="M856.7 1050.7 L877.8 1076" fill="none" stroke="#000" stroke-width="1.6" />
<path d="M877.8 1076 L877.3 1076.9 L876.7 1077.8 L876.2 1078.7 L875.6 1079.6 L875.1 1080.5 L874.6 1081.4 L874.1 1082.3 L873.6 1083.3 L873.1 1084.3 L872.7 1085.3 L872.2 1086.4 L871.8 1087.4 L871.4 1088.5 L871 1089.6 L870.8 1090.6 L870.6 1091.7 L870.5 1092.8 L870.4 1093.9 L870.4 1094.9 L870.5 1096 L870.6 1097.1 L870.7 1098.2 L870.9 1099.2 L871.2 1100.2 L871.5 1101 L871.9 1101.8 L872.3 1102.5 L872.8 1103.3 L873.3 1104 L873.8 1104.7 L874.3 1105.5 L874.8 1106.2" fill="none" stroke="#000" stroke-width="1.1" />
<path d="M880 1024.1 L870.6 1023.5 L860.9 1037.4" fill="none" stroke="#000" stroke-width="1.1" />
<path d="M870.6 1023.5 L880 1031.4" fill="none" stroke="#000" stroke-width="1.1" />
<path d="M850.7 1000 L850.1 1000.9 L849.4 1001.8 L848.8 1002.6 L848.1 1003.5 L847.5 1004.4 L846.9 1005.3 L846.3 1006.3 L845.8 1007.2 L845.4 1008.3 L844.9 1009.5 L844.5 1010.7 L844.2 1011.9 L843.9 1013.1 L843.7 1014.4 L843.5 1015.6 L843.4 1016.9 L843.5 1018.2 L843.6 1019.6 L843.8 1021 L844.1 1022.4 L844.5 1023.8 L844.9 1025.2 L845.4 1026.5 L845.8 1027.8 L846.3 1028.9 L846.9 1030 L847.5 1031 L848.1 1032.1 L848.8 1033.1 L849.4 1034.1 L850.1 1035.2 L850.7 1036.2" fill="none" stroke="#000" stroke-width="1.1" />
<path d="M853.1 1000 L852.5 1000.9 L852 1001.8 L851.4 1002.6 L850.9 1003.5 L850.3 1004.4 L849.8 1005.3 L849.3 1006.3 L848.9 1007.2 L848.4 1008.4 L848 1009.5 L847.6 1010.7 L847.2 1011.9 L846.9 1013.1 L846.7 1014.4 L846.5 1015.6 L846.5 1016.9 L846.5 1018.2 L846.6 1019.6 L846.8 1021 L847.1 1022.4 L847.5 1023.8 L847.9 1025.2 L848.4 1026.5 L848.9 1027.8 L849.4 1028.9 L850 1030 L850.7 1031.1 L851.4 1032.1 L852.1 1033.1 L852.9 1034.1 L853.6 1035.2 L854.3 1036.2" fill="none" stroke="#000" stroke-width="0.9" />
<path d="M819.3 1000 L819.7 1000.6 L820.1 1001.3 L820.5 1002 L820.9 1002.6 L821.4 1003.3 L821.8 1003.9 L822.3 1004.4 L822.9 1004.8 L823.7 1005.2 L824.5 1005.4 L825.4 1005.6 L826.3 1005.7 L827.3 1005.8 L828.3 1005.8 L829.2 1005.9 L830.2 1006" fill="none" stroke="#000" stroke-width="1.1" />
<path d="M855.5 1045.9 L862.7 1051.9 L857.9 1039.8" fill="none" stroke="#000" stroke-width="1.3" />
<path d="M786.7 1106.8 L809.6 1134" fill="none" stroke="#000" stroke-width="1.1" />
<path d="M790.3 1106.2 L814.5 1131.5" fill="none" stroke="#000" stroke-width="1.1" />
<path d="M795.8 1106.8 L814.5 1129.7" fill="none" stroke="#000" stroke-width="0.9" />
<path d="M1014.8 970 L1013.4 971.9 L1011.9 973.8 L1010.4 975.8 L1008.9 977.7 L1007.4 979.6 L1006.1 981.4 L1004.9 983 L1004 984.5 L1003.5 985.2 L1003.1 985.8 L1002.8 986.4 L1002.4 987 L1002.2 987.5 L1001.9 988.1 L1001.7 988.7 L1001.5 989.3 L1001.4 990 L1001.3 990.8 L1001.2 991.6 L1001.2 992.4 L1001.2 993.2 L1001.3 993.9 L1001.4 994.7 L1001.5 995.3 L1001.7 995.9 L1002 996.3 L1002.3 996.8 L1002.6 997.2 L1002.9 997.7 L1003.3 998.1 L1003.6 998.5 L1004 999" fill="none" stroke="#000" stroke-width="1.1" />
<path d="M1004 998.4 L1010 997.8 L1020 1002.6" fill="none" stroke="#000" stroke-width="1.1" />
<path d="M1002.7 999 L1020 1011.6" fill="none" stroke="#000" stroke-width="1.1" />
<path d="M1020 1011.6 L1006.4 1027.9" fill="none" stroke="#000" stroke-width="1.1" />
<path d="M1000.3 970 L996.9 974.4 L993.3 979 L989.6 983.8 L985.9 988.5 L982.4 992.9 L979.1 997.1 L976.2 1000.8 L973.8 1003.8 L972.8 1005 L972 1006.1 L971.2 1007.1 L970.5 1008 L969.9 1008.9 L969.2 1009.7 L968.5 1010.4 L967.7 1011 L967.2 1011.5 L966.5 1011.9 L965.9 1012.3 L965.3 1012.6 L964.7 1012.9 L964.1 1013.1 L963.5 1013.3 L962.9 1013.4 L962.5 1013.5 L962 1013.5 L961.5 1013.4 L961.1 1013.3 L960.6 1013.2 L960.2 1013 L959.8 1012.9 L959.3 1012.8" fill="none" stroke="#000" stroke-width="1.1" />
<path d="M993.1 970 L989.6 974.5 L986 979.4 L982.3 984.5 L978.6 989.4 L975 994.1 L971.8 998.3 L968.9 1001.8 L966.5 1004.4 L965.8 1005.1 L965.2 1005.7 L964.6 1006.2 L964 1006.7 L963.4 1007.1 L962.9 1007.4 L962.3 1007.7 L961.7 1008 L961.1 1008.3 L960.6 1008.5 L960 1008.6 L959.4 1008.8 L958.8 1008.9 L958.2 1009 L957.6 1009.1 L956.9 1009.2 L955.8 1009.3 L954.7 1009.4 L953.5 1009.3 L952.3 1009.3 L951 1009.3 L949.7 1009.3 L948.5 1009.4 L947.2 1009.6 L946 1009.8 L944.8 1010.1 L943.5 1010.5 L942.3 1010.9 L941 1011.3 L939.8 1011.8 L938.7 1012.3 L937.6 1012.8 L936.6 1013.4 L935.6 1014 L934.6 1014.6 L933.7 1015.3 L932.8 1016 L931.9 1016.7 L931.1 1017.5 L930.3 1018.3 L929.6 1019.1 L928.9 1019.9 L928.3 1020.8 L927.7 1021.7 L927.1 1022.6 L926.6 1023.6 L926.2 1024.5 L925.8 1025.5 L925.4 1026.5 L925.1 1027.5 L924.8 1028.6 L924.6 1029.7 L924.4 1030.7 L924.3 1031.8 L924.3 1032.9 L924.3 1034 L924.4 1035 L924.6 1036.1 L924.8 1037.1 L925.1 1038.2 L925.4 1039.2 L925.8 1040.3 L926.3 1041.3 L926.7 1042.4 L927.3 1043.6 L927.8 1044.7 L928.5 1045.9 L929.1 1047 L929.9 1048.2 L930.7 1049.4 L931.7 1050.7 L932.8 1052.1 L935.1 1054.9 L938 1058.1 L941.2 1061.5 L944.8 1065.1 L948.5 1068.8 L952.2 1072.6 L955.8 1076.3 L959.3 1079.8" fill="none" stroke="#000" stroke-width="1.1" />
<path d="M983.4 970 L980.4 974.2 L977.3 978.8 L974.2 983.5 L971.1 988.2 L968 992.5 L965 996.3 L962.1 999.4 L959.3 1001.4 L957.9 1002 L956.5 1002.3 L955.1 1002.3 L953.8 1002.2 L952.4 1002.1 L951.1 1002 L949.8 1001.9 L948.4 1002 L947.1 1002.2 L945.7 1002.4 L944.3 1002.6 L942.9 1002.9 L941.6 1003.2 L940.2 1003.5 L938.9 1003.9 L937.6 1004.4 L936.3 1004.9 L935 1005.5 L933.8 1006.1 L932.5 1006.7 L931.3 1007.4 L930.1 1008.2 L929 1009 L927.9 1009.8 L926.9 1010.7 L925.9 1011.7 L924.9 1012.7 L924 1013.8 L923.1 1014.9 L922.2 1016 L921.4 1017.2 L920.7 1018.3 L920 1019.3 L919.4 1020.3 L918.8 1021.3 L918.2 1022.4 L917.7 1023.4 L917.3 1024.5 L916.8 1025.6 L916.5 1026.7 L916.1 1028 L915.8 1029.3 L915.6 1030.7 L915.4 1032.1 L915.2 1033.5 L915.2 1034.9 L915.2 1036.2 L915.3 1037.6 L915.5 1038.8 L915.8 1040.1 L916.3 1041.3 L916.8 1042.5 L917.3 1043.7 L917.7 1044.9 L918.1 1046.1 L918.3 1047.2 L918.4 1048.2 L918.4 1049.1 L918.5 1050 L918.4 1050.9 L918.4 1051.8 L918.2 1052.7 L918 1053.6 L917.7 1054.5 L917.1 1055.6 L916.4 1056.7 L915.5 1057.7 L914.5 1058.8 L913.5 1059.9 L912.3 1061.2 L911.1 1062.5 L909.8 1064.1 L906.6 1068.5 L902.7 1074.3 L898.2 1080.8 L893.5 1087.8 L888.7 1094.7 L884.3 1101.2 L880.4 1106.9 L877.2 1111.2 L876.1 1112.7 L875.1 1113.9 L874.2 1115 L873.3 1116.1 L872.5 1117 L871.7 1118 L870.9 1119 L870 1120" fill="none" stroke="#000" stroke-width="1.1" />
<path d="M925.5 1044.8 L926.1 1045.9 L926.6 1047 L927.2 1048 L927.8 1049.1 L928.3 1050.2 L928.8 1051.2 L929.3 1052.3 L929.7 1053.3 L930.1 1054.1 L930.4 1054.8 L930.7 1055.6 L931 1056.3 L931.3 1057 L931.5 1057.8 L931.6 1058.5 L931.5 1059.3 L931.4 1060.1 L931.2 1060.9 L930.9 1061.7 L930.4 1062.5 L929.9 1063.4 L929.3 1064.3 L928.7 1065.4 L927.9 1066.5 L925 1070.9 L921 1076.5 L916.2 1083 L910.7 1090.2 L905 1097.8 L899.1 1105.5 L893.4 1113 L888.1 1120" fill="none" stroke="#000" stroke-width="1.1" />
<path d="M923.1 1047.2 L923.1 1048.1 L923.2 1049 L923.3 1049.9 L923.3 1050.9 L923.4 1051.8 L923.4 1052.7 L923.3 1053.6 L923.1 1054.5 L922.8 1055.5 L922.4 1056.4 L921.9 1057.3 L921.4 1058.3 L920.7 1059.3 L920 1060.3 L919.2 1061.5 L918.3 1062.9 L915.1 1067.7 L910.6 1074.1 L905.4 1081.6 L899.7 1089.6 L894 1097.4 L888.6 1104.6 L884.1 1110.6 L880.9 1114.8 L880.1 1115.7 L879.4 1116.5 L878.8 1117.2 L878.2 1117.8 L877.7 1118.3 L877.2 1118.8 L876.6 1119.4 L876 1120" fill="none" stroke="#000" stroke-width="1.1" />
<path d="M959.3 1079.8 L959.9 1088.9" fill="none" stroke="#000" stroke-width="1.1" />
<path d="M959.3 1012.2 L959.9 1013 L960.5 1013.7 L961.2 1014.4 L961.8 1015.1 L962.4 1015.8 L963 1016.6 L963.6 1017.4 L964.1 1018.3 L964.7 1019.3 L965.2 1020.5 L965.7 1021.7 L966.2 1023 L966.7 1024.3 L967.1 1025.5 L967.4 1026.8 L967.7 1027.9 L968 1028.9 L968.1 1029.8 L968.1 1030.8 L968.2 1031.7 L968.3 1032.6 L968.4 1033.5 L968.6 1034.3 L969 1035.2 L969.5 1036 L970.2 1036.8 L971 1037.5 L971.9 1038.2 L972.8 1038.9 L973.6 1039.6 L974.4 1040.4 L975 1041.2 L975.5 1042 L975.9 1042.9 L976.3 1043.8 L976.6 1044.7 L976.9 1045.6 L977.1 1046.5 L977.3 1047.5 L977.4 1048.4 L977.5 1049.5 L977.4 1050.5 L977.4 1051.6 L977.2 1052.6 L977.1 1053.7 L976.8 1054.8 L976.5 1055.8 L976.2 1056.9 L975.8 1058 L975.3 1059.1 L974.8 1060.2 L974.2 1061.3 L973.5 1062.4 L972.8 1063.4 L972.1 1064.4 L971.4 1065.3 L970.6 1066.2 L969.7 1067.1 L968.9 1067.9 L967.9 1068.7 L967 1069.4 L966 1070.1 L965.1 1070.8 L964.1 1071.4 L963.2 1071.9 L962.3 1072.4 L961.4 1072.9 L960.5 1073.3 L959.5 1073.7 L958.6 1074 L957.7 1074.2 L956.9 1074.4 L956.2 1074.4 L955.6 1074.4 L955 1074.4 L954.4 1074.2 L953.8 1074.1 L953.2 1074 L952.7 1073.9 L952.1 1073.8" fill="none" stroke="#000" stroke-width="1.1" />
<path d="M941.2 1059.3 L941.9 1058.5 L942.7 1057.8 L943.4 1057 L944.1 1056.2 L944.8 1055.4 L945.6 1054.7 L946.4 1053.9 L947.2 1053.3 L948.3 1052.5 L949.4 1051.8 L950.6 1051.1 L951.8 1050.5 L953.1 1049.9 L954.4 1049.3 L955.6 1048.9 L956.9 1048.4 L958.1 1048.1 L959.3 1047.8 L960.5 1047.6 L961.8 1047.4 L963 1047.2 L964.2 1047.2 L965.4 1047.2 L966.5 1047.2 L967.5 1047.4 L968.4 1047.6 L969.3 1047.9 L970.2 1048.2 L971.1 1048.6 L972 1049 L972.9 1049.3 L973.8 1049.6" fill="none" stroke="#000" stroke-width="1.1" />
<path d="M942.4 1062.9 L943.3 1062 L944.2 1061 L945 1060 L945.9 1059.1 L946.8 1058.1 L947.7 1057.2 L948.6 1056.4 L949.6 1055.7 L950.7 1055 L951.9 1054.4 L953.1 1053.9 L954.3 1053.4 L955.6 1053 L956.8 1052.6 L958.1 1052.3 L959.3 1052.1 L960.5 1051.9 L961.7 1051.7 L963 1051.7 L964.2 1051.7 L965.5 1051.7 L966.7 1051.8 L967.8 1051.9 L969 1052.1 L969.9 1052.3 L970.7 1052.5 L971.6 1052.8 L972.4 1053.1 L973.2 1053.5 L974 1053.8 L974.8 1054.2 L975.6 1054.5" fill="none" stroke="#000" stroke-width="1.1" />
<path d="M946 1066.5 L946.9 1065.7 L947.8 1064.8 L948.7 1063.9 L949.5 1063 L950.4 1062.1 L951.3 1061.3 L952.3 1060.6 L953.3 1059.9 L954.2 1059.3 L955.3 1058.8 L956.3 1058.4 L957.4 1058 L958.5 1057.6 L959.5 1057.3 L960.6 1057.1 L961.7 1056.9 L962.8 1056.8 L963.8 1056.8 L964.9 1056.9 L965.9 1057 L967 1057.1 L968 1057.3 L969.1 1057.4 L970.2 1057.5" fill="none" stroke="#000" stroke-width="1.1" />
<path d="M950.2 1070.2 L951.1 1069.4 L951.9 1068.5 L952.6 1067.7 L953.4 1066.8 L954.2 1066 L955.1 1065.3 L956 1064.6 L956.9 1064.1 L957.9 1063.7 L958.9 1063.4 L960 1063.2 L961.1 1063 L962.2 1062.9 L963.3 1062.9 L964.3 1062.9 L965.3 1062.9 L966.2 1063 L967.1 1063.2 L967.9 1063.4 L968.7 1063.7 L969.5 1063.9 L970.3 1064.2 L971.1 1064.5 L972 1064.7" fill="none" stroke="#000" stroke-width="1.1" />
<path d="M932.1 995.9 L937.6 1008.6 L962.9 1071.4" fill="none" stroke="#000" stroke-width="1.1" />
<path d="M914 1014.7 L914.2 1014.2 L914.4 1013.7 L914.6 1013.3 L914.9 1012.8 L915.3 1012.4 L915.7 1012.1 L916.1 1011.8 L916.5 1011.6 L916.9 1011.5 L917.3 1011.5 L917.8 1011.5 L918.3 1011.5 L918.8 1011.6 L919.2 1011.8 L919.7 1012 L920.1 1012.2 L920.5 1012.6 L920.9 1013 L921.4 1013.5 L921.7 1014.1 L922.1 1014.7 L922.3 1015.3 L922.5 1015.9 L922.5 1016.5 L922.4 1017 L922.2 1017.7 L921.8 1018.3 L921.4 1019 L920.9 1019.6 L920.5 1020.1 L920 1020.4 L919.5 1020.7 L919.1 1020.8 L918.6 1020.8 L918.1 1020.7 L917.6 1020.5 L917.1 1020.3 L916.7 1020.1 L916.2 1019.8 L915.9 1019.5 L915.5 1019 L915.1 1018.5 L914.8 1017.9 L914.5 1017.2 L914.3 1016.5 L914.1 1015.8 L914 1015.2Z" fill="none" stroke="#000" stroke-width="1.1" />
<path d="M911.6 1040 L911.8 1038.8 L912 1037.6 L912.2 1036.4 L912.4 1035.1 L912.6 1033.9 L912.8 1032.7 L913.1 1031.5 L913.4 1030.3 L913.9 1029.1 L914.4 1027.9 L914.9 1026.6 L915.5 1025.4 L916.2 1024.2 L916.8 1023 L917.5 1021.8 L918.3 1020.7 L919 1019.6 L919.9 1018.4 L920.7 1017.4 L921.6 1016.3 L922.5 1015.2 L923.5 1014.2 L924.5 1013.2 L925.5 1012.2 L926.6 1011.2 L927.8 1010.2 L928.9 1009.2 L930.1 1008.3 L931.4 1007.3 L932.6 1006.5 L933.9 1005.7 L935.2 1005 L936.3 1004.5 L937.5 1004 L938.7 1003.6 L939.9 1003.3 L941.2 1003 L942.4 1002.7 L943.6 1002.3 L944.8 1002" fill="none" stroke="#000" stroke-width="0.9" />
<path d="M973.8 1020.7 L974 1019.8 L974.2 1019 L974.4 1018.2 L974.7 1017.5 L975 1016.7 L975.3 1016 L975.7 1015.3 L976.2 1014.7 L976.8 1013.9 L977.4 1013.2 L978.2 1012.5 L978.9 1011.8 L979.7 1011.2 L980.6 1010.7 L981.4 1010.2 L982.2 1009.8 L983 1009.6 L983.7 1009.4 L984.5 1009.2 L985.2 1009.1 L986 1009 L986.8 1009.1 L987.5 1009.1 L988.3 1009.2 L989 1009.4 L989.8 1009.6 L990.5 1009.9 L991.2 1010.2 L992 1010.6 L992.7 1011.1 L993.5 1011.6 L994.3 1012.2 L995.8 1013.5 L997.5 1015.2 L999.3 1017.2 L1001.1 1019.3 L1002.8 1021.4 L1004.3 1023.4 L1005.5 1025.2 L1006.4 1026.7 L1006.6 1027.2 L1006.8 1027.7 L1007 1028.1 L1007.1 1028.5 L1007.1 1028.9 L1007.1 1029.3 L1007.1 1029.8 L1007 1030.3 L1006.2 1032.1 L1004.8 1034.4 L1002.9 1037.1 L1000.8 1039.8 L998.5 1042.4 L996.4 1044.7 L994.5 1046.4 L993.1 1047.2 L992.7 1047.3 L992.4 1047.3 L992.2 1047.3 L991.9 1047.2 L991.7 1047.1 L991.4 1047 L991.1 1046.8 L990.7 1046.6 L989.3 1046 L987.6 1045.2 L985.5 1044.1 L983.4 1042.9 L981.2 1041.6 L979.2 1040.2 L977.5 1038.9 L976.2 1037.6 L975.6 1036.7 L975.1 1035.9 L974.8 1035 L974.5 1034.1 L974.3 1033.2 L974.1 1032.3 L973.9 1031.3 L973.8 1030.3 L973.6 1029.2 L973.5 1028 L973.4 1026.7 L973.4 1025.5 L973.4 1024.2 L973.5 1023 L973.6 1021.8Z" fill="none" stroke="#000" stroke-width="1.1" />
<ellipse cx="986.5" cy="1023.1" rx="4.1" ry="3.6" transform="rotate(-20 986.5 1023.1)" fill="none" stroke="#000" stroke-width="1.2" />
<ellipse cx="986.5" cy="1023.7" rx="8" ry="7.2" transform="rotate(-20 986.5 1023.7)" fill="none" stroke="#000" stroke-width="1.1" />
<path d="M977.4 1018.3 L977.5 1019.8 L977.5 1021.4 L977.5 1023 L977.5 1024.7 L977.6 1026.2 L977.8 1027.7 L978.1 1029.1 L978.6 1030.3 L979.2 1031.4 L980 1032.4 L980.8 1033.3 L981.8 1034.2 L982.8 1035 L983.8 1035.7 L984.8 1036.1 L985.8 1036.4 L986.8 1036.4 L987.9 1036.1 L988.9 1035.7 L990 1035.2 L991.1 1034.5 L992.2 1033.9 L993.2 1033.3 L994.3 1032.8" fill="none" stroke="#000" stroke-width="1.1" />
<path d="M959.3 1012.8 L965.3 1023.1 L970.2 1035.8 L990.7 1046.6" fill="none" stroke="#000" stroke-width="1.1" />
<path d="M966.5 1023.7 L978.6 1040" fill="none" stroke="#000" stroke-width="0.9" />
<path d="M870 986.9 L882.1 973.6 L885.7 970" fill="none" stroke="#000" stroke-width="1.6" />
<path d="M870 983.3 L880.9 971.2" fill="none" stroke="#000" stroke-width="1.2" />
<path d="M870 990.5 L884.5 974.8" fill="none" stroke="#000" stroke-width="1.2" />
<path d="M872.4 992.9 L888.1 973.6" fill="none" stroke="#000" stroke-width="1" />
<path d="M870 992.9 L870.8 993.1 L871.5 993.2 L872.3 993.3 L873.1 993.5 L873.9 993.6 L874.6 993.8 L875.4 993.9 L876 994.1 L876.5 994.3 L877 994.5 L877.5 994.8 L877.9 995 L878.3 995.2 L878.8 995.5 L879.2 995.7 L879.7 995.9" fill="none" stroke="#000" stroke-width="1.1" />
<path d="M879.7 995.9 L871.2 1009.2 L873 1014 L915.3 1055.1 L916.5 1048.4 L911.6 1040.6 L879.7 995.9" fill="none" stroke="#000" stroke-width="1.1" />
<path d="M870 1023.7 L911.6 1059.9 L915.3 1055.1" fill="none" stroke="#000" stroke-width="1.1" />
<path d="M870 1044.8 L909.8 1062.3" fill="none" stroke="#000" stroke-width="1.1" />
<path d="M905 970 L906.4 970.6 L907.8 971.1 L909.2 971.6 L910.6 972.2 L912 972.7 L913.4 973.3 L914.7 974 L915.9 974.8 L916.9 975.7 L917.9 976.6 L918.8 977.6 L919.7 978.6 L920.5 979.7 L921.4 980.8 L922.2 982 L923.1 983.3 L924.3 985.2 L925.6 987.3 L927 989.7 L928.3 992.1 L929.6 994.5 L930.8 996.7 L931.8 998.6 L932.8 1000.2 L933.1 1000.8 L933.5 1001.3 L933.8 1001.7 L934 1002.2 L934.3 1002.6 L934.6 1002.9 L934.9 1003.4 L935.2 1003.8" fill="none" stroke="#000" stroke-width="1.1" />
<path d="M921.9 970 L926.7 982.1 L932.8 996.5" fill="none" stroke="#000" stroke-width="1.1" />
<path d="M927.9 970 L941.2 991.7 L948.4 1002" fill="none" stroke="#000" stroke-width="1.1" />
<path d="M948.4 970 L949 970.9 L949.6 971.8 L950.2 972.7 L950.8 973.6 L951.4 974.5 L952 975.4 L952.6 976.3 L953.3 977.2 L954 978.3 L954.8 979.3 L955.5 980.4 L956.3 981.5 L957.1 982.6 L957.9 983.6 L958.6 984.7 L959.3 985.7 L959.9 986.5 L960.4 987.2 L961 987.9 L961.6 988.6 L962.1 989.4 L962.5 990.1 L962.8 990.9 L962.9 991.7 L962.9 992.8 L962.6 994 L962.2 995.2 L961.7 996.4 L961 997.6 L960.4 998.9 L959.8 1000.2 L959.3 1001.4" fill="none" stroke="#000" stroke-width="1.1" />
<path d="M956.9 970 L963.5 990.5" fill="none" stroke="#000" stroke-width="0.9" />
<path d="M882.1 982.1 L880.9 991.7 L879.7 995.9" fill="none" stroke="#000" stroke-width="1.1" />
<path d="M882.1 982.1 L883.1 981.5 L884.1 980.9 L885.1 980.3 L886.1 979.7 L887.2 979.1 L888.2 978.5 L889.3 977.9 L890.5 977.2 L892.1 976.4 L893.9 975.5 L895.6 974.6 L897.5 973.7 L899.4 972.8 L901.3 971.8 L903.2 970.9 L905 970" fill="none" stroke="#000" stroke-width="1.1" />
<path d="M958.1 985.7 L959.1 984.6 L960.1 983.5 L961.1 982.4 L962.1 981.3 L963.2 980.2 L964.2 979.2 L965.3 978.2 L966.5 977.2 L967.9 976.3 L969.5 975.4 L971.1 974.5 L972.7 973.7 L974.3 973 L975.9 972.3 L977.3 971.7 L978.6 971.2 L979.3 971 L979.9 970.8 L980.6 970.6 L981.1 970.5 L981.7 970.4 L982.3 970.3 L982.8 970.1 L983.4 970" fill="none" stroke="#000" stroke-width="1.1" />
<path d="M870 1066.5 L877.8 1076.2 L870 1085.8" fill="none" stroke="#000" stroke-width="1.1" />
<path d="M906.2 1066.5 L905 1067.4 L903.7 1068.3 L902.5 1069.1 L901.2 1070 L900 1070.9 L898.8 1071.8 L897.6 1072.8 L896.5 1073.8 L895.5 1074.9 L894.5 1076 L893.5 1077.1 L892.5 1078.3 L891.6 1079.6 L890.8 1080.8 L890 1082.1 L889.3 1083.4 L888.7 1084.9 L888.2 1086.4 L887.8 1088.1 L887.4 1089.7 L887 1091.3 L886.6 1092.9 L886.2 1094.3 L885.7 1095.5 L885.3 1096.2 L884.9 1096.9 L884.5 1097.5 L884.1 1098.1 L883.6 1098.6 L883.1 1099.2 L882.6 1099.7 L882.1 1100.3 L881.3 1101.1 L880.5 1102 L879.5 1102.8 L878.6 1103.7 L877.6 1104.5 L876.7 1105.2 L875.7 1105.9 L874.8 1106.4 L874.2 1106.6 L873.6 1106.9 L873 1107 L872.4 1107.1 L871.8 1107.2 L871.2 1107.3 L870.6 1107.4 L870 1107.6" fill="none" stroke="#000" stroke-width="1.1" />
<path d="M902.6 1072.6 L901.7 1073.8 L900.9 1075 L900 1076.2 L899.1 1077.4 L898.3 1078.6 L897.5 1079.8 L896.7 1081 L895.9 1082.2 L895.3 1083.3 L894.8 1084.4 L894.2 1085.4 L893.7 1086.5 L893.2 1087.5 L892.7 1088.6 L892.2 1089.6 L891.7 1090.7" fill="none" stroke="#000" stroke-width="0.9" />
<path d="M929.1 1094.9 L930.2 1094.1 L931.2 1093.2 L932.3 1092.4 L933.3 1091.5 L934.3 1090.7 L935.4 1089.8 L936.5 1089 L937.6 1088.3 L938.7 1087.5 L939.9 1086.7 L941.1 1086 L942.3 1085.2 L943.5 1084.5 L944.8 1083.9 L946 1083.3 L947.2 1082.8 L948.5 1082.4 L949.8 1081.9 L951.1 1081.4 L952.4 1081.1 L953.7 1080.8 L954.9 1080.6 L956 1080.7 L956.9 1081 L957.5 1081.6 L958 1082.3 L958.4 1083.3 L958.8 1084.4 L959 1085.5 L959.3 1086.7 L959.6 1087.8 L959.9 1088.9" fill="none" stroke="#000" stroke-width="1.1" />
<path d="M956.9 1081 L957.5 1082.2 L958.2 1083.4 L958.9 1084.6 L959.5 1085.8 L960.2 1087 L960.8 1088.2 L961.3 1089.4 L961.7 1090.7 L962 1091.9 L962.3 1093 L962.6 1094.2 L962.7 1095.4 L962.9 1096.7 L962.9 1097.9 L963 1099.1 L962.9 1100.3 L962.8 1101.7 L962.6 1103 L962.4 1104.4 L962.1 1105.8 L961.7 1107.2 L961.3 1108.6 L960.9 1109.9 L960.5 1111.2 L960.1 1112.3 L959.7 1113.5 L959.2 1114.6 L958.8 1115.7 L958.3 1116.7 L957.8 1117.8 L957.3 1118.9 L956.9 1120" fill="none" stroke="#000" stroke-width="1.1" />
<path d="M929.1 1094.9 L912.2 1120" fill="none" stroke="#000" stroke-width="1.1" />
<path d="M929.1 1094.9 L953.3 1112.4 L959.3 1120" fill="none" stroke="#000" stroke-width="1.1" />
<path d="M918.3 1120 L918.8 1118.9 L919.4 1117.7 L919.9 1116.6 L920.4 1115.4 L921 1114.3 L921.6 1113.2 L922.3 1112.1 L923.1 1111.2 L924.1 1110.2 L925.2 1109.3 L926.4 1108.5 L927.6 1107.6 L928.9 1106.9 L930.2 1106.2 L931.5 1105.6 L932.8 1105.2 L933.8 1104.8 L934.9 1104.5 L936 1104.2 L937 1103.9 L938.1 1103.8 L939.2 1103.7 L940.2 1103.8 L941.2 1104 L942.2 1104.3 L943.1 1104.7 L944 1105.3 L944.9 1106 L945.8 1106.7 L946.7 1107.4 L947.5 1108.1 L948.4 1108.8" fill="none" stroke="#000" stroke-width="1.1" />
<path d="M923.1 1120 L923.8 1119.2 L924.6 1118.3 L925.3 1117.5 L926 1116.6 L926.7 1115.8 L927.5 1115 L928.3 1114.3 L929.1 1113.6 L930.1 1113 L931.1 1112.3 L932.2 1111.7 L933.3 1111.2 L934.4 1110.7 L935.5 1110.3 L936.6 1110.1 L937.6 1110 L938.4 1110 L939.2 1110.2 L939.9 1110.5 L940.7 1110.9 L941.4 1111.3 L942.1 1111.7 L942.9 1112.1 L943.6 1112.4" fill="none" stroke="#000" stroke-width="1.1" />
<path d="M1136.4 1020 L1135.9 1021.2 L1135.5 1022.4 L1135.1 1023.6 L1134.7 1024.8 L1134.3 1026 L1133.8 1027.2 L1133.3 1028.4 L1132.7 1029.7 L1132 1031 L1131.2 1032.5 L1130.3 1033.9 L1129.3 1035.3 L1128.4 1036.7 L1127.4 1038.1 L1126.4 1039.3 L1125.5 1040.5 L1124.7 1041.4 L1123.9 1042.2 L1123 1043 L1122.2 1043.7 L1121.4 1044.4 L1120.6 1045.2 L1120 1045.8 L1119.5 1046.5 L1119.2 1047 L1119.1 1047.5 L1118.9 1047.9 L1118.8 1048.3 L1118.7 1048.8 L1118.6 1049.2 L1118.5 1049.7 L1118.3 1050.2 L1117.8 1050.9 L1117.3 1051.6 L1116.7 1052.4 L1116.1 1053.1 L1115.4 1053.9 L1114.7 1054.7 L1114.1 1055.4 L1113.4 1056.2 L1112.8 1057 L1112.3 1057.7 L1111.7 1058.4 L1111.1 1059.2 L1110.5 1059.9 L1109.9 1060.7 L1109.3 1061.4 L1108.6 1062.2 L1107.8 1063.2 L1106.9 1064.2 L1106 1065.2 L1105.1 1066.3 L1104.1 1067.3 L1103.2 1068.4 L1102.3 1069.5 L1101.4 1070.7 L1100.4 1072 L1099.5 1073.3 L1098.6 1074.7 L1097.7 1076 L1096.8 1077.4 L1095.9 1078.8 L1095 1080.2 L1094.1 1081.5 L1093.3 1082.8 L1092.5 1084 L1091.7 1085.1 L1090.9 1086.3 L1090.1 1087.5 L1089.4 1088.7 L1088.7 1089.9 L1088.1 1091.2 L1087.5 1092.5 L1087.1 1093.8 L1086.7 1095.2 L1086.3 1096.6 L1085.9 1098 L1085.5 1099.3 L1085 1100.7 L1084.5 1102.1 L1083.8 1103.4 L1083.2 1104.8 L1082.5 1106.1 L1081.8 1107.4 L1081 1108.8 L1080.2 1110.1 L1079.3 1111.5 L1078.4 1112.9 L1077.3 1114.8 L1076 1116.8 L1074.7 1118.8 L1073.3 1120.8 L1071.8 1122.9 L1070.4 1124.9 L1069 1126.8 L1067.6 1128.6 L1066.4 1130.1 L1065.2 1131.6 L1064 1133 L1062.8 1134.3 L1061.6 1135.7 L1060.4 1137 L1059.2 1138.2 L1057.9 1139.5 L1056.8 1140.6 L1055.6 1141.7 L1054.4 1142.8 L1053.2 1143.8 L1052 1144.9 L1050.8 1145.9 L1049.6 1146.9 L1048.3 1147.9 L1046.8 1149 L1045.4 1150.1 L1043.9 1151.1 L1042.3 1152.2 L1040.8 1153.2 L1039.3 1154.3 L1037.7 1155.3 L1036.2 1156.4 L1034.7 1157.4 L1033.1 1158.5 L1031.6 1159.6 L1030 1160.7 L1028.5 1161.8 L1027 1162.9 L1025.6 1163.9 L1024.1 1164.8 L1023 1165.5 L1021.9 1166.2 L1020.9 1166.9 L1019.8 1167.5 L1018.8 1168.1 L1017.8 1168.7 L1016.7 1169.4 L1015.7 1170" fill="none" stroke="#000" stroke-width="1.8" />
<path d="M1108.6 1020 L1108.7 1020.8 L1108.8 1021.6 L1108.9 1022.4 L1108.9 1023.2 L1109 1024 L1109.2 1024.7 L1109.5 1025.4 L1109.8 1026 L1110.3 1026.6 L1111 1027.2 L1111.7 1027.7 L1112.5 1028.2 L1113.4 1028.6 L1114.2 1028.9 L1115.1 1029 L1115.8 1029.1 L1116.6 1028.9 L1117.5 1028.6 L1118.3 1028.1 L1119.1 1027.5 L1119.9 1026.9 L1120.7 1026.2 L1121.3 1025.5 L1121.9 1024.8 L1122.2 1024.3 L1122.5 1023.7 L1122.8 1023.1 L1123 1022.5 L1123.1 1021.9 L1123.3 1021.2 L1123.5 1020.6 L1123.7 1020" fill="none" stroke="#000" stroke-width="1.1" />
<path d="M1079.6 1020 L1112.2 1055" fill="none" stroke="#000" stroke-width="1.1" />
<path d="M1084.5 1026.6 L1109.8 1053.2" fill="none" stroke="#000" stroke-width="0.9" />
<path d="M1095.3 1039.3 L1094 1040.3 L1092.7 1041.2 L1091.4 1042.1 L1090.1 1043 L1088.7 1044 L1087.4 1045.1 L1085.9 1046.3 L1084.5 1047.8 L1081.7 1050.9 L1078.5 1054.9 L1075.2 1059.4 L1071.8 1064.2 L1068.5 1068.9 L1065.3 1073.4 L1062.6 1077.3 L1060.3 1080.3 L1059.4 1081.4 L1058.4 1082.4 L1057.5 1083.3 L1056.6 1084.2 L1055.9 1084.9 L1055.3 1085.7 L1055 1086.3 L1054.9 1087 L1055.1 1087.5 L1055.4 1088 L1056 1088.6 L1056.6 1089.1 L1057.2 1089.5 L1057.9 1089.8 L1058.6 1090 L1059.1 1090 L1059.8 1089.7 L1060.5 1089.1 L1061.2 1088.2 L1061.9 1087.2 L1062.5 1086 L1063.2 1084.9 L1063.9 1083.7 L1064.6 1082.8" fill="none" stroke="#000" stroke-width="1.1" />
<path d="M1096.5 1041.7 L1067.6 1080.3" fill="none" stroke="#000" stroke-width="1.1" />
<path d="M1064 1055 L1056.7 1082.8" fill="none" stroke="#000" stroke-width="1.1" />
<path d="M1091.7 1046.5 L1065.2 1081.5" fill="none" stroke="#000" stroke-width="0.9" />
<path d="M1109.8 1052.6 L1108.6 1053.2 L1107.4 1053.8 L1106.3 1054.4 L1105.1 1055 L1103.9 1055.6 L1102.7 1056.2 L1101.4 1056.8 L1100.2 1057.4 L1098.7 1058 L1097.1 1058.6 L1095.4 1059.2 L1093.7 1059.8 L1092.1 1060.4 L1090.6 1061 L1089.2 1061.6 L1088.1 1062.2 L1087.5 1062.7 L1086.9 1063.1 L1086.4 1063.5 L1085.9 1063.9 L1085.5 1064.3 L1085.1 1064.8 L1084.8 1065.3 L1084.5 1065.9 L1084.2 1066.6 L1083.9 1067.4 L1083.8 1068.3 L1083.7 1069.2 L1083.6 1070.1 L1083.5 1071.1 L1083.4 1072.1 L1083.3 1073.1 L1083 1074.4 L1082.7 1075.7 L1082.3 1077.1 L1081.9 1078.6 L1081.6 1080 L1081.3 1081.4 L1081.1 1082.7 L1081.1 1084 L1081.1 1084.9 L1081.2 1085.9 L1081.3 1086.9 L1081.5 1087.8 L1081.7 1088.7 L1081.9 1089.4 L1082.3 1090.1 L1082.7 1090.6 L1083 1090.9 L1083.5 1091.1 L1083.9 1091.3 L1084.4 1091.4 L1084.9 1091.5 L1085.4 1091.5 L1085.9 1091.4 L1086.3 1091.2 L1086.8 1090.7 L1087.3 1089.9 L1087.7 1088.9 L1088 1087.7 L1088.3 1086.4 L1088.6 1085.1 L1088.9 1083.9 L1089.3 1082.8" fill="none" stroke="#000" stroke-width="1.1" />
<path d="M1107.4 1056.2 L1105 1057.2 L1102.5 1058.3 L1099.9 1059.3 L1097.3 1060.3 L1094.9 1061.3 L1092.7 1062.4 L1090.8 1063.5 L1089.3 1064.7 L1088.6 1065.3 L1088.1 1066 L1087.7 1066.7 L1087.4 1067.4 L1087.1 1068.2 L1086.8 1068.9 L1086.6 1069.8 L1086.3 1070.7 L1085.9 1072.2 L1085.6 1073.8 L1085.4 1075.6 L1085.2 1077.5 L1085 1079.4 L1084.9 1081.4 L1084.7 1083.3 L1084.5 1085.2" fill="none" stroke="#000" stroke-width="0.9" />
<path d="M1112.2 1056.2 L1111.5 1057.2 L1110.8 1058.2 L1110.1 1059.2 L1109.4 1060.2 L1108.7 1061.2 L1107.9 1062.3 L1107.1 1063.4 L1106.2 1064.7 L1104.5 1066.8 L1102.6 1069.2 L1100.5 1071.7 L1098.3 1074.4 L1096 1077.1 L1093.7 1079.8 L1091.5 1082.5 L1089.3 1085.2" fill="none" stroke="#000" stroke-width="1.1" />
<path d="M1105 1059.8 L1103.3 1060.7 L1101.4 1061.6 L1099.5 1062.4 L1097.7 1063.3 L1095.9 1064.2 L1094.3 1065.1 L1092.9 1066.1 L1091.7 1067.1 L1091.1 1067.8 L1090.6 1068.5 L1090.2 1069.3 L1089.9 1070 L1089.6 1070.8 L1089.3 1071.6 L1089 1072.3 L1088.7 1073.1" fill="none" stroke="#000" stroke-width="0.9" />
<path d="M1062.8 1085.2 L1062.2 1086.4 L1061.6 1087.5 L1061.1 1088.7 L1060.5 1089.9 L1060 1091 L1059.4 1092.3 L1058.7 1093.5 L1057.9 1094.8 L1056.7 1096.7 L1055.4 1098.7 L1054 1100.8 L1052.5 1103 L1051 1105.2 L1049.3 1107.3 L1047.6 1109.5 L1045.9 1111.7 L1043.6 1114.3 L1041 1117.1 L1038.3 1120 L1035.5 1122.8 L1032.8 1125.6 L1030.3 1128.1 L1028.2 1130.4 L1026.5 1132.2 L1026 1132.9 L1025.6 1133.5 L1025.2 1134 L1024.8 1134.5 L1024.5 1135 L1024.2 1135.5 L1023.9 1135.9 L1023.5 1136.5" fill="none" stroke="#000" stroke-width="1.1" />
<path d="M1060.3 1087.6 L1059.8 1088.6 L1059.2 1089.6 L1058.7 1090.6 L1058.1 1091.6 L1057.5 1092.7 L1056.9 1093.7 L1056.2 1094.8 L1055.5 1096 L1054.3 1097.9 L1053 1099.9 L1051.6 1102 L1050.1 1104.2 L1048.5 1106.5 L1046.8 1108.7 L1045.2 1110.9 L1043.4 1112.9 L1041.6 1115 L1039.6 1117 L1037.6 1118.9 L1035.5 1120.9 L1033.4 1122.8 L1031.3 1124.7 L1029.2 1126.7 L1027.2 1128.6" fill="none" stroke="#000" stroke-width="0.9" />
<path d="M1077.2 1086.4 L1076.6 1087.9 L1076.1 1089.4 L1075.5 1090.8 L1075 1092.3 L1074.4 1093.8 L1073.8 1095.3 L1073.1 1096.9 L1072.4 1098.4 L1071.4 1100.4 L1070.3 1102.5 L1069.1 1104.6 L1067.8 1106.7 L1066.6 1108.9 L1065.3 1111.1 L1064 1113.2 L1062.8 1115.3" fill="none" stroke="#000" stroke-width="1.1" />
<path d="M1080.2 1087.6 L1079.6 1089.2 L1078.9 1090.9 L1078.3 1092.5 L1077.7 1094.2 L1077 1095.8 L1076.3 1097.5 L1075.6 1099.2 L1074.8 1100.9 L1073.9 1102.8 L1072.8 1104.7 L1071.8 1106.7 L1070.6 1108.6 L1069.5 1110.6 L1068.4 1112.6 L1067.2 1114.6 L1066.1 1116.5" fill="none" stroke="#000" stroke-width="0.9" />
<path d="M1027.2 1125.6 L1022.9 1134.6 L1025.9 1136.1" fill="none" stroke="#000" stroke-width="1.1" />
<path d="M1045.3 1125 L1045.3 1124.3 L1045.3 1123.7 L1045.4 1123.1 L1045.5 1122.4 L1045.7 1121.8 L1045.9 1121.3 L1046.2 1120.7 L1046.5 1120.2 L1046.8 1119.6 L1047.3 1119.1 L1047.8 1118.6 L1048.3 1118.1 L1048.9 1117.7 L1049.5 1117.2 L1050.1 1116.9 L1050.7 1116.5 L1051.4 1116.2 L1052.1 1116 L1052.8 1115.7 L1053.6 1115.6 L1054.4 1115.4 L1055.2 1115.3 L1056 1115.3 L1056.7 1115.3 L1057.5 1115.4 L1058.3 1115.6 L1059.1 1115.9 L1059.9 1116.1 L1060.7 1116.5 L1061.4 1116.9 L1062.1 1117.3 L1062.8 1117.7 L1063.3 1118.2 L1063.9 1118.8 L1064.5 1119.3 L1065 1119.9 L1065.4 1120.6 L1065.8 1121.2 L1066.1 1121.9 L1066.4 1122.6 L1066.5 1123.3 L1066.6 1124 L1066.6 1124.8 L1066.5 1125.5 L1066.4 1126.3 L1066.2 1127.1 L1066 1127.9 L1065.8 1128.6 L1065.4 1129.4 L1065 1130.2 L1064.5 1131 L1064 1131.8 L1063.4 1132.6 L1062.8 1133.3 L1062.2 1134 L1061.5 1134.6 L1061 1135.2 L1060.4 1135.7 L1059.8 1136.1 L1059.2 1136.6 L1058.6 1136.9 L1058 1137.3 L1057.3 1137.5 L1056.7 1137.7 L1056.1 1137.7 L1055.5 1137.7 L1054.9 1137.6 L1054.3 1137.5 L1053.6 1137.3 L1053 1137 L1052.5 1136.8 L1051.9 1136.5 L1051.3 1136.1 L1050.7 1135.7 L1050.1 1135.2 L1049.6 1134.7 L1049.1 1134.1 L1048.6 1133.5 L1048.1 1132.9 L1047.7 1132.2 L1047.2 1131.4 L1046.8 1130.6 L1046.4 1129.6 L1046 1128.7 L1045.7 1127.7 L1045.5 1126.8 L1045.3 1125.8Z" fill="#fff" stroke="#000" stroke-width="1.1" />
<ellipse cx="1061.3" cy="1128.6" rx="4.6" ry="6.6" transform="rotate(25 1061.3 1128.6)" fill="none" stroke="#000" stroke-width="1" />
<ellipse cx="1061.9" cy="1129.2" rx="1.9" ry="2.7" transform="rotate(25 1061.9 1129.2)" fill="none" stroke="#000" stroke-width="1.2" />
<path d="M1050.7 1116.5 L1050.4 1117.3 L1050 1118 L1049.6 1118.8 L1049.2 1119.5 L1048.9 1120.2 L1048.6 1121 L1048.4 1121.8 L1048.3 1122.6 L1048.3 1123.6 L1048.4 1124.6 L1048.7 1125.7 L1049 1126.8 L1049.4 1127.9 L1049.8 1129 L1050.2 1130 L1050.7 1131 L1051.1 1131.9 L1051.6 1132.6 L1052.1 1133.4 L1052.7 1134.1 L1053.2 1134.9 L1053.8 1135.6 L1054.4 1136.3 L1054.9 1137.1" fill="none" stroke="#000" stroke-width="0.9" />
<path d="M1050.1 1060.4 L1054.3 1062.2" fill="none" stroke="#000" stroke-width="1.1" />
<path d="M1061.5 1066.5 L1091.7 1083.4" fill="none" stroke="#000" stroke-width="1.1" />
<path d="M1012.4 1184.5 L1012 1185.5 L1011.5 1186.6 L1011.1 1187.7 L1010.7 1188.8 L1010.3 1189.8 L1009.8 1190.9 L1009.3 1191.9 L1008.8 1192.9 L1008.2 1193.9 L1007.5 1194.9 L1006.8 1195.8 L1006.1 1196.7 L1005.3 1197.6 L1004.5 1198.5 L1003.6 1199.3 L1002.7 1200.2 L1001.7 1201 L1000.6 1201.9 L999.4 1202.7 L998.2 1203.5 L996.9 1204.3 L995.6 1205 L994.4 1205.6 L993.1 1206.2 L991.9 1206.7 L990.7 1207.1 L989.5 1207.5 L988.2 1207.9 L987 1208.1 L985.8 1208.4 L984.6 1208.5 L983.4 1208.6 L982.5 1208.6 L981.5 1208.5 L980.5 1208.4 L979.6 1208.2 L978.7 1208 L977.8 1207.8 L977 1207.6 L976.2 1207.4 L975.7 1207.3 L975.2 1207.1 L974.7 1207 L974.3 1206.8 L973.9 1206.7 L973.4 1206.5 L973 1206.3 L972.6 1206.2" fill="none" stroke="#000" stroke-width="1.8" />
<path d="M972.6 1206.2 L971.8 1206.6 L971.1 1207 L970.3 1207.4 L969.6 1207.8 L968.8 1208.2 L968.1 1208.5 L967.3 1208.9 L966.5 1209.2 L965.8 1209.5 L965 1209.8 L964.3 1210.1 L963.5 1210.4 L962.7 1210.7 L962 1210.9 L961.2 1211 L960.5 1211 L959.9 1211 L959.3 1210.9 L958.7 1210.7 L958.1 1210.5 L957.5 1210.2 L956.9 1209.9 L956.3 1209.6 L955.7 1209.2 L954.9 1208.7 L954.1 1208.1 L953.4 1207.4 L952.6 1206.6 L951.8 1205.8 L951.1 1205.1 L950.3 1204.4 L949.6 1203.8 L949.2 1203.4 L948.7 1203 L948.2 1202.6 L947.8 1202.2 L947.3 1201.9 L946.9 1201.5 L946.5 1201.1 L946 1200.8" fill="none" stroke="#000" stroke-width="1.8" />
<path d="M946 1200.8 L945.6 1200.8 L945.1 1200.8 L944.6 1200.9 L944.1 1200.9 L943.7 1200.9 L943.2 1201 L942.8 1201.1 L942.4 1201.4 L942 1201.8 L941.7 1202.3 L941.4 1202.9 L941.2 1203.5 L940.9 1204.2 L940.7 1204.9 L940.4 1205.6 L940 1206.2 L939.5 1206.8 L939 1207.5 L938.4 1208.2 L937.8 1208.8 L937.2 1209.5 L936.5 1210 L935.9 1210.6 L935.2 1211 L934.5 1211.4 L933.8 1211.8 L933 1212.1 L932.2 1212.4 L931.4 1212.6 L930.7 1212.7 L929.9 1212.8 L929.1 1212.8 L928.4 1212.7 L927.6 1212.6 L926.9 1212.3 L926.1 1212 L925.4 1211.6 L924.6 1211.2 L923.9 1210.8 L923.1 1210.4 L922.2 1210 L921.3 1209.4 L920.4 1208.9 L919.5 1208.3 L918.6 1207.7 L917.7 1207.2 L916.8 1206.7 L915.9 1206.2 L915 1205.8 L914.1 1205.5 L913.2 1205.1 L912.3 1204.8 L911.4 1204.5 L910.5 1204.3 L909.6 1204 L908.6 1203.8 L907.6 1203.6 L906.6 1203.4 L905.5 1203.2 L904.4 1203.1 L903.4 1203 L902.3 1202.8 L901.2 1202.7 L900.2 1202.6" fill="none" stroke="#000" stroke-width="1.8" />
<path d="M900.2 1202.6 L885.7 1220.1 L877.2 1218.9 L870 1214.6" fill="none" stroke="#000" stroke-width="1.8" />
<ellipse cx="932.8" cy="1122.9" rx="20.3" ry="19.1" transform="rotate(-25 932.8 1122.9)" fill="none" stroke="#000" stroke-width="1.1" />
<ellipse cx="931.3" cy="1122.9" rx="20.3" ry="19.1" transform="rotate(-25 931.3 1122.9)" fill="none" stroke="#000" stroke-width="0.9" />
<ellipse cx="934" cy="1123.8" rx="10.4" ry="9.4" transform="rotate(-25 934 1123.8)" fill="none" stroke="#000" stroke-width="1.1" />
<path d="M947.2 1108.4 L949.5 1110.6 L951.8 1112.9 L954.3 1115.2 L956.7 1117.5 L959 1119.7 L961 1121.8 L962.8 1123.7 L964.1 1125.3 L964.6 1126 L965 1126.6 L965.4 1127.2 L965.7 1127.8 L965.9 1128.3 L966.1 1128.9 L966.3 1129.5 L966.5 1130.2 L966.8 1131.2 L967 1132.3 L967.1 1133.5 L967.2 1134.7 L967.2 1136 L967.2 1137.3 L967.2 1138.6 L967.1 1139.8 L967 1141.2 L966.9 1142.5 L966.7 1143.9 L966.4 1145.2 L966.1 1146.6 L965.8 1148 L965.6 1149.3 L965.3 1150.7" fill="none" stroke="#000" stroke-width="1.1" />
<path d="M956.3 1115.7 L956.7 1114.6 L957 1113.6 L957.4 1112.5 L957.7 1111.4 L958.1 1110.3 L958.5 1109.3 L958.9 1108.3 L959.3 1107.2 L959.7 1106.3 L960.2 1105.4 L960.6 1104.5 L961.1 1103.6 L961.5 1102.7 L962 1101.8 L962.5 1100.9 L962.9 1100" fill="none" stroke="#000" stroke-width="1.1" />
<path d="M953.3 1113.3 L956.9 1100" fill="none" stroke="#000" stroke-width="1.1" />
<path d="M899 1170 L899.4 1169.4 L899.8 1168.7 L900.2 1168.1 L900.6 1167.4 L901.1 1166.8 L901.5 1166.2 L902 1165.7 L902.6 1165.2 L903.2 1164.7 L903.9 1164.3 L904.7 1163.9 L905.5 1163.5 L906.3 1163.2 L907.1 1163 L907.9 1162.8 L908.6 1162.8 L909.2 1162.7 L909.9 1162.8 L910.5 1162.9 L911.1 1163 L911.7 1163.2 L912.3 1163.4 L912.9 1163.7 L913.4 1164 L914.1 1164.4 L914.7 1165 L915.3 1165.7 L915.9 1166.5 L916.5 1167.2 L917.1 1167.9 L917.7 1168.4 L918.3 1168.8 L918.7 1168.9 L919.2 1169.1 L919.6 1169.1 L920.1 1169.1 L920.6 1169.1 L921 1169 L921.5 1168.9 L921.9 1168.8 L922.4 1168.6 L922.8 1168.3 L923.3 1167.9 L923.7 1167.5 L924.2 1167 L924.6 1166.6 L925.1 1166.2 L925.5 1165.8" fill="none" stroke="#000" stroke-width="1.1" />
<path d="M925.5 1165.8 L927.3 1167.6 L938.2 1179.6" fill="none" stroke="#000" stroke-width="1.1" />
<path d="M938.2 1179.6 L937.9 1180.2 L937.7 1180.9 L937.4 1181.5 L937.1 1182.1 L936.8 1182.7 L936.6 1183.3 L936.5 1183.9 L936.4 1184.5 L936.4 1185.1 L936.4 1185.7 L936.5 1186.3 L936.6 1187 L936.8 1187.6 L937 1188.2 L937.3 1188.8 L937.6 1189.3 L937.9 1189.8 L938.4 1190.2 L938.9 1190.7 L939.4 1191.1 L939.9 1191.5 L940.4 1191.9 L940.8 1192.4 L941.2 1192.9 L941.5 1193.7 L941.7 1194.5 L941.9 1195.4 L942 1196.3 L942.1 1197.3 L942.2 1198.3 L942.3 1199.2 L942.4 1200.2" fill="none" stroke="#000" stroke-width="1.1" />
<path d="M899 1170 L898.9 1171.1 L898.7 1172.2 L898.5 1173.2 L898.3 1174.3 L898.2 1175.4 L898.1 1176.5 L898.2 1177.5 L898.4 1178.4 L898.7 1179.3 L899.1 1180 L899.7 1180.7 L900.3 1181.4 L900.9 1182.1 L901.6 1182.9 L902.1 1183.6 L902.6 1184.5 L903 1185.6 L903.4 1186.7 L903.7 1187.9 L904 1189.2 L904.3 1190.5 L904.5 1191.7 L904.8 1193 L905 1194.1 L905.2 1195.1 L905.2 1196.1 L905.3 1197.1 L905.3 1198 L905.4 1199 L905.6 1199.8 L905.8 1200.6 L906.2 1201.4 L906.7 1202 L907.4 1202.5 L908.1 1203 L908.9 1203.4 L909.8 1203.8 L910.6 1204.2 L911.4 1204.6 L912.2 1205" fill="none" stroke="#000" stroke-width="1.1" />
<ellipse cx="907.4" cy="1173.6" rx="3" ry="4.3" transform="rotate(25 907.4 1173.6)" fill="none" stroke="#000" stroke-width="1.1" />
<ellipse cx="920.1" cy="1187.5" rx="4.5" ry="5.8" transform="rotate(25 920.1 1187.5)" fill="none" stroke="#000" stroke-width="1.1" />
<ellipse cx="932.8" cy="1201.4" rx="3" ry="4.3" transform="rotate(25 932.8 1201.4)" fill="none" stroke="#000" stroke-width="1.1" />
<path d="M917.1 1142.8 L960.5 1192.9 L945.4 1200.4" fill="none" stroke="#000" stroke-width="1.1" />
<path d="M960.5 1192.9 L961.3 1193.8 L962.1 1194.7 L962.9 1195.6 L963.7 1196.5 L964.5 1197.4 L965.3 1198.3 L965.9 1199.3 L966.5 1200.2 L967 1200.9 L967.3 1201.7 L967.6 1202.4 L967.9 1203.2 L968.2 1203.9 L968.4 1204.7 L968.7 1205.4 L969 1206.2" fill="none" stroke="#000" stroke-width="1.1" />
<path d="M966.5 1200.2 L967.4 1200.2 L968.3 1200.3 L969.2 1200.4 L970 1200.4 L970.9 1200.5 L971.8 1200.6 L972.8 1200.7 L973.8 1200.8 L975.2 1201 L976.6 1201.3 L978.1 1201.7 L979.7 1202 L981.3 1202.3 L982.8 1202.6 L984.4 1202.7 L985.8 1202.6 L987.3 1202.3 L988.7 1201.9 L990.2 1201.4 L991.6 1200.7 L993 1200 L994.3 1199.3 L995.6 1198.5 L996.7 1197.7 L997.6 1197.1 L998.4 1196.4 L999.2 1195.6 L999.9 1194.8 L1000.6 1194.1 L1001.3 1193.3 L1002 1192.5 L1002.7 1191.7" fill="none" stroke="#000" stroke-width="1.1" />
<path d="M912.2 1136.2 L911.5 1136.7 L910.8 1137.1 L910.1 1137.6 L909.4 1138.1 L908.7 1138.6 L907.9 1139 L907.1 1139.4 L906.2 1139.8 L904.9 1140.3 L903.5 1140.8 L901.9 1141.2 L900.3 1141.6 L898.7 1142 L897.1 1142.3 L895.6 1142.6 L894.1 1142.8 L893 1143 L891.9 1143.1 L890.9 1143.2 L889.8 1143.2 L888.8 1143.3 L887.8 1143.3 L886.7 1143.4 L885.7 1143.4" fill="none" stroke="#000" stroke-width="1.1" />
<path d="M917.7 1142.8 L916.7 1143.5 L915.8 1144.2 L914.8 1145 L913.9 1145.7 L912.9 1146.4 L912 1147.1 L910.9 1147.7 L909.8 1148.3 L908.5 1148.9 L907.1 1149.4 L905.6 1149.9 L904 1150.4 L902.5 1150.8 L900.9 1151.2 L899.3 1151.6 L897.8 1151.9 L896.1 1152.2 L894.5 1152.4 L892.8 1152.5 L891.2 1152.7 L889.5 1152.8 L887.8 1152.9 L886.1 1153 L884.5 1153.1" fill="none" stroke="#000" stroke-width="1.1" />
<path d="M885.1 1141 L884.5 1141.3 L884 1141.6 L883.4 1141.8 L882.8 1142.1 L882.2 1142.3 L881.7 1142.6 L881.2 1143 L880.9 1143.4 L880.5 1144 L880.2 1144.7 L880 1145.5 L879.8 1146.3 L879.7 1147.1 L879.6 1147.9 L879.6 1148.7 L879.7 1149.5 L879.8 1150.3 L880 1151.1 L880.2 1152 L880.6 1152.8 L880.9 1153.6 L881.3 1154.4 L881.7 1155 L882.1 1155.5 L882.3 1155.7 L882.5 1155.9 L882.7 1156.1 L883 1156.2 L883.2 1156.3 L883.4 1156.5 L883.6 1156.6 L883.9 1156.7" fill="none" stroke="#000" stroke-width="1.1" />
<path d="M886.9 1141.6 L886.3 1141.9 L885.8 1142.2 L885.2 1142.4 L884.6 1142.7 L884 1143 L883.5 1143.3 L883.1 1143.6 L882.7 1144 L882.3 1144.6 L882.1 1145.2 L881.8 1145.9 L881.7 1146.6 L881.5 1147.3 L881.5 1148.1 L881.4 1148.8 L881.5 1149.5 L881.6 1150.2 L881.7 1150.8 L882 1151.5 L882.3 1152.2 L882.6 1152.9 L882.9 1153.6 L883.2 1154.2 L883.5 1154.9" fill="none" stroke="#000" stroke-width="0.9" />
<path d="M882.7 1157.3 L875.4 1169.4 L879.1 1174.8 L902.6 1184.5" fill="none" stroke="#000" stroke-width="1.1" />
<path d="M884.5 1156.7 L886.3 1157 L888.2 1157.3 L890.1 1157.5 L891.9 1157.8 L893.8 1158.1 L895.6 1158.4 L897.3 1158.7 L899 1159.1 L900.3 1159.5 L901.5 1159.9 L902.7 1160.4 L903.9 1160.9 L905.1 1161.3 L906.3 1161.8 L907.4 1162.3 L908.6 1162.8" fill="none" stroke="#000" stroke-width="1.1" />
<path d="M879.1 1174.8 L879.4 1176 L879.8 1177.3 L880.1 1178.5 L880.5 1179.7 L880.9 1181 L881.2 1182.2 L881.6 1183.3 L882.1 1184.5 L882.4 1185.4 L882.8 1186.4 L883.1 1187.3 L883.4 1188.2 L883.8 1189.1 L884.3 1190 L884.9 1190.8 L885.7 1191.7 L887.4 1193.2 L889.5 1194.6 L892.1 1195.9 L894.8 1197.3 L897.7 1198.6 L900.7 1199.9 L903.5 1201.2 L906.2 1202.6" fill="none" stroke="#000" stroke-width="1.1" />
<path d="M880.9 1179.6 L902.6 1189.3" fill="none" stroke="#000" stroke-width="1.1" />
<path d="M870 1192.9 L870.6 1193.8 L871.2 1194.7 L871.9 1195.6 L872.5 1196.5 L873.1 1197.4 L873.7 1198.3 L874.3 1199.2 L874.8 1200.2 L875.4 1201.2 L875.9 1202.2 L876.4 1203.3 L876.9 1204.3 L877.3 1205.4 L877.7 1206.5 L878.1 1207.6 L878.4 1208.6 L878.7 1209.5 L878.9 1210.4 L879 1211.3 L879.2 1212.2 L879.3 1213.1 L879.4 1214 L879.5 1214.9 L879.7 1215.8" fill="none" stroke="#000" stroke-width="1.1" />
<path d="M870 1212.2 L870.9 1212.7 L871.8 1213.1 L872.7 1213.6 L873.6 1214.1 L874.5 1214.5 L875.4 1215 L876.3 1215.4 L877.2 1215.8 L878.3 1216.3 L879.3 1216.8 L880.4 1217.2 L881.4 1217.7 L882.5 1218.1 L883.6 1218.6 L884.6 1219 L885.7 1219.5" fill="none" stroke="#000" stroke-width="1.1" />
<path d="M870 1122.9 L870.9 1122.3 L871.8 1121.7 L872.7 1121.2 L873.6 1120.6 L874.5 1120 L875.4 1119.4 L876.3 1118.8 L877.2 1118.1 L878.2 1117.4 L879.1 1116.7 L880 1116 L880.9 1115.3 L881.8 1114.6 L882.7 1113.8 L883.6 1113 L884.5 1112.1 L885.7 1110.8 L886.9 1109.4 L888.1 1107.9 L889.3 1106.3 L890.5 1104.7 L891.7 1103.1 L892.9 1101.5 L894.1 1100" fill="none" stroke="#000" stroke-width="1.1" />
<path d="M870 1139.8 L870.8 1139.5 L871.5 1139.1 L872.3 1138.7 L873 1138.3 L873.8 1137.9 L874.5 1137.6 L875.3 1137.4 L876 1137.4 L876.8 1137.6 L877.6 1137.9 L878.3 1138.3 L879.1 1138.8 L879.8 1139.4 L880.6 1140 L881.3 1140.5 L882.1 1141" fill="none" stroke="#000" stroke-width="1.1" />
<path d="M886.9 1124.1 L885.7 1126.2 L884.5 1128.3 L883.3 1130.4 L882.1 1132.5 L880.9 1134.6 L879.7 1136.5 L878.5 1138.3 L877.2 1139.8 L876.3 1140.8 L875.5 1141.6 L874.5 1142.4 L873.6 1143.1 L872.7 1143.8 L871.8 1144.4 L870.9 1145.1 L870 1145.9" fill="none" stroke="#000" stroke-width="1.1" />
<path d="M902.6 1100 L900.5 1102.8 L898.4 1105.7 L896.4 1108.7 L894.3 1111.6 L892.2 1114.5 L890.1 1117.2 L887.9 1119.6 L885.7 1121.7 L883.8 1123.2 L881.9 1124.4 L879.9 1125.5 L878 1126.4 L876 1127.4 L874 1128.2 L872 1129.2 L870 1130.2" fill="none" stroke="#000" stroke-width="1.1" />
<path d="M909.8 1100 L907.8 1102.4 L905.8 1104.9 L903.8 1107.4 L901.7 1109.9 L899.7 1112.4 L897.8 1114.8 L895.9 1117.1 L894.1 1119.3 L892.8 1120.9 L891.6 1122.5 L890.3 1124 L889.2 1125.5 L888 1127 L886.8 1128.4 L885.7 1129.9 L884.5 1131.4" fill="none" stroke="#000" stroke-width="1.1" />
<path d="M927.9 1100 L912.2 1122.9" fill="none" stroke="#000" stroke-width="1.1" />
<path d="M870 1107.2 L870.6 1107 L871.2 1106.7 L871.9 1106.4 L872.5 1106.2 L873.1 1105.9 L873.7 1105.6 L874.3 1105.2 L874.8 1104.8 L875.4 1104.3 L875.8 1103.8 L876.3 1103.2 L876.7 1102.6 L877.2 1101.9 L877.6 1101.3 L878 1100.6 L878.4 1100" fill="none" stroke="#000" stroke-width="0.9" />
<path d="M870 1114.5 L871.1 1113.9 L872.2 1113.4 L873.2 1112.8 L874.3 1112.3 L875.4 1111.7 L876.5 1111.1 L877.5 1110.4 L878.4 1109.7 L879.5 1108.7 L880.4 1107.6 L881.3 1106.4 L882.2 1105.1 L883.1 1103.8 L883.9 1102.5 L884.8 1101.2 L885.7 1100" fill="none" stroke="#000" stroke-width="0.9" />
<path d="M784.5 1110 L784.3 1111.2 L784.1 1112.4 L783.9 1113.6 L783.8 1114.8 L783.6 1116 L783.4 1117.2 L783.3 1118.4 L783.3 1119.7 L783.3 1120.9 L783.3 1122.1 L783.3 1123.3 L783.4 1124.5 L783.5 1125.7 L783.6 1126.9 L783.7 1128.1 L783.9 1129.3 L784.1 1130.7 L784.3 1132 L784.6 1133.4 L784.9 1134.8 L785.2 1136.2 L785.6 1137.5 L785.9 1138.9 L786.3 1140.2 L786.6 1141.3 L786.9 1142.4 L787.3 1143.5 L787.6 1144.6 L788 1145.7 L788.4 1146.7 L788.8 1147.7 L789.3 1148.6 L789.8 1149.5 L790.4 1150.3 L790.9 1151.1 L791.5 1151.9 L792.2 1152.6 L792.8 1153.3 L793.5 1154 L794.1 1154.7 L794.8 1155.2 L795.4 1155.7 L796.1 1156.1 L796.8 1156.6 L797.5 1157 L798.2 1157.4 L798.9 1157.8 L799.6 1158.3" fill="none" stroke="#000" stroke-width="1.8" />
<path d="M799.6 1152.8 L800.2 1154 L800.9 1155.1 L801.6 1156.3 L802.2 1157.4 L802.9 1158.5 L803.6 1159.7 L804.3 1160.8 L805 1161.9 L805.7 1163 L806.4 1164 L807.1 1165.1 L807.9 1166.1 L808.6 1167.1 L809.4 1168.2 L810.2 1169.3 L811 1170.3 L812.1 1171.7 L813.3 1173 L814.6 1174.5 L815.9 1175.9 L817.2 1177.3 L818.4 1178.6 L819.6 1180 L820.7 1181.2 L821.4 1182.1 L822.2 1183 L822.8 1183.8 L823.5 1184.6 L824.2 1185.4 L824.8 1186.2 L825.4 1187 L826.1 1187.8" fill="none" stroke="#000" stroke-width="1.8" />
<path d="M826.1 1187.8 L825.5 1192.1" fill="none" stroke="#000" stroke-width="1.8" />
<path d="M825.5 1192.1 L826.1 1192.6 L826.7 1193.1 L827.3 1193.6 L827.9 1194.2 L828.4 1194.7 L829 1195.2 L829.7 1195.7 L830.3 1196.3 L831.2 1196.9 L832 1197.6 L832.9 1198.3 L833.8 1199 L834.8 1199.7 L835.7 1200.4 L836.7 1201.1 L837.6 1201.7 L838.5 1202.4 L839.4 1203 L840.4 1203.7 L841.3 1204.4 L842.2 1205 L843.1 1205.6 L844 1206.1 L844.8 1206.5 L845.4 1206.8 L845.9 1207 L846.5 1207.1 L847 1207.3 L847.5 1207.4 L848 1207.5 L848.5 1207.6 L849 1207.7" fill="none" stroke="#000" stroke-width="1.8" />
<path d="M849 1207.7 L850.2 1205.3" fill="none" stroke="#000" stroke-width="1.8" />
<path d="M850.2 1205.3 L851.1 1205.7 L851.9 1206 L852.7 1206.3 L853.5 1206.6 L854.3 1206.9 L855.2 1207.2 L856 1207.6 L856.9 1208 L858 1208.6 L859.2 1209.3 L860.4 1210 L861.6 1210.8 L862.8 1211.6 L864.1 1212.3 L865.3 1213.1 L866.5 1213.8 L867.7 1214.4 L868.9 1215.1 L870.1 1215.8 L871.3 1216.4 L872.5 1217.1 L873.7 1217.6 L875 1218.2 L876.2 1218.6 L877.4 1219 L878.6 1219.3 L879.8 1219.5 L881 1219.7 L882.2 1219.9 L883.4 1220 L884.6 1220.2 L885.8 1220.4" fill="none" stroke="#000" stroke-width="1.8" />
<path d="M799.6 1152.8 L800.4 1152.6 L801.2 1152.3 L802 1152 L802.8 1151.7 L803.6 1151.4 L804.4 1151.2 L805.3 1151.1 L806.2 1151 L807.5 1151.1 L809 1151.4 L810.4 1151.7 L812 1152.2 L813.6 1152.7 L815.1 1153.3 L816.7 1154 L818.3 1154.7 L820.1 1155.5 L821.9 1156.4 L823.7 1157.4 L825.5 1158.4 L827.4 1159.5 L829.2 1160.7 L831 1161.9 L832.8 1163.1 L834.6 1164.4 L836.4 1165.9 L838.3 1167.3 L840.1 1168.9 L841.9 1170.4 L843.7 1172 L845.4 1173.6 L847.2 1175.2 L849.1 1176.8 L850.9 1178.4 L852.7 1180 L854.5 1181.7 L856.3 1183.4 L858.1 1185 L859.9 1186.7 L861.7 1188.4 L863.6 1190.2 L865.5 1192 L867.4 1193.9 L869.3 1195.7 L871.1 1197.5 L872.9 1199.4 L874.6 1201.2 L876.2 1202.9 L877.5 1204.3 L878.7 1205.7 L879.9 1207.1 L881.1 1208.5 L882.2 1209.9 L883.2 1211.2 L884 1212.5 L884.6 1213.8 L885 1214.6 L885.2 1215.5 L885.4 1216.3 L885.5 1217.1 L885.6 1218 L885.6 1218.8 L885.7 1219.6 L885.8 1220.4" fill="none" stroke="#000" stroke-width="1.1" />
<path d="M806.5 1158 L807 1157.5 L807.7 1157.1 L808.6 1156.8 L809.6 1156.6 L810.6 1156.4 L811.7 1156.3 L812.7 1156.2 L813.6 1156.2 L814.5 1156.2 L815.3 1156.3 L816.1 1156.4 L817 1156.6 L817.8 1156.9 L818.7 1157.2 L819.7 1157.6 L820.7 1158 L822.9 1158.9 L825.3 1160.1 L828 1161.5 L830.8 1163.1 L833.6 1164.8 L836.5 1166.6 L839.3 1168.5 L841.9 1170.4 L844.7 1172.5 L847.5 1174.7 L850.2 1177.1 L853 1179.6 L855.6 1182.1 L858.2 1184.7 L860.8 1187.3 L863.2 1189.8 L865.4 1192.3 L867.7 1194.8 L870 1197.4 L872.2 1200 L874.3 1202.6 L876.1 1205 L877.8 1207.3 L879.1 1209.3 L879.8 1210.3 L880.4 1211.4 L881 1212.4 L881.5 1213.3 L882 1214.2 L882.3 1215 L882.4 1215.8 L882.3 1216.4 L882.1 1216.7 L881.9 1217.1 L881.5 1217.3 L881.1 1217.6 L880.7 1217.8 L880.2 1218 L879.6 1218.1 L879.1 1218.1 L878.1 1218.1 L877 1217.9 L875.7 1217.6 L874.4 1217.1 L873 1216.6 L871.5 1216 L870 1215.3 L868.5 1214.6 L866.1 1213.5 L863.6 1212.2 L861 1210.7 L858.2 1209.1 L855.5 1207.4 L852.7 1205.7 L849.9 1204 L847.3 1202.2 L844.5 1200.4 L841.8 1198.5 L839 1196.6 L836.2 1194.6 L833.5 1192.5 L830.9 1190.5 L828.4 1188.4 L826 1186.3 L824 1184.3 L822 1182.3 L820 1180.2 L818.2 1178.2 L816.4 1176.1 L814.8 1174.1 L813.2 1172.2 L811.9 1170.4 L811 1169.2 L810.1 1168 L809.3 1166.9 L808.6 1165.8 L807.9 1164.8 L807.3 1163.7 L806.9 1162.8 L806.5 1161.9 L806.4 1161.3 L806.3 1160.8 L806.2 1160.2 L806.1 1159.7 L806.1 1159.2 L806.2 1158.8 L806.3 1158.3Z" fill="none" stroke="#000" stroke-width="1.1" />
<path d="M799.6 1152.8 L825.5 1124.5" fill="none" stroke="#000" stroke-width="1.1" />
<path d="M825.5 1124.5 L826.1 1124.5 L826.7 1124.6 L827.2 1124.6 L827.8 1124.6 L828.4 1124.6 L829 1124.7 L829.6 1124.9 L830.3 1125.1 L832 1125.8 L833.9 1126.9 L836 1128.2 L838.2 1129.7 L840.5 1131.3 L842.8 1132.9 L845.1 1134.5 L847.2 1135.9" fill="none" stroke="#000" stroke-width="1.1" />
<path d="M847.2 1135.9 L830.3 1160.1" fill="none" stroke="#000" stroke-width="1.1" />
<path d="M854.5 1139 L838.8 1163.1" fill="none" stroke="#000" stroke-width="1.1" />
<path d="M847.2 1135.9 L854.5 1139 L858.1 1136.5 L881 1142" fill="none" stroke="#000" stroke-width="1.1" />
<path d="M881 1156.5 L861.7 1182.4" fill="none" stroke="#000" stroke-width="1.1" />
<path d="M838.8 1163.1 L839.2 1163.2 L839.6 1163.3 L840.1 1163.4 L840.5 1163.6 L840.9 1163.7 L841.4 1163.8 L841.9 1164 L842.4 1164.3 L843.8 1165.1 L845.6 1166.2 L847.6 1167.6 L849.6 1169.1 L851.7 1170.6 L853.7 1172.2 L855.4 1173.8 L856.9 1175.2 L857.7 1176.1 L858.4 1177 L859 1177.9 L859.6 1178.8 L860.1 1179.7 L860.6 1180.6 L861.1 1181.5 L861.7 1182.4" fill="none" stroke="#000" stroke-width="1.1" />
<path d="M882.2 1142 L881.9 1142.5 L881.6 1143 L881.2 1143.5 L880.9 1144 L880.5 1144.5 L880.2 1145 L880 1145.6 L879.8 1146.2 L879.7 1147 L879.6 1147.9 L879.6 1148.9 L879.7 1149.9 L879.8 1150.9 L879.9 1151.8 L880.1 1152.7 L880.4 1153.4 L880.7 1154 L881 1154.5 L881.4 1154.9 L881.8 1155.4 L882.2 1155.8 L882.6 1156.2 L883 1156.6 L883.4 1157.1" fill="none" stroke="#000" stroke-width="1.1" />
<path d="M884.6 1141.4 L884.4 1142 L884.1 1142.6 L883.9 1143.1 L883.6 1143.7 L883.4 1144.3 L883.1 1144.9 L883 1145.5 L882.8 1146.2 L882.8 1147.1 L882.7 1148 L882.8 1148.9 L882.9 1149.9 L883 1150.9 L883.1 1151.8 L883.3 1152.7 L883.4 1153.4 L883.6 1153.9 L883.7 1154.3 L883.8 1154.7 L884 1155 L884.2 1155.4 L884.3 1155.7 L884.5 1156.1 L884.6 1156.5" fill="none" stroke="#000" stroke-width="0.9" />
<path d="M886.5 1124.2 L853.3 1169.1" fill="none" stroke="#000" stroke-width="1.1" />
<path d="M770 1193.3 L797.8 1186" fill="none" stroke="#000" stroke-width="1.1" />
<path d="M807.4 1183 L813.4 1181.2" fill="none" stroke="#000" stroke-width="1.1" />
<path d="M823.1 1178.8 L842.4 1173.4" fill="none" stroke="#000" stroke-width="1.1" />
<path d="M786.9 1260 L818.3 1218" fill="none" stroke="#000" stroke-width="1.1" />
<path d="M823.1 1211.4 L827.3 1205.9" fill="none" stroke="#000" stroke-width="1.1" />
<path d="M831.5 1200.5 L843.6 1184.8" fill="none" stroke="#000" stroke-width="1.1" />
<ellipse cx="849.6" cy="1172.1" rx="7" ry="2.4" transform="rotate(35 849.6 1172.1)" fill="#666" stroke="#000" stroke-width="1" />
<ellipse cx="837" cy="1198.7" rx="7" ry="2.4" transform="rotate(35 837 1198.7)" fill="#666" stroke="#000" stroke-width="1" />
<path d="M884.6 1143.8 L886.2 1143.7 L887.7 1143.5 L889.2 1143.4 L890.7 1143.3 L892.2 1143.2 L893.7 1143 L895.2 1142.8 L896.7 1142.6 L898.2 1142.3 L899.8 1141.9 L901.3 1141.5 L902.8 1141 L904.3 1140.5 L905.8 1140 L907.3 1139.5 L908.8 1139 L910.2 1138.4 L911.6 1137.8 L913 1137.2 L914.4 1136.6 L915.8 1136 L917.2 1135.4 L918.6 1134.7 L920 1134.1" fill="none" stroke="#000" stroke-width="0.9" />
<path d="M1071 1007 L1044 1040 L1006 1090 L964.8 1147.1 L964.3 1150 L966.4 1152.3" fill="none" stroke="#000" stroke-width="1.1" />
<path d="M1074 1009 L1047.4 1040 L1011.5 1090 L966.4 1152.3" fill="none" stroke="#000" stroke-width="1.1" />
<path d="M1077 1011 L1050.7 1040 L1015.5 1090 L973.5 1146.2 L966.4 1152.3" fill="none" stroke="#000" stroke-width="1.1" />
<path d="M1039.6 1057.4 L1039.3 1058.3 L1038.9 1059.3 L1038.6 1060.2 L1038.3 1061.1 L1038 1062 L1037.6 1063 L1037.2 1064 L1036.7 1065.1 L1035.8 1066.9 L1034.7 1068.8 L1033.5 1070.9 L1032.2 1073 L1030.8 1075.1 L1029.4 1077.3 L1028 1079.4 L1026.6 1081.5 L1025.1 1083.6 L1023.6 1085.7 L1022.1 1087.8 L1020.5 1089.9 L1018.9 1092 L1017.3 1094 L1015.7 1096 L1014.1 1097.9 L1012.7 1099.6 L1011.2 1101.3 L1009.7 1103 L1008.2 1104.6 L1006.8 1106.2 L1005.3 1107.7 L1003.9 1109.2 L1002.5 1110.5 L1001.4 1111.5 L1000.4 1112.4 L999.4 1113.2 L998.3 1114 L997.3 1114.8 L996.3 1115.6 L995.3 1116.4 L994.3 1117.2" fill="none" stroke="#000" stroke-width="1.1" />
<path d="M1083.3 1026 L1081.9 1027 L1080.6 1028 L1079.2 1029 L1077.8 1030 L1076.5 1031 L1075.1 1032.1 L1073.7 1033.2 L1072.4 1034.5 L1070.8 1036.2 L1069.2 1038 L1067.7 1039.9 L1066.2 1041.9 L1064.6 1043.9 L1063.1 1046 L1061.5 1048 L1060 1050" fill="none" stroke="#000" stroke-width="1.1" />
<path d="M1060 1050 L1027.6 1090 L977.7 1163.2 L979.3 1165.6" fill="none" stroke="#000" stroke-width="1.1" />
<path d="M1084.5 1028.4 L1081.9 1031.9 L1079.2 1035.5 L1076.3 1039.3 L1073.5 1043 L1070.9 1046.5 L1068.5 1049.8 L1066.6 1052.7 L1065.2 1055 L1064.8 1055.7 L1064.6 1056.4 L1064.4 1057 L1064.3 1057.5 L1064.2 1058 L1064 1058.6 L1063.8 1059.2 L1063.4 1059.8 L1062.5 1061.1 L1061.3 1062.5 L1059.9 1064 L1058.4 1065.6 L1056.7 1067.2 L1055.1 1068.8 L1053.5 1070.4 L1052 1072" fill="none" stroke="#000" stroke-width="1.1" />
<path d="M1052 1072 L1033.2 1090 L980.1 1165.6" fill="none" stroke="#000" stroke-width="1.1" />
<path d="M1058 1062 L1037.2 1090 L985.7 1160.8 L980.1 1165.6" fill="none" stroke="#000" stroke-width="1.1" />
<path d="M977.7 1139.9 L978.2 1140.1 L978.7 1140.2 L979.3 1140.4 L979.8 1140.5 L980.3 1140.7 L980.8 1140.9 L981.3 1141.2 L981.7 1141.5 L982.1 1141.9 L982.5 1142.4 L982.9 1143 L983.2 1143.6 L983.4 1144.3 L983.7 1145 L983.9 1145.6 L984.1 1146.3 L984.3 1147.1 L984.5 1147.8 L984.6 1148.6 L984.7 1149.5 L984.7 1150.3 L984.8 1151.1 L984.9 1151.9 L984.9 1152.8" fill="none" stroke="#000" stroke-width="0.9" />
<path d="M977.7 1139.9 L977.9 1141.3 L978.2 1142.7 L978.4 1144.1 L978.7 1145.5 L978.9 1146.9 L979.1 1148.3 L979.2 1149.7 L979.3 1151.1 L979.3 1152.5 L979.3 1154 L979.2 1155.4 L979.1 1156.8 L978.9 1158.2 L978.8 1159.6 L978.6 1161 L978.5 1162.4" fill="none" stroke="#000" stroke-width="1.1" />
<path d="M990.6 1154.4 L991.1 1154.2 L991.6 1154 L992.1 1153.8 L992.6 1153.7 L993.2 1153.5 L993.7 1153.4 L994.1 1153.4 L994.6 1153.6 L995.2 1154 L995.8 1154.6 L996.4 1155.4 L997 1156.4 L997.5 1157.4 L997.9 1158.6 L998.3 1159.7 L998.6 1160.8 L998.8 1162.2 L998.9 1163.7 L998.8 1165.3 L998.6 1167 L998.4 1168.7 L998.2 1170.4 L998 1172 L997.8 1173.7" fill="none" stroke="#000" stroke-width="1.1" />
<path d="M990.6 1154.4 L990.8 1156 L991 1157.6 L991.3 1159.3 L991.5 1160.9 L991.8 1162.5 L992 1164.1 L992.1 1165.7 L992.2 1167.2 L992.2 1168.5 L992.1 1169.7 L992 1171 L991.9 1172.1 L991.8 1173.3 L991.6 1174.5 L991.5 1175.7 L991.4 1176.9" fill="none" stroke="#000" stroke-width="1.1" />
<path d="M994.6 1154 L996.3 1152.7 L998 1151.4 L999.7 1150 L1001.4 1148.7 L1003.1 1147.4 L1004.8 1146 L1006.5 1144.6 L1008.3 1143.1 L1010.2 1141.4 L1012.1 1139.7 L1014 1137.9 L1015.9 1136 L1017.8 1134.2 L1019.7 1132.3 L1021.6 1130.4 L1023.6 1128.6" fill="none" stroke="#000" stroke-width="1.1" />
<path d="M1026.8 1125.7 L1024.4 1127.3 L989.8 1176.9 L991.4 1178.2 L992.2 1178.5" fill="none" stroke="#000" stroke-width="1.1" />
<path d="M1025.2 1137 L992.2 1178.5" fill="none" stroke="#000" stroke-width="1.1" />
<path d="M1022.8 1137 L997.8 1173.7 L992.2 1178.5" fill="none" stroke="#000" stroke-width="1.1" />
<path d="M1026 1126.2 L1021.9 1134.2 L1024.7 1137" fill="none" stroke="#000" stroke-width="1.1" />
<path d="M1005.9 1167.2 L1006.1 1166.9 L1006.3 1166.6 L1006.5 1166.3 L1006.8 1166.2 L1007.1 1166 L1007.4 1165.8 L1007.8 1165.6 L1008.3 1165.3 L1010 1164.2 L1012.5 1162.6 L1015.4 1160.7 L1018.6 1158.8 L1021.8 1157 L1024.8 1155.5 L1027.3 1154.6 L1029.2 1154.4 L1029.8 1154.5 L1030.4 1154.7 L1030.9 1155.1 L1031.4 1155.4 L1031.8 1155.9 L1032.1 1156.4 L1032.3 1157 L1032.4 1157.6 L1031.9 1159.7 L1030.2 1162.5 L1027.8 1165.9 L1024.7 1169.6 L1021.5 1173.5 L1018.3 1177.1 L1015.4 1180.5 L1013.1 1183.3 L1011.9 1184.9 L1010.8 1186.6 L1009.7 1188.3 L1008.7 1189.8 L1007.8 1191.2 L1006.9 1192.3 L1006.1 1193 L1005.4 1193.3 L1005.1 1193.3 L1004.8 1193.2 L1004.5 1193 L1004.2 1192.7 L1004 1192.4 L1003.7 1192.1 L1003.6 1191.7 L1003.4 1191.4 L1003.4 1190.4 L1003.7 1189.3 L1004.1 1187.9 L1004.7 1186.4 L1005.3 1184.8 L1005.9 1183.2 L1006.4 1181.6 L1006.7 1180.1 L1006.7 1178.5 L1006.6 1176.7 L1006.3 1174.8 L1006 1173 L1005.8 1171.2 L1005.6 1169.6 L1005.6 1168.3Z" fill="none" stroke="#000" stroke-width="1.1" />
<path d="M1008.3 1169.2 L1009.5 1168.3 L1010.7 1167.4 L1011.9 1166.6 L1013.1 1165.7 L1014.3 1164.9 L1015.5 1164 L1016.7 1163.2 L1017.9 1162.4 L1019.1 1161.7 L1020.4 1160.9 L1021.6 1160.2 L1022.9 1159.5 L1024.1 1158.8 L1025.4 1158.2 L1026.7 1157.5 L1027.9 1156.8" fill="none" stroke="#000" stroke-width="0.9" />
<path d="M1010.2 1174 L1011.4 1172.9 L1012.5 1171.9 L1013.7 1170.8 L1014.8 1169.8 L1016 1168.7 L1017.1 1167.7 L1018.3 1166.6 L1019.5 1165.6 L1020.8 1164.6 L1022.1 1163.6 L1023.4 1162.7 L1024.8 1161.7 L1026.1 1160.8 L1027.5 1159.8 L1028.8 1158.9 L1030.2 1157.9" fill="none" stroke="#000" stroke-width="0.9" />
<path d="M1007.6 1180.4 L1008.3 1179.6 L1009 1178.7 L1009.6 1177.9 L1010.2 1177 L1010.9 1176.1 L1011.6 1175.3 L1012.3 1174.5 L1013.1 1173.7 L1014 1172.8 L1015 1172 L1016 1171.2 L1017 1170.4 L1018 1169.6 L1019.1 1168.8 L1020.1 1168 L1021.1 1167.2" fill="none" stroke="#000" stroke-width="0.9" />
<path d="M1079.1 1090 L1078.1 1092.2 L1077.1 1094.4 L1076.2 1096.7 L1075.2 1098.9 L1074.2 1101.1 L1073.2 1103.3 L1072.2 1105.5 L1071 1107.7 L1069.8 1110 L1068.4 1112.3 L1067 1114.6 L1065.6 1116.9 L1064.1 1119.1 L1062.7 1121.3 L1061.2 1123.4 L1059.8 1125.4 L1058.6 1127 L1057.4 1128.5 L1056.1 1130 L1054.9 1131.4 L1053.7 1132.8 L1052.5 1134.2 L1051.3 1135.6 L1050.1 1137" fill="none" stroke="#000" stroke-width="1.1" />
<path d="M1075 1090 L1074.1 1092 L1073.1 1094 L1072.1 1096.1 L1071.1 1098.1 L1070.2 1100.1 L1069.2 1102.1 L1068.1 1104.1 L1067 1106.1 L1065.8 1108.2 L1064.5 1110.3 L1063.1 1112.4 L1061.7 1114.5 L1060.3 1116.6 L1059 1118.6 L1057.7 1120.4 L1056.5 1122.2 L1055.8 1123.3 L1055 1124.4 L1054.3 1125.4 L1053.6 1126.4 L1053 1127.3 L1052.3 1128.3 L1051.6 1129.2 L1050.9 1130.2" fill="none" stroke="#000" stroke-width="0.9" />
<path d="M1045.3 1137 L1044.3 1138.4 L1043.3 1139.8 L1042.3 1141.3 L1041.3 1142.7 L1040.3 1144.1 L1039.3 1145.5 L1038.3 1146.7 L1037.2 1147.9 L1036.3 1148.9 L1035.3 1149.7 L1034.3 1150.5 L1033.3 1151.3 L1032.2 1152.1 L1031.2 1152.8 L1030.2 1153.6 L1029.2 1154.4" fill="none" stroke="#000" stroke-width="1.1" />
<path d="M966.4 1201 L967.6 1201.3 L968.8 1201.5 L970 1201.8 L971.2 1202.1 L972.4 1202.3 L973.6 1202.5 L974.8 1202.6 L976.1 1202.6 L977.6 1202.5 L979.2 1202.3 L980.9 1202 L982.5 1201.7 L984.2 1201.2 L985.8 1200.7 L987.4 1200.1 L989 1199.4 L990.5 1198.6 L992.1 1197.7 L993.6 1196.7 L995.1 1195.6 L996.5 1194.5 L997.9 1193.4 L999.1 1192.4 L1000.2 1191.4 L1000.9 1190.7 L1001.4 1190.1 L1001.9 1189.5 L1002.4 1188.9 L1002.9 1188.3 L1003.3 1187.7 L1003.8 1187.1 L1004.2 1186.5" fill="none" stroke="#000" stroke-width="1.1" />
<path d="M960 1209.9 L967.2 1205.8 L964.8 1200.2 L960 1193" fill="none" stroke="#000" stroke-width="1.1" />
<rect x="852" y="902" width="116" height="116" fill="#fff"/>
<path d="M850 942.5 L875.1 912.6" fill="none" stroke="#000" stroke-width="1.1" />
<path d="M850 945.9 L877 913.5" fill="none" stroke="#000" stroke-width="1.1" />
<path d="M855.8 900 L870.8 915.4" fill="none" stroke="#000" stroke-width="1.1" />
<path d="M859.2 900 L873.2 914.5" fill="none" stroke="#000" stroke-width="1.1" />
<path d="M876.1 912.6 L876.8 912.2 L877.5 911.8 L878.2 911.5 L878.9 911.1 L879.6 910.7 L880.4 910.4 L881.1 910 L881.9 909.7 L882.7 909.3 L883.5 908.9 L884.4 908.6 L885.3 908.2 L886.2 907.9 L887 907.5 L887.8 907.1 L888.6 906.8 L889.3 906.4 L890 906.1 L890.6 905.8 L891.3 905.4 L891.9 905.1 L892.5 904.7 L893 904.3 L893.4 903.9 L893.8 903.4 L894.1 903 L894.3 902.5 L894.5 902 L894.7 901.5 L894.9 901 L895.1 900.5 L895.4 900" fill="none" stroke="#000" stroke-width="1.1" />
<path d="M876.5 914 L897.8 933.3" fill="none" stroke="#000" stroke-width="1.1" />
<path d="M879.9 913.5 L900.2 931.9" fill="none" stroke="#000" stroke-width="1.1" />
<path d="M873.2 958.9 L872.9 958.7 L872.7 958.4 L872.5 958.2 L872.2 958 L872 957.8 L871.8 957.6 L871.5 957.3 L871.2 957 L870.7 956.2 L870.1 955.2 L869.4 954.2 L868.7 953 L868.1 951.8 L867.5 950.6 L866.9 949.4 L866.4 948.3 L866 947.3 L865.7 946.3 L865.4 945.4 L865.1 944.4 L864.8 943.4 L864.6 942.5 L864.5 941.5 L864.5 940.5 L864.5 939.6 L864.6 938.5 L864.8 937.5 L865 936.5 L865.3 935.5 L865.6 934.5 L866 933.6 L866.4 932.8 L866.9 932.1 L867.4 931.5 L868 930.8 L868.6 930.2 L869.2 929.7 L869.9 929.2 L870.6 928.8 L871.2 928.5 L871.8 928.3 L872.4 928.1 L873.1 927.9 L873.7 927.9 L874.3 927.8 L875 927.8 L875.5 927.9 L876.1 928 L876.5 928.1 L876.9 928.3 L877.2 928.6 L877.6 928.8 L877.9 929.1 L878.3 929.4 L878.6 929.7 L879 929.9" fill="none" stroke="#000" stroke-width="1.1" />
<path d="M879 929.9 L892.5 943.4" fill="none" stroke="#000" stroke-width="1.1" />
<path d="M882.8 957.9 L881.8 957.5 L880.8 957 L879.8 956.6 L878.8 956.2 L877.8 955.7 L876.8 955.3 L875.9 954.7 L875.1 954.1 L874.4 953.4 L873.7 952.6 L873.1 951.8 L872.6 950.9 L872.1 950 L871.6 949.1 L871.2 948.2 L870.8 947.3 L870.4 946.5 L870 945.6 L869.7 944.8 L869.4 944 L869.2 943.1 L869 942.3 L868.9 941.4 L868.8 940.5 L868.8 939.7 L868.9 938.8 L869 937.9 L869.1 937 L869.4 936.1 L869.6 935.2 L869.9 934.5 L870.3 933.8 L870.6 933.3 L871 932.8 L871.4 932.4 L871.8 932 L872.3 931.6 L872.7 931.3 L873.2 931.1 L873.7 930.9 L874 930.8 L874.4 930.8 L874.7 930.9 L875.1 931 L875.5 931.1 L875.8 931.2 L876.2 931.3 L876.5 931.4" fill="none" stroke="#000" stroke-width="1.1" />
<path d="M876.5 931.4 L889.6 945.4" fill="none" stroke="#000" stroke-width="1.1" />
<path d="M872.2 900 L872.6 900.2 L872.9 900.3 L873.2 900.5 L873.6 900.7 L873.9 900.8 L874.3 901 L874.7 901.1 L875.1 901.2 L875.7 901.2 L876.4 901.1 L877.1 901 L877.9 900.8 L878.6 900.6 L879.4 900.4 L880.2 900.2 L880.9 900" fill="none" stroke="#000" stroke-width="1.1" />
<path d="M850 949.2 L850.7 949.2 L851.4 949.2 L852.2 949.1 L852.9 949.1 L853.6 949.1 L854.3 949.1 L855.1 949.1 L855.8 949.2 L856.6 949.4 L857.5 949.7 L858.4 950 L859.2 950.4 L860.1 950.8 L860.9 951.2 L861.8 951.7 L862.6 952.1 L863.3 952.7 L864.1 953.2 L864.8 953.9 L865.6 954.5 L866.3 955.2 L867 955.8 L867.7 956.4 L868.3 957 L868.9 957.4 L869.4 957.7 L869.8 958.1 L870.3 958.5 L870.8 958.8 L871.3 959.2 L871.7 959.5 L872.2 959.9" fill="none" stroke="#000" stroke-width="1.1" />
<ellipse cx="870" cy="969.5" rx="11.4" ry="9.7" transform="rotate(-28 870 969.5)" fill="#fff" stroke="#000" stroke-width="1.5" />
<ellipse cx="870" cy="969.5" rx="6.2" ry="5.2" transform="rotate(-28 870 969.5)" fill="none" stroke="#000" stroke-width="1.3" />
<ellipse cx="870" cy="969.5" rx="4.5" ry="3.8" transform="rotate(-28 870 969.5)" fill="none" stroke="#000" stroke-width="1" />
<path d="M880.9 973.4 L881 974.5 L881.2 975.5 L881.4 976.6 L881.6 977.7 L881.8 978.8 L881.9 979.9 L881.9 981 L881.9 982.1 L881.7 983.2 L881.5 984.4 L881.3 985.5 L880.9 986.7 L880.6 987.8 L880.1 988.9 L879.6 989.9 L879 990.7 L878.3 991.4 L877.5 992.1 L876.7 992.6 L875.8 993.1 L874.9 993.6 L874 993.9 L873.1 994.3 L872.2 994.6 L871.5 994.8 L870.8 995 L870 995.1 L869.3 995.2 L868.6 995.3 L867.9 995.4 L867.1 995.5 L866.4 995.6" fill="none" stroke="#000" stroke-width="1.1" />
<path d="M862.6 980.1 L863.4 980.6 L864.2 981.1 L865 981.6 L865.9 982.1 L866.7 982.6 L867.5 983 L868.4 983.3 L869.3 983.5 L870.3 983.6 L871.4 983.5 L872.5 983.4 L873.6 983.1 L874.7 982.8 L875.8 982.5 L876.9 982.3 L878 982.1" fill="none" stroke="#000" stroke-width="0.9" />
<path d="M886.7 954.1 L887.6 954.5 L888.5 955 L889.4 955.4 L890.3 955.8 L891.2 956.3 L892 956.8 L892.8 957.3 L893.4 957.9 L894 958.5 L894.5 959.2 L894.9 959.9 L895.3 960.7 L895.7 961.4 L896 962.2 L896.2 963 L896.3 963.7 L896.4 964.4 L896.5 965.2 L896.4 966 L896.4 966.7 L896.2 967.5 L896 968.2 L895.7 968.9 L895.4 969.5 L894.8 970.2 L894.1 970.8 L893.3 971.3 L892.4 971.8 L891.4 972.3 L890.4 972.7 L889.5 973 L888.6 973.4 L887.9 973.6 L887.2 973.8 L886.4 973.9 L885.7 974 L885 974.1 L884.3 974.1 L883.5 974.2 L882.8 974.3" fill="none" stroke="#000" stroke-width="1.1" />
<path d="M898.1 941.8 L853.1 1004.6 L856 1005.9 L900.8 943.4 L898.1 941.8" fill="#fff" stroke="#000" stroke-width="1" />
<path d="M887.7 952.6 L898.3 942.2 L895.4 943.6 L888.6 951.2Z" fill="#000" stroke="#000" stroke-width="1" />
<path d="M853.9 996.5 L854.2 996 L854.6 995.5 L854.9 995 L855.2 994.4 L855.6 993.9 L855.9 993.4 L856.3 993 L856.8 992.7 L857.2 992.4 L857.6 992.3 L858.1 992.1 L858.6 992 L859.1 992 L859.6 991.9 L860.1 991.8 L860.6 991.7" fill="none" stroke="#000" stroke-width="1.1" />
<path d="M850 1009.1 L850.4 1008.7 L850.7 1008.3 L851.1 1007.9 L851.4 1007.5 L851.8 1007.1 L852.1 1006.7 L852.5 1006.4 L852.9 1006.2 L853.2 1006 L853.6 1005.9 L854 1005.9 L854.3 1005.8 L854.7 1005.8 L855.1 1005.8 L855.4 1005.8 L855.8 1005.7" fill="none" stroke="#000" stroke-width="1.1" />
<path d="M851.9 1020 L852 1018.9 L852.1 1017.7 L852.1 1016.5 L852.2 1015.3 L852.2 1014.1 L852.4 1013 L852.6 1012 L852.9 1011 L853.2 1010.3 L853.7 1009.6 L854.1 1009 L854.7 1008.5 L855.2 1007.9 L855.7 1007.3 L856.3 1006.8 L856.8 1006.2" fill="none" stroke="#000" stroke-width="1.1" />
<path d="M888.6 948.3 L889 947.3 L889.3 946.3 L889.6 945.3 L889.9 944.4 L890.2 943.4 L890.6 942.4 L891 941.5 L891.5 940.5 L892.2 939.5 L892.9 938.5 L893.7 937.4 L894.6 936.4 L895.5 935.4 L896.4 934.5 L897.3 933.6 L898.3 932.8 L899.1 932.2 L899.9 931.6 L900.7 931.1 L901.5 930.5 L902.4 930.1 L903.3 929.7 L904.1 929.3 L905 929 L905.9 928.7 L906.9 928.5 L907.9 928.3 L908.8 928.1 L909.8 928 L910.8 928 L911.8 928 L912.8 928 L913.7 928.1 L914.8 928.3 L915.8 928.5 L916.8 928.7 L917.8 929 L918.7 929.3 L919.6 929.6 L920.5 929.9 L921 930.1 L921.5 930.4 L922 930.6 L922.5 930.9 L923 931.1 L923.4 931.4 L923.9 931.6 L924.3 931.9" fill="none" stroke="#000" stroke-width="1.1" />
<path d="M900.2 942.5 L900.9 941.9 L901.6 941.2 L902.3 940.6 L903 939.9 L903.7 939.3 L904.5 938.7 L905.2 938.2 L906 937.7 L906.8 937.2 L907.6 936.7 L908.4 936.3 L909.3 935.9 L910.1 935.6 L911 935.3 L911.9 935 L912.8 934.8 L913.7 934.6 L914.6 934.4 L915.6 934.3 L916.5 934.3 L917.5 934.2 L918.5 934.2 L919.5 934.2 L920.5 934.3 L921.7 934.3 L922.9 934.5 L924.2 934.6 L925.5 934.8 L926.7 935 L927.9 935.2 L929.1 935.5 L930.1 935.7 L930.8 935.9 L931.5 936.2 L932.1 936.4 L932.7 936.6 L933.2 936.9 L933.8 937.2 L934.4 937.4 L935 937.7" fill="none" stroke="#000" stroke-width="1.1" />
<path d="M901.2 943.9 L901.9 943.3 L902.6 942.6 L903.3 941.9 L904 941.2 L904.7 940.6 L905.4 939.9 L906.2 939.3 L907 938.8 L907.7 938.3 L908.5 937.9 L909.2 937.5 L910 937.1 L910.8 936.7 L911.6 936.4 L912.4 936.1 L913.2 935.9 L914.1 935.7 L915 935.6 L915.9 935.5 L916.8 935.4 L917.7 935.4 L918.6 935.4 L919.5 935.4 L920.5 935.4 L921.5 935.5 L922.6 935.6 L923.7 935.8 L924.8 936 L925.9 936.2 L927 936.5 L928.1 936.7 L929.2 936.9" fill="none" stroke="#000" stroke-width="0.9" />
<path d="M930.1 935.7 L931 935.6 L931.8 935.4 L932.6 935.3 L933.4 935.1 L934.3 935 L935.1 934.9 L936 934.8 L936.9 934.8 L938 934.7 L939.2 934.7 L940.5 934.8 L941.8 934.9 L943.1 935 L944.3 935.2 L945.5 935.4 L946.5 935.7 L947.4 936.1 L948.2 936.4 L949 936.9 L949.8 937.3 L950.5 937.9 L951.1 938.4 L951.8 939 L952.3 939.6 L952.8 940.2 L953.3 940.9 L953.8 941.6 L954.2 942.3 L954.5 943.1 L954.8 943.8 L955 944.6 L955.2 945.4 L955.4 946.2 L955.4 947 L955.4 947.9 L955.4 948.8 L955.3 949.7 L955.2 950.5 L955 951.4 L954.7 952.1 L954.5 952.8 L954.1 953.5 L953.7 954.2 L953.3 954.8 L952.8 955.4 L952.3 956 L951.8 956.5 L951.4 957 L951 957.3 L950.7 957.6 L950.3 957.8 L949.9 958 L949.6 958.2 L949.2 958.4 L948.8 958.7 L948.5 958.9" fill="none" stroke="#000" stroke-width="1.1" />
<path d="M940.3 948.8 L954.7 950.2" fill="none" stroke="#000" stroke-width="1.1" />
<path d="M931.1 937.7 L921.9 951.6" fill="none" stroke="#000" stroke-width="1.1" />
<path d="M921.9 951.6 L962 997" fill="none" stroke="#000" stroke-width="1.5" />
<path d="M923.9 954.1 L959.6 995.1" fill="none" stroke="#000" stroke-width="0.9" />
<path d="M935 938.6 L940.3 950.2 L952.3 977.2 L959.1 986.9" fill="none" stroke="#000" stroke-width="1.1" />
<path d="M959.1 986.9 L959.7 987.6 L960.3 988.4 L960.9 989.2 L961.5 989.9 L962.1 990.7 L962.7 991.4 L963.1 992.1 L963.4 992.7 L963.6 993 L963.7 993.3 L963.8 993.7 L963.9 994 L964 994.3 L964 994.5 L964 994.8 L963.9 995.1 L963.8 995.4 L963.6 995.6 L963.4 995.9 L963.1 996.1 L962.8 996.3 L962.5 996.6 L962.2 996.8 L962 997" fill="none" stroke="#000" stroke-width="1.1" />
<path d="M909.9 955.5 L900.2 968.5" fill="none" stroke="#000" stroke-width="1.1" />
<path d="M909.9 955.5 L958.1 1000.4" fill="none" stroke="#000" stroke-width="1.3" />
<path d="M911.8 957.9 L956.2 999.4" fill="none" stroke="#000" stroke-width="0.9" />
<path d="M900.2 968.5 L901.7 969.2 L903.2 969.9 L904.7 970.6 L906.2 971.3 L907.7 972 L909.1 972.7 L910.5 973.5 L911.8 974.3 L912.9 975.2 L913.9 976.1 L914.9 977 L915.9 977.9 L916.8 978.9 L917.7 979.9 L918.6 981 L919.5 982.1 L920.5 983.3 L921.6 984.6 L922.6 986 L923.7 987.5 L924.7 988.9 L925.6 990.2 L926.5 991.5 L927.2 992.7 L927.7 993.4 L928.1 994 L928.4 994.6 L928.8 995.2 L929.1 995.8 L929.4 996.3 L929.8 996.9 L930.1 997.5" fill="none" stroke="#000" stroke-width="1.1" />
<path d="M917.6 961.8 L918.3 963.6 L919 965.4 L919.7 967.2 L920.4 969.1 L921.1 970.9 L921.8 972.7 L922.6 974.5 L923.4 976.3 L924.2 978 L924.9 979.8 L925.7 981.6 L926.6 983.4 L927.4 985.2 L928.3 986.8 L929.2 988.4 L930.1 989.8 L930.9 990.8 L931.7 991.8 L932.5 992.6 L933.3 993.5 L934.1 994.3 L935 995 L935.9 995.8 L936.9 996.5 L938.1 997.4 L939.3 998.3 L940.6 999.2 L942 1000 L943.3 1000.8 L944.7 1001.5 L946.1 1002 L947.5 1002.3 L948.8 1002.5 L950.1 1002.4 L951.4 1002.3 L952.8 1002 L954.1 1001.7 L955.5 1001.4 L956.8 1001.1 L958.1 1000.9" fill="none" stroke="#000" stroke-width="1.1" />
<path d="M940.3 950.2 L956.2 967.6" fill="none" stroke="#000" stroke-width="1.1" />
<path d="M913.7 1013 L914.1 1012.7 L914.4 1012.4 L914.8 1012.1 L915.1 1011.8 L915.5 1011.5 L915.8 1011.3 L916.2 1011.1 L916.6 1011 L917.1 1011 L917.6 1011 L918.1 1011 L918.6 1011.1 L919.1 1011.3 L919.6 1011.5 L920.1 1011.7 L920.5 1012 L920.8 1012.3 L921.2 1012.7 L921.5 1013.2 L921.8 1013.7 L922.1 1014.3 L922.3 1014.8 L922.4 1015.3 L922.4 1015.8 L922.3 1016.4 L922 1016.9 L921.7 1017.4 L921.3 1017.9 L920.8 1018.4 L920.4 1019 L919.9 1019.5 L919.5 1020" fill="none" stroke="#000" stroke-width="1.1" />
<path d="M922.4 1015.8 L923.2 1015 L924.1 1014.1 L924.9 1013.2 L925.7 1012.4 L926.5 1011.5 L927.4 1010.7 L928.3 1009.8 L929.2 1009.1 L930.1 1008.4 L931 1007.7 L931.9 1007 L932.9 1006.4 L933.8 1005.8 L934.8 1005.3 L935.8 1004.7 L936.9 1004.3 L938 1003.8 L939.2 1003.4 L940.3 1003.1 L941.5 1002.8 L942.8 1002.5 L944 1002.3 L945.3 1002.1 L946.5 1001.9 L948 1001.7 L949.4 1001.6 L950.9 1001.5 L952.4 1001.5 L953.9 1001.4 L955.4 1001.3 L956.8 1001.1 L958.1 1000.9 L959.2 1000.6 L960.3 1000.3 L961.3 999.9 L962.3 999.5 L963.3 999 L964.2 998.6 L965 998.1 L965.8 997.5 L966.5 997 L967.1 996.4 L967.6 995.8 L968.1 995.2 L968.5 994.6 L969 993.9 L969.5 993.3 L970 992.7" fill="none" stroke="#000" stroke-width="1.1" />
<path d="M923.4 1017.3 L924.2 1016.4 L925 1015.6 L925.9 1014.7 L926.7 1013.8 L927.5 1012.9 L928.4 1012.1 L929.2 1011.3 L930.1 1010.5 L931 1009.8 L931.8 1009.2 L932.7 1008.5 L933.6 1007.9 L934.5 1007.3 L935.4 1006.7 L936.4 1006.2 L937.4 1005.7 L938.4 1005.3 L939.5 1004.9 L940.7 1004.6 L941.9 1004.3 L943 1004 L944.2 1003.7 L945.4 1003.4 L946.5 1003.1" fill="none" stroke="#000" stroke-width="0.9" />
<path d="M924.3 1020 L925 1019.4 L925.7 1018.7 L926.4 1018 L927.1 1017.4 L927.8 1016.7 L928.6 1016.1 L929.3 1015.5 L930.1 1014.9 L931.1 1014.2 L932.1 1013.5 L933.2 1012.9 L934.3 1012.2 L935.4 1011.6 L936.5 1011 L937.7 1010.5 L938.8 1010.1 L940 1009.7 L941.2 1009.3 L942.4 1009 L943.6 1008.7 L944.8 1008.5 L946 1008.3 L947.3 1008.2 L948.5 1008.1 L949.7 1008.1 L950.9 1008.2 L952 1008.4 L953.2 1008.6 L954.4 1008.8 L955.6 1009 L956.9 1009.1 L958.1 1009.1 L959.6 1008.9 L961 1008.7 L962.5 1008.3 L964 1007.9 L965.5 1007.5 L967 1007 L968.5 1006.6 L970 1006.2" fill="none" stroke="#000" stroke-width="1.1" />
<path d="M879.4 996.5 L871.2 1009.1" fill="none" stroke="#000" stroke-width="1.1" />
<path d="M871.2 1009.1 L871.4 1009.6 L871.6 1010.2 L871.7 1010.7 L871.8 1011.2 L872 1011.8 L872.2 1012.3 L872.4 1012.9 L872.7 1013.4 L873.2 1014.2 L873.7 1015 L874.4 1015.8 L875.1 1016.7 L875.8 1017.5 L876.6 1018.3 L877.3 1019.2 L878 1020" fill="none" stroke="#000" stroke-width="1.1" />
<path d="M879.9 996.5 L893.4 1020" fill="none" stroke="#000" stroke-width="1.1" />
<path d="M956.2 1011 L963 1020" fill="none" stroke="#000" stroke-width="1.1" />
<path d="M952.3 973.4 L953 972.6 L953.7 971.9 L954.4 971.1 L955.1 970.4 L955.8 969.7 L956.6 968.9 L957.3 968.2 L958.1 967.6 L959 966.9 L960 966.2 L961 965.6 L962 964.9 L963 964.3 L964 963.8 L965 963.2 L965.8 962.8 L966.4 962.5 L967 962.2 L967.5 961.9 L968 961.7 L968.5 961.5 L969 961.3 L969.5 961.1 L970 960.8" fill="none" stroke="#000" stroke-width="1.1" />
<path d="M959.1 984 L959.7 983.1 L960.3 982.2 L960.8 981.3 L961.4 980.4 L962 979.6 L962.6 978.7 L963.2 977.9 L963.9 977.2 L964.6 976.6 L965.3 976.1 L966.1 975.6 L966.9 975.2 L967.7 974.7 L968.4 974.3 L969.2 973.8 L970 973.4" fill="none" stroke="#000" stroke-width="1.1" />
<path d="M963.9 991.7 L970 986.9" fill="none" stroke="#000" stroke-width="1.1" />
<path d="M916.6 900 L916.7 900.7 L916.8 901.4 L916.9 902.2 L917 902.9 L917.2 903.6 L917.3 904.3 L917.4 905.1 L917.6 905.8 L917.8 906.6 L918 907.5 L918.2 908.3 L918.5 909.2 L918.7 910 L919 910.9 L919.3 911.7 L919.5 912.6 L919.7 913.3 L919.9 914.1 L920.1 914.8 L920.3 915.6 L920.5 916.3 L920.8 917 L921.1 917.7 L921.4 918.3 L922 919 L922.6 919.6 L923.4 920.2 L924.2 920.8 L924.9 921.4 L925.6 922 L926 922.6 L926.3 923.2 L926.3 923.7 L926.2 924.1 L926 924.6 L925.7 925.1 L925.3 925.6 L925 926.1 L924.7 926.6 L924.3 927 L924 927.5 L923.7 928 L923.3 928.5 L922.9 929 L922.6 929.5 L922.2 929.9 L921.8 930.4 L921.4 930.9" fill="none" stroke="#000" stroke-width="1.1" />
<path d="M930.1 900 L929.8 900.5 L929.5 901 L929.1 901.6 L928.8 902.1 L928.5 902.6 L928.2 903.1 L928.1 903.5 L928.2 903.9 L928.5 904.1 L929 904.3 L929.7 904.4 L930.5 904.4 L931.4 904.4 L932.3 904.4 L933.2 904.6 L934 904.8 L935 905.4 L936.1 906.1 L937.2 906.9 L938.3 907.8 L939.5 908.7 L940.6 909.7 L941.6 910.6 L942.7 911.6 L943.7 912.5 L944.8 913.5 L945.8 914.4 L946.9 915.4 L947.9 916.4 L948.8 917.4 L949.7 918.3 L950.4 919.3 L950.9 920.1 L951.3 920.8 L951.6 921.6 L951.9 922.4 L952.2 923.1 L952.5 923.9 L952.8 924.5 L953.3 925.1 L953.8 925.6 L954.3 926 L954.8 926.4 L955.4 926.7 L956 927 L956.7 927.3 L957.4 927.7 L958.1 928 L959.3 928.5 L960.7 929 L962.2 929.5 L963.7 930 L965.3 930.4 L966.9 930.9 L968.5 931.4 L970 931.9" fill="none" stroke="#000" stroke-width="1.1" />
<path d="M958.1 928 L957.4 928.4 L956.7 928.7 L956 929.1 L955.3 929.5 L954.6 929.9 L953.9 930.3 L953.1 930.6 L952.3 930.9 L951.3 931.2 L950.1 931.5 L948.9 931.8 L947.7 932 L946.5 932.3 L945.2 932.5 L943.9 932.6 L942.7 932.8 L941.4 933 L940.1 933.1 L938.7 933.3 L937.4 933.4 L936.1 933.5 L934.7 933.6 L933.4 933.7 L932.1 933.8" fill="none" stroke="#000" stroke-width="1.1" />
<path d="M936.9 900 L970 915" fill="none" stroke="#000" stroke-width="1.1" />
<path d="M895.4 902.9 L902.1 920.8" fill="none" stroke="#000" stroke-width="1.1" />
<path d="M904.1 927.5 L911.8 946.3 L929.2 986.9" fill="none" stroke="#000" stroke-width="1.1" />
<path d="M932.1 995.6 L935 1002.3" fill="none" stroke="#000" stroke-width="1.1" />
<path d="M937.4 1008.1 L940.7 1020" fill="none" stroke="#000" stroke-width="1.1" />
<path d="M888.6 900 L894.4 906" fill="none" stroke="#000" stroke-width="1.1" />
<rect x="968" y="902" width="110" height="116" fill="#fff"/>
<path d="M1003.4 900 L1004.8 901.1 L1006.1 902.1 L1007.4 903.2 L1008.7 904.3 L1010 905.3 L1011.3 906.4 L1012.7 907.5 L1014.1 908.7 L1015.7 910.1 L1017.4 911.5 L1019.1 913 L1020.8 914.4 L1022.5 915.9 L1024.2 917.4 L1025.9 918.9 L1027.6 920.3 L1029.1 921.5 L1030.6 922.8 L1032.1 924 L1033.6 925.3 L1035 926.5 L1036.5 927.6 L1037.8 928.8 L1039.2 929.9 L1040.2 930.8 L1041.2 931.7 L1042.2 932.6 L1043.1 933.5 L1044 934.3 L1045 935.1 L1045.9 935.9 L1046.9 936.7 L1047.8 937.4 L1048.7 938 L1049.7 938.6 L1050.6 939.2 L1051.5 939.8 L1052.5 940.4 L1053.5 941 L1054.6 941.5 L1055.9 942.2 L1057.3 942.8 L1058.7 943.4 L1060.2 943.9 L1061.7 944.5 L1063.2 945.1 L1064.7 945.7 L1066.2 946.3 L1067.9 947.1 L1069.6 947.8 L1071.3 948.6 L1073 949.4 L1074.8 950.2 L1076.5 951 L1078.3 951.8 L1080 952.6" fill="none" stroke="#000" stroke-width="1.8" />
<path d="M970.6 900 L992.8 909.2 L1006.3 915.9 L1011.2 918.8" fill="none" stroke="#000" stroke-width="1.1" />
<path d="M993.3 908.5 L1008.3 916.6 L1012.6 919.5" fill="none" stroke="#000" stroke-width="0.9" />
<path d="M998.1 900 L992.3 907.7" fill="none" stroke="#000" stroke-width="1.1" />
<path d="M1005.9 901.9 L1009.4 911.4" fill="none" stroke="#000" stroke-width="1.1" />
<path d="M960 910.6 L965.1 912.9 L970.7 915.4 L976.4 917.9 L982.1 920.3 L987.4 922.7 L992.1 924.8 L995.9 926.6 L998.6 928 L999.2 928.3 L999.6 928.5 L1000 928.8 L1000.4 929 L1000.7 929.2 L1001 929.4 L1001.2 929.6 L1001.5 929.9 L1001.8 930.3 L1002.1 930.8 L1002.4 931.2 L1002.7 931.7 L1002.9 932.2 L1003.2 932.7 L1003.3 933.3 L1003.4 933.8 L1003.5 934.4 L1003.5 934.9 L1003.5 935.5 L1003.5 936.1 L1003.4 936.8 L1003.3 937.4 L1003.1 938 L1003 938.6 L1002.7 939.3 L1002.4 940.1 L1002 940.9 L1001.7 941.6 L1001.2 942.4 L1000.8 943.1 L1000.4 943.8 L1000.1 944.4 L999.8 944.8 L999.6 945.2 L999.4 945.5 L999.1 945.9 L998.9 946.2 L998.7 946.5 L998.4 946.9 L998.1 947.3 L997.6 948 L997.1 948.8 L996.5 949.7 L995.8 950.5 L995.2 951.5 L994.7 952.4 L994.2 953.2 L993.8 954.1 L993.6 954.7 L993.4 955.3 L993.3 955.9 L993.3 956.4 L993.2 957 L993.1 957.6 L993 958.2 L992.8 958.9 L992.5 959.8 L992.1 960.8 L991.6 961.8 L991.1 962.9 L990.6 963.9 L990.1 964.9 L989.5 965.8 L989 966.6 L988.5 967.2 L988 967.7 L987.6 968.2 L987.1 968.7 L986.6 969.1 L986.1 969.6 L985.6 970 L985.1 970.5" fill="none" stroke="#000" stroke-width="1.1" />
<path d="M960 928 L998.1 947.3" fill="none" stroke="#000" stroke-width="1.1" />
<path d="M1011.2 918.8 L1011.5 919.4 L1011.9 919.9 L1012.3 920.4 L1012.7 920.9 L1013.1 921.5 L1013.4 922 L1013.8 922.6 L1014.1 923.2 L1014.3 923.8 L1014.6 924.5 L1014.8 925.2 L1015 926 L1015.2 926.7 L1015.3 927.4 L1015.4 928.2 L1015.5 929 L1015.6 929.8 L1015.6 930.6 L1015.6 931.4 L1015.6 932.3 L1015.5 933.2 L1015.4 934 L1015.2 934.9 L1015 935.7 L1014.8 936.6 L1014.4 937.5 L1014.1 938.3 L1013.7 939.2 L1013.2 940.1 L1012.6 941.1 L1011.9 942.2 L1011.2 943.4 L1007.9 948.3 L1003.1 954.8 L997.3 962.5 L990.9 970.7 L984.5 978.9 L978.5 986.5 L973.4 992.9 L969.7 997.5 L968.7 998.7 L967.9 999.8 L967.1 1000.7 L966.4 1001.6 L965.8 1002.4 L965.2 1003.1 L964.5 1003.7 L963.9 1004.3 L963.4 1004.6 L962.9 1004.9 L962.4 1005.2 L961.9 1005.4 L961.4 1005.6 L961 1005.8 L960.5 1006 L960 1006.2" fill="none" stroke="#000" stroke-width="1.1" />
<path d="M1014.1 920.8 L1014.6 921.5 L1015.1 922.3 L1015.6 923.1 L1016.2 923.8 L1016.7 924.6 L1017.2 925.4 L1017.6 926.2 L1017.9 927 L1018.2 927.8 L1018.4 928.7 L1018.6 929.5 L1018.7 930.3 L1018.8 931.2 L1018.9 932.1 L1018.9 932.9 L1018.9 933.8 L1018.8 934.7 L1018.7 935.7 L1018.5 936.7 L1018.3 937.7 L1018 938.6 L1017.7 939.6 L1017.3 940.6 L1017 941.5 L1016.5 942.5 L1016.1 943.3 L1015.6 944.2 L1015.1 945 L1014.5 945.9 L1013.8 946.9 L1013 948 L1012.1 949.2 L1008.9 953.8 L1004.4 959.8 L999.1 966.9 L993.3 974.6 L987.5 982.2 L982 989.4 L977.2 995.6 L973.5 1000.4 L972.3 1002 L971.2 1003.5 L970.2 1004.8 L969.3 1006 L968.4 1007.2 L967.6 1008.2 L966.7 1009.1 L965.8 1010.1 L965.1 1010.7 L964.3 1011.2 L963.6 1011.7 L962.9 1012.2 L962.2 1012.6 L961.4 1013 L960.7 1013.5 L960 1013.9" fill="none" stroke="#000" stroke-width="1.1" />
<path d="M1019.9 936.7 L1020.1 937.2 L1020.4 937.6 L1020.7 938.1 L1020.9 938.6 L1021.2 939 L1021.4 939.5 L1021.6 940 L1021.8 940.5 L1021.9 941.2 L1022 941.9 L1022.1 942.6 L1022.1 943.3 L1022.1 944.1 L1022 944.8 L1021.9 945.6 L1021.8 946.3 L1021.5 947.2 L1021.2 948.1 L1020.8 949 L1020.3 949.9 L1019.8 950.9 L1019.2 951.9 L1018.6 952.9 L1017.9 954.1 L1016.5 956.3 L1014.7 959 L1012.7 961.9 L1010.5 965 L1008.4 968 L1006.4 970.8 L1004.7 973.3 L1003.4 975.3 L1003 976 L1002.6 976.7 L1002.3 977.3 L1002 977.8 L1001.7 978.4 L1001.5 978.9 L1001.2 979.5 L1001 980.1 L1000.8 980.9 L1000.6 981.7 L1000.5 982.6 L1000.3 983.5 L1000.2 984.3 L1000.2 985.2 L1000.1 986.1 L1000.1 986.9 L1000.1 987.6 L1000.1 988.4 L1000.1 989.1 L1000.1 989.8 L1000.2 990.5 L1000.3 991.3 L1000.4 992 L1000.5 992.7 L1000.7 993.4 L1000.9 994.2 L1001.1 995 L1001.4 995.8 L1001.7 996.6 L1001.9 997.3 L1002.2 997.9 L1002.5 998.5 L1002.7 998.8 L1002.8 999 L1003 999.3 L1003.2 999.5 L1003.4 999.7 L1003.6 1000 L1003.7 1000.2 L1003.9 1000.4" fill="none" stroke="#000" stroke-width="1.1" />
<path d="M1012.6 919.3 L1013 920.8 L1013.4 922.3 L1013.8 923.8 L1014.2 925.3 L1014.6 926.8 L1015.1 928.4 L1015.5 930.1 L1016 931.9 L1016.7 934.7 L1017.5 938 L1018.3 941.4 L1019.2 945 L1020.1 948.5 L1021 951.9 L1021.9 955.1 L1022.8 957.9 L1023.3 959.6 L1023.9 961.2 L1024.4 962.7 L1024.9 964.1 L1025.5 965.5 L1026.1 966.8 L1026.8 968.1 L1027.6 969.5 L1028.6 971 L1029.6 972.4 L1030.8 973.8 L1032 975.2 L1033.2 976.6 L1034.6 978 L1035.9 979.5 L1037.2 981.1 L1039 983.2 L1040.8 985.4 L1042.8 987.7 L1044.7 990 L1046.7 992.4 L1048.7 994.8 L1050.7 997.1 L1052.7 999.4" fill="none" stroke="#000" stroke-width="1.1" />
<path d="M1019.9 936.7 L1020.1 936.8 L1020.3 937 L1020.6 937.1 L1020.8 937.2 L1021 937.3 L1021.3 937.5 L1021.5 937.7 L1021.8 937.8 L1022.3 938.2 L1022.8 938.8 L1023.3 939.4 L1023.9 940 L1024.5 940.6 L1025 941.1 L1025.6 941.4 L1026.1 941.5 L1026.6 941.4 L1027 941.2 L1027.4 940.8 L1027.7 940.3 L1028.1 939.9 L1028.6 939.4 L1029 939 L1029.5 938.6 L1030.2 938.3 L1031 938 L1031.8 937.7 L1032.7 937.4 L1033.6 937.2 L1034.5 937 L1035.4 936.8 L1036.3 936.7 L1037.1 936.6 L1038 936.5 L1038.8 936.5 L1039.6 936.5 L1040.5 936.5 L1041.3 936.5 L1042.2 936.6 L1043 936.7 L1043.9 936.8 L1044.8 937 L1045.6 937.2 L1046.5 937.4 L1047.4 937.7 L1048.2 938 L1049 938.3 L1049.8 938.6 L1050.4 938.9 L1051.1 939.3 L1051.7 939.6 L1052.3 940 L1052.9 940.4 L1053.4 940.8 L1054 941.1 L1054.6 941.5" fill="none" stroke="#000" stroke-width="1.1" />
<path d="M1028.5 940.5 L1031.9 945.4 L1070.5 962.8" fill="none" stroke="#000" stroke-width="1.1" />
<path d="M1026.1 941.5 L1026.3 942.4 L1026.6 943.2 L1026.8 944.1 L1027 944.9 L1027.2 945.8 L1027.4 946.6 L1027.5 947.4 L1027.6 948.3 L1027.6 949 L1027.5 949.7 L1027.4 950.4 L1027.3 951.2 L1027.2 951.9 L1027 952.6 L1026.8 953.3 L1026.6 954.1 L1026.3 955 L1026 956.1 L1025.6 957.2 L1025.2 958.3 L1024.8 959.3 L1024.4 960.3 L1024 961.1 L1023.7 961.8 L1023.6 962 L1023.5 962.2 L1023.3 962.4 L1023.2 962.6 L1023.1 962.7 L1023 962.9 L1022.9 963.1 L1022.8 963.2" fill="none" stroke="#000" stroke-width="1.1" />
<ellipse cx="1038.7" cy="984" rx="19.9" ry="18.7" transform="rotate(-20 1038.7 984)" fill="none" stroke="#000" stroke-width="1.1" />
<ellipse cx="1039.9" cy="984.8" rx="10.4" ry="9.8" transform="rotate(-20 1039.9 984.8)" fill="none" stroke="#000" stroke-width="1.1" />
<path d="M1026.6 997.5 L1027.7 998.2 L1028.8 999 L1029.8 999.8 L1030.9 1000.6 L1032 1001.4 L1033.1 1002 L1034.2 1002.5 L1035.3 1002.8 L1036.5 1002.9 L1037.7 1002.8 L1038.9 1002.7 L1040.1 1002.4 L1041.4 1002 L1042.6 1001.5 L1043.8 1001 L1045 1000.4 L1046.2 999.7 L1047.5 998.9 L1048.8 998 L1050.1 997 L1051.3 996 L1052.5 994.9 L1053.6 993.8 L1054.6 992.7 L1055.5 991.6 L1056.3 990.4 L1057 989.2 L1057.7 988 L1058.4 986.7 L1059 985.5 L1059.7 984.2 L1060.4 983" fill="none" stroke="#000" stroke-width="1.1" />
<path d="M1080 957 L1079.2 957.3 L1078.4 957.6 L1077.7 957.9 L1076.9 958.3 L1076.1 958.6 L1075.3 959 L1074.6 959.4 L1073.9 959.9 L1073.2 960.4 L1072.6 961.1 L1072 961.8 L1071.4 962.5 L1070.8 963.3 L1070.2 964.1 L1069.7 964.8 L1069.1 965.6 L1068.5 966.5 L1067.8 967.5 L1067.2 968.4 L1066.5 969.4 L1065.9 970.4 L1065.3 971.4 L1064.8 972.4 L1064.3 973.4 L1063.8 974.2 L1063.4 975.1 L1063 975.9 L1062.6 976.7 L1062.3 977.6 L1061.9 978.4 L1061.6 979.3 L1061.4 980.1 L1061.1 981 L1060.9 981.8 L1060.8 982.7 L1060.6 983.5 L1060.5 984.4 L1060.4 985.2 L1060.4 986.1 L1060.4 986.9 L1060.5 987.6 L1060.6 988.4 L1060.7 989.1 L1060.9 989.8 L1061.1 990.6 L1061.3 991.3 L1061.6 992 L1061.9 992.7 L1062.2 993.4 L1062.6 994.2 L1063 994.9 L1063.4 995.6 L1063.9 996.3 L1064.3 997 L1064.8 997.7 L1065.2 998.5" fill="none" stroke="#000" stroke-width="1.1" />
<path d="M1065.2 998.5 L1074.9 1007.2" fill="none" stroke="#000" stroke-width="1.1" />
<path d="M1080 971.4 L1079.5 971.8 L1078.9 972.1 L1078.4 972.4 L1077.8 972.8 L1077.3 973.1 L1076.8 973.5 L1076.3 973.9 L1075.8 974.3 L1075.4 974.9 L1075 975.6 L1074.6 976.3 L1074.3 977.1 L1074 977.8 L1073.7 978.6 L1073.6 979.4 L1073.4 980.1 L1073.4 980.9 L1073.4 981.6 L1073.4 982.4 L1073.5 983.2 L1073.7 983.9 L1073.9 984.7 L1074.1 985.3 L1074.4 985.9 L1074.7 986.4 L1075.1 986.8 L1075.5 987.3 L1076 987.7 L1076.4 988 L1076.9 988.3 L1077.4 988.6 L1077.8 988.8 L1078.1 988.9 L1078.3 989 L1078.6 989.1 L1078.9 989.1 L1079.2 989.2 L1079.4 989.2 L1079.7 989.2 L1080 989.3" fill="none" stroke="#000" stroke-width="1.1" />
<path d="M1055.1 992.7 L1074.9 1007.2" fill="none" stroke="#000" stroke-width="1.1" />
<path d="M1074.9 1007.2 L1074.5 1007.7 L1074.2 1008.2 L1073.9 1008.7 L1073.6 1009.2 L1073.2 1009.7 L1072.9 1010.2 L1072.4 1010.6 L1072 1011 L1071.4 1011.4 L1070.8 1011.8 L1070.1 1012.1 L1069.4 1012.3 L1068.6 1012.6 L1067.8 1012.9 L1067 1013.1 L1066.2 1013.4 L1065.1 1013.9 L1064 1014.3 L1062.8 1014.8 L1061.5 1015.2 L1060.3 1015.7 L1059 1016.1 L1057.8 1016.5 L1056.5 1016.8 L1055.3 1017.1 L1054.1 1017.4 L1052.9 1017.6 L1051.6 1017.8 L1050.4 1018 L1049.2 1018.1 L1048 1018.2 L1046.9 1018.3 L1046 1018.3 L1045.1 1018.2 L1044.3 1018.2 L1043.4 1018.1 L1042.6 1018 L1041.8 1017.9 L1041 1017.9 L1040.1 1017.8" fill="none" stroke="#000" stroke-width="1.1" />
<path d="M1074.9 1008.1 L1080 1012.5" fill="none" stroke="#000" stroke-width="1.1" />
<path d="M1071 1010.1 L1080 1018.7" fill="none" stroke="#000" stroke-width="1.1" />
<path d="M1066.2 1013.4 L1062.3 1020" fill="none" stroke="#000" stroke-width="1.1" />
<path d="M1003.9 1000.4 L1006.3 998 L1010.2 998.5 L1031.4 1002.8" fill="none" stroke="#000" stroke-width="1.1" />
<path d="M1003.9 1000.4 L1017.9 1013.9" fill="none" stroke="#000" stroke-width="1.1" />
<path d="M1006.3 998 L1019.9 1013 L1017.9 1013.9 L1014.1 1020" fill="none" stroke="#000" stroke-width="1.1" />
<path d="M1019.9 1013 L1040.1 1017.8" fill="none" stroke="#000" stroke-width="1.1" />
<path d="M1031.4 1002.8 L1044 1017.8" fill="none" stroke="#000" stroke-width="1.1" />
<path d="M960 964.7 L961.2 963.9 L962.4 963.2 L963.6 962.4 L964.8 961.6 L966 960.8 L967.2 960.1 L968.4 959.5 L969.7 958.9 L970.8 958.4 L972 958 L973.2 957.7 L974.4 957.3 L975.7 957.1 L976.9 956.8 L978.1 956.6 L979.3 956.5 L980.5 956.3 L981.8 956.2 L983.1 956.1 L984.4 956.1 L985.7 956.1 L986.9 956.1 L988 956.3 L989 956.5 L989.6 956.7 L990.1 956.9 L990.6 957.2 L991 957.6 L991.5 957.9 L991.9 958.2 L992.4 958.6 L992.8 958.9" fill="none" stroke="#000" stroke-width="1.1" />
<path d="M960 981.1 L961.2 980.1 L962.4 979.1 L963.6 978 L964.8 977 L966 976 L967.2 975 L968.4 974.1 L969.7 973.4 L970.8 972.8 L972.1 972.2 L973.3 971.6 L974.6 971.2 L975.8 970.8 L977 970.4 L978.2 970.2 L979.3 970 L980.1 969.9 L980.8 969.9 L981.6 970 L982.3 970.1 L983 970.2 L983.7 970.3 L984.4 970.4 L985.1 970.5" fill="none" stroke="#000" stroke-width="1.1" />
<path d="M985.1 970.5 L983.8 971.9 L982.4 973.4 L981.1 974.9 L979.7 976.3 L978.4 977.8 L977.1 979.2 L975.8 980.7 L974.5 982.1 L973.3 983.4 L972.2 984.8 L971 986.3 L969.9 987.8 L968.8 989.1 L967.7 990.2 L966.7 991.1 L965.8 991.7 L965.4 991.9 L965 992 L964.6 992 L964.3 992 L963.9 992 L963.6 991.9 L963.2 991.8 L962.9 991.7 L962.5 991.6 L962.2 991.4 L961.8 991.1 L961.4 990.9 L961.1 990.6 L960.7 990.3 L960.4 990 L960 989.8" fill="none" stroke="#000" stroke-width="1.1" />
<path d="M972.6 1020 L973.4 1019 L974.2 1017.9 L975 1016.8 L975.8 1015.6 L976.7 1014.6 L977.5 1013.6 L978.4 1012.7 L979.3 1012 L980.1 1011.5 L980.9 1011 L981.8 1010.6 L982.7 1010.3 L983.6 1010 L984.4 1009.8 L985.3 1009.6 L986.1 1009.6 L986.7 1009.6 L987.3 1009.6 L987.9 1009.7 L988.5 1009.9 L989.1 1010.1 L989.7 1010.3 L990.3 1010.7 L990.9 1011 L991.8 1011.8 L992.8 1012.7 L993.8 1013.8 L994.7 1015 L995.7 1016.3 L996.7 1017.6 L997.6 1018.8 L998.6 1020" fill="none" stroke="#000" stroke-width="1.1" />
<path d="M976.4 1020 L977.1 1019.3 L977.9 1018.6 L978.6 1017.9 L979.3 1017.2 L980 1016.5 L980.7 1015.9 L981.5 1015.3 L982.2 1014.9 L982.8 1014.6 L983.4 1014.3 L984 1014.1 L984.6 1013.9 L985.2 1013.8 L985.8 1013.8 L986.4 1013.8 L987 1013.9 L987.8 1014.3 L988.5 1014.9 L989.2 1015.6 L990 1016.4 L990.7 1017.4 L991.4 1018.3 L992.1 1019.2 L992.8 1020" fill="none" stroke="#000" stroke-width="1.1" />
<rect x="852" y="1018" width="116" height="110" fill="#fff"/>
<path d="M851.9 1010 L851.9 1011 L851.8 1011.9 L851.7 1012.9 L851.6 1013.8 L851.5 1014.8 L851.4 1015.8 L851.4 1016.7 L851.4 1017.7 L851.6 1018.8 L851.7 1019.9 L851.9 1021 L852.1 1022.1 L852.4 1023.2 L852.7 1024.3 L853 1025.3 L853.4 1026.4 L853.8 1027.5 L854.3 1028.6 L854.8 1029.8 L855.3 1030.9 L855.9 1032 L856.5 1033 L857.1 1034.1 L857.7 1035.1 L858.3 1036 L858.9 1036.9 L859.5 1037.7 L860.1 1038.6 L860.7 1039.4 L861.3 1040.2 L861.9 1041 L862.6 1041.9" fill="none" stroke="#000" stroke-width="1.1" />
<path d="M854.3 1010 L854.3 1011 L854.2 1011.9 L854.1 1012.9 L854 1013.9 L853.9 1014.8 L853.8 1015.8 L853.8 1016.8 L853.9 1017.7 L854 1018.7 L854.1 1019.7 L854.3 1020.6 L854.6 1021.6 L854.8 1022.6 L855.1 1023.5 L855.5 1024.5 L855.8 1025.4 L856.2 1026.4 L856.6 1027.4 L857.1 1028.4 L857.6 1029.3 L858.1 1030.3 L858.6 1031.2 L859.2 1032.2 L859.7 1033.2" fill="none" stroke="#000" stroke-width="0.9" />
<path d="M871.2 1010 L871.5 1010.5 L871.7 1011 L871.9 1011.4 L872.1 1011.9 L872.3 1012.4 L872.6 1012.9 L872.8 1013.4 L873.2 1013.9 L873.7 1014.6 L874.4 1015.3 L875.1 1016 L875.8 1016.7 L876.6 1017.5 L877.4 1018.2 L878.2 1018.9 L879 1019.7" fill="none" stroke="#000" stroke-width="1.1" />
<path d="M879 1019.7 L913.2 1050.5" fill="none" stroke="#000" stroke-width="1.1" />
<path d="M886.7 1010 L891.5 1015.8 L911.8 1039" fill="none" stroke="#000" stroke-width="1.1" />
<path d="M861.6 1036.1 L870.3 1023.5 L913.2 1058.3" fill="none" stroke="#000" stroke-width="1.1" />
<path d="M913.2 1058.3 L913.6 1058 L914 1057.8 L914.4 1057.6 L914.8 1057.4 L915.2 1057.2 L915.5 1056.9 L915.9 1056.6 L916.1 1056.3 L916.3 1056 L916.5 1055.7 L916.7 1055.3 L916.9 1055 L917 1054.6 L917.1 1054.2 L917.1 1053.8 L917.1 1053.4 L917 1053.1 L916.9 1052.7 L916.7 1052.4 L916.5 1052 L916.3 1051.6 L916.1 1051.3 L915.8 1050.9 L915.6 1050.5" fill="none" stroke="#000" stroke-width="1.1" />
<path d="M872.7 1024.5 L914.9 1055.2" fill="none" stroke="#000" stroke-width="0.9" />
<path d="M861.6 1036.1 L908.9 1062.6" fill="none" stroke="#000" stroke-width="1.1" />
<path d="M911.8 1039 L911.9 1039.3 L912 1039.7 L912.1 1040 L912.2 1040.3 L912.3 1040.7 L912.4 1041.1 L912.6 1041.4 L912.8 1041.9 L913.1 1042.6 L913.6 1043.4 L914.1 1044.3 L914.7 1045.2 L915.2 1046.2 L915.8 1047 L916.2 1047.9 L916.6 1048.6 L916.8 1049 L916.9 1049.4 L917.1 1049.8 L917.2 1050.1 L917.3 1050.5 L917.4 1050.8 L917.5 1051.2 L917.6 1051.5" fill="none" stroke="#000" stroke-width="1.1" />
<path d="M913.7 1012.9 L913.8 1012.6 L913.8 1012.3 L913.9 1012.1 L914 1011.8 L914.2 1011.6 L914.3 1011.3 L914.5 1011.1 L914.7 1011 L915 1010.8 L915.3 1010.7 L915.6 1010.6 L916 1010.5 L916.4 1010.5 L916.8 1010.4 L917.2 1010.4 L917.6 1010.5 L918 1010.6 L918.5 1010.7 L918.9 1010.8 L919.4 1011 L919.9 1011.2 L920.3 1011.4 L920.7 1011.6 L921 1011.9 L921.2 1012.2 L921.4 1012.5 L921.6 1012.9 L921.7 1013.2 L921.8 1013.6 L921.9 1014 L921.9 1014.4 L921.9 1014.8 L921.8 1015.4 L921.7 1016.1 L921.4 1016.8 L921.1 1017.5 L920.7 1018.1 L920.3 1018.8 L919.9 1019.3 L919.5 1019.7 L919.2 1019.9 L918.8 1020 L918.5 1020.2 L918.1 1020.2 L917.7 1020.3 L917.3 1020.3 L916.9 1020.2 L916.6 1020.1 L916.2 1019.9 L915.9 1019.6 L915.5 1019.2 L915.2 1018.8 L914.9 1018.3 L914.6 1017.7 L914.4 1017.2 L914.2 1016.8 L914 1016.3 L913.9 1015.8 L913.8 1015.3 L913.7 1014.8 L913.7 1014.3 L913.7 1013.8 L913.7 1013.3Z" fill="none" stroke="#000" stroke-width="1.1" />
<path d="M921.9 1015.8 L921.2 1016.6 L920.6 1017.5 L919.9 1018.3 L919.2 1019.1 L918.5 1019.9 L917.8 1020.8 L917.2 1021.7 L916.6 1022.6 L916 1023.5 L915.5 1024.4 L914.9 1025.4 L914.4 1026.3 L913.9 1027.3 L913.5 1028.3 L913.1 1029.3 L912.8 1030.3 L912.5 1031.2 L912.3 1032.3 L912.1 1033.3 L911.9 1034.3 L911.8 1035.4 L911.7 1036.3 L911.7 1037.2 L911.8 1038 L911.8 1038.4 L911.9 1038.8 L912.1 1039.2 L912.2 1039.5 L912.3 1039.9 L912.5 1040.2 L912.6 1040.5 L912.8 1040.9" fill="none" stroke="#000" stroke-width="1.1" />
<path d="M920.5 1015.3 L919.8 1016.2 L919.1 1017.1 L918.4 1018 L917.7 1018.9 L917 1019.8 L916.4 1020.7 L915.8 1021.6 L915.2 1022.6 L914.6 1023.5 L914.1 1024.4 L913.6 1025.4 L913.1 1026.3 L912.6 1027.3 L912.2 1028.3 L911.8 1029.3 L911.5 1030.3 L911.3 1031.2 L911.1 1032.2 L911 1033.1 L910.9 1034.1 L910.8 1035.1 L910.7 1036.1 L910.6 1037 L910.5 1038" fill="none" stroke="#000" stroke-width="0.9" />
<path d="M946.5 1010 L945.3 1010.3 L944.1 1010.7 L942.8 1011 L941.6 1011.3 L940.3 1011.6 L939.1 1012 L938 1012.4 L936.9 1012.9 L935.9 1013.4 L935 1013.9 L934.1 1014.5 L933.2 1015 L932.4 1015.7 L931.6 1016.3 L930.8 1017 L930.1 1017.7 L929.5 1018.5 L928.9 1019.2 L928.4 1020.1 L927.9 1020.9 L927.5 1021.8 L927 1022.7 L926.6 1023.6 L926.3 1024.5 L925.9 1025.4 L925.6 1026.4 L925.3 1027.4 L925 1028.4 L924.8 1029.3 L924.6 1030.3 L924.4 1031.3 L924.3 1032.2 L924.3 1033 L924.3 1033.7 L924.3 1034.4 L924.3 1035.2 L924.4 1035.9 L924.5 1036.6 L924.6 1037.3 L924.8 1038 L925.1 1038.7 L925.5 1039.5 L925.9 1040.2 L926.3 1041 L926.8 1041.7 L927.3 1042.4 L927.8 1043.1 L928.2 1043.8 L928.6 1044.4 L929 1045 L929.3 1045.6 L929.7 1046.2 L930.1 1046.8 L930.4 1047.4 L930.8 1048 L931.1 1048.6 L931.4 1049.2 L931.7 1049.8 L932 1050.4 L932.3 1051 L932.5 1051.6 L932.7 1052.2 L932.9 1052.8 L933 1053.4 L933.1 1054.2 L933.1 1055 L933 1055.9 L932.9 1056.7 L932.8 1057.6 L932.6 1058.4 L932.4 1059.3 L932.1 1060.2 L931.6 1061.4 L931 1062.5 L930.3 1063.7 L929.5 1065 L928.7 1066.2 L927.8 1067.4 L927 1068.6 L926.3 1069.9" fill="none" stroke="#000" stroke-width="1.1" />
<path d="M926.3 1069.9 L891.5 1119.1 L884.8 1130" fill="none" stroke="#000" stroke-width="1.1" />
<path d="M929.2 1010 L928.4 1010.7 L927.7 1011.4 L926.9 1012.1 L926.1 1012.8 L925.3 1013.6 L924.6 1014.3 L924 1015 L923.4 1015.8 L922.9 1016.5 L922.5 1017.2 L922 1017.9 L921.7 1018.6 L921.3 1019.3 L921 1020 L920.7 1020.8 L920.5 1021.6 L920.2 1022.5 L920 1023.4 L919.9 1024.4 L919.8 1025.4 L919.7 1026.3 L919.6 1027.3 L919.5 1028.3 L919.5 1029.3 L919.5 1030.3 L919.5 1031.3 L919.4 1032.3 L919.5 1033.3 L919.5 1034.2 L919.6 1035.2 L919.8 1036.1 L920 1037 L920.3 1037.8 L920.6 1038.6 L921 1039.3 L921.4 1040 L921.9 1040.7 L922.4 1041.4 L922.9 1042.1 L923.4 1042.8 L923.9 1043.6 L924.6 1044.3 L925.3 1045 L926 1045.7 L926.6 1046.4 L927.2 1047.2 L927.8 1047.9 L928.2 1048.6 L928.5 1049.2 L928.7 1049.8 L928.9 1050.4 L929 1051 L929.1 1051.6 L929.1 1052.2 L929.2 1052.8 L929.2 1053.4 L929.1 1054.2 L929 1055 L928.8 1055.9 L928.6 1056.7 L928.3 1057.6 L928 1058.4 L927.6 1059.3 L927.2 1060.2 L926.7 1061.3 L926 1062.5 L925.3 1063.7 L924.6 1065 L923.8 1066.2 L923 1067.4 L922.2 1068.6 L921.4 1069.9" fill="none" stroke="#000" stroke-width="1.1" />
<path d="M921.4 1069.9 L916.9 1076 L912 1082.5 L907 1089.2 L902.1 1095.8 L897.4 1102.1 L893.2 1107.7 L889.5 1112.5 L886.7 1116.2 L885.9 1117.2 L885.2 1118.1 L884.7 1118.8 L884.1 1119.5 L883.6 1120.2 L883.1 1120.8 L882.5 1121.4 L881.9 1122 L881 1122.7 L880.1 1123.4 L879.2 1124 L878.2 1124.7 L877.3 1125.3 L876.2 1125.8 L875.2 1126.3 L874.1 1126.8 L873 1127.3 L871.9 1127.6 L870.7 1128 L869.5 1128.3 L868.3 1128.6 L867.1 1128.8 L865.8 1129 L864.5 1129.2 L862.8 1129.4 L861.1 1129.6 L859.3 1129.7 L857.4 1129.8 L855.6 1129.8 L853.7 1129.9 L851.8 1129.9 L850 1130" fill="none" stroke="#000" stroke-width="1.1" />
<path d="M917.6 1051.5 L917.5 1052 L917.4 1052.5 L917.3 1052.9 L917.2 1053.4 L917.1 1053.9 L917 1054.4 L916.8 1054.9 L916.6 1055.4 L916.2 1056.1 L915.7 1056.9 L915.2 1057.8 L914.5 1058.6 L913.9 1059.5 L913.2 1060.3 L912.5 1061.2 L911.8 1062.1 L910.9 1063.2 L910.1 1064.3 L909.2 1065.4 L908.3 1066.5 L907.3 1067.7 L906.3 1068.9 L905.2 1070.3 L904.1 1071.8 L901.7 1074.9 L898.9 1078.7 L895.9 1082.9 L892.7 1087.3 L889.6 1091.7 L886.6 1095.7 L884 1099.1 L881.9 1101.7 L881.1 1102.5 L880.5 1103.3 L879.9 1103.9 L879.3 1104.5 L878.8 1105 L878.3 1105.5 L877.7 1106 L877 1106.5 L876.3 1107.2 L875.5 1107.9 L874.7 1108.5 L873.8 1109.2 L873 1109.8 L872.1 1110.4 L871.2 1110.9 L870.3 1111.4 L869.3 1111.8 L868.2 1112.2 L867.1 1112.5 L866 1112.8 L864.8 1113 L863.7 1113.2 L862.6 1113.3 L861.6 1113.3 L860.7 1113.3 L859.8 1113.2 L858.9 1113 L858.1 1112.8 L857.2 1112.6 L856.4 1112.4 L855.6 1112.1 L854.8 1111.9 L854.2 1111.6 L853.5 1111.3 L852.9 1111 L852.3 1110.7 L851.8 1110.4 L851.2 1110.1 L850.6 1109.7 L850 1109.4" fill="none" stroke="#000" stroke-width="1.1" />
<path d="M938.3 1010 L962.5 1071.8" fill="none" stroke="#000" stroke-width="1.1" />
<path d="M940.7 1058.3 L941.5 1057.5 L942.2 1056.8 L942.8 1056 L943.5 1055.2 L944.2 1054.5 L945 1053.8 L945.7 1053.1 L946.5 1052.5 L947.4 1051.9 L948.3 1051.3 L949.3 1050.8 L950.3 1050.3 L951.3 1049.8 L952.3 1049.4 L953.3 1049 L954.3 1048.6 L955.2 1048.3 L956.2 1048.1 L957.1 1047.8 L958.1 1047.6 L959.1 1047.5 L960 1047.3 L961 1047.2 L962 1047.2 L963 1047.1 L964 1047.2 L965 1047.2 L966 1047.3 L967 1047.4 L968 1047.5 L969 1047.6 L970 1047.7" fill="none" stroke="#000" stroke-width="1.1" />
<path d="M942.7 1061.2 L943.4 1060.4 L944.1 1059.7 L944.8 1058.9 L945.5 1058.1 L946.2 1057.4 L946.9 1056.7 L947.7 1056 L948.5 1055.4 L949.3 1054.8 L950.3 1054.2 L951.2 1053.6 L952.2 1053.1 L953.2 1052.7 L954.2 1052.2 L955.2 1051.8 L956.2 1051.5 L957.1 1051.3 L958.1 1051 L959.1 1050.9 L960.1 1050.8 L961.1 1050.7 L962 1050.6 L963 1050.6 L963.9 1050.5 L964.7 1050.5 L965.5 1050.6 L966.3 1050.6 L967 1050.7 L967.8 1050.8 L968.5 1050.9 L969.2 1051 L970 1051" fill="none" stroke="#000" stroke-width="1.1" />
<path d="M945.6 1065 L946.3 1064.3 L947 1063.5 L947.7 1062.8 L948.4 1062 L949.1 1061.3 L949.8 1060.5 L950.6 1059.9 L951.4 1059.2 L952.2 1058.6 L953.1 1058.1 L954.1 1057.5 L955 1057 L956 1056.5 L957 1056.1 L958 1055.7 L959.1 1055.4 L960.3 1055.1 L961.7 1054.9 L963 1054.7 L964.4 1054.7 L965.8 1054.6 L967.2 1054.6 L968.6 1054.5 L970 1054.4" fill="none" stroke="#000" stroke-width="1.1" />
<path d="M949.4 1068.9 L950.1 1068.2 L950.8 1067.4 L951.5 1066.6 L952.2 1065.9 L952.9 1065.1 L953.7 1064.4 L954.4 1063.7 L955.2 1063.1 L956.1 1062.5 L957 1061.9 L958 1061.4 L959 1060.9 L960 1060.4 L961 1059.9 L962 1059.6 L963 1059.2 L963.8 1059 L964.7 1058.8 L965.6 1058.7 L966.5 1058.6 L967.4 1058.5 L968.2 1058.5 L969.1 1058.4 L970 1058.3" fill="none" stroke="#000" stroke-width="1.1" />
<path d="M952.3 1072.8 L952.9 1073 L953.5 1073.3 L954.1 1073.6 L954.7 1073.9 L955.3 1074.2 L955.9 1074.4 L956.5 1074.6 L957.2 1074.7 L958 1074.7 L958.8 1074.6 L959.6 1074.4 L960.5 1074.2 L961.4 1073.9 L962.3 1073.5 L963.1 1073.1 L963.9 1072.8 L964.7 1072.3 L965.5 1071.7 L966.3 1071.2 L967 1070.5 L967.8 1069.9 L968.5 1069.2 L969.2 1068.5 L970 1067.9" fill="none" stroke="#000" stroke-width="1.1" />
<path d="M932.1 1052.5 L960.1 1082.4" fill="none" stroke="#000" stroke-width="1.1" />
<path d="M956.2 1010 L956.8 1010.5 L957.3 1011 L957.9 1011.5 L958.5 1012.1 L959 1012.6 L959.7 1013 L960.3 1013.5 L961 1013.9 L962 1014.2 L963 1014.6 L964.1 1014.8 L965.3 1015 L966.5 1015.2 L967.7 1015.4 L968.9 1015.6 L970 1015.8" fill="none" stroke="#000" stroke-width="1.1" />
<path d="M961 1015.8 L970 1035.1" fill="none" stroke="#000" stroke-width="1.1" />
<path d="M935 1093 L935.5 1092.3 L936.1 1091.5 L936.7 1090.8 L937.3 1090.1 L937.9 1089.3 L938.5 1088.6 L939.1 1087.9 L939.8 1087.2 L940.5 1086.5 L941.3 1085.9 L942.1 1085.2 L943 1084.5 L943.8 1083.9 L944.7 1083.3 L945.6 1082.8 L946.5 1082.4 L947.5 1082.1 L948.4 1081.8 L949.4 1081.5 L950.4 1081.3 L951.4 1081.2 L952.4 1081 L953.4 1081 L954.3 1081 L955 1081 L955.8 1081 L956.6 1081 L957.3 1081.1 L958 1081.2 L958.6 1081.4 L959.2 1081.6 L959.6 1081.9 L959.8 1082.2 L959.9 1082.6 L960 1083 L960 1083.5 L960 1083.9 L960 1084.4 L960 1084.9 L960.1 1085.3" fill="none" stroke="#000" stroke-width="1.1" />
<path d="M956.2 1081.9 L956.8 1082.9 L957.5 1083.9 L958.2 1084.9 L958.8 1085.9 L959.5 1087 L960.1 1088 L960.6 1089 L961 1090.1 L961.4 1091.3 L961.7 1092.4 L961.9 1093.6 L962.1 1094.9 L962.3 1096.1 L962.4 1097.3 L962.5 1098.6 L962.5 1099.8 L962.4 1101 L962.4 1102.2 L962.2 1103.5 L962 1104.7 L961.8 1105.9 L961.6 1107.1 L961.3 1108.3 L961 1109.4 L960.7 1110.5 L960.4 1111.4 L960 1112.4 L959.7 1113.4 L959.3 1114.3 L958.9 1115.3 L958.5 1116.2 L958.1 1117.2" fill="none" stroke="#000" stroke-width="1.1" />
<path d="M956.2 1083.4 L956.5 1084.5 L956.7 1085.5 L957 1086.6 L957.3 1087.7 L957.6 1088.8 L957.8 1089.8 L958 1090.9 L958.1 1092.1 L958.2 1093.2 L958.1 1094.4 L958.1 1095.6 L957.9 1096.8 L957.8 1098 L957.6 1099.3 L957.4 1100.5 L957.2 1101.7 L956.9 1103 L956.6 1104.3 L956.2 1105.7 L955.8 1107 L955.4 1108.3 L955 1109.7 L954.6 1111 L954.3 1112.3" fill="none" stroke="#000" stroke-width="1.1" />
<path d="M935 1093 L930.6 1095 L902.1 1130" fill="none" stroke="#000" stroke-width="1.1" />
<path d="M930.6 1095 L955.2 1115.2 L970 1128.7" fill="none" stroke="#000" stroke-width="1.1" />
<path d="M912.8 1130 L912.9 1129 L912.9 1128 L913 1127 L913 1126 L913.1 1125 L913.2 1124 L913.4 1123 L913.7 1122 L914.1 1120.9 L914.6 1119.8 L915.1 1118.6 L915.7 1117.5 L916.4 1116.4 L917.1 1115.3 L917.8 1114.3 L918.5 1113.3 L919.4 1112.3 L920.2 1111.4 L921.2 1110.4 L922.1 1109.6 L923.1 1108.7 L924.2 1107.9 L925.2 1107.2 L926.3 1106.5 L927.3 1106 L928.4 1105.5 L929.4 1105 L930.5 1104.7 L931.7 1104.3 L932.8 1104 L933.9 1103.8 L935 1103.6 L935.9 1103.5 L936.9 1103.5 L937.9 1103.5 L938.9 1103.5 L939.9 1103.6 L940.9 1103.7 L941.8 1103.9 L942.7 1104.1 L943.5 1104.4 L944.3 1104.7 L945.1 1105.1 L945.8 1105.5 L946.6 1105.9 L947.3 1106.4 L947.9 1106.9 L948.5 1107.5 L949 1108.2 L949.5 1108.9 L949.9 1109.8 L950.2 1110.6 L950.6 1111.5 L950.9 1112.4 L951.1 1113.4 L951.4 1114.3 L951.6 1115.2 L951.8 1116.1 L952 1117.1 L952.2 1118.1 L952.3 1119.1 L952.3 1120 L952.4 1121 L952.3 1122 L952.2 1123 L952.1 1124 L951.8 1125 L951.6 1126 L951.3 1127 L951 1128 L950.7 1129 L950.4 1130" fill="none" stroke="#000" stroke-width="1.1" />
<path d="M914.7 1130 L914.8 1129 L915 1128 L915.1 1127 L915.2 1126 L915.4 1124.9 L915.6 1123.9 L915.8 1123 L916.1 1122 L916.5 1121 L917 1120 L917.4 1119 L918 1118 L918.5 1117 L919.2 1116 L919.8 1115.1 L920.5 1114.3 L921.2 1113.4 L922 1112.6 L922.8 1111.8 L923.6 1111.1 L924.5 1110.4 L925.4 1109.7 L926.3 1109 L927.2 1108.5 L928.1 1108 L929.1 1107.5 L930.1 1107.1 L931 1106.7 L932 1106.3 L933 1106 L934 1105.8 L935 1105.6 L935.8 1105.5 L936.7 1105.4 L937.5 1105.4 L938.3 1105.4 L939.2 1105.5 L940 1105.5 L940.9 1105.6 L941.7 1105.6" fill="none" stroke="#000" stroke-width="0.9" />
<path d="M924.3 1130 L924.6 1129.1 L924.8 1128.2 L924.9 1127.3 L925.1 1126.4 L925.3 1125.5 L925.6 1124.6 L925.9 1123.8 L926.3 1123 L926.7 1122.1 L927.2 1121.3 L927.8 1120.5 L928.4 1119.8 L929 1119 L929.7 1118.3 L930.4 1117.7 L931.1 1117.2 L931.8 1116.7 L932.5 1116.3 L933.2 1115.9 L933.9 1115.5 L934.7 1115.2 L935.4 1115 L936.2 1114.8 L936.9 1114.7 L937.5 1114.7 L938.2 1114.8 L938.8 1114.9 L939.5 1115.1 L940.1 1115.3 L940.7 1115.5 L941.3 1115.8 L941.7 1116.2 L942.1 1116.6 L942.5 1117.1 L942.8 1117.7 L943 1118.3 L943.2 1119 L943.4 1119.7 L943.5 1120.3 L943.6 1121 L943.7 1121.8 L943.7 1122.7 L943.6 1123.6 L943.4 1124.6 L943.3 1125.5 L943.1 1126.3 L942.9 1127.1 L942.7 1127.8 L942.6 1128.1 L942.5 1128.4 L942.3 1128.7 L942.2 1129 L942.1 1129.2 L942 1129.5 L941.8 1129.7 L941.7 1130" fill="none" stroke="#000" stroke-width="1.1" />
<path d="M850 1051.5 L850.7 1050.5 L851.4 1049.4 L852.2 1048.4 L852.9 1047.3 L853.6 1046.3 L854.3 1045.3 L855.1 1044.5 L855.8 1043.8 L856.3 1043.4 L856.8 1043.1 L857.3 1042.8 L857.7 1042.5 L858.2 1042.3 L858.7 1042.1 L859.2 1042 L859.7 1041.9 L860 1041.8 L860.4 1041.8 L860.8 1041.8 L861.1 1041.8 L861.5 1041.8 L861.8 1041.8 L862.2 1041.8 L862.6 1041.9" fill="none" stroke="#000" stroke-width="1.1" />
<path d="M862.6 1041.9 L862.9 1042.5 L863.3 1043 L863.7 1043.6 L864 1044.2 L864.4 1044.8 L864.8 1045.4 L865.1 1046 L865.4 1046.7 L865.8 1047.5 L866.2 1048.3 L866.5 1049.1 L866.8 1049.9 L867.1 1050.8 L867.4 1051.6 L867.7 1052.5 L867.9 1053.4 L868 1054.5 L868.2 1055.5 L868.3 1056.6 L868.4 1057.7 L868.4 1058.9 L868.5 1060 L868.4 1061.1 L868.3 1062.1 L868.2 1063.1 L868.1 1064.1 L867.9 1065.1 L867.6 1066 L867.4 1067 L867.1 1068 L866.8 1068.9 L866.4 1069.9 L866 1070.8 L865.6 1071.8 L865.2 1072.8 L864.8 1073.8 L864.3 1074.8 L863.7 1075.7 L863.2 1076.7 L862.6 1077.6 L861.8 1078.5 L861.1 1079.4 L860.2 1080.3 L859.3 1081.2 L858.5 1082 L857.5 1082.8 L856.7 1083.6 L855.8 1084.3 L855.1 1084.9 L854.3 1085.4 L853.6 1085.9 L852.9 1086.4 L852.2 1086.8 L851.4 1087.3 L850.7 1087.7 L850 1088.2" fill="none" stroke="#000" stroke-width="1.1" />
<path d="M859.7 1060.2 L859.2 1060.2 L858.6 1060.3 L858.1 1060.5 L857.6 1060.7 L857.1 1061 L856.7 1061.4 L856.2 1061.7 L855.8 1062.1 L855.3 1062.7 L854.9 1063.3 L854.5 1064 L854.1 1064.7 L853.7 1065.5 L853.4 1066.3 L853.1 1067.1 L852.9 1067.9 L852.7 1068.8 L852.5 1069.8 L852.3 1070.8 L852.2 1071.8 L852.2 1072.8 L852.2 1073.8 L852.3 1074.8 L852.4 1075.6 L852.6 1076.3 L852.8 1077.1 L853 1077.7 L853.3 1078.4 L853.6 1079 L854 1079.6 L854.4 1080.1 L854.8 1080.5 L855.2 1080.8 L855.7 1081 L856.2 1081.2 L856.7 1081.4 L857.2 1081.5 L857.7 1081.6 L858.2 1081.5 L858.7 1081.4 L859.2 1081.2 L859.8 1080.7 L860.3 1080.2 L860.8 1079.5 L861.2 1078.8 L861.7 1078.1 L862.1 1077.3 L862.6 1076.6 L863 1075.8 L863.5 1075 L863.9 1074.2 L864.3 1073.3 L864.7 1072.4 L865 1071.6 L865.3 1070.7 L865.4 1069.9 L865.5 1069.1 L865.5 1068.3 L865.5 1067.6 L865.4 1066.8 L865.3 1066.1 L865.1 1065.4 L864.8 1064.7 L864.5 1064.1 L864.1 1063.4 L863.5 1062.8 L862.9 1062.2 L862.3 1061.6 L861.6 1061.1 L860.9 1060.6 L860.3 1060.3Z" fill="none" stroke="#000" stroke-width="1.1" />
<path d="M856.8 1041.9 L877.5 1076.6" fill="none" stroke="#000" stroke-width="1.6" />
<path d="M877.5 1076.6 L873.2 1081.9" fill="none" stroke="#000" stroke-width="1.1" />
<path d="M850 1031.2 L855.8 1035.1 L861.6 1041.9" fill="none" stroke="#000" stroke-width="1.1" />
<path d="M873.7 1081.9 L873.3 1082.6 L872.9 1083.2 L872.5 1083.9 L872.1 1084.5 L871.7 1085.2 L871.3 1085.8 L871 1086.5 L870.8 1087.2 L870.5 1088 L870.3 1088.8 L870.2 1089.7 L870 1090.5 L869.9 1091.4 L869.8 1092.3 L869.8 1093.1 L869.8 1094 L869.8 1094.8 L869.8 1095.7 L869.9 1096.6 L870 1097.4 L870.1 1098.3 L870.3 1099.1 L870.5 1099.9 L870.8 1100.7 L871.1 1101.5 L871.4 1102.3 L871.8 1103 L872.3 1103.7 L872.8 1104.4 L873.2 1105.1 L873.7 1105.8 L874.1 1106.5" fill="none" stroke="#000" stroke-width="1.1" />
<path d="M874.1 1106.5 L874.7 1106.1 L875.4 1105.6 L876 1105.2 L876.6 1104.7 L877.2 1104.2 L877.8 1103.8 L878.4 1103.2 L879 1102.7 L879.5 1102 L880 1101.4 L880.5 1100.6 L881 1099.9 L881.4 1099.1 L881.9 1098.4 L882.3 1097.6 L882.8 1096.9" fill="none" stroke="#000" stroke-width="1.1" />
<path d="M906 1067 L905 1067.5 L904 1068.1 L903 1068.7 L902 1069.2 L901.1 1069.8 L900.1 1070.4 L899.2 1071.1 L898.3 1071.8 L897.3 1072.6 L896.4 1073.5 L895.5 1074.4 L894.7 1075.4 L893.8 1076.4 L893 1077.4 L892.3 1078.5 L891.5 1079.5 L890.8 1080.5 L890.1 1081.6 L889.4 1082.7 L888.8 1083.8 L888.2 1084.9 L887.6 1086 L887.1 1087.1 L886.7 1088.2 L886.4 1089.1 L886.2 1089.9 L886 1090.8 L885.8 1091.6 L885.7 1092.4 L885.5 1093.3 L885.4 1094.1 L885.2 1095" fill="none" stroke="#000" stroke-width="1.1" />
<path d="M902.6 1072.8 L902.3 1073.6 L902.1 1074.4 L901.8 1075.3 L901.5 1076.1 L901.2 1077 L900.9 1077.8 L900.6 1078.7 L900.2 1079.5 L899.7 1080.5 L899.2 1081.5 L898.6 1082.5 L898.1 1083.5 L897.4 1084.5 L896.8 1085.4 L896.1 1086.4 L895.4 1087.2 L894.6 1088 L893.8 1088.8 L893 1089.5 L892.1 1090.2 L891.2 1090.9 L890.4 1091.6 L889.5 1092.3 L888.6 1093" fill="none" stroke="#000" stroke-width="0.9" />
<path d="M886.7 1123.9 L881.9 1130" fill="none" stroke="#000" stroke-width="1.1" />
<g transform="translate(0 0)"><path d="M281.3 476.8 L297.8 487.3 " fill="none" stroke="#000" stroke-width="2" />
<path d="M297.8 487.3 L298 487.8 L298.3 488.3 L298.6 488.8 L298.9 489.3 L299.1 489.8 L299.3 490.3 L299.4 490.8 L299.4 491.3 L299.3 491.9 L299.1 492.6 L298.8 493.3 L298.5 493.9 L298.1 494.6 L297.6 495.2 L297.1 495.7 L296.6 496.1 L296 496.5 L295.4 496.7 L294.7 496.9 L294 497 L293.2 497.1 L292.4 497.1 L291.7 497.2 L291 497.3" fill="none" stroke="#000" stroke-width="2" />
<path d="M275.3 486.9 L291 497.3" fill="none" stroke="#000" stroke-width="2" />
<path d="M282 477.2 L281.8 477.9 L281.7 478.6 L281.6 479.3 L281.4 480 L281.3 480.7 L281.1 481.4 L280.9 482 L280.6 482.7 L280.1 483.3 L279.6 483.9 L279.1 484.5 L278.4 485.1 L277.8 485.6 L277.2 486.2 L276.5 486.7 L275.9 487.3" fill="none" stroke="#000" stroke-width="1.3" />
<path d="M283.9 478.5 L283.7 479.1 L283.6 479.8 L283.5 480.5 L283.3 481.2 L283.2 481.9 L283 482.6 L282.7 483.3 L282.4 483.9 L282 484.5 L281.5 485.1 L280.9 485.7 L280.3 486.3 L279.6 486.8 L279 487.4 L278.4 487.9 L277.7 488.5" fill="none" stroke="#000" stroke-width="1.3" />
<path d="M285.8 479.7 L285.6 480.4 L285.5 481.1 L285.4 481.8 L285.2 482.5 L285.1 483.1 L284.9 483.8 L284.6 484.5 L284.3 485.1 L283.9 485.7 L283.3 486.3 L282.8 486.9 L282.1 487.5 L281.5 488 L280.8 488.6 L280.2 489.2 L279.6 489.7" fill="none" stroke="#000" stroke-width="1.3" />
<path d="M287.7 480.9 L287.5 481.6 L287.4 482.3 L287.3 483 L287.1 483.7 L286.9 484.4 L286.7 485 L286.5 485.7 L286.2 486.3 L285.7 487 L285.2 487.6 L284.6 488.1 L284 488.7 L283.3 489.3 L282.7 489.8 L282 490.4 L281.4 490.9" fill="none" stroke="#000" stroke-width="1.3" />
<path d="M289.6 482.1 L289.4 482.8 L289.3 483.5 L289.1 484.2 L289 484.9 L288.8 485.6 L288.6 486.3 L288.4 486.9 L288 487.5 L287.6 488.2 L287.1 488.8 L286.5 489.4 L285.8 489.9 L285.2 490.5 L284.5 491 L283.8 491.6 L283.2 492.2" fill="none" stroke="#000" stroke-width="1.3" />
<path d="M291.5 483.3 L291.4 484 L291.2 484.7 L291 485.4 L290.9 486.1 L290.7 486.8 L290.5 487.5 L290.2 488.1 L289.9 488.7 L289.4 489.4 L288.9 490 L288.3 490.6 L287.7 491.1 L287 491.7 L286.3 492.2 L285.7 492.8 L285 493.4" fill="none" stroke="#000" stroke-width="1.3" />
<path d="M293.5 484.5 L293.3 485.2 L293.1 485.9 L292.9 486.6 L292.8 487.3 L292.6 488 L292.4 488.7 L292.1 489.3 L291.8 490 L291.3 490.6 L290.8 491.2 L290.2 491.8 L289.5 492.4 L288.8 492.9 L288.2 493.5 L287.5 494 L286.9 494.6" fill="none" stroke="#000" stroke-width="1.3" />
<path d="M295.4 485.7 L295.2 486.4 L295 487.1 L294.8 487.8 L294.7 488.5 L294.5 489.2 L294.3 489.9 L294 490.6 L293.6 491.2 L293.2 491.8 L292.6 492.4 L292 493 L291.4 493.6 L290.7 494.1 L290 494.7 L289.3 495.2 L288.7 495.8" fill="none" stroke="#000" stroke-width="1.3" />
<path d="M297.3 487 L297.1 487.6 L296.9 488.3 L296.7 489 L296.6 489.7 L296.4 490.4 L296.1 491.1 L295.9 491.8 L295.5 492.4 L295 493 L294.5 493.6 L293.9 494.2 L293.2 494.8 L292.5 495.3 L291.8 495.9 L291.2 496.5 L290.5 497" fill="none" stroke="#000" stroke-width="1.3" />
<path d="M272.5 462.8 L273.5 463.3 L274.6 463.8 L275.8 464.3 L276.9 464.9 L277.9 465.4 L278.9 466 L279.8 466.6 L280.5 467.2 L280.9 467.6 L281.3 468.1 L281.6 468.6 L281.9 469.1 L282.1 469.6 L282.3 470.1 L282.4 470.7 L282.5 471.2 L282.6 471.9 L282.5 472.5 L282.4 473.3 L282.2 474 L282 474.7 L281.7 475.4 L281.5 476.1 L281.3 476.8 L281.1 477.5 L281 478.1 L280.8 478.7 L280.6 479.3 L280.4 479.9 L280.2 480.5 L280 481.1 L279.7 481.7 L279.4 482.2 L279 482.7 L278.6 483.2 L278.2 483.7 L277.8 484.2 L277.3 484.7 L276.9 485.2 L276.5 485.7" fill="none" stroke="#000" stroke-width="2" />
<path d="M259.6 484.1 L260.5 484.7 L261.4 485.4 L262.3 486.1 L263.3 486.8 L264.2 487.5 L265.1 488 L266 488.5 L266.8 488.9 L267.5 489.1 L268.1 489.3 L268.7 489.4 L269.3 489.5 L269.9 489.5 L270.5 489.5 L271.1 489.4 L271.7 489.3 L272.2 489.1 L272.6 488.9 L273.1 488.6 L273.5 488.3 L274 487.9 L274.4 487.6 L274.8 487.2 L275.3 486.9" fill="none" stroke="#000" stroke-width="2" />
<path d="M237.1 475.2 L237.1 474.2 L237.2 473.3 L237.2 472.3 L237.4 471.3 L237.5 470.3 L237.7 469.2 L238 468.2 L238.3 467.2 L238.7 465.9 L239.2 464.6 L239.8 463.2 L240.4 461.9 L241.1 460.5 L241.9 459.2 L242.7 457.9 L243.5 456.7 L244.4 455.6 L245.3 454.5 L246.2 453.4 L247.2 452.3 L248.3 451.3 L249.4 450.3 L250.4 449.5 L251.5 448.7 L252.6 448 L253.7 447.4 L254.8 446.8 L255.9 446.3 L257 445.8 L258.2 445.5 L259.3 445.2 L260.4 445.1 L261.4 445 L262.5 445.1 L263.6 445.2 L264.7 445.4 L265.7 445.7 L266.7 446.1 L267.6 446.6 L268.4 447.1 L269.2 447.7 L269.9 448.4 L270.5 449.1 L271.1 450 L271.7 450.9 L272.1 451.8 L272.5 452.7 L272.9 453.5 L273.1 454.2 L273.2 454.9 L273.4 455.5 L273.4 456.2 L273.4 456.9 L273.4 457.6 L273.4 458.4 L273.3 459.1 L273.1 460.2 L272.8 461.4 L272.5 462.6 L272.1 463.8 L271.6 465.1 L271.1 466.4 L270.6 467.6 L270.1 468.8 L269.4 470 L268.7 471.3 L268 472.6 L267.2 473.8 L266.3 475.1 L265.5 476.3 L264.5 477.4 L263.6 478.4 L262.7 479.4 L261.7 480.3 L260.7 481.2 L259.7 482 L258.7 482.8 L257.6 483.5 L256.6 484.2 L255.6 484.9 L254.7 485.4 L253.8 485.9 L252.9 486.4 L252 486.9 L251 487.3 L250.1 487.6 L249.2 487.9 L248.3 488.1 L247.5 488.2 L246.7 488.2 L245.8 488.2 L245 488.2 L244.1 488.1 L243.3 487.9 L242.6 487.6 L241.9 487.3 L241.3 486.9 L240.7 486.4 L240.1 485.9 L239.5 485.2 L239 484.6 L238.6 483.9 L238.2 483.2 L237.9 482.5 L237.6 481.7 L237.4 480.8 L237.2 479.9 L237.1 479 L237.1 478.1 L237 477.1 L237.1 476.2Z" fill="#fff" stroke="#000" stroke-width="2" />
<path d="M239.3 473.6 L239.6 471.8 L240 469.9 L240.6 467.9 L241.3 465.9 L242.1 463.9 L243 461.9 L244 460.1 L245.1 458.3 L246.3 456.6 L247.7 454.9 L249.2 453.3 L250.7 451.7 L252.4 450.2 L254 448.9 L255.6 447.9 L257.2 447.2 L258.4 446.9 L259.6 446.7 L260.9 446.6 L262.1 446.6 L263.3 446.8 L264.5 447 L265.5 447.4 L266.4 447.9 L267.2 448.5 L267.9 449.2 L268.6 450 L269.2 450.9 L269.7 451.9 L270.1 453 L270.5 454 L270.7 455.1 L270.8 456.5 L270.8 457.9 L270.7 459.4 L270.4 461 L270 462.6 L269.6 464.2 L269 465.7 L268.4 467.2 L267.7 468.7 L266.9 470.2 L266 471.7 L265 473.2 L263.9 474.6 L262.8 475.9 L261.6 477.2 L260.4 478.4 L259.1 479.6 L257.8 480.8 L256.4 481.9 L254.9 483 L253.4 484 L251.9 484.8 L250.5 485.4 L249.1 485.7 L248.1 485.8 L246.9 485.7 L245.8 485.6 L244.7 485.3 L243.6 485 L242.7 484.5 L241.8 483.9 L241.1 483.3 L240.5 482.4 L240 481.4 L239.7 480.3 L239.4 479 L239.3 477.7 L239.2 476.3 L239.2 475Z" fill="none" stroke="#000" stroke-width="1.1" />
<path d="M272.1 459.1 L271.7 460.5 L271.3 461.8 L271 463.1 L270.7 464.5 L270.3 465.8 L269.9 467.1 L269.4 468.4 L268.8 469.6 L268.2 470.8 L267.4 472.1 L266.6 473.3 L265.8 474.5 L264.9 475.6 L263.9 476.7 L263 477.8 L262 478.8 L261.1 479.8 L260.1 480.6 L259.1 481.4 L258.1 482.2 L257 483 L256 483.7 L255 484.5 L254 485.3" fill="none" stroke="#000" stroke-width="0.8" />
<ellipse cx="252.6" cy="464.8" rx="9.2" ry="16.7" transform="rotate(32.6 252.6 464.8)" fill="none" stroke="#000" stroke-width="1.1" />
<path d="M250.3 461.1 L255.2 458.3 L258.1 462 L256.4 467.6 L250.7 470.8 L247.9 467.2Z" fill="none" stroke="#000" stroke-width="1.1" />
<path d="M252 462 L256 464.6" fill="none" stroke="#000" stroke-width="1.1" />
<path d="M256 464.6 L256.4 467.6" fill="none" stroke="#000" stroke-width="0.8" />
<path d="M249.5 468.8 L252 462" fill="none" stroke="#000" stroke-width="0.8" /></g>
<ellipse cx="323.7" cy="511.1" rx="18.3" ry="5.2" transform="rotate(-53.1 323.7 511.1)" fill="none" stroke="#000" stroke-width="1.8" />
<ellipse cx="323.4" cy="510.9" rx="16.6" ry="3.2" transform="rotate(-53.1 323.4 510.9)" fill="none" stroke="#000" stroke-width="0.9" />
<ellipse cx="363.7" cy="537.2" rx="17.3" ry="5" transform="rotate(-53.1 363.7 537.2)" fill="none" stroke="#000" stroke-width="1.8" />
<ellipse cx="366.9" cy="539.6" rx="17.3" ry="5" transform="rotate(-53.1 366.9 539.6)" fill="none" stroke="#000" stroke-width="1.8" />
<path d="M298.4 494.6 L326.6 512.6" stroke="#000" stroke-width="1.1" fill="none" />
<path d="M333.4 517 L339.7 521" stroke="#000" stroke-width="1.1" fill="none" />
<path d="M345.4 524.6 L402.4 561.1" stroke="#000" stroke-width="1.1" fill="none" />
<g transform="translate(-46.2 92.7)"><path d="M281.3 476.8 L297.8 487.3 " fill="none" stroke="#000" stroke-width="2" />
<path d="M297.8 487.3 L298 487.8 L298.3 488.3 L298.6 488.8 L298.9 489.3 L299.1 489.8 L299.3 490.3 L299.4 490.8 L299.4 491.3 L299.3 491.9 L299.1 492.6 L298.8 493.3 L298.5 493.9 L298.1 494.6 L297.6 495.2 L297.1 495.7 L296.6 496.1 L296 496.5 L295.4 496.7 L294.7 496.9 L294 497 L293.2 497.1 L292.4 497.1 L291.7 497.2 L291 497.3" fill="none" stroke="#000" stroke-width="2" />
<path d="M275.3 486.9 L291 497.3" fill="none" stroke="#000" stroke-width="2" />
<path d="M282 477.2 L281.8 477.9 L281.7 478.6 L281.6 479.3 L281.4 480 L281.3 480.7 L281.1 481.4 L280.9 482 L280.6 482.7 L280.1 483.3 L279.6 483.9 L279.1 484.5 L278.4 485.1 L277.8 485.6 L277.2 486.2 L276.5 486.7 L275.9 487.3" fill="none" stroke="#000" stroke-width="1.3" />
<path d="M283.9 478.5 L283.7 479.1 L283.6 479.8 L283.5 480.5 L283.3 481.2 L283.2 481.9 L283 482.6 L282.7 483.3 L282.4 483.9 L282 484.5 L281.5 485.1 L280.9 485.7 L280.3 486.3 L279.6 486.8 L279 487.4 L278.4 487.9 L277.7 488.5" fill="none" stroke="#000" stroke-width="1.3" />
<path d="M285.8 479.7 L285.6 480.4 L285.5 481.1 L285.4 481.8 L285.2 482.5 L285.1 483.1 L284.9 483.8 L284.6 484.5 L284.3 485.1 L283.9 485.7 L283.3 486.3 L282.8 486.9 L282.1 487.5 L281.5 488 L280.8 488.6 L280.2 489.2 L279.6 489.7" fill="none" stroke="#000" stroke-width="1.3" />
<path d="M287.7 480.9 L287.5 481.6 L287.4 482.3 L287.3 483 L287.1 483.7 L286.9 484.4 L286.7 485 L286.5 485.7 L286.2 486.3 L285.7 487 L285.2 487.6 L284.6 488.1 L284 488.7 L283.3 489.3 L282.7 489.8 L282 490.4 L281.4 490.9" fill="none" stroke="#000" stroke-width="1.3" />
<path d="M289.6 482.1 L289.4 482.8 L289.3 483.5 L289.1 484.2 L289 484.9 L288.8 485.6 L288.6 486.3 L288.4 486.9 L288 487.5 L287.6 488.2 L287.1 488.8 L286.5 489.4 L285.8 489.9 L285.2 490.5 L284.5 491 L283.8 491.6 L283.2 492.2" fill="none" stroke="#000" stroke-width="1.3" />
<path d="M291.5 483.3 L291.4 484 L291.2 484.7 L291 485.4 L290.9 486.1 L290.7 486.8 L290.5 487.5 L290.2 488.1 L289.9 488.7 L289.4 489.4 L288.9 490 L288.3 490.6 L287.7 491.1 L287 491.7 L286.3 492.2 L285.7 492.8 L285 493.4" fill="none" stroke="#000" stroke-width="1.3" />
<path d="M293.5 484.5 L293.3 485.2 L293.1 485.9 L292.9 486.6 L292.8 487.3 L292.6 488 L292.4 488.7 L292.1 489.3 L291.8 490 L291.3 490.6 L290.8 491.2 L290.2 491.8 L289.5 492.4 L288.8 492.9 L288.2 493.5 L287.5 494 L286.9 494.6" fill="none" stroke="#000" stroke-width="1.3" />
<path d="M295.4 485.7 L295.2 486.4 L295 487.1 L294.8 487.8 L294.7 488.5 L294.5 489.2 L294.3 489.9 L294 490.6 L293.6 491.2 L293.2 491.8 L292.6 492.4 L292 493 L291.4 493.6 L290.7 494.1 L290 494.7 L289.3 495.2 L288.7 495.8" fill="none" stroke="#000" stroke-width="1.3" />
<path d="M297.3 487 L297.1 487.6 L296.9 488.3 L296.7 489 L296.6 489.7 L296.4 490.4 L296.1 491.1 L295.9 491.8 L295.5 492.4 L295 493 L294.5 493.6 L293.9 494.2 L293.2 494.8 L292.5 495.3 L291.8 495.9 L291.2 496.5 L290.5 497" fill="none" stroke="#000" stroke-width="1.3" />
<path d="M272.5 462.8 L273.5 463.3 L274.6 463.8 L275.8 464.3 L276.9 464.9 L277.9 465.4 L278.9 466 L279.8 466.6 L280.5 467.2 L280.9 467.6 L281.3 468.1 L281.6 468.6 L281.9 469.1 L282.1 469.6 L282.3 470.1 L282.4 470.7 L282.5 471.2 L282.6 471.9 L282.5 472.5 L282.4 473.3 L282.2 474 L282 474.7 L281.7 475.4 L281.5 476.1 L281.3 476.8 L281.1 477.5 L281 478.1 L280.8 478.7 L280.6 479.3 L280.4 479.9 L280.2 480.5 L280 481.1 L279.7 481.7 L279.4 482.2 L279 482.7 L278.6 483.2 L278.2 483.7 L277.8 484.2 L277.3 484.7 L276.9 485.2 L276.5 485.7" fill="none" stroke="#000" stroke-width="2" />
<path d="M259.6 484.1 L260.5 484.7 L261.4 485.4 L262.3 486.1 L263.3 486.8 L264.2 487.5 L265.1 488 L266 488.5 L266.8 488.9 L267.5 489.1 L268.1 489.3 L268.7 489.4 L269.3 489.5 L269.9 489.5 L270.5 489.5 L271.1 489.4 L271.7 489.3 L272.2 489.1 L272.6 488.9 L273.1 488.6 L273.5 488.3 L274 487.9 L274.4 487.6 L274.8 487.2 L275.3 486.9" fill="none" stroke="#000" stroke-width="2" />
<path d="M237.1 475.2 L237.1 474.2 L237.2 473.3 L237.2 472.3 L237.4 471.3 L237.5 470.3 L237.7 469.2 L238 468.2 L238.3 467.2 L238.7 465.9 L239.2 464.6 L239.8 463.2 L240.4 461.9 L241.1 460.5 L241.9 459.2 L242.7 457.9 L243.5 456.7 L244.4 455.6 L245.3 454.5 L246.2 453.4 L247.2 452.3 L248.3 451.3 L249.4 450.3 L250.4 449.5 L251.5 448.7 L252.6 448 L253.7 447.4 L254.8 446.8 L255.9 446.3 L257 445.8 L258.2 445.5 L259.3 445.2 L260.4 445.1 L261.4 445 L262.5 445.1 L263.6 445.2 L264.7 445.4 L265.7 445.7 L266.7 446.1 L267.6 446.6 L268.4 447.1 L269.2 447.7 L269.9 448.4 L270.5 449.1 L271.1 450 L271.7 450.9 L272.1 451.8 L272.5 452.7 L272.9 453.5 L273.1 454.2 L273.2 454.9 L273.4 455.5 L273.4 456.2 L273.4 456.9 L273.4 457.6 L273.4 458.4 L273.3 459.1 L273.1 460.2 L272.8 461.4 L272.5 462.6 L272.1 463.8 L271.6 465.1 L271.1 466.4 L270.6 467.6 L270.1 468.8 L269.4 470 L268.7 471.3 L268 472.6 L267.2 473.8 L266.3 475.1 L265.5 476.3 L264.5 477.4 L263.6 478.4 L262.7 479.4 L261.7 480.3 L260.7 481.2 L259.7 482 L258.7 482.8 L257.6 483.5 L256.6 484.2 L255.6 484.9 L254.7 485.4 L253.8 485.9 L252.9 486.4 L252 486.9 L251 487.3 L250.1 487.6 L249.2 487.9 L248.3 488.1 L247.5 488.2 L246.7 488.2 L245.8 488.2 L245 488.2 L244.1 488.1 L243.3 487.9 L242.6 487.6 L241.9 487.3 L241.3 486.9 L240.7 486.4 L240.1 485.9 L239.5 485.2 L239 484.6 L238.6 483.9 L238.2 483.2 L237.9 482.5 L237.6 481.7 L237.4 480.8 L237.2 479.9 L237.1 479 L237.1 478.1 L237 477.1 L237.1 476.2Z" fill="#fff" stroke="#000" stroke-width="2" />
<path d="M239.3 473.6 L239.6 471.8 L240 469.9 L240.6 467.9 L241.3 465.9 L242.1 463.9 L243 461.9 L244 460.1 L245.1 458.3 L246.3 456.6 L247.7 454.9 L249.2 453.3 L250.7 451.7 L252.4 450.2 L254 448.9 L255.6 447.9 L257.2 447.2 L258.4 446.9 L259.6 446.7 L260.9 446.6 L262.1 446.6 L263.3 446.8 L264.5 447 L265.5 447.4 L266.4 447.9 L267.2 448.5 L267.9 449.2 L268.6 450 L269.2 450.9 L269.7 451.9 L270.1 453 L270.5 454 L270.7 455.1 L270.8 456.5 L270.8 457.9 L270.7 459.4 L270.4 461 L270 462.6 L269.6 464.2 L269 465.7 L268.4 467.2 L267.7 468.7 L266.9 470.2 L266 471.7 L265 473.2 L263.9 474.6 L262.8 475.9 L261.6 477.2 L260.4 478.4 L259.1 479.6 L257.8 480.8 L256.4 481.9 L254.9 483 L253.4 484 L251.9 484.8 L250.5 485.4 L249.1 485.7 L248.1 485.8 L246.9 485.7 L245.8 485.6 L244.7 485.3 L243.6 485 L242.7 484.5 L241.8 483.9 L241.1 483.3 L240.5 482.4 L240 481.4 L239.7 480.3 L239.4 479 L239.3 477.7 L239.2 476.3 L239.2 475Z" fill="none" stroke="#000" stroke-width="1.1" />
<path d="M272.1 459.1 L271.7 460.5 L271.3 461.8 L271 463.1 L270.7 464.5 L270.3 465.8 L269.9 467.1 L269.4 468.4 L268.8 469.6 L268.2 470.8 L267.4 472.1 L266.6 473.3 L265.8 474.5 L264.9 475.6 L263.9 476.7 L263 477.8 L262 478.8 L261.1 479.8 L260.1 480.6 L259.1 481.4 L258.1 482.2 L257 483 L256 483.7 L255 484.5 L254 485.3" fill="none" stroke="#000" stroke-width="0.8" />
<ellipse cx="252.6" cy="464.8" rx="9.2" ry="16.7" transform="rotate(32.6 252.6 464.8)" fill="none" stroke="#000" stroke-width="1.1" />
<path d="M250.3 461.1 L255.2 458.3 L258.1 462 L256.4 467.6 L250.7 470.8 L247.9 467.2Z" fill="none" stroke="#000" stroke-width="1.1" />
<path d="M252 462 L256 464.6" fill="none" stroke="#000" stroke-width="1.1" />
<path d="M256 464.6 L256.4 467.6" fill="none" stroke="#000" stroke-width="0.8" />
<path d="M249.5 468.8 L252 462" fill="none" stroke="#000" stroke-width="0.8" /></g>
<ellipse cx="277.5" cy="603.8" rx="18.3" ry="5.2" transform="rotate(-53.1 277.5 603.8)" fill="none" stroke="#000" stroke-width="1.8" />
<ellipse cx="277.2" cy="603.6" rx="16.6" ry="3.2" transform="rotate(-53.1 277.2 603.6)" fill="none" stroke="#000" stroke-width="0.9" />
<ellipse cx="317.5" cy="629.9" rx="17.3" ry="5" transform="rotate(-53.1 317.5 629.9)" fill="none" stroke="#000" stroke-width="1.8" />
<ellipse cx="320.7" cy="632.3" rx="17.3" ry="5" transform="rotate(-53.1 320.7 632.3)" fill="none" stroke="#000" stroke-width="1.8" />
<path d="M252.2 587.3 L255.8 589.6" stroke="#000" stroke-width="1.1" fill="none" />
<path d="M261.9 593.5 L270.3 598.9" stroke="#000" stroke-width="1.1" fill="none" />
<path d="M274 601.2 L309 623.6" stroke="#000" stroke-width="1.1" fill="none" />
<path d="M330.7 637.5 L340.3 643.6" stroke="#000" stroke-width="1.1" fill="none" />
<path d="M347.6 648.3 L401.9 683" stroke="#000" stroke-width="1.1" fill="none" />
<path d="M402.3 561.3 L416.8 627.2" fill="none" stroke="#000" stroke-width="1.1" />
<path d="M417.6 632.1 L419.5 641.7" fill="none" stroke="#000" stroke-width="1.1" />
<path d="M420.8 647.3 L432.9 704.5 L490 739.9" fill="none" stroke="#000" stroke-width="1.1" />
<path d="M493.2 741.5 L502.1 747.1" fill="none" stroke="#000" stroke-width="1.1" />
<path d="M199.7 580.7 L182.4 620.1" stroke="#000" stroke-width="1.1" fill="none" />
<path d="M267.2 616.7 L249.8 657.7" stroke="#000" stroke-width="1.1" fill="none" />
<path d="M310.2 644.5 L292.5 685.5" stroke="#000" stroke-width="1.1" fill="none" />
<path d="M498.8 982 L561.3 1032.1 L589.5 1054.6" fill="none" stroke="#000" stroke-width="2" />
<path d="M491.5 993.2 L554 1040.5 L582.1 1065.3" fill="none" stroke="#000" stroke-width="2" />
<path d="M589.5 1054.6 L589.8 1055.2 L590.1 1055.7 L590.5 1056.3 L590.9 1056.8 L591.2 1057.4 L591.5 1058 L591.7 1058.5 L591.7 1059.1 L591.6 1059.8 L591.5 1060.5 L591.2 1061.2 L590.8 1061.9 L590.4 1062.6 L590 1063.2 L589.4 1063.7 L588.9 1064.2 L588.2 1064.5 L587.5 1064.8 L586.6 1064.9 L585.8 1065 L584.8 1065.1 L583.9 1065.1 L583 1065.2 L582.1 1065.3" fill="none" stroke="#000" stroke-width="2" />
<path d="M561.3 1032.1 L561.2 1032.9 L561.1 1033.7 L561 1034.5 L561 1035.3 L560.9 1036.1 L560.7 1036.9 L560.5 1037.5 L560.1 1038.1 L559.6 1038.6 L559.1 1039 L558.4 1039.3 L557.7 1039.5 L556.9 1039.8 L556.1 1040 L555.4 1040.3 L554.7 1040.5" fill="none" stroke="#000" stroke-width="1.2" />
<path d="M563.6 1033.9 L563.4 1034.7 L563.4 1035.5 L563.3 1036.3 L563.2 1037.2 L563.1 1038 L563 1038.7 L562.7 1039.4 L562.4 1040 L561.9 1040.5 L561.3 1040.9 L560.6 1041.2 L559.9 1041.5 L559.1 1041.7 L558.4 1042 L557.6 1042.2 L556.9 1042.5" fill="none" stroke="#000" stroke-width="1.2" />
<path d="M565.8 1035.7 L565.7 1036.5 L565.6 1037.3 L565.6 1038.2 L565.5 1039 L565.4 1039.8 L565.2 1040.6 L565 1041.3 L564.6 1041.9 L564.1 1042.4 L563.6 1042.8 L562.9 1043.1 L562.2 1043.4 L561.4 1043.7 L560.6 1043.9 L559.9 1044.2 L559.2 1044.5" fill="none" stroke="#000" stroke-width="1.2" />
<path d="M568.1 1037.5 L567.9 1038.3 L567.9 1039.1 L567.8 1040 L567.7 1040.9 L567.6 1041.7 L567.5 1042.5 L567.2 1043.2 L566.9 1043.8 L566.4 1044.3 L565.8 1044.7 L565.1 1045 L564.4 1045.3 L563.6 1045.6 L562.9 1045.9 L562.1 1046.1 L561.4 1046.4" fill="none" stroke="#000" stroke-width="1.2" />
<path d="M570.3 1039.3 L570.2 1040.1 L570.1 1041 L570.1 1041.8 L570 1042.7 L569.9 1043.5 L569.7 1044.3 L569.5 1045 L569.1 1045.7 L568.6 1046.2 L568.1 1046.6 L567.4 1046.9 L566.7 1047.2 L565.9 1047.5 L565.1 1047.8 L564.4 1048.1 L563.7 1048.4" fill="none" stroke="#000" stroke-width="1.2" />
<path d="M572.6 1041.1 L572.4 1041.9 L572.4 1042.8 L572.3 1043.7 L572.3 1044.5 L572.2 1045.4 L572 1046.2 L571.7 1046.9 L571.4 1047.5 L570.9 1048.1 L570.3 1048.5 L569.6 1048.9 L568.9 1049.2 L568.2 1049.5 L567.4 1049.8 L566.6 1050.1 L565.9 1050.4" fill="none" stroke="#000" stroke-width="1.2" />
<path d="M574.8 1042.9 L574.7 1043.7 L574.6 1044.6 L574.6 1045.5 L574.5 1046.4 L574.4 1047.2 L574.2 1048 L574 1048.8 L573.6 1049.4 L573.2 1050 L572.6 1050.4 L571.9 1050.8 L571.2 1051.1 L570.4 1051.4 L569.6 1051.7 L568.9 1052 L568.2 1052.4" fill="none" stroke="#000" stroke-width="1.2" />
<path d="M577.1 1044.7 L577 1045.5 L576.9 1046.4 L576.8 1047.3 L576.8 1048.2 L576.7 1049.1 L576.5 1049.9 L576.3 1050.7 L575.9 1051.3 L575.4 1051.8 L574.8 1052.3 L574.1 1052.7 L573.4 1053 L572.7 1053.3 L571.9 1053.7 L571.1 1054 L570.4 1054.3" fill="none" stroke="#000" stroke-width="1.2" />
<path d="M579.3 1046.5 L579.2 1047.4 L579.1 1048.3 L579.1 1049.2 L579 1050.1 L578.9 1050.9 L578.8 1051.8 L578.5 1052.5 L578.1 1053.2 L577.7 1053.7 L577.1 1054.2 L576.4 1054.6 L575.7 1055 L574.9 1055.3 L574.1 1055.6 L573.4 1055.9 L572.7 1056.3" fill="none" stroke="#000" stroke-width="1.2" />
<path d="M581.6 1048.3 L581.5 1049.2 L581.4 1050.1 L581.3 1051 L581.3 1051.9 L581.2 1052.8 L581 1053.6 L580.8 1054.4 L580.4 1055.1 L579.9 1055.6 L579.3 1056.1 L578.7 1056.5 L577.9 1056.9 L577.2 1057.2 L576.4 1057.6 L575.6 1057.9 L574.9 1058.3" fill="none" stroke="#000" stroke-width="1.2" />
<path d="M583.8 1050.1 L583.7 1051 L583.6 1051.9 L583.6 1052.8 L583.5 1053.8 L583.4 1054.7 L583.3 1055.5 L583 1056.3 L582.6 1057 L582.2 1057.5 L581.6 1058 L580.9 1058.4 L580.2 1058.8 L579.4 1059.2 L578.6 1059.5 L577.9 1059.9 L577.2 1060.2" fill="none" stroke="#000" stroke-width="1.2" />
<path d="M586.1 1051.9 L586 1052.8 L585.9 1053.7 L585.8 1054.7 L585.8 1055.6 L585.7 1056.5 L585.5 1057.4 L585.3 1058.2 L584.9 1058.9 L584.4 1059.4 L583.8 1059.9 L583.2 1060.4 L582.4 1060.7 L581.7 1061.1 L580.9 1061.4 L580.1 1061.8 L579.4 1062.2" fill="none" stroke="#000" stroke-width="1.2" />
<path d="M588.3 1053.7 L588.2 1054.6 L588.1 1055.6 L588.1 1056.5 L588 1057.4 L587.9 1058.4 L587.8 1059.2 L587.5 1060 L587.1 1060.7 L586.7 1061.3 L586.1 1061.8 L585.4 1062.3 L584.7 1062.7 L583.9 1063 L583.2 1063.4 L582.4 1063.8 L581.7 1064.2" fill="none" stroke="#000" stroke-width="1.2" />
<path d="M475.7 981.4 L475.9 980.4 L476 979.3 L476.1 978.3 L476.3 977.2 L476.4 976.2 L476.6 975.2 L477 974.3 L477.4 973.5 L477.9 972.8 L478.5 972.2 L479.2 971.6 L479.9 971.1 L480.7 970.7 L481.5 970.2 L482.3 969.9 L483 969.6 L483.7 969.4 L484.4 969.2 L485.1 969.2 L485.8 969.1 L486.5 969.1 L487.2 969.1 L487.9 969.1 L488.7 969" fill="none" stroke="#000" stroke-width="2" />
<path d="M488.7 969 L497.7 975.8" fill="none" stroke="#000" stroke-width="2" />
<path d="M497.7 975.8 L497.9 976.5 L498.2 977.2 L498.5 977.9 L498.8 978.6 L499 979.3 L499.2 980 L499.3 980.7 L499.4 981.4 L499.3 982.2 L499.1 983.1 L498.8 984 L498.4 984.9 L498 985.7 L497.5 986.6 L497 987.4 L496.5 988.2 L496 988.8 L495.4 989.5 L494.8 990.1 L494.1 990.6 L493.5 991.2 L492.8 991.7 L492.1 992.3 L491.5 992.9" fill="none" stroke="#000" stroke-width="2" />
<path d="M491.5 992.9 L485.3 992.7 L477.4 986.5" fill="none" stroke="#000" stroke-width="2" />
<path d="M477.4 986.5 L477.2 986.2 L476.9 985.9 L476.7 985.6 L476.4 985.4 L476.2 985.1 L476 984.8 L475.8 984.5 L475.7 984.2 L475.6 983.9 L475.6 983.6 L475.6 983.2 L475.6 982.8 L475.6 982.5 L475.7 982.1 L475.7 981.8 L475.7 981.4" fill="none" stroke="#000" stroke-width="2" />
<ellipse cx="484.4" cy="978.6" rx="7.2" ry="9.6" transform="rotate(38 484.4 978.6)" fill="none" stroke="#000" stroke-width="1.1" />
<ellipse cx="484" cy="978.4" rx="5.4" ry="7.4" transform="rotate(38 484 978.4)" fill="none" stroke="#000" stroke-width="0.9" />
<path d="M480.2 978 L483 974.1 L487.5 975.2 L488.1 979.7 L484.7 983.1 L480.8 982Z" fill="none" stroke="#000" stroke-width="0.9" />
<g transform="translate(-96.4 61.9)"><path d="M498.8 982 L561.3 1032.1 L589.5 1054.6" fill="none" stroke="#000" stroke-width="2" />
<path d="M491.5 993.2 L554 1040.5 L582.1 1065.3" fill="none" stroke="#000" stroke-width="2" />
<path d="M589.5 1054.6 L589.8 1055.2 L590.1 1055.7 L590.5 1056.3 L590.9 1056.8 L591.2 1057.4 L591.5 1058 L591.7 1058.5 L591.7 1059.1 L591.6 1059.8 L591.5 1060.5 L591.2 1061.2 L590.8 1061.9 L590.4 1062.6 L590 1063.2 L589.4 1063.7 L588.9 1064.2 L588.2 1064.5 L587.5 1064.8 L586.6 1064.9 L585.8 1065 L584.8 1065.1 L583.9 1065.1 L583 1065.2 L582.1 1065.3" fill="none" stroke="#000" stroke-width="2" />
<path d="M561.3 1032.1 L561.2 1032.9 L561.1 1033.7 L561 1034.5 L561 1035.3 L560.9 1036.1 L560.7 1036.9 L560.5 1037.5 L560.1 1038.1 L559.6 1038.6 L559.1 1039 L558.4 1039.3 L557.7 1039.5 L556.9 1039.8 L556.1 1040 L555.4 1040.3 L554.7 1040.5" fill="none" stroke="#000" stroke-width="1.2" />
<path d="M563.6 1033.9 L563.4 1034.7 L563.4 1035.5 L563.3 1036.3 L563.2 1037.2 L563.1 1038 L563 1038.7 L562.7 1039.4 L562.4 1040 L561.9 1040.5 L561.3 1040.9 L560.6 1041.2 L559.9 1041.5 L559.1 1041.7 L558.4 1042 L557.6 1042.2 L556.9 1042.5" fill="none" stroke="#000" stroke-width="1.2" />
<path d="M565.8 1035.7 L565.7 1036.5 L565.6 1037.3 L565.6 1038.2 L565.5 1039 L565.4 1039.8 L565.2 1040.6 L565 1041.3 L564.6 1041.9 L564.1 1042.4 L563.6 1042.8 L562.9 1043.1 L562.2 1043.4 L561.4 1043.7 L560.6 1043.9 L559.9 1044.2 L559.2 1044.5" fill="none" stroke="#000" stroke-width="1.2" />
<path d="M568.1 1037.5 L567.9 1038.3 L567.9 1039.1 L567.8 1040 L567.7 1040.9 L567.6 1041.7 L567.5 1042.5 L567.2 1043.2 L566.9 1043.8 L566.4 1044.3 L565.8 1044.7 L565.1 1045 L564.4 1045.3 L563.6 1045.6 L562.9 1045.9 L562.1 1046.1 L561.4 1046.4" fill="none" stroke="#000" stroke-width="1.2" />
<path d="M570.3 1039.3 L570.2 1040.1 L570.1 1041 L570.1 1041.8 L570 1042.7 L569.9 1043.5 L569.7 1044.3 L569.5 1045 L569.1 1045.7 L568.6 1046.2 L568.1 1046.6 L567.4 1046.9 L566.7 1047.2 L565.9 1047.5 L565.1 1047.8 L564.4 1048.1 L563.7 1048.4" fill="none" stroke="#000" stroke-width="1.2" />
<path d="M572.6 1041.1 L572.4 1041.9 L572.4 1042.8 L572.3 1043.7 L572.3 1044.5 L572.2 1045.4 L572 1046.2 L571.7 1046.9 L571.4 1047.5 L570.9 1048.1 L570.3 1048.5 L569.6 1048.9 L568.9 1049.2 L568.2 1049.5 L567.4 1049.8 L566.6 1050.1 L565.9 1050.4" fill="none" stroke="#000" stroke-width="1.2" />
<path d="M574.8 1042.9 L574.7 1043.7 L574.6 1044.6 L574.6 1045.5 L574.5 1046.4 L574.4 1047.2 L574.2 1048 L574 1048.8 L573.6 1049.4 L573.2 1050 L572.6 1050.4 L571.9 1050.8 L571.2 1051.1 L570.4 1051.4 L569.6 1051.7 L568.9 1052 L568.2 1052.4" fill="none" stroke="#000" stroke-width="1.2" />
<path d="M577.1 1044.7 L577 1045.5 L576.9 1046.4 L576.8 1047.3 L576.8 1048.2 L576.7 1049.1 L576.5 1049.9 L576.3 1050.7 L575.9 1051.3 L575.4 1051.8 L574.8 1052.3 L574.1 1052.7 L573.4 1053 L572.7 1053.3 L571.9 1053.7 L571.1 1054 L570.4 1054.3" fill="none" stroke="#000" stroke-width="1.2" />
<path d="M579.3 1046.5 L579.2 1047.4 L579.1 1048.3 L579.1 1049.2 L579 1050.1 L578.9 1050.9 L578.8 1051.8 L578.5 1052.5 L578.1 1053.2 L577.7 1053.7 L577.1 1054.2 L576.4 1054.6 L575.7 1055 L574.9 1055.3 L574.1 1055.6 L573.4 1055.9 L572.7 1056.3" fill="none" stroke="#000" stroke-width="1.2" />
<path d="M581.6 1048.3 L581.5 1049.2 L581.4 1050.1 L581.3 1051 L581.3 1051.9 L581.2 1052.8 L581 1053.6 L580.8 1054.4 L580.4 1055.1 L579.9 1055.6 L579.3 1056.1 L578.7 1056.5 L577.9 1056.9 L577.2 1057.2 L576.4 1057.6 L575.6 1057.9 L574.9 1058.3" fill="none" stroke="#000" stroke-width="1.2" />
<path d="M583.8 1050.1 L583.7 1051 L583.6 1051.9 L583.6 1052.8 L583.5 1053.8 L583.4 1054.7 L583.3 1055.5 L583 1056.3 L582.6 1057 L582.2 1057.5 L581.6 1058 L580.9 1058.4 L580.2 1058.8 L579.4 1059.2 L578.6 1059.5 L577.9 1059.9 L577.2 1060.2" fill="none" stroke="#000" stroke-width="1.2" />
<path d="M586.1 1051.9 L586 1052.8 L585.9 1053.7 L585.8 1054.7 L585.8 1055.6 L585.7 1056.5 L585.5 1057.4 L585.3 1058.2 L584.9 1058.9 L584.4 1059.4 L583.8 1059.9 L583.2 1060.4 L582.4 1060.7 L581.7 1061.1 L580.9 1061.4 L580.1 1061.8 L579.4 1062.2" fill="none" stroke="#000" stroke-width="1.2" />
<path d="M588.3 1053.7 L588.2 1054.6 L588.1 1055.6 L588.1 1056.5 L588 1057.4 L587.9 1058.4 L587.8 1059.2 L587.5 1060 L587.1 1060.7 L586.7 1061.3 L586.1 1061.8 L585.4 1062.3 L584.7 1062.7 L583.9 1063 L583.2 1063.4 L582.4 1063.8 L581.7 1064.2" fill="none" stroke="#000" stroke-width="1.2" />
<path d="M475.7 981.4 L475.9 980.4 L476 979.3 L476.1 978.3 L476.3 977.2 L476.4 976.2 L476.6 975.2 L477 974.3 L477.4 973.5 L477.9 972.8 L478.5 972.2 L479.2 971.6 L479.9 971.1 L480.7 970.7 L481.5 970.2 L482.3 969.9 L483 969.6 L483.7 969.4 L484.4 969.2 L485.1 969.2 L485.8 969.1 L486.5 969.1 L487.2 969.1 L487.9 969.1 L488.7 969" fill="none" stroke="#000" stroke-width="2" />
<path d="M488.7 969 L497.7 975.8" fill="none" stroke="#000" stroke-width="2" />
<path d="M497.7 975.8 L497.9 976.5 L498.2 977.2 L498.5 977.9 L498.8 978.6 L499 979.3 L499.2 980 L499.3 980.7 L499.4 981.4 L499.3 982.2 L499.1 983.1 L498.8 984 L498.4 984.9 L498 985.7 L497.5 986.6 L497 987.4 L496.5 988.2 L496 988.8 L495.4 989.5 L494.8 990.1 L494.1 990.6 L493.5 991.2 L492.8 991.7 L492.1 992.3 L491.5 992.9" fill="none" stroke="#000" stroke-width="2" />
<path d="M491.5 992.9 L485.3 992.7 L477.4 986.5" fill="none" stroke="#000" stroke-width="2" />
<path d="M477.4 986.5 L477.2 986.2 L476.9 985.9 L476.7 985.6 L476.4 985.4 L476.2 985.1 L476 984.8 L475.8 984.5 L475.7 984.2 L475.6 983.9 L475.6 983.6 L475.6 983.2 L475.6 982.8 L475.6 982.5 L475.7 982.1 L475.7 981.8 L475.7 981.4" fill="none" stroke="#000" stroke-width="2" />
<ellipse cx="484.4" cy="978.6" rx="7.2" ry="9.6" transform="rotate(38 484.4 978.6)" fill="none" stroke="#000" stroke-width="1.1" />
<ellipse cx="484" cy="978.4" rx="5.4" ry="7.4" transform="rotate(38 484 978.4)" fill="none" stroke="#000" stroke-width="0.9" />
<path d="M480.2 978 L483 974.1 L487.5 975.2 L488.1 979.7 L484.7 983.1 L480.8 982Z" fill="none" stroke="#000" stroke-width="0.9" /></g>
<path d="M706 1228.3 L646.8 1305.9" fill="none" stroke="#000" stroke-width="2" />
<path d="M719.6 1237.1 L660.5 1315.6" fill="none" stroke="#000" stroke-width="2" />
<path d="M646.8 1305.9 L647 1306.4 L647.1 1306.9 L647.2 1307.4 L647.3 1308 L647.4 1308.5 L647.6 1309 L647.8 1309.5 L648 1309.9 L648.5 1310.6 L649.1 1311.2 L649.8 1311.8 L650.5 1312.4 L651.3 1313 L652.1 1313.5 L652.9 1314 L653.7 1314.4 L654.5 1314.7 L655.3 1314.9 L656.1 1315 L657 1315.2 L657.9 1315.2 L658.8 1315.3 L659.7 1315.4 L660.5 1315.6" fill="none" stroke="#000" stroke-width="2" />
<ellipse cx="712.8" cy="1232.7" rx="8.3" ry="3.6" transform="rotate(33 712.8 1232.7)" fill="#fff" stroke="#000" stroke-width="1.6" />
<path d="M703.2 1232 L703.8 1232.8 L704.5 1233.7 L705.1 1234.6 L705.8 1235.4 L706.4 1236.3 L707.1 1237.1 L707.9 1237.8 L708.7 1238.4 L709.6 1238.9 L710.6 1239.3 L711.6 1239.6 L712.6 1239.9 L713.7 1240.1 L714.7 1240.3 L715.8 1240.6 L716.8 1240.8" fill="none" stroke="#000" stroke-width="1.3" />
<path d="M701.5 1234.1 L702.2 1234.9 L702.9 1235.8 L703.5 1236.7 L704.1 1237.6 L704.8 1238.4 L705.5 1239.2 L706.3 1239.9 L707.1 1240.6 L708 1241.1 L708.9 1241.5 L709.9 1241.8 L711 1242 L712.1 1242.3 L713.1 1242.5 L714.2 1242.7 L715.2 1243" fill="none" stroke="#000" stroke-width="1.3" />
<path d="M699.9 1236.2 L700.6 1237.1 L701.2 1237.9 L701.9 1238.8 L702.5 1239.7 L703.2 1240.6 L703.9 1241.4 L704.6 1242.1 L705.5 1242.7 L706.4 1243.2 L707.3 1243.6 L708.3 1243.9 L709.4 1244.2 L710.4 1244.4 L711.5 1244.6 L712.6 1244.9 L713.6 1245.2" fill="none" stroke="#000" stroke-width="1.3" />
<path d="M698.3 1238.4 L699 1239.2 L699.6 1240.1 L700.2 1241 L700.9 1241.9 L701.6 1242.7 L702.3 1243.5 L703 1244.2 L703.8 1244.9 L704.7 1245.4 L705.7 1245.8 L706.7 1246.1 L707.7 1246.3 L708.8 1246.6 L709.9 1246.8 L710.9 1247 L712 1247.3" fill="none" stroke="#000" stroke-width="1.3" />
<path d="M696.7 1240.5 L697.3 1241.3 L698 1242.2 L698.6 1243.1 L699.3 1244 L699.9 1244.9 L700.6 1245.7 L701.4 1246.4 L702.2 1247 L703.1 1247.5 L704.1 1247.9 L705.1 1248.2 L706.1 1248.5 L707.2 1248.7 L708.2 1249 L709.3 1249.2 L710.3 1249.5" fill="none" stroke="#000" stroke-width="1.3" />
<path d="M695 1242.6 L695.7 1243.5 L696.4 1244.4 L697 1245.3 L697.6 1246.1 L698.3 1247 L699 1247.8 L699.8 1248.5 L700.6 1249.1 L701.5 1249.6 L702.4 1250.1 L703.4 1250.4 L704.5 1250.6 L705.5 1250.9 L706.6 1251.1 L707.7 1251.4 L708.7 1251.6" fill="none" stroke="#000" stroke-width="1.3" />
<path d="M693.4 1244.8 L694.1 1245.6 L694.7 1246.5 L695.4 1247.4 L696 1248.3 L696.7 1249.1 L697.4 1249.9 L698.1 1250.7 L699 1251.3 L699.8 1251.8 L700.8 1252.2 L701.8 1252.5 L702.9 1252.8 L703.9 1253 L705 1253.3 L706 1253.5 L707.1 1253.8" fill="none" stroke="#000" stroke-width="1.3" />
<path d="M691.8 1246.9 L692.5 1247.8 L693.1 1248.6 L693.7 1249.5 L694.4 1250.4 L695.1 1251.3 L695.8 1252.1 L696.5 1252.8 L697.3 1253.4 L698.2 1253.9 L699.2 1254.3 L700.2 1254.7 L701.2 1254.9 L702.3 1255.2 L703.4 1255.4 L704.4 1255.7 L705.5 1255.9" fill="none" stroke="#000" stroke-width="1.3" />
<path d="M690.2 1249 L690.8 1249.9 L691.5 1250.8 L692.1 1251.7 L692.8 1252.6 L693.4 1253.4 L694.1 1254.2 L694.9 1255 L695.7 1255.6 L696.6 1256.1 L697.6 1256.5 L698.6 1256.8 L699.6 1257.1 L700.7 1257.3 L701.7 1257.6 L702.8 1257.8 L703.8 1258.1" fill="none" stroke="#000" stroke-width="1.3" />
<path d="M688.5 1251.2 L689.2 1252 L689.9 1252.9 L690.5 1253.8 L691.1 1254.7 L691.8 1255.6 L692.5 1256.4 L693.3 1257.1 L694.1 1257.7 L695 1258.2 L695.9 1258.6 L696.9 1259 L698 1259.2 L699 1259.5 L700.1 1259.7 L701.2 1260 L702.2 1260.3" fill="none" stroke="#000" stroke-width="1.3" />
<path d="M686.9 1253.3 L687.6 1254.2 L688.2 1255 L688.9 1256 L689.5 1256.8 L690.2 1257.7 L690.9 1258.5 L691.6 1259.2 L692.5 1259.9 L693.3 1260.4 L694.3 1260.8 L695.3 1261.1 L696.4 1261.4 L697.4 1261.6 L698.5 1261.9 L699.5 1262.1 L700.6 1262.4" fill="none" stroke="#000" stroke-width="1.3" />
<path d="M685.3 1255.4 L685.9 1256.3 L686.6 1257.2 L687.2 1258.1 L687.9 1259 L688.6 1259.9 L689.3 1260.7 L690 1261.4 L690.8 1262 L691.7 1262.5 L692.7 1262.9 L693.7 1263.3 L694.7 1263.5 L695.8 1263.8 L696.9 1264 L697.9 1264.3 L699 1264.6" fill="none" stroke="#000" stroke-width="1.3" />
<path d="M683.6 1257.6 L684.3 1258.4 L685 1259.3 L685.6 1260.2 L686.3 1261.1 L686.9 1262 L687.6 1262.8 L688.4 1263.5 L689.2 1264.2 L690.1 1264.7 L691 1265.1 L692.1 1265.4 L693.1 1265.7 L694.2 1265.9 L695.2 1266.2 L696.3 1266.4 L697.3 1266.7" fill="none" stroke="#000" stroke-width="1.3" />
<path d="M682 1259.7 L682.7 1260.6 L683.3 1261.5 L684 1262.4 L684.6 1263.3 L685.3 1264.1 L686 1264.9 L686.8 1265.7 L687.6 1266.3 L688.5 1266.8 L689.4 1267.2 L690.4 1267.6 L691.5 1267.9 L692.5 1268.1 L693.6 1268.3 L694.7 1268.6 L695.7 1268.9" fill="none" stroke="#000" stroke-width="1.3" />
<path d="M680.4 1261.9 L681.1 1262.7 L681.7 1263.6 L682.4 1264.5 L683 1265.4 L683.7 1266.3 L684.4 1267.1 L685.1 1267.8 L685.9 1268.5 L686.8 1269 L687.8 1269.4 L688.8 1269.7 L689.8 1270 L690.9 1270.3 L692 1270.5 L693 1270.8 L694.1 1271" fill="none" stroke="#000" stroke-width="1.3" />
<path d="M678.8 1264 L679.4 1264.8 L680.1 1265.7 L680.7 1266.6 L681.4 1267.5 L682 1268.4 L682.7 1269.2 L683.5 1270 L684.3 1270.6 L685.2 1271.1 L686.2 1271.5 L687.2 1271.9 L688.2 1272.2 L689.3 1272.4 L690.4 1272.6 L691.4 1272.9 L692.4 1273.2" fill="none" stroke="#000" stroke-width="1.3" />
<path d="M670.5 1274.9 L671.2 1275.7 L671.8 1276.6 L672.5 1277.5 L673.1 1278.4 L673.8 1279.3 L674.5 1280.1 L675.2 1280.9 L676 1281.5 L676.9 1282.1 L677.9 1282.5 L678.9 1282.8 L679.9 1283.1 L681 1283.4 L682.1 1283.6 L683.1 1283.9 L684.2 1284.2" fill="none" stroke="#000" stroke-width="1.3" />
<path d="M669 1276.8 L669.7 1277.7 L670.3 1278.6 L671 1279.5 L671.6 1280.4 L672.3 1281.3 L673 1282.1 L673.7 1282.8 L674.6 1283.5 L675.5 1284 L676.4 1284.4 L677.4 1284.8 L678.5 1285.1 L679.5 1285.3 L680.6 1285.6 L681.7 1285.8 L682.7 1286.1" fill="none" stroke="#000" stroke-width="1.3" />
<path d="M667.5 1278.7 L668.2 1279.6 L668.9 1280.5 L669.5 1281.4 L670.1 1282.3 L670.8 1283.2 L671.5 1284 L672.3 1284.8 L673.1 1285.4 L674 1286 L674.9 1286.4 L675.9 1286.7 L677 1287 L678 1287.3 L679.1 1287.5 L680.2 1287.8 L681.2 1288.1" fill="none" stroke="#000" stroke-width="1.3" />
<path d="M666.1 1280.7 L666.7 1281.5 L667.4 1282.4 L668 1283.4 L668.7 1284.3 L669.3 1285.2 L670 1286 L670.8 1286.7 L671.6 1287.4 L672.5 1287.9 L673.5 1288.3 L674.5 1288.7 L675.5 1289 L676.6 1289.2 L677.6 1289.5 L678.7 1289.8 L679.7 1290.1" fill="none" stroke="#000" stroke-width="1.3" />
<path d="M664.6 1282.6 L665.3 1283.5 L665.9 1284.4 L666.5 1285.3 L667.2 1286.2 L667.9 1287.1 L668.6 1287.9 L669.3 1288.7 L670.1 1289.3 L671 1289.9 L672 1290.3 L673 1290.6 L674 1290.9 L675.1 1291.2 L676.2 1291.5 L677.2 1291.7 L678.3 1292" fill="none" stroke="#000" stroke-width="1.3" />
<path d="M663.1 1284.6 L663.8 1285.4 L664.4 1286.3 L665.1 1287.3 L665.7 1288.2 L666.4 1289.1 L667.1 1289.9 L667.8 1290.6 L668.7 1291.3 L669.5 1291.8 L670.5 1292.2 L671.5 1292.6 L672.5 1292.9 L673.6 1293.2 L674.7 1293.4 L675.7 1293.7 L676.8 1294" fill="none" stroke="#000" stroke-width="1.3" />
<path d="M661.6 1286.5 L662.3 1287.4 L662.9 1288.3 L663.6 1289.2 L664.2 1290.1 L664.9 1291 L665.6 1291.8 L666.4 1292.6 L667.2 1293.2 L668.1 1293.8 L669 1294.2 L670 1294.5 L671.1 1294.8 L672.1 1295.1 L673.2 1295.4 L674.3 1295.6 L675.3 1296" fill="none" stroke="#000" stroke-width="1.3" />
<path d="M660.1 1288.4 L660.8 1289.3 L661.5 1290.2 L662.1 1291.1 L662.8 1292.1 L663.4 1293 L664.1 1293.8 L664.9 1294.5 L665.7 1295.2 L666.6 1295.7 L667.5 1296.1 L668.5 1296.5 L669.6 1296.8 L670.7 1297.1 L671.7 1297.3 L672.8 1297.6 L673.8 1297.9" fill="none" stroke="#000" stroke-width="1.3" />
<path d="M658.7 1290.4 L659.3 1291.3 L660 1292.2 L660.6 1293.1 L661.3 1294 L661.9 1294.9 L662.6 1295.7 L663.4 1296.5 L664.2 1297.1 L665.1 1297.7 L666.1 1298.1 L667.1 1298.5 L668.1 1298.8 L669.2 1299 L670.2 1299.3 L671.3 1299.6 L672.3 1299.9" fill="none" stroke="#000" stroke-width="1.3" />
<path d="M657.2 1292.3 L657.9 1293.2 L658.5 1294.1 L659.2 1295 L659.8 1296 L660.5 1296.8 L661.2 1297.7 L661.9 1298.4 L662.7 1299.1 L663.6 1299.6 L664.6 1300.1 L665.6 1300.4 L666.6 1300.7 L667.7 1301 L668.8 1301.2 L669.8 1301.5 L670.9 1301.8" fill="none" stroke="#000" stroke-width="1.3" />
<path d="M655.7 1294.3 L656.4 1295.1 L657 1296.1 L657.7 1297 L658.3 1297.9 L659 1298.8 L659.7 1299.6 L660.4 1300.4 L661.3 1301 L662.1 1301.6 L663.1 1302 L664.1 1302.4 L665.2 1302.7 L666.2 1302.9 L667.3 1303.2 L668.4 1303.5 L669.4 1303.8" fill="none" stroke="#000" stroke-width="1.3" />
<path d="M654.2 1296.2 L654.9 1297.1 L655.6 1298 L656.2 1298.9 L656.8 1299.8 L657.5 1300.7 L658.2 1301.6 L659 1302.3 L659.8 1303 L660.7 1303.5 L661.6 1304 L662.6 1304.3 L663.7 1304.6 L664.7 1304.9 L665.8 1305.2 L666.9 1305.4 L667.9 1305.8" fill="none" stroke="#000" stroke-width="1.3" />
<path d="M652.8 1298.1 L653.4 1299 L654.1 1299.9 L654.7 1300.9 L655.4 1301.8 L656 1302.7 L656.7 1303.5 L657.5 1304.3 L658.3 1304.9 L659.2 1305.5 L660.1 1305.9 L661.2 1306.3 L662.2 1306.6 L663.3 1306.9 L664.3 1307.1 L665.4 1307.4 L666.4 1307.7" fill="none" stroke="#000" stroke-width="1.3" />
<path d="M651.3 1300.1 L651.9 1301 L652.6 1301.9 L653.2 1302.8 L653.9 1303.7 L654.5 1304.6 L655.2 1305.5 L656 1306.2 L656.8 1306.9 L657.7 1307.4 L658.7 1307.9 L659.7 1308.2 L660.7 1308.5 L661.8 1308.8 L662.9 1309.1 L663.9 1309.4 L664.9 1309.7" fill="none" stroke="#000" stroke-width="1.3" />
<path d="M649.8 1302 L650.5 1302.9 L651.1 1303.8 L651.8 1304.8 L652.4 1305.7 L653.1 1306.6 L653.8 1307.4 L654.5 1308.2 L655.3 1308.8 L656.2 1309.4 L657.2 1309.8 L658.2 1310.2 L659.2 1310.5 L660.3 1310.8 L661.4 1311 L662.4 1311.3 L663.5 1311.6" fill="none" stroke="#000" stroke-width="1.3" />
<path d="M648.3 1304 L649 1304.8 L649.6 1305.8 L650.3 1306.7 L650.9 1307.6 L651.6 1308.5 L652.3 1309.4 L653 1310.1 L653.9 1310.8 L654.8 1311.3 L655.7 1311.8 L656.7 1312.1 L657.8 1312.4 L658.8 1312.7 L659.9 1313 L661 1313.3 L662 1313.6" fill="none" stroke="#000" stroke-width="1.3" />
<g transform="translate(65.4 38.3)"><path d="M706 1228.3 L646.8 1305.9" fill="none" stroke="#000" stroke-width="2" />
<path d="M719.6 1237.1 L660.5 1315.6" fill="none" stroke="#000" stroke-width="2" />
<path d="M646.8 1305.9 L647 1306.4 L647.1 1306.9 L647.2 1307.4 L647.3 1308 L647.4 1308.5 L647.6 1309 L647.8 1309.5 L648 1309.9 L648.5 1310.6 L649.1 1311.2 L649.8 1311.8 L650.5 1312.4 L651.3 1313 L652.1 1313.5 L652.9 1314 L653.7 1314.4 L654.5 1314.7 L655.3 1314.9 L656.1 1315 L657 1315.2 L657.9 1315.2 L658.8 1315.3 L659.7 1315.4 L660.5 1315.6" fill="none" stroke="#000" stroke-width="2" />
<ellipse cx="712.8" cy="1232.7" rx="8.3" ry="3.6" transform="rotate(33 712.8 1232.7)" fill="#fff" stroke="#000" stroke-width="1.6" />
<path d="M703.2 1232 L703.8 1232.8 L704.5 1233.7 L705.1 1234.6 L705.8 1235.4 L706.4 1236.3 L707.1 1237.1 L707.9 1237.8 L708.7 1238.4 L709.6 1238.9 L710.6 1239.3 L711.6 1239.6 L712.6 1239.9 L713.7 1240.1 L714.7 1240.3 L715.8 1240.6 L716.8 1240.8" fill="none" stroke="#000" stroke-width="1.3" />
<path d="M701.5 1234.1 L702.2 1234.9 L702.9 1235.8 L703.5 1236.7 L704.1 1237.6 L704.8 1238.4 L705.5 1239.2 L706.3 1239.9 L707.1 1240.6 L708 1241.1 L708.9 1241.5 L709.9 1241.8 L711 1242 L712.1 1242.3 L713.1 1242.5 L714.2 1242.7 L715.2 1243" fill="none" stroke="#000" stroke-width="1.3" />
<path d="M699.9 1236.2 L700.6 1237.1 L701.2 1237.9 L701.9 1238.8 L702.5 1239.7 L703.2 1240.6 L703.9 1241.4 L704.6 1242.1 L705.5 1242.7 L706.4 1243.2 L707.3 1243.6 L708.3 1243.9 L709.4 1244.2 L710.4 1244.4 L711.5 1244.6 L712.6 1244.9 L713.6 1245.2" fill="none" stroke="#000" stroke-width="1.3" />
<path d="M698.3 1238.4 L699 1239.2 L699.6 1240.1 L700.2 1241 L700.9 1241.9 L701.6 1242.7 L702.3 1243.5 L703 1244.2 L703.8 1244.9 L704.7 1245.4 L705.7 1245.8 L706.7 1246.1 L707.7 1246.3 L708.8 1246.6 L709.9 1246.8 L710.9 1247 L712 1247.3" fill="none" stroke="#000" stroke-width="1.3" />
<path d="M696.7 1240.5 L697.3 1241.3 L698 1242.2 L698.6 1243.1 L699.3 1244 L699.9 1244.9 L700.6 1245.7 L701.4 1246.4 L702.2 1247 L703.1 1247.5 L704.1 1247.9 L705.1 1248.2 L706.1 1248.5 L707.2 1248.7 L708.2 1249 L709.3 1249.2 L710.3 1249.5" fill="none" stroke="#000" stroke-width="1.3" />
<path d="M695 1242.6 L695.7 1243.5 L696.4 1244.4 L697 1245.3 L697.6 1246.1 L698.3 1247 L699 1247.8 L699.8 1248.5 L700.6 1249.1 L701.5 1249.6 L702.4 1250.1 L703.4 1250.4 L704.5 1250.6 L705.5 1250.9 L706.6 1251.1 L707.7 1251.4 L708.7 1251.6" fill="none" stroke="#000" stroke-width="1.3" />
<path d="M693.4 1244.8 L694.1 1245.6 L694.7 1246.5 L695.4 1247.4 L696 1248.3 L696.7 1249.1 L697.4 1249.9 L698.1 1250.7 L699 1251.3 L699.8 1251.8 L700.8 1252.2 L701.8 1252.5 L702.9 1252.8 L703.9 1253 L705 1253.3 L706 1253.5 L707.1 1253.8" fill="none" stroke="#000" stroke-width="1.3" />
<path d="M691.8 1246.9 L692.5 1247.8 L693.1 1248.6 L693.7 1249.5 L694.4 1250.4 L695.1 1251.3 L695.8 1252.1 L696.5 1252.8 L697.3 1253.4 L698.2 1253.9 L699.2 1254.3 L700.2 1254.7 L701.2 1254.9 L702.3 1255.2 L703.4 1255.4 L704.4 1255.7 L705.5 1255.9" fill="none" stroke="#000" stroke-width="1.3" />
<path d="M690.2 1249 L690.8 1249.9 L691.5 1250.8 L692.1 1251.7 L692.8 1252.6 L693.4 1253.4 L694.1 1254.2 L694.9 1255 L695.7 1255.6 L696.6 1256.1 L697.6 1256.5 L698.6 1256.8 L699.6 1257.1 L700.7 1257.3 L701.7 1257.6 L702.8 1257.8 L703.8 1258.1" fill="none" stroke="#000" stroke-width="1.3" />
<path d="M688.5 1251.2 L689.2 1252 L689.9 1252.9 L690.5 1253.8 L691.1 1254.7 L691.8 1255.6 L692.5 1256.4 L693.3 1257.1 L694.1 1257.7 L695 1258.2 L695.9 1258.6 L696.9 1259 L698 1259.2 L699 1259.5 L700.1 1259.7 L701.2 1260 L702.2 1260.3" fill="none" stroke="#000" stroke-width="1.3" />
<path d="M686.9 1253.3 L687.6 1254.2 L688.2 1255 L688.9 1256 L689.5 1256.8 L690.2 1257.7 L690.9 1258.5 L691.6 1259.2 L692.5 1259.9 L693.3 1260.4 L694.3 1260.8 L695.3 1261.1 L696.4 1261.4 L697.4 1261.6 L698.5 1261.9 L699.5 1262.1 L700.6 1262.4" fill="none" stroke="#000" stroke-width="1.3" />
<path d="M685.3 1255.4 L685.9 1256.3 L686.6 1257.2 L687.2 1258.1 L687.9 1259 L688.6 1259.9 L689.3 1260.7 L690 1261.4 L690.8 1262 L691.7 1262.5 L692.7 1262.9 L693.7 1263.3 L694.7 1263.5 L695.8 1263.8 L696.9 1264 L697.9 1264.3 L699 1264.6" fill="none" stroke="#000" stroke-width="1.3" />
<path d="M683.6 1257.6 L684.3 1258.4 L685 1259.3 L685.6 1260.2 L686.3 1261.1 L686.9 1262 L687.6 1262.8 L688.4 1263.5 L689.2 1264.2 L690.1 1264.7 L691 1265.1 L692.1 1265.4 L693.1 1265.7 L694.2 1265.9 L695.2 1266.2 L696.3 1266.4 L697.3 1266.7" fill="none" stroke="#000" stroke-width="1.3" />
<path d="M682 1259.7 L682.7 1260.6 L683.3 1261.5 L684 1262.4 L684.6 1263.3 L685.3 1264.1 L686 1264.9 L686.8 1265.7 L687.6 1266.3 L688.5 1266.8 L689.4 1267.2 L690.4 1267.6 L691.5 1267.9 L692.5 1268.1 L693.6 1268.3 L694.7 1268.6 L695.7 1268.9" fill="none" stroke="#000" stroke-width="1.3" />
<path d="M680.4 1261.9 L681.1 1262.7 L681.7 1263.6 L682.4 1264.5 L683 1265.4 L683.7 1266.3 L684.4 1267.1 L685.1 1267.8 L685.9 1268.5 L686.8 1269 L687.8 1269.4 L688.8 1269.7 L689.8 1270 L690.9 1270.3 L692 1270.5 L693 1270.8 L694.1 1271" fill="none" stroke="#000" stroke-width="1.3" />
<path d="M678.8 1264 L679.4 1264.8 L680.1 1265.7 L680.7 1266.6 L681.4 1267.5 L682 1268.4 L682.7 1269.2 L683.5 1270 L684.3 1270.6 L685.2 1271.1 L686.2 1271.5 L687.2 1271.9 L688.2 1272.2 L689.3 1272.4 L690.4 1272.6 L691.4 1272.9 L692.4 1273.2" fill="none" stroke="#000" stroke-width="1.3" />
<path d="M670.5 1274.9 L671.2 1275.7 L671.8 1276.6 L672.5 1277.5 L673.1 1278.4 L673.8 1279.3 L674.5 1280.1 L675.2 1280.9 L676 1281.5 L676.9 1282.1 L677.9 1282.5 L678.9 1282.8 L679.9 1283.1 L681 1283.4 L682.1 1283.6 L683.1 1283.9 L684.2 1284.2" fill="none" stroke="#000" stroke-width="1.3" />
<path d="M669 1276.8 L669.7 1277.7 L670.3 1278.6 L671 1279.5 L671.6 1280.4 L672.3 1281.3 L673 1282.1 L673.7 1282.8 L674.6 1283.5 L675.5 1284 L676.4 1284.4 L677.4 1284.8 L678.5 1285.1 L679.5 1285.3 L680.6 1285.6 L681.7 1285.8 L682.7 1286.1" fill="none" stroke="#000" stroke-width="1.3" />
<path d="M667.5 1278.7 L668.2 1279.6 L668.9 1280.5 L669.5 1281.4 L670.1 1282.3 L670.8 1283.2 L671.5 1284 L672.3 1284.8 L673.1 1285.4 L674 1286 L674.9 1286.4 L675.9 1286.7 L677 1287 L678 1287.3 L679.1 1287.5 L680.2 1287.8 L681.2 1288.1" fill="none" stroke="#000" stroke-width="1.3" />
<path d="M666.1 1280.7 L666.7 1281.5 L667.4 1282.4 L668 1283.4 L668.7 1284.3 L669.3 1285.2 L670 1286 L670.8 1286.7 L671.6 1287.4 L672.5 1287.9 L673.5 1288.3 L674.5 1288.7 L675.5 1289 L676.6 1289.2 L677.6 1289.5 L678.7 1289.8 L679.7 1290.1" fill="none" stroke="#000" stroke-width="1.3" />
<path d="M664.6 1282.6 L665.3 1283.5 L665.9 1284.4 L666.5 1285.3 L667.2 1286.2 L667.9 1287.1 L668.6 1287.9 L669.3 1288.7 L670.1 1289.3 L671 1289.9 L672 1290.3 L673 1290.6 L674 1290.9 L675.1 1291.2 L676.2 1291.5 L677.2 1291.7 L678.3 1292" fill="none" stroke="#000" stroke-width="1.3" />
<path d="M663.1 1284.6 L663.8 1285.4 L664.4 1286.3 L665.1 1287.3 L665.7 1288.2 L666.4 1289.1 L667.1 1289.9 L667.8 1290.6 L668.7 1291.3 L669.5 1291.8 L670.5 1292.2 L671.5 1292.6 L672.5 1292.9 L673.6 1293.2 L674.7 1293.4 L675.7 1293.7 L676.8 1294" fill="none" stroke="#000" stroke-width="1.3" />
<path d="M661.6 1286.5 L662.3 1287.4 L662.9 1288.3 L663.6 1289.2 L664.2 1290.1 L664.9 1291 L665.6 1291.8 L666.4 1292.6 L667.2 1293.2 L668.1 1293.8 L669 1294.2 L670 1294.5 L671.1 1294.8 L672.1 1295.1 L673.2 1295.4 L674.3 1295.6 L675.3 1296" fill="none" stroke="#000" stroke-width="1.3" />
<path d="M660.1 1288.4 L660.8 1289.3 L661.5 1290.2 L662.1 1291.1 L662.8 1292.1 L663.4 1293 L664.1 1293.8 L664.9 1294.5 L665.7 1295.2 L666.6 1295.7 L667.5 1296.1 L668.5 1296.5 L669.6 1296.8 L670.7 1297.1 L671.7 1297.3 L672.8 1297.6 L673.8 1297.9" fill="none" stroke="#000" stroke-width="1.3" />
<path d="M658.7 1290.4 L659.3 1291.3 L660 1292.2 L660.6 1293.1 L661.3 1294 L661.9 1294.9 L662.6 1295.7 L663.4 1296.5 L664.2 1297.1 L665.1 1297.7 L666.1 1298.1 L667.1 1298.5 L668.1 1298.8 L669.2 1299 L670.2 1299.3 L671.3 1299.6 L672.3 1299.9" fill="none" stroke="#000" stroke-width="1.3" />
<path d="M657.2 1292.3 L657.9 1293.2 L658.5 1294.1 L659.2 1295 L659.8 1296 L660.5 1296.8 L661.2 1297.7 L661.9 1298.4 L662.7 1299.1 L663.6 1299.6 L664.6 1300.1 L665.6 1300.4 L666.6 1300.7 L667.7 1301 L668.8 1301.2 L669.8 1301.5 L670.9 1301.8" fill="none" stroke="#000" stroke-width="1.3" />
<path d="M655.7 1294.3 L656.4 1295.1 L657 1296.1 L657.7 1297 L658.3 1297.9 L659 1298.8 L659.7 1299.6 L660.4 1300.4 L661.3 1301 L662.1 1301.6 L663.1 1302 L664.1 1302.4 L665.2 1302.7 L666.2 1302.9 L667.3 1303.2 L668.4 1303.5 L669.4 1303.8" fill="none" stroke="#000" stroke-width="1.3" />
<path d="M654.2 1296.2 L654.9 1297.1 L655.6 1298 L656.2 1298.9 L656.8 1299.8 L657.5 1300.7 L658.2 1301.6 L659 1302.3 L659.8 1303 L660.7 1303.5 L661.6 1304 L662.6 1304.3 L663.7 1304.6 L664.7 1304.9 L665.8 1305.2 L666.9 1305.4 L667.9 1305.8" fill="none" stroke="#000" stroke-width="1.3" />
<path d="M652.8 1298.1 L653.4 1299 L654.1 1299.9 L654.7 1300.9 L655.4 1301.8 L656 1302.7 L656.7 1303.5 L657.5 1304.3 L658.3 1304.9 L659.2 1305.5 L660.1 1305.9 L661.2 1306.3 L662.2 1306.6 L663.3 1306.9 L664.3 1307.1 L665.4 1307.4 L666.4 1307.7" fill="none" stroke="#000" stroke-width="1.3" />
<path d="M651.3 1300.1 L651.9 1301 L652.6 1301.9 L653.2 1302.8 L653.9 1303.7 L654.5 1304.6 L655.2 1305.5 L656 1306.2 L656.8 1306.9 L657.7 1307.4 L658.7 1307.9 L659.7 1308.2 L660.7 1308.5 L661.8 1308.8 L662.9 1309.1 L663.9 1309.4 L664.9 1309.7" fill="none" stroke="#000" stroke-width="1.3" />
<path d="M649.8 1302 L650.5 1302.9 L651.1 1303.8 L651.8 1304.8 L652.4 1305.7 L653.1 1306.6 L653.8 1307.4 L654.5 1308.2 L655.3 1308.8 L656.2 1309.4 L657.2 1309.8 L658.2 1310.2 L659.2 1310.5 L660.3 1310.8 L661.4 1311 L662.4 1311.3 L663.5 1311.6" fill="none" stroke="#000" stroke-width="1.3" />
<path d="M648.3 1304 L649 1304.8 L649.6 1305.8 L650.3 1306.7 L650.9 1307.6 L651.6 1308.5 L652.3 1309.4 L653 1310.1 L653.9 1310.8 L654.8 1311.3 L655.7 1311.8 L656.7 1312.1 L657.8 1312.4 L658.8 1312.7 L659.9 1313 L661 1313.3 L662 1313.6" fill="none" stroke="#000" stroke-width="1.3" /></g>
<path d="M886 759.7 L896.6 782.7" fill="none" stroke="#000" stroke-width="2" />
<path d="M910.4 751.8 L916.5 773.9" fill="none" stroke="#000" stroke-width="2" />
<path d="M896.6 782.7 L897.3 783.1 L897.9 783.5 L898.6 783.9 L899.2 784.3 L899.8 784.6 L900.5 784.9 L901.2 785.2 L901.9 785.4 L902.9 785.5 L904 785.6 L905.2 785.6 L906.4 785.6 L907.6 785.5 L908.7 785.2 L909.8 784.9 L910.8 784.5 L911.7 784 L912.6 783.3 L913.5 782.6 L914.3 781.7 L915 780.9 L915.6 780 L916.2 779.1 L916.5 778.3 L916.7 777.8 L916.8 777.2 L916.8 776.7 L916.8 776.1 L916.7 775.6 L916.6 775 L916.6 774.4 L916.5 773.9" fill="none" stroke="#000" stroke-width="2" />
<path d="M886.5 760.6 L888 760.7 L889.5 760.8 L891.1 761 L892.6 761.2 L894.1 761.3 L895.7 761.3 L897.2 761.1 L898.6 760.8 L900.2 760.3 L901.7 759.5 L903.3 758.5 L904.8 757.5 L906.3 756.4 L907.8 755.2 L909.3 754.1 L910.8 753.1" fill="none" stroke="#000" stroke-width="1.1" />
<path d="M887.7 763.4 L889.2 763.4 L890.7 763.6 L892.2 763.7 L893.7 763.9 L895.2 764 L896.7 764 L898.2 763.8 L899.6 763.5 L901.2 762.9 L902.7 762.2 L904.2 761.2 L905.6 760.1 L907.1 759 L908.6 757.8 L910 756.7 L911.5 755.7" fill="none" stroke="#000" stroke-width="1.1" />
<path d="M889 766.2 L890.5 766.2 L891.9 766.3 L893.4 766.5 L894.9 766.6 L896.3 766.7 L897.8 766.7 L899.2 766.5 L900.6 766.2 L902.1 765.6 L903.6 764.8 L905.1 763.9 L906.5 762.8 L907.9 761.6 L909.4 760.5 L910.8 759.3 L912.2 758.3" fill="none" stroke="#000" stroke-width="1.1" />
<path d="M890.3 768.9 L891.7 769 L893.1 769.1 L894.6 769.2 L896 769.3 L897.4 769.4 L898.9 769.4 L900.2 769.2 L901.6 768.9 L903.1 768.3 L904.5 767.5 L906 766.5 L907.4 765.4 L908.8 764.3 L910.1 763.1 L911.5 762 L913 760.9" fill="none" stroke="#000" stroke-width="1.1" />
<path d="M891.5 771.7 L892.9 771.7 L894.3 771.8 L895.7 771.9 L897.1 772 L898.5 772.1 L899.9 772.1 L901.3 771.9 L902.6 771.6 L904.1 771 L905.5 770.1 L906.9 769.2 L908.2 768.1 L909.6 766.9 L910.9 765.7 L912.3 764.6 L913.7 763.5" fill="none" stroke="#000" stroke-width="1.1" />
<path d="M892.8 774.4 L894.2 774.5 L895.5 774.6 L896.9 774.7 L898.3 774.8 L899.6 774.8 L901 774.8 L902.3 774.6 L903.6 774.3 L905 773.6 L906.4 772.8 L907.8 771.8 L909.1 770.7 L910.4 769.5 L911.7 768.3 L913.1 767.2 L914.4 766.1" fill="none" stroke="#000" stroke-width="1.1" />
<path d="M894.1 777.2 L895.4 777.2 L896.7 777.3 L898.1 777.4 L899.4 777.5 L900.7 777.5 L902.1 777.5 L903.3 777.3 L904.6 776.9 L906 776.3 L907.3 775.5 L908.6 774.5 L909.9 773.3 L911.2 772.2 L912.5 771 L913.8 769.8 L915.1 768.7" fill="none" stroke="#000" stroke-width="1.1" />
<path d="M895.4 780 L896.7 780 L897.9 780 L899.3 780.1 L900.6 780.2 L901.8 780.2 L903.1 780.2 L904.4 780 L905.6 779.6 L906.9 779 L908.3 778.1 L909.5 777.1 L910.8 776 L912.1 774.8 L913.3 773.6 L914.6 772.4 L915.8 771.3" fill="none" stroke="#000" stroke-width="1.1" />
<path d="M866.1 733.6 L870.1 727.9 M892.2 715.9 L901.1 718.1 L908.6 728.8 L910.8 747.3 L909 750.9" fill="none" stroke="#000" stroke-width="2" />
<path d="M909 750.9 L908.4 751.5 L907.7 752 L907.1 752.6 L906.5 753.2 L905.8 753.8 L905.1 754.4 L904.5 754.9 L903.7 755.3 L902.9 755.7 L902.1 756.1 L901.2 756.4 L900.3 756.7 L899.4 756.9 L898.5 757.1 L897.6 757.3 L896.6 757.5 L895.6 757.7 L894.5 757.9 L893.4 758.1 L892.3 758.2 L891.1 758.3 L890 758.4 L888.9 758.4 L887.8 758.4 L886.8 758.4 L885.8 758.3 L884.8 758.2 L883.8 758.1 L882.8 757.9 L881.8 757.8 L880.8 757.6 L879.8 757.5" fill="none" stroke="#000" stroke-width="2" />
<path d="M879.8 757.5 L875.4 746.5 L866.1 733.6" fill="none" stroke="#000" stroke-width="2" />
<path d="M867.4 735 L868 735.6 L868.5 736.3 L869 737.1 L869.6 737.8 L870.1 738.5 L870.7 739.1 L871.2 739.7 L871.9 740.3 L872.5 740.7 L873.1 741.2 L873.7 741.6 L874.4 741.9 L875 742.3 L875.7 742.5 L876.4 742.8 L877.2 742.9 L878 743 L878.8 743 L879.7 743 L880.6 742.9 L881.5 742.7 L882.4 742.5 L883.3 742.3 L884.2 742 L885.3 741.7 L886.4 741.4 L887.5 741 L888.7 740.6 L889.8 740.1 L890.9 739.6 L892 739.1 L893.1 738.5 L894.2 737.8 L895.4 737.1 L896.6 736.3 L897.7 735.5 L898.8 734.7 L899.9 733.9 L901 733.1 L901.9 732.3 L902.7 731.7 L903.4 731.2 L904.1 730.6 L904.7 730.1 L905.3 729.5 L906 729 L906.6 728.4 L907.3 727.9" fill="none" stroke="#000" stroke-width="1.1" />
<path d="M877.2 742.9 L879.4 750" fill="none" stroke="#000" stroke-width="1.1" />
<path d="M896.6 737.2 L900.2 747.3" fill="none" stroke="#000" stroke-width="1.1" />
<path d="M878.1 750 L879 750.4 L880 750.8 L881 751.2 L882 751.6 L882.9 751.9 L883.9 752.3 L885 752.5 L886 752.7 L887.3 752.7 L888.6 752.6 L889.9 752.5 L891.3 752.3 L892.7 752 L894 751.7 L895.4 751.3 L896.6 750.9 L897.8 750.5 L899 750 L900.2 749.4 L901.4 748.9 L902.5 748.3 L903.5 747.6 L904.6 747 L905.5 746.5 L906.1 746 L906.7 745.6 L907.3 745.1 L907.8 744.7 L908.3 744.3 L908.9 743.8 L909.4 743.4 L909.9 742.9" fill="none" stroke="#000" stroke-width="1.1" />
<path d="M879.4 754.4 L880.4 754.7 L881.5 755.1 L882.5 755.4 L883.5 755.8 L884.6 756.1 L885.6 756.3 L886.7 756.5 L887.8 756.6 L889.1 756.7 L890.3 756.6 L891.7 756.5 L893 756.3 L894.4 756 L895.7 755.7 L897.1 755.3 L898.4 754.9 L900 754.2 L901.5 753.4 L903 752.5 L904.6 751.5 L906.1 750.4 L907.7 749.4 L909.2 748.3 L910.8 747.3" fill="none" stroke="#000" stroke-width="1.1" />
<path d="M870.1 727.9 L870.7 728.2 L871.4 728.6 L872 729 L872.6 729.4 L873.3 729.7 L873.9 730.1 L874.7 730.3 L875.4 730.5 L876.4 730.7 L877.4 730.8 L878.6 730.8 L879.7 730.8 L880.9 730.7 L882 730.6 L883.1 730.4 L884.2 730.1 L885.4 729.7 L886.6 729.2 L887.8 728.7 L889 728.1 L890.2 727.4 L891.2 726.7 L892.2 726 L893.1 725.2 L893.7 724.6 L894.4 724 L895 723.3 L895.5 722.6 L896 721.9 L896.4 721.2 L896.6 720.5 L896.6 719.9 L896.5 719.4 L896.2 718.9 L895.8 718.4 L895.3 717.9 L894.7 717.4 L894.1 716.9 L893.6 716.4 L893.1 715.9" fill="none" stroke="#000" stroke-width="1.1" />
<path d="M869.2 729.6 L870.2 730.2 L871.2 730.8 L872.1 731.4 L873.1 731.9 L874.1 732.5 L875.1 733 L876.1 733.4 L877.2 733.6 L878.4 733.8 L879.7 733.8 L881.1 733.7 L882.5 733.6 L883.8 733.4 L885.2 733.1 L886.5 732.7 L887.8 732.3 L889 731.8 L890.2 731.3 L891.4 730.7 L892.6 730.1 L893.7 729.4 L894.8 728.6 L895.7 727.8 L896.6 727 L897.4 726.2 L898 725.4 L898.5 724.5 L899.1 723.6 L899.5 722.7 L900 721.7 L900.5 720.8 L901.1 719.9" fill="none" stroke="#000" stroke-width="1.1" />
<path d="M871 717.3 L875 728.3" fill="none" stroke="#000" stroke-width="2" />
<path d="M892.2 715.5 L894.2 721.2" fill="none" stroke="#000" stroke-width="2" />
<path d="M871 714.2 L872.1 714.5 L873.2 714.8 L874.3 715.2 L875.4 715.6 L876.6 715.9 L877.7 716.1 L878.7 716.3 L879.8 716.2 L880.9 715.9 L882 715.5 L883 714.9 L884.1 714.3 L885.1 713.6 L886.1 712.8 L887.2 712.1 L888.2 711.5" fill="none" stroke="#000" stroke-width="1.1" />
<path d="M871.4 717.7 L872.6 718 L873.7 718.4 L874.9 718.8 L876 719.2 L877.2 719.5 L878.3 719.8 L879.5 719.9 L880.7 719.9 L882.1 719.7 L883.5 719.3 L884.9 718.8 L886.4 718.2 L887.9 717.5 L889.3 716.8 L890.8 716.1 L892.2 715.5" fill="none" stroke="#000" stroke-width="1.1" />
<path d="M860.4 688.1 L871 717.3" fill="none" stroke="#000" stroke-width="2" />
<path d="M878.9 685.4 L892.2 715.5" fill="none" stroke="#000" stroke-width="2" />
<path d="M860.4 688.1 L860.6 687.6 L860.7 687.1 L860.9 686.7 L861.1 686.2 L861.2 685.8 L861.5 685.3 L861.8 684.9 L862.1 684.5 L862.8 683.9 L863.7 683.4 L864.7 682.8 L865.8 682.3 L866.9 681.8 L868 681.5 L869.1 681.2 L870.1 681 L870.9 680.9 L871.8 680.9 L872.6 680.9 L873.4 681 L874.2 681.1 L875 681.3 L875.7 681.6 L876.3 681.9 L876.7 682.2 L877.1 682.6 L877.4 683 L877.8 683.5 L878 684 L878.3 684.5 L878.6 684.9 L878.9 685.4" fill="none" stroke="#000" stroke-width="2" />
<path d="M862.1 691.6 L863.3 692 L864.6 692.6 L865.8 693.1 L867.1 693.6 L868.3 694.1 L869.5 694.5 L870.7 694.7 L871.9 694.7 L873 694.5 L874 694.1 L875.1 693.6 L876.1 692.9 L877.2 692.2 L878.2 691.5 L879.2 690.9 L880.3 690.3" fill="none" stroke="#000" stroke-width="1.3" />
<path d="M864 696.9 L865.3 697.3 L866.5 697.9 L867.8 698.4 L869 698.9 L870.3 699.4 L871.5 699.8 L872.7 700 L873.9 700 L875 699.8 L876.1 699.4 L877.1 698.9 L878.2 698.2 L879.2 697.6 L880.3 696.9 L881.3 696.2 L882.4 695.6" fill="none" stroke="#000" stroke-width="1.3" />
<path d="M865.9 702 L867.1 702.5 L868.4 703 L869.7 703.5 L870.9 704.1 L872.2 704.5 L873.4 704.9 L874.6 705.1 L875.8 705.1 L876.9 704.9 L878 704.5 L879.1 704 L880.2 703.4 L881.3 702.7 L882.3 702 L883.4 701.3 L884.4 700.7" fill="none" stroke="#000" stroke-width="1.3" />
<path d="M867.6 706.8 L868.9 707.3 L870.1 707.8 L871.4 708.3 L872.7 708.9 L874 709.3 L875.2 709.7 L876.4 709.9 L877.6 709.9 L878.8 709.7 L879.9 709.3 L881 708.8 L882.1 708.2 L883.1 707.5 L884.2 706.8 L885.3 706.1 L886.4 705.5" fill="none" stroke="#000" stroke-width="1.3" />
<path d="M869.3 711.5 L870.6 711.9 L871.8 712.5 L873.1 713 L874.4 713.5 L875.7 714 L877 714.4 L878.2 714.6 L879.4 714.6 L880.6 714.4 L881.7 714 L882.8 713.5 L883.9 712.8 L885 712.2 L886.1 711.5 L887.1 710.8 L888.2 710.2" fill="none" stroke="#000" stroke-width="1.3" />
<path d="M870.9 715.9 L872.2 716.4 L873.5 716.9 L874.8 717.4 L876.1 718 L877.3 718.4 L878.6 718.8 L879.9 719 L881.1 719 L882.3 718.8 L883.4 718.4 L884.5 717.9 L885.6 717.3 L886.7 716.6 L887.8 715.9 L888.9 715.2 L890 714.6" fill="none" stroke="#000" stroke-width="1.3" />
<path d="M860.8 678.3 L860.7 677.8 L860.5 677.3 L860.3 676.8 L860.2 676.3 L860 675.8 L859.9 675.3 L859.9 674.8 L859.9 674.3 L860 673.9 L860.2 673.4 L860.5 673 L860.7 672.5 L861.1 672.1 L861.4 671.8 L861.8 671.5 L862.1 671.2 L862.5 671.1 L862.9 671 L863.4 670.9 L863.9 670.9 L864.4 670.9 L864.8 671 L865.3 671.1 L865.7 671.2 L866 671.4 L866.3 671.6 L866.7 671.9 L866.9 672.2 L867.2 672.5 L867.5 672.8 L867.7 673.1 L867.9 673.5 L868 673.8 L868.1 674.2 L868.2 674.5 L868.2 674.9 L868.2 675.3 L868.2 675.8 L868.3 676.2 L868.3 676.5" fill="none" stroke="#000" stroke-width="2" />
<path d="M860.8 678.3 L863.2 686.7" fill="none" stroke="#000" stroke-width="2" />
<path d="M868.3 676.5 L871.2 683.6" fill="none" stroke="#000" stroke-width="2" />
<path d="M863.2 677.4 L866.5 685.4" fill="none" stroke="#000" stroke-width="1.2" />
<path d="M865.2 676.5 L868.8 684.5" fill="none" stroke="#000" stroke-width="1.2" />
<path d="M854.2 650.9 L862.6 670.8 L878.9 711.9" fill="none" stroke="#000" stroke-width="1.1" />
<path d="M882 720.4 L884.7 726.5" fill="none" stroke="#000" stroke-width="1.1" />
<path d="M888.2 733.2 L909.9 785.4" fill="none" stroke="#000" stroke-width="1.1" />
<path d="M896.7 645.6 L878.9 685" stroke="#000" stroke-width="1.1" fill="none" />
<path d="M590.1 1062.3 L625.5 1091.2" fill="none" stroke="#000" stroke-width="1.1" />
<path d="M493.5 1124.1 L533.8 1155.6" fill="none" stroke="#000" stroke-width="1.1" />
<path d="M533.8 1155.6 L540.9 1151.1" fill="none" stroke="#000" stroke-width="1.1" />
<path d="M549.9 1145.3 L608.4 1107.3" fill="none" stroke="#000" stroke-width="1.1" />
<path d="M614.2 1103.5 L622.3 1098.3" fill="none" stroke="#000" stroke-width="1.1" />
<path d="M625.5 1091.2 L678.6 1056.5" fill="none" stroke="#000" stroke-width="1.1" />
<path d="M683.4 1053.3 L691.5 1048.1" fill="none" stroke="#000" stroke-width="1.1" />
<path d="M697.9 1043.9 L760 1003.7" fill="none" stroke="#000" stroke-width="1.1" />
<path d="M519.9 1018.2 L503.2 1055.8" stroke="#000" stroke-width="1.1" fill="none" />
<path d="M425.3 1080 L406.7 1117" stroke="#000" stroke-width="1.1" fill="none" />
<path d="M638.7 984.8 L620.6 1023.4" stroke="#000" stroke-width="1.1" fill="none" />
<path d="M714.9 1229.8 L735.2 1202.8 L801.6 1185.2" fill="none" stroke="#000" stroke-width="1.1" />
<path d="M807.2 1183.7 L814 1181.9" fill="none" stroke="#000" stroke-width="1.1" />
<path d="M821.9 1179.8 L845.5 1173.5" fill="none" stroke="#000" stroke-width="1.1" />
<path d="M780.2 1268.1 L819.6 1217.4" fill="none" stroke="#000" stroke-width="1.1" />
<path d="M823 1212.9 L828.6 1205.1" fill="none" stroke="#000" stroke-width="1.1" />
<path d="M832 1201.7 L843.3 1185.9" fill="none" stroke="#000" stroke-width="1.1" />
<path d="M644.4 1248.8 L674.6 1266.5" stroke="#000" stroke-width="1.1" fill="none" />
<path d="M754.9 1317 L783.4 1333.4" stroke="#000" stroke-width="1.1" fill="none" />
<path d="M391.6 845.2 L374.1 884.2" stroke="#000" stroke-width="1.1" fill="none" />
<ellipse cx="1117.3" cy="1098.9" rx="11" ry="12.3" transform="rotate(25 1117.3 1098.9)" fill="#fff" stroke="#000" stroke-width="1.1" />
<ellipse cx="1118.2" cy="1098.6" rx="11" ry="12.2" transform="rotate(25 1118.2 1098.6)" fill="#fff" stroke="#000" stroke-width="2" />
<ellipse cx="1118.7" cy="1099.6" rx="3.2" ry="6.2" transform="rotate(30 1118.7 1099.6)" fill="none" stroke="#000" stroke-width="1.1" />
<path d="M1090 1082.7 L1119.9 1099.1" fill="none" stroke="#000" stroke-width="1.1" />
<path d="M1128.1 1104.9 L1132 1107.3" fill="none" stroke="#000" stroke-width="1.1" />
<path d="M1138.3 1110.7 L1154.2 1120.3" fill="none" stroke="#000" stroke-width="1.1" />
<path d="M986.7 1022.9 L1044.6 1056.8" stroke="#000" stroke-width="1.1" fill="none" />
<path d="M1109.8 1110.7 L1091.9 1148.3" stroke="#000" stroke-width="1.1" fill="none" />
<path d="M1169.6 1144 L1153.2 1180" stroke="#000" stroke-width="1.1" fill="none" />
<path d="M1157.6 1116 L1175 1124.2 L1170.1 1136.3 L1152.8 1126.6 L1153.7 1119.9Z" fill="#555" stroke="#000" stroke-width="2" />
<path d="M1158.1 1117 L1153.7 1126.6" fill="none" stroke="#000" stroke-width="1" />
<path d="M1160.1 1117.9 L1155.8 1127.8" fill="none" stroke="#000" stroke-width="1" />
<path d="M1162.2 1118.9 L1157.8 1128.9" fill="none" stroke="#000" stroke-width="1" />
<path d="M1164.2 1119.9 L1159.9 1130.1" fill="none" stroke="#000" stroke-width="1" />
<path d="M1166.3 1120.8 L1161.9 1131.2" fill="none" stroke="#000" stroke-width="1" />
<path d="M1168.3 1121.8 L1164 1132.3" fill="none" stroke="#000" stroke-width="1" />
<path d="M1170.4 1122.8 L1166 1133.5" fill="none" stroke="#000" stroke-width="1" />
<path d="M1172.4 1123.7 L1168.1 1134.6" fill="none" stroke="#000" stroke-width="1" />
<ellipse cx="1176.1" cy="1132.4" rx="3.6" ry="12.2" transform="rotate(25 1176.1 1132.4)" fill="#fff" stroke="#000" stroke-width="2" />
<ellipse cx="1176.4" cy="1132.6" rx="2" ry="10.2" transform="rotate(25 1176.4 1132.6)" fill="none" stroke="#000" stroke-width="0.9" />
<path d="M1180.3 1125.6 L1189.4 1131.4 L1187.5 1140.1 L1181.7 1145.4 L1174 1140.9" fill="none" stroke="#000" stroke-width="2" />
<path d="M1178.8 1132.2 L1186.5 1136.7 L1189.4 1131.4" fill="none" stroke="#000" stroke-width="1.1" />
<path d="M1186.5 1136.7 L1181.7 1145.4" fill="none" stroke="#000" stroke-width="1.1" />
<path d="M909.3 585.5 L916.5 590.6" fill="none" stroke="#000" stroke-width="1.1" />
<path d="M916.5 590.6 L936.1 657.8" fill="none" stroke="#000" stroke-width="1.1" />
<path d="M938.2 665 L941.3 675.3" fill="none" stroke="#000" stroke-width="1.1" />
<path d="M943.4 682.5 L964 752.7" fill="none" stroke="#000" stroke-width="1.1" />
<path d="M966.1 760 L968.1 767.2" fill="none" stroke="#000" stroke-width="1.1" />
<path d="M970.2 774.4 L987.8 833.3" fill="none" stroke="#000" stroke-width="1.1" />
<path d="M989.4 839.5 L991.9 847.7" fill="none" stroke="#000" stroke-width="1.1" />
<path d="M994 854.9 L1009.4 910.7" fill="none" stroke="#000" stroke-width="1.1" />
<path d="M1012.1 919 L1015.7 931 L1024.1 962.4 L1030.2 974.5 L1052.5 999.2" fill="none" stroke="#000" stroke-width="1.1" />
<path d="M841.8 738.6 L842.4 737.7 L851.2 788.4" fill="none" stroke="#000" stroke-width="1.1" />
<path d="M852.2 794.3 L854.2 805.5" fill="none" stroke="#000" stroke-width="1.1" />
<path d="M855.1 810.2 L867.8 875.1 L894.3 905.8" fill="none" stroke="#000" stroke-width="1.1" />
<path d="M910.8 787.8 L907.9 816.1" fill="none" stroke="#000" stroke-width="1.1" />
<path d="M906.7 823.2 L905.5 832.7" fill="none" stroke="#000" stroke-width="1.1" />
<path d="M904.6 836.8 L896.1 902.3" fill="none" stroke="#000" stroke-width="1.1" />
<path d="M960.7 1212.9 L942.6 1251.5" fill="none" stroke="#000" stroke-width="1.1" />
<path d="M730 1038.6 L729.3 1040 L728.5 1041.3 L727.7 1042.6 L726.8 1044 L726.1 1045.3 L725.4 1046.7 L724.9 1048.1 L724.5 1049.5 L724.3 1051 L724.2 1052.6 L724.2 1054.2 L724.3 1055.8 L724.5 1057.5 L724.8 1059 L725.1 1060.6 L725.5 1062 L725.9 1063.2 L726.4 1064.3 L726.9 1065.4 L727.5 1066.4 L728.2 1067.5 L728.8 1068.5 L729.4 1069.5 L730 1070.6" fill="none" stroke="#000" stroke-width="1.8" />
<g id="lb2"><path d="M475 257.5 L473.6 256.3 L472 255 L470.4 253.8 L468.8 252.5 L467.3 251.3 L466.1 250.1 L465.2 248.9 L464.7 247.8 L464.6 247.2 L464.6 246.7 L464.8 246.1 L465 245.6 L465.3 245.1 L465.6 244.5 L466 243.9 L466.3 243.3 L466.7 242.3 L467.2 241.2 L467.8 240 L468.4 238.8 L469 237.6 L469.7 236.4 L470.4 235.3 L471.1 234.3 L471.7 233.6 L472.3 232.9 L472.9 232.2 L473.5 231.6 L474.2 231 L474.9 230.5 L475.5 230 L476.2 229.5 L476.9 229.1 L477.6 228.7 L478.3 228.4 L479.1 228.1 L479.8 227.8 L480.6 227.5 L481.3 227.2 L482 226.9" fill="none" stroke="#000" stroke-width="2" />
<path d="M482 226.9 L493.6 237.5" fill="none" stroke="#000" stroke-width="2" />
<path d="M482 229.9 L493 238.3" fill="none" stroke="#000" stroke-width="1.1" />
<path d="M482 229.9 L476.2 240.2 L467.9 248.6" fill="none" stroke="#000" stroke-width="1.1" />
<path d="M476.2 240.2 L488.5 249.8" fill="none" stroke="#000" stroke-width="1.1" />
<path d="M493 238.3 L487.2 245.9" fill="none" stroke="#000" stroke-width="1.1" />
<path d="M467.9 248.6 L476.2 256.8 L484 251" fill="none" stroke="#000" stroke-width="1.1" />
<path d="M493 234.3 L493.4 233.9 L493.8 233.5 L494.1 233.1 L494.5 232.7 L494.9 232.3 L495.3 231.9 L495.7 231.6 L496.2 231.4 L496.6 231.2 L497.1 231.1 L497.7 231 L498.2 231 L498.7 230.9 L499.2 231 L499.6 231.1 L500.1 231.2 L500.4 231.4 L500.8 231.7 L501.1 232.1 L501.5 232.5 L501.7 232.9 L502 233.4 L502.2 233.8 L502.3 234.3 L502.4 234.9 L502.4 235.5 L502.3 236.1 L502.2 236.8 L502.1 237.4 L501.8 238.1 L501.6 238.8 L501.3 239.5 L501 240.2 L500.5 241 L499.9 241.8 L499.3 242.6 L498.7 243.4 L498.1 244.2 L497.4 245 L496.8 245.9 L496.1 246.9 L495.5 248 L494.7 249 L494 250.1 L493.3 251.2 L492.6 252.3 L491.8 253.3 L491 254.3 L490.3 255.1 L489.6 255.8 L488.9 256.6 L488.2 257.3 L487.5 258 L486.7 258.7 L486 259.4 L485.2 260.1 L484.5 260.7 L483.8 261.3 L483.1 261.9 L482.3 262.5 L481.6 263.1 L480.9 263.6 L480.1 264.1 L479.5 264.6 L478.9 264.9 L478.4 265.2 L477.9 265.4 L477.5 265.7 L477 265.9 L476.5 266.1 L476 266.2 L475.6 266.2 L475.2 266.1 L474.8 266 L474.4 265.8 L474 265.5 L473.6 265.2 L473.2 264.9 L472.9 264.6 L472.7 264.2 L472.5 263.8 L472.4 263.4 L472.2 262.9 L472.2 262.4 L472.2 261.8 L472.2 261.3 L472.3 260.8 L472.4 260.4 L472.6 260 L472.8 259.6 L473.1 259.2 L473.5 258.9 L473.9 258.5 L474.2 258.2 L474.6 257.8 L475 257.5" fill="none" stroke="#000" stroke-width="2" />
<path d="M498 233.7 L497.6 234.5 L497.3 235.4 L496.9 236.3 L496.5 237.2 L496.2 238.1 L495.8 239 L495.4 239.8 L494.9 240.7 L494.4 241.8 L493.8 242.8 L493.2 243.9 L492.5 244.9 L491.9 246 L491.2 247.1 L490.5 248.1 L489.8 249.1 L489 250.1 L488.3 251.1 L487.5 252.1 L486.7 253.1 L485.9 254.1 L485.1 255 L484.2 255.9 L483.3 256.8 L482.4 257.7 L481.5 258.5 L480.5 259.2 L479.5 260 L478.6 260.7 L477.6 261.5 L476.6 262.2 L475.6 262.9" fill="none" stroke="#000" stroke-width="1.1" />
<path d="M499.1 245.9 L498.8 246.5 L498.6 247.2 L498.3 247.8 L498 248.5 L497.8 249.1 L497.5 249.8 L497.2 250.4 L496.8 251 L496.4 251.7 L496 252.4 L495.6 253 L495.1 253.7 L494.6 254.3 L494.1 255 L493.5 255.6 L493 256.2 L492.3 256.8 L491.6 257.4 L490.9 258 L490.2 258.5 L489.4 259.1 L488.7 259.6 L487.9 260.1 L487.2 260.7" fill="none" stroke="#000" stroke-width="1.1" />
<path d="M500.1 245.9 L514.9 257.8" fill="none" stroke="#000" stroke-width="2" />
<path d="M486.5 261 L501.3 273.9" fill="none" stroke="#000" stroke-width="2" />
<path d="M514.9 257.8 L514.7 258.4 L514.6 259 L514.4 259.6 L514.3 260.2 L514.2 260.8 L514 261.4 L513.8 262 L513.6 262.6 L513.2 263.4 L512.8 264.2 L512.4 265.1 L511.9 265.9 L511.4 266.7 L510.9 267.6 L510.3 268.3 L509.7 269.1 L509.1 269.7 L508.4 270.4 L507.7 271 L506.9 271.6 L506.2 272.2 L505.4 272.7 L504.7 273.3 L503.9 273.9" fill="none" stroke="#000" stroke-width="1.1" />
<path d="M514.9 257.8 L515.2 258.3 L515.5 258.9 L515.8 259.4 L516.1 259.9 L516.4 260.4 L516.7 261 L517.1 261.5 L517.4 262 L517.8 262.5 L518.2 263 L518.6 263.5 L519 263.9 L519.4 264.4 L519.8 264.9 L520.2 265.4 L520.6 265.8" fill="none" stroke="#000" stroke-width="2" />
<path d="M501.3 273.9 L502 274 L502.6 274.2 L503.3 274.3 L503.9 274.5 L504.6 274.6 L505.2 274.8 L505.9 275 L506.5 275.2 L507.1 275.4 L507.8 275.7 L508.4 276.1 L509.1 276.4 L509.7 276.7 L510.4 277.1 L511 277.4 L511.6 277.8" fill="none" stroke="#000" stroke-width="2" />
<path d="M520.6 265.8 L520.5 266.3 L520.4 266.8 L520.2 267.3 L520.1 267.8 L519.9 268.3 L519.8 268.7 L519.6 269.2 L519.4 269.7 L519.1 270.3 L518.7 270.9 L518.3 271.4 L517.9 272 L517.5 272.6 L517.1 273.2 L516.6 273.7 L516.1 274.2 L515.6 274.7 L515.1 275.2 L514.5 275.6 L514 276 L513.4 276.5 L512.8 276.9 L512.2 277.3 L511.6 277.8" fill="none" stroke="#000" stroke-width="1.1" />
<path d="M511 268.4 L516.8 272.3" fill="none" stroke="#000" stroke-width="1.1" />
<path d="M520.6 265.8 L739.8 438.9" stroke="#000" stroke-width="2" fill="none" />
<path d="M511.6 277.8 L729.5 454.6" stroke="#000" stroke-width="2" fill="none" />
<path d="M740.8 439.3 L739.9 440.1 L739 440.9 L738.1 441.6 L737.2 442.4 L736.3 443.2 L735.4 443.9 L734.6 444.8 L733.8 445.7 L733.1 446.6 L732.5 447.6 L731.9 448.6 L731.4 449.6 L730.8 450.7 L730.3 451.8 L729.8 452.8 L729.2 453.9 L773.3 489.2 Q776.8 492 782.3 484.4 Q788.5 477.5 784.9 474.6Z" fill="#fff" stroke="#000" stroke-width="2" />
<path d="M742 440.3 Q737.8 448.8 730.4 454.9" fill="none" stroke="#000" stroke-width="1.1" />
<path d="M743.9 441.8 Q739.7 450.3 732.3 456.3" fill="none" stroke="#000" stroke-width="1.1" />
<path d="M745.8 443.3 Q741.5 451.8 734.1 457.8" fill="none" stroke="#000" stroke-width="1.1" />
<path d="M747.6 444.8 Q743.4 453.3 736 459.3" fill="none" stroke="#000" stroke-width="1.1" />
<path d="M749.5 446.3 Q745.2 454.8 737.9 460.8" fill="none" stroke="#000" stroke-width="1.1" />
<path d="M751.3 447.8 Q747.1 456.3 739.7 462.3" fill="none" stroke="#000" stroke-width="1.1" />
<path d="M753.2 449.2 Q748.9 457.8 741.6 463.8" fill="none" stroke="#000" stroke-width="1.1" />
<path d="M755.1 450.7 Q750.8 459.2 743.4 465.3" fill="none" stroke="#000" stroke-width="1.1" />
<path d="M756.9 452.2 Q752.7 460.7 745.3 466.8" fill="none" stroke="#000" stroke-width="1.1" />
<path d="M758.8 453.7 Q754.5 462.2 747.2 468.2" fill="none" stroke="#000" stroke-width="1.1" />
<path d="M760.6 455.2 Q756.4 463.7 749 469.7" fill="none" stroke="#000" stroke-width="1.1" />
<path d="M762.5 456.7 Q758.2 465.2 750.9 471.2" fill="none" stroke="#000" stroke-width="1.1" />
<path d="M764.4 458.2 Q760.1 466.7 752.7 472.7" fill="none" stroke="#000" stroke-width="1.1" />
<path d="M766.2 459.7 Q762 468.2 754.6 474.2" fill="none" stroke="#000" stroke-width="1.1" />
<path d="M768.1 461.1 Q763.8 469.7 756.4 475.7" fill="none" stroke="#000" stroke-width="1.1" />
<path d="M769.9 462.6 Q765.7 471.2 758.3 477.2" fill="none" stroke="#000" stroke-width="1.1" />
<path d="M771.8 464.1 Q767.5 472.6 760.2 478.7" fill="none" stroke="#000" stroke-width="1.1" />
<path d="M773.6 465.6 Q769.4 474.1 762 480.1" fill="none" stroke="#000" stroke-width="1.1" />
<path d="M775.5 467.1 Q771.3 475.6 763.9 481.6" fill="none" stroke="#000" stroke-width="1.1" />
<path d="M777.4 468.6 Q773.1 477.1 765.7 483.1" fill="none" stroke="#000" stroke-width="1.1" />
<path d="M779.2 470.1 Q775 478.6 767.6 484.6" fill="none" stroke="#000" stroke-width="1.1" />
<path d="M781.1 471.6 Q776.8 480.1 769.5 486.1" fill="none" stroke="#000" stroke-width="1.1" />
<path d="M782.9 473 Q778.7 481.6 771.3 487.6" fill="none" stroke="#000" stroke-width="1.1" />
<path d="M784.8 474.5 Q780.5 483.1 773.2 489.1" fill="none" stroke="#000" stroke-width="1.1" />
<path d="M735.2 449.6 L778.5 484.3" stroke="#000" stroke-width="0.9" fill="none" /></g>
<g transform="translate(-117 113)"><path d="M475 257.5 L473.6 256.3 L472 255 L470.4 253.8 L468.8 252.5 L467.3 251.3 L466.1 250.1 L465.2 248.9 L464.7 247.8 L464.6 247.2 L464.6 246.7 L464.8 246.1 L465 245.6 L465.3 245.1 L465.6 244.5 L466 243.9 L466.3 243.3 L466.7 242.3 L467.2 241.2 L467.8 240 L468.4 238.8 L469 237.6 L469.7 236.4 L470.4 235.3 L471.1 234.3 L471.7 233.6 L472.3 232.9 L472.9 232.2 L473.5 231.6 L474.2 231 L474.9 230.5 L475.5 230 L476.2 229.5 L476.9 229.1 L477.6 228.7 L478.3 228.4 L479.1 228.1 L479.8 227.8 L480.6 227.5 L481.3 227.2 L482 226.9" fill="none" stroke="#000" stroke-width="2" />
<path d="M482 226.9 L493.6 237.5" fill="none" stroke="#000" stroke-width="2" />
<path d="M482 229.9 L493 238.3" fill="none" stroke="#000" stroke-width="1.1" />
<path d="M482 229.9 L476.2 240.2 L467.9 248.6" fill="none" stroke="#000" stroke-width="1.1" />
<path d="M476.2 240.2 L488.5 249.8" fill="none" stroke="#000" stroke-width="1.1" />
<path d="M493 238.3 L487.2 245.9" fill="none" stroke="#000" stroke-width="1.1" />
<path d="M467.9 248.6 L476.2 256.8 L484 251" fill="none" stroke="#000" stroke-width="1.1" />
<path d="M493 234.3 L493.4 233.9 L493.8 233.5 L494.1 233.1 L494.5 232.7 L494.9 232.3 L495.3 231.9 L495.7 231.6 L496.2 231.4 L496.6 231.2 L497.1 231.1 L497.7 231 L498.2 231 L498.7 230.9 L499.2 231 L499.6 231.1 L500.1 231.2 L500.4 231.4 L500.8 231.7 L501.1 232.1 L501.5 232.5 L501.7 232.9 L502 233.4 L502.2 233.8 L502.3 234.3 L502.4 234.9 L502.4 235.5 L502.3 236.1 L502.2 236.8 L502.1 237.4 L501.8 238.1 L501.6 238.8 L501.3 239.5 L501 240.2 L500.5 241 L499.9 241.8 L499.3 242.6 L498.7 243.4 L498.1 244.2 L497.4 245 L496.8 245.9 L496.1 246.9 L495.5 248 L494.7 249 L494 250.1 L493.3 251.2 L492.6 252.3 L491.8 253.3 L491 254.3 L490.3 255.1 L489.6 255.8 L488.9 256.6 L488.2 257.3 L487.5 258 L486.7 258.7 L486 259.4 L485.2 260.1 L484.5 260.7 L483.8 261.3 L483.1 261.9 L482.3 262.5 L481.6 263.1 L480.9 263.6 L480.1 264.1 L479.5 264.6 L478.9 264.9 L478.4 265.2 L477.9 265.4 L477.5 265.7 L477 265.9 L476.5 266.1 L476 266.2 L475.6 266.2 L475.2 266.1 L474.8 266 L474.4 265.8 L474 265.5 L473.6 265.2 L473.2 264.9 L472.9 264.6 L472.7 264.2 L472.5 263.8 L472.4 263.4 L472.2 262.9 L472.2 262.4 L472.2 261.8 L472.2 261.3 L472.3 260.8 L472.4 260.4 L472.6 260 L472.8 259.6 L473.1 259.2 L473.5 258.9 L473.9 258.5 L474.2 258.2 L474.6 257.8 L475 257.5" fill="none" stroke="#000" stroke-width="2" />
<path d="M498 233.7 L497.6 234.5 L497.3 235.4 L496.9 236.3 L496.5 237.2 L496.2 238.1 L495.8 239 L495.4 239.8 L494.9 240.7 L494.4 241.8 L493.8 242.8 L493.2 243.9 L492.5 244.9 L491.9 246 L491.2 247.1 L490.5 248.1 L489.8 249.1 L489 250.1 L488.3 251.1 L487.5 252.1 L486.7 253.1 L485.9 254.1 L485.1 255 L484.2 255.9 L483.3 256.8 L482.4 257.7 L481.5 258.5 L480.5 259.2 L479.5 260 L478.6 260.7 L477.6 261.5 L476.6 262.2 L475.6 262.9" fill="none" stroke="#000" stroke-width="1.1" />
<path d="M499.1 245.9 L498.8 246.5 L498.6 247.2 L498.3 247.8 L498 248.5 L497.8 249.1 L497.5 249.8 L497.2 250.4 L496.8 251 L496.4 251.7 L496 252.4 L495.6 253 L495.1 253.7 L494.6 254.3 L494.1 255 L493.5 255.6 L493 256.2 L492.3 256.8 L491.6 257.4 L490.9 258 L490.2 258.5 L489.4 259.1 L488.7 259.6 L487.9 260.1 L487.2 260.7" fill="none" stroke="#000" stroke-width="1.1" />
<path d="M500.1 245.9 L514.9 257.8" fill="none" stroke="#000" stroke-width="2" />
<path d="M486.5 261 L501.3 273.9" fill="none" stroke="#000" stroke-width="2" />
<path d="M514.9 257.8 L514.7 258.4 L514.6 259 L514.4 259.6 L514.3 260.2 L514.2 260.8 L514 261.4 L513.8 262 L513.6 262.6 L513.2 263.4 L512.8 264.2 L512.4 265.1 L511.9 265.9 L511.4 266.7 L510.9 267.6 L510.3 268.3 L509.7 269.1 L509.1 269.7 L508.4 270.4 L507.7 271 L506.9 271.6 L506.2 272.2 L505.4 272.7 L504.7 273.3 L503.9 273.9" fill="none" stroke="#000" stroke-width="1.1" />
<path d="M514.9 257.8 L515.2 258.3 L515.5 258.9 L515.8 259.4 L516.1 259.9 L516.4 260.4 L516.7 261 L517.1 261.5 L517.4 262 L517.8 262.5 L518.2 263 L518.6 263.5 L519 263.9 L519.4 264.4 L519.8 264.9 L520.2 265.4 L520.6 265.8" fill="none" stroke="#000" stroke-width="2" />
<path d="M501.3 273.9 L502 274 L502.6 274.2 L503.3 274.3 L503.9 274.5 L504.6 274.6 L505.2 274.8 L505.9 275 L506.5 275.2 L507.1 275.4 L507.8 275.7 L508.4 276.1 L509.1 276.4 L509.7 276.7 L510.4 277.1 L511 277.4 L511.6 277.8" fill="none" stroke="#000" stroke-width="2" />
<path d="M520.6 265.8 L520.5 266.3 L520.4 266.8 L520.2 267.3 L520.1 267.8 L519.9 268.3 L519.8 268.7 L519.6 269.2 L519.4 269.7 L519.1 270.3 L518.7 270.9 L518.3 271.4 L517.9 272 L517.5 272.6 L517.1 273.2 L516.6 273.7 L516.1 274.2 L515.6 274.7 L515.1 275.2 L514.5 275.6 L514 276 L513.4 276.5 L512.8 276.9 L512.2 277.3 L511.6 277.8" fill="none" stroke="#000" stroke-width="1.1" />
<path d="M511 268.4 L516.8 272.3" fill="none" stroke="#000" stroke-width="1.1" />
<path d="M520.6 265.8 L739.8 438.9" stroke="#000" stroke-width="2" fill="none" />
<path d="M511.6 277.8 L729.5 454.6" stroke="#000" stroke-width="2" fill="none" />
<path d="M740.8 439.3 L739.9 440.1 L739 440.9 L738.1 441.6 L737.2 442.4 L736.3 443.2 L735.4 443.9 L734.6 444.8 L733.8 445.7 L733.1 446.6 L732.5 447.6 L731.9 448.6 L731.4 449.6 L730.8 450.7 L730.3 451.8 L729.8 452.8 L729.2 453.9 L773.3 489.2 Q776.8 492 782.3 484.4 Q788.5 477.5 784.9 474.6Z" fill="#fff" stroke="#000" stroke-width="2" />
<path d="M742 440.3 Q737.8 448.8 730.4 454.9" fill="none" stroke="#000" stroke-width="1.1" />
<path d="M743.9 441.8 Q739.7 450.3 732.3 456.3" fill="none" stroke="#000" stroke-width="1.1" />
<path d="M745.8 443.3 Q741.5 451.8 734.1 457.8" fill="none" stroke="#000" stroke-width="1.1" />
<path d="M747.6 444.8 Q743.4 453.3 736 459.3" fill="none" stroke="#000" stroke-width="1.1" />
<path d="M749.5 446.3 Q745.2 454.8 737.9 460.8" fill="none" stroke="#000" stroke-width="1.1" />
<path d="M751.3 447.8 Q747.1 456.3 739.7 462.3" fill="none" stroke="#000" stroke-width="1.1" />
<path d="M753.2 449.2 Q748.9 457.8 741.6 463.8" fill="none" stroke="#000" stroke-width="1.1" />
<path d="M755.1 450.7 Q750.8 459.2 743.4 465.3" fill="none" stroke="#000" stroke-width="1.1" />
<path d="M756.9 452.2 Q752.7 460.7 745.3 466.8" fill="none" stroke="#000" stroke-width="1.1" />
<path d="M758.8 453.7 Q754.5 462.2 747.2 468.2" fill="none" stroke="#000" stroke-width="1.1" />
<path d="M760.6 455.2 Q756.4 463.7 749 469.7" fill="none" stroke="#000" stroke-width="1.1" />
<path d="M762.5 456.7 Q758.2 465.2 750.9 471.2" fill="none" stroke="#000" stroke-width="1.1" />
<path d="M764.4 458.2 Q760.1 466.7 752.7 472.7" fill="none" stroke="#000" stroke-width="1.1" />
<path d="M766.2 459.7 Q762 468.2 754.6 474.2" fill="none" stroke="#000" stroke-width="1.1" />
<path d="M768.1 461.1 Q763.8 469.7 756.4 475.7" fill="none" stroke="#000" stroke-width="1.1" />
<path d="M769.9 462.6 Q765.7 471.2 758.3 477.2" fill="none" stroke="#000" stroke-width="1.1" />
<path d="M771.8 464.1 Q767.5 472.6 760.2 478.7" fill="none" stroke="#000" stroke-width="1.1" />
<path d="M773.6 465.6 Q769.4 474.1 762 480.1" fill="none" stroke="#000" stroke-width="1.1" />
<path d="M775.5 467.1 Q771.3 475.6 763.9 481.6" fill="none" stroke="#000" stroke-width="1.1" />
<path d="M777.4 468.6 Q773.1 477.1 765.7 483.1" fill="none" stroke="#000" stroke-width="1.1" />
<path d="M779.2 470.1 Q775 478.6 767.6 484.6" fill="none" stroke="#000" stroke-width="1.1" />
<path d="M781.1 471.6 Q776.8 480.1 769.5 486.1" fill="none" stroke="#000" stroke-width="1.1" />
<path d="M782.9 473 Q778.7 481.6 771.3 487.6" fill="none" stroke="#000" stroke-width="1.1" />
<path d="M784.8 474.5 Q780.5 483.1 773.2 489.1" fill="none" stroke="#000" stroke-width="1.1" />
<path d="M735.2 449.6 L778.5 484.3" stroke="#000" stroke-width="0.9" fill="none" /></g>
<circle cx="447.3" cy="216.9" r="0.8" fill="#000"/>
<path d="M452.3 220.5 L506 263.5" stroke="#000" stroke-width="1.1" fill="none" />
<path d="M520.9 275.4 L574.3 318.1" stroke="#000" stroke-width="1.1" fill="none" />
<path d="M579.5 322.3 L584.7 326.5" stroke="#000" stroke-width="1.1" fill="none" />
<path d="M589.9 330.6 L644.3 374.1" stroke="#000" stroke-width="1.1" fill="none" />
<path d="M648.5 377.5 L653.7 381.7" stroke="#000" stroke-width="1.1" fill="none" />
<path d="M659 385.9 L713.3 429.3" stroke="#000" stroke-width="1.1" fill="none" />
<path d="M717.5 432.7 L722.8 436.9" stroke="#000" stroke-width="1.1" fill="none" />
<path d="M727 440.3 L737.4 448.6" stroke="#000" stroke-width="1.1" fill="none" />
<path d="M782.5 484.7 L833.6 525.6" stroke="#000" stroke-width="1.1" fill="none" />
<path d="M853.4 541.4 L905 582.7" stroke="#000" stroke-width="1.1" fill="none" />
<path d="M325.7 325.9 L429.2 408.7" stroke="#000" stroke-width="1.1" fill="none" />
<path d="M434.4 412.8 L439.6 417" stroke="#000" stroke-width="1.1" fill="none" />
<path d="M444.8 421.1 L499.2 464.7" stroke="#000" stroke-width="1.1" fill="none" />
<path d="M503.4 468 L508.6 472.2" stroke="#000" stroke-width="1.1" fill="none" />
<path d="M513.9 476.4 L568.2 519.9" stroke="#000" stroke-width="1.1" fill="none" />
<path d="M572.4 523.2 L577.7 527.5" stroke="#000" stroke-width="1.1" fill="none" />
<path d="M581.8 530.7 L620.5 561.7" stroke="#000" stroke-width="1.1" fill="none" />
<path d="M665.5 597.7 L715.5 637.7" stroke="#000" stroke-width="1.1" fill="none" />
<path d="M736.5 654.5 L772.3 683.1" stroke="#000" stroke-width="1.1" fill="none" />
<path d="M778.1 687.8 L784.8 693.1" stroke="#000" stroke-width="1.1" fill="none" />
<path d="M788.7 696.3 L841.8 738.7" stroke="#000" stroke-width="1.1" fill="none" />
<path d="M652.5 310.6 L634.4 350.8" stroke="#000" stroke-width="1.1" fill="none" />
<path d="M500.9 401.4 L482.9 440.5" stroke="#000" stroke-width="1.1" fill="none" />
<path d="M867.6 462.2 L849.9 501.3" stroke="#000" stroke-width="1.1" fill="none" />
<path d="M753.5 577 L735.6 617" stroke="#000" stroke-width="1.1" fill="none" />
<ellipse cx="837.2" cy="528.5" rx="20.3" ry="29.1" transform="rotate(38.7 837.2 528.5)" fill="#fff" stroke="#000" stroke-width="1.1" />
<ellipse cx="836" cy="527.4" rx="20.3" ry="29.1" transform="rotate(38.7 836 527.4)" fill="#fff" stroke="#000" stroke-width="2" />
<ellipse cx="835.5" cy="527" rx="12.2" ry="16.6" transform="rotate(38.7 835.5 527)" fill="none" stroke="#000" stroke-width="1.1" />
<path d="M826.1 541.6 A12.2 16.6 38.66 0 1 847.9 514.2" fill="none" stroke="#000" stroke-width="1.1"/>
<ellipse cx="720.4" cy="641.8" rx="20.3" ry="29.1" transform="rotate(38.7 720.4 641.8)" fill="#fff" stroke="#000" stroke-width="1.1" />
<ellipse cx="719.2" cy="640.7" rx="20.3" ry="29.1" transform="rotate(38.7 719.2 640.7)" fill="#fff" stroke="#000" stroke-width="2" />
<ellipse cx="718.7" cy="640.3" rx="12.2" ry="16.6" transform="rotate(38.7 718.7 640.3)" fill="none" stroke="#000" stroke-width="1.1" />
<path d="M709.3 654.9 A12.2 16.6 38.66 0 1 731.1 627.5" fill="none" stroke="#000" stroke-width="1.1"/>
<path d="M827.6 520.8 L833.6 525.6" stroke="#000" stroke-width="1.1" fill="none" />
<path d="M837.9 529 L844.2 534.1" stroke="#000" stroke-width="1.1" fill="none" />
<path d="M709.5 632.9 L715.5 637.7" stroke="#000" stroke-width="1.1" fill="none" />
<path d="M721 642.1 L728 647.7" stroke="#000" stroke-width="1.1" fill="none" />
<g opacity="0.999">
<text transform="translate(654.8 304) scale(1.17 1)" font-size="31" text-anchor="middle">2</text>
<text transform="translate(505.4 391.3) scale(1.17 1)" font-size="31" text-anchor="middle">1</text>
<text transform="translate(870.5 450.6) scale(1.17 1)" font-size="31" text-anchor="middle">3</text>
<text transform="translate(757.1 562.4) scale(1.17 1)" font-size="31" text-anchor="middle">3</text>
<text transform="translate(901.9 634.8) scale(1.17 1)" font-size="31" text-anchor="middle">4</text>
<text transform="translate(166.8 649.8) scale(1.17 1)" font-size="31" text-anchor="middle">14</text>
<text transform="translate(235.4 693.3) scale(1.17 1)" font-size="31" text-anchor="middle">13</text>
<text transform="translate(279.6 719.8) scale(1.17 1)" font-size="31" text-anchor="middle">12</text>
<text transform="translate(369 917.9) scale(1.17 1)" font-size="31" text-anchor="middle">11</text>
<text transform="translate(616.7 1048.9) scale(1.17 1)" font-size="31" text-anchor="middle">10</text>
<text transform="translate(497 1084.3) scale(1.17 1)" font-size="31" text-anchor="middle">9</text>
<text transform="translate(399.6 1152.4) scale(1.17 1)" font-size="31" text-anchor="middle">9</text>
<text transform="translate(630.3 1253.3) scale(1.17 1)" font-size="31" text-anchor="middle">8</text>
<text transform="translate(800.5 1346.3) scale(1.17 1)" font-size="31" text-anchor="middle">8</text>
<text transform="translate(936.5 1290.2) scale(1.17 1)" font-size="31" text-anchor="middle">7, 15</text>
<text transform="translate(1086.2 1178) scale(1.17 1)" font-size="31" text-anchor="middle">6</text>
<text transform="translate(1150.4 1211) scale(1.17 1)" font-size="31" text-anchor="middle">5</text>
</g>
</svg></body></html>
